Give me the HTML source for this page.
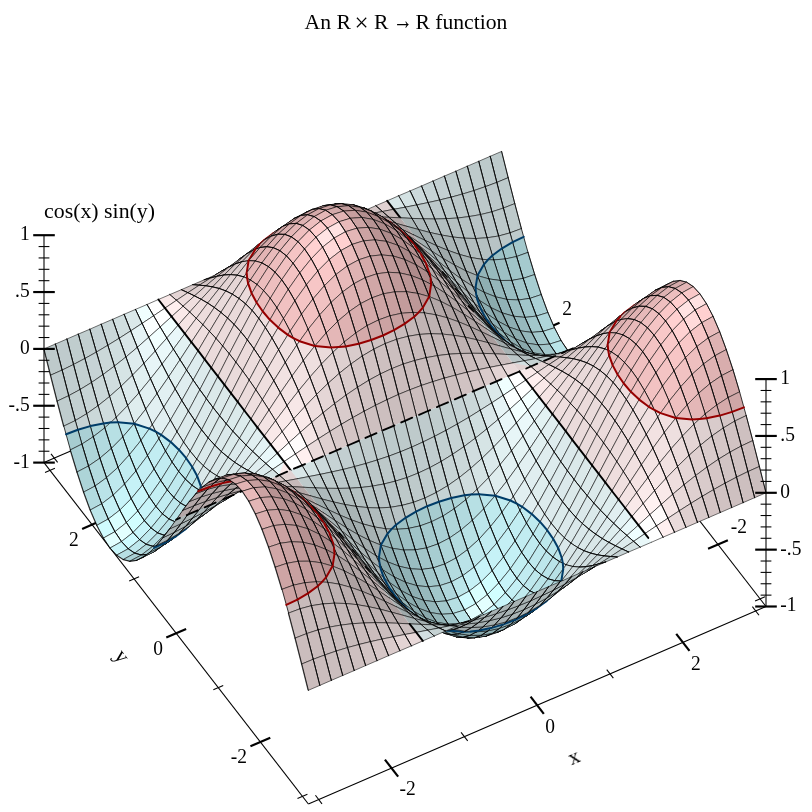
<!DOCTYPE html>
<html><head><meta charset="utf-8"><title>An R × R → R function</title>
<style>html,body{margin:0;padding:0;background:#fff}body{width:812px;height:812px;position:relative;overflow:hidden;font-family:"Liberation Serif",serif}
#surf path{stroke-width:0.55}#surf path.n{stroke:none}#surf path.b{stroke-width:0.78}
svg text{font-family:"Liberation Serif",serif;font-size:21.65px;fill:#000}</style></head><body>
<svg width="812" height="812" viewBox="0 0 812 812" style="position:absolute;left:0;top:0">
<g stroke-linecap="butt" opacity="0.999"><text x="304.6" y="28.7">An R </text><text x="354.6" y="31.2" style="font-size:25px">× </text><text x="374.0" y="28.7">R </text><text transform="translate(393.2,28.5) scale(0.75,1)" style="font-size:26px">→ </text><text x="415.4" y="28.7">R function</text>
<text transform="translate(44.0,217.6) scale(1.01,1)" text-anchor="start">cos(x) sin(y)</text>
<text transform="translate(574.6,758.6) rotate(-23.35)" text-anchor="middle" dy="5">x</text>
<text transform="translate(119.0,658.5) rotate(52.24)" text-anchor="middle" dy="3">y</text>
<line x1="308.40" y1="804.00" x2="766.00" y2="606.50" stroke="#000" stroke-width="1.08"/>
<line x1="308.40" y1="804.00" x2="44.00" y2="462.60" stroke="#000" stroke-width="1.08"/>
<line x1="766.00" y1="606.50" x2="501.60" y2="265.10" stroke="#000" stroke-width="1.08"/>
<line x1="44.00" y1="462.60" x2="501.60" y2="265.10" stroke="#000" stroke-width="1.08"/>
<line x1="322.02" y1="803.82" x2="315.41" y2="795.28" stroke="#000" stroke-width="1.08"/>
<line x1="57.62" y1="462.42" x2="51.01" y2="453.88" stroke="#000" stroke-width="1.08"/>
<line x1="398.15" y1="776.65" x2="384.93" y2="759.58" stroke="#000" stroke-width="2.17"/>
<line x1="133.75" y1="435.25" x2="120.53" y2="418.18" stroke="#000" stroke-width="2.17"/>
<text transform="translate(399.5,795.4) scale(0.9,1)" text-anchor="start">-2</text>
<text transform="translate(119.1,414.7) scale(0.9,1)" text-anchor="end">-2</text>
<line x1="467.68" y1="740.95" x2="461.06" y2="732.41" stroke="#000" stroke-width="1.08"/>
<line x1="203.28" y1="399.55" x2="196.66" y2="391.01" stroke="#000" stroke-width="1.08"/>
<line x1="543.81" y1="713.79" x2="530.59" y2="696.71" stroke="#000" stroke-width="2.17"/>
<line x1="279.41" y1="372.39" x2="266.19" y2="355.31" stroke="#000" stroke-width="2.17"/>
<text transform="translate(545.2,732.5) scale(0.9,1)" text-anchor="start">0</text>
<text transform="translate(264.8,351.9) scale(0.9,1)" text-anchor="end">0</text>
<line x1="613.34" y1="678.09" x2="606.72" y2="669.55" stroke="#000" stroke-width="1.08"/>
<line x1="348.94" y1="336.69" x2="342.32" y2="328.15" stroke="#000" stroke-width="1.08"/>
<line x1="689.47" y1="650.92" x2="676.25" y2="633.85" stroke="#000" stroke-width="2.17"/>
<line x1="425.07" y1="309.52" x2="411.85" y2="292.45" stroke="#000" stroke-width="2.17"/>
<text transform="translate(690.9,669.7) scale(0.9,1)" text-anchor="start">2</text>
<text transform="translate(410.5,289.0) scale(0.9,1)" text-anchor="end">2</text>
<line x1="758.99" y1="615.22" x2="752.38" y2="606.68" stroke="#000" stroke-width="1.08"/>
<line x1="494.59" y1="273.82" x2="487.98" y2="265.28" stroke="#000" stroke-width="1.08"/>
<line x1="297.48" y1="798.45" x2="307.40" y2="794.17" stroke="#000" stroke-width="1.08"/>
<line x1="755.08" y1="600.95" x2="765.00" y2="596.67" stroke="#000" stroke-width="1.08"/>
<line x1="250.45" y1="746.25" x2="270.28" y2="737.69" stroke="#000" stroke-width="2.17"/>
<line x1="708.05" y1="548.75" x2="727.88" y2="540.19" stroke="#000" stroke-width="2.17"/>
<text transform="translate(247.1,763.3) scale(0.9,1)" text-anchor="end">-2</text>
<text transform="translate(730.7,532.5) scale(0.9,1)" text-anchor="start">-2</text>
<line x1="213.32" y1="689.78" x2="223.24" y2="685.50" stroke="#000" stroke-width="1.08"/>
<line x1="670.92" y1="492.28" x2="680.84" y2="488.00" stroke="#000" stroke-width="1.08"/>
<line x1="166.28" y1="637.58" x2="186.12" y2="629.02" stroke="#000" stroke-width="2.17"/>
<line x1="623.88" y1="440.08" x2="643.72" y2="431.52" stroke="#000" stroke-width="2.17"/>
<text transform="translate(162.9,654.6) scale(0.9,1)" text-anchor="end">0</text>
<text transform="translate(646.5,423.8) scale(0.9,1)" text-anchor="start">0</text>
<line x1="129.16" y1="581.10" x2="139.08" y2="576.82" stroke="#000" stroke-width="1.08"/>
<line x1="586.76" y1="383.60" x2="596.68" y2="379.32" stroke="#000" stroke-width="1.08"/>
<line x1="82.12" y1="528.91" x2="101.95" y2="520.35" stroke="#000" stroke-width="2.17"/>
<line x1="539.72" y1="331.41" x2="559.55" y2="322.85" stroke="#000" stroke-width="2.17"/>
<text transform="translate(78.7,545.9) scale(0.9,1)" text-anchor="end">2</text>
<text transform="translate(562.3,315.1) scale(0.9,1)" text-anchor="start">2</text>
<line x1="45.00" y1="472.43" x2="54.92" y2="468.15" stroke="#000" stroke-width="1.08"/>
<line x1="502.60" y1="274.93" x2="512.52" y2="270.65" stroke="#000" stroke-width="1.08"/></g>
<g id="surf" stroke="#000" fill="none" stroke-linecap="round">
<path d="M496.8 182.4l11.4-4.7-6.6-26.3-11.4 4.9z" fill="#bdcacb"/>
<path class=b d="M508.2 177.7l-6.6-26.3M490.2 156.3l6.6 26.1"/>
<path d="M485.3 186.7l11.5-4.3-6.6-26.1-11.5 5z" fill="#bdcacb"/>
<path class=b d="M496.8 182.4l-6.6-26.1M478.7 161.3l6.6 25.4"/>
<path d="M503.4 208.1l11.4-4.5-6.6-25.9-11.4 4.7z" fill="#bdcacb"/>
<path class=b d="M514.8 203.6l-6.6-25.9M496.8 182.4l6.6 25.7"/>
<path d="M473.9 190.6l11.4-3.9-6.6-25.4-11.4 4.9z" fill="#becacb"/>
<path class=b d="M485.3 186.7l-6.6-25.4M467.3 166.2l6.6 24.4"/>
<path d="M491.9 211.8l11.5-3.7-6.6-25.7-11.5 4.3z" fill="#bcc8ca"/>
<path class=b d="M503.4 208.1l-6.6-25.7M485.3 186.7l6.6 25.1"/>
<path d="M462.4 194.1l11.5-3.5-6.6-24.4-11.5 5z" fill="#bfcbcc"/>
<path class=b d="M473.9 190.6l-6.6-24.4M455.8 171.2l6.6 22.9"/>
<path d="M510 232.9l11.4-4.3-6.6-25-11.4 4.5z" fill="#becacb"/>
<path class=b d="M521.4 228.6l-6.6-25M503.4 208.1l6.6 24.8"/>
<path d="M480.5 214.6l11.4-2.8-6.6-25.1-11.4 3.9z" fill="#bcc8c9"/>
<path class=b d="M491.9 211.8l-6.6-25.1M473.9 190.6l6.6 24"/>
<path d="M451 197.2l11.4-3.1-6.6-22.9-11.4 4.9z" fill="#c0cdce"/>
<path class=b d="M462.4 194.1l-6.6-22.9M444.4 176.1l6.6 21.1"/>
<path d="M498.6 236l11.4-3.1-6.6-24.8-11.5 3.7z" fill="#bcc8c9"/>
<path class=b d="M510 232.9l-6.6-24.8M491.9 211.8l6.7 24.2"/>
<path d="M469.1 216.6l11.4-2-6.6-24-11.5 3.5z" fill="#bbc7c8"/>
<path class=b d="M480.5 214.6l-6.6-24M462.4 194.1l6.7 22.5"/>
<path d="M439.6 200l11.4-2.8-6.6-21.1-11.4 4.9z" fill="#c3cfd1"/>
<path class=b d="M451 197.2l-6.6-21.1M433 181l6.6 19"/>
<path class=n d="M516.6 256.5l11.4-4.1-4.3-15.6-11.1 5.3z" fill="#a3c8cc"/>
<path class=n d="M523.7 236.8l-2.3-8.2-11.4 4.3 2.6 9.2z" fill="#bfcbcc"/>
<path d="M516.6 256.5l11.4-4.1M521.4 228.6l-11.4 4.3"/>
<path class=b d="M528 252.4l-6.6-23.8M510 232.9l6.6 23.6"/>
<line x1="523.7" y1="236.8" x2="512.6" y2="242.1" stroke="#003c68" stroke-width="2.0" stroke-linecap="round"/>
<path d="M487.1 237.8l11.5-1.8-6.7-24.2-11.4 2.8z" fill="#b9c5c7"/>
<path class=b d="M498.6 236l-6.7-24.2M480.5 214.6l6.6 23.2"/>
<path d="M457.6 218l11.5-1.4-6.7-22.5-11.4 3.1z" fill="#bbc7c8"/>
<path class=b d="M469.1 216.6l-6.7-22.5M451 197.2l6.6 20.8"/>
<path d="M428.1 202.6l11.5-2.6-6.6-19-11.5 5z" fill="#c6d3d5"/>
<path class=b d="M439.6 200l-6.6-19M421.5 186l6.6 16.6"/>
<path class=n d="M505.2 259l11.4-2.5-4-14.4-10.5 6.2z" fill="#a0c5c8"/>
<path class=n d="M512.6 242.1l-2.6-9.2-11.4 3.1 3.5 12.3z" fill="#bbc7c8"/>
<path d="M505.2 259l11.4-2.5M510 232.9l-11.4 3.1"/>
<path class=b d="M516.6 256.5l-6.6-23.6M498.6 236l6.6 23"/>
<line x1="512.6" y1="242.1" x2="502.1" y2="248.3" stroke="#003c68" stroke-width="2.0" stroke-linecap="round"/>
<path d="M475.7 238.5l11.4-.7-6.6-23.2-11.4 2z" fill="#b8c3c5"/>
<path class=b d="M487.1 237.8l-6.6-23.2M469.1 216.6l6.6 21.9"/>
<path d="M446.2 218.7l11.4-.7-6.6-20.8-11.4 2.8z" fill="#bbc8c9"/>
<path class=b d="M457.6 218l-6.6-20.8M439.6 200l6.6 18.7"/>
<path d="M523.2 278.4l11.5-3.9-6.7-22.1-11.4 4.1z" fill="#a5cace"/>
<path class=b d="M534.7 274.5l-6.7-22.1M516.6 256.5l6.6 21.9"/>
<path d="M416.7 204.9l11.4-2.3-6.6-16.6-11.4 4.9z" fill="#ccd9db"/>
<path class=b d="M428.1 202.6l-6.6-16.6M410.1 190.9l6.6 14"/>
<path class=n d="M493.7 259.9l11.5-.9-3.1-10.7-9.7 7.2z" fill="#9dc1c5"/>
<path class=n d="M502.1 248.3l-3.5-12.3-11.5 1.8 5.3 17.7z" fill="#b8c3c5"/>
<path d="M493.7 259.9l11.5-.9M498.6 236l-11.5 1.8"/>
<path class=b d="M505.2 259l-6.6-23M487.1 237.8l6.6 22.1"/>
<line x1="502.1" y1="248.3" x2="492.4" y2="255.5" stroke="#003c68" stroke-width="2.0" stroke-linecap="round"/>
<path d="M464.2 238.2l11.5 .3-6.6-21.9-11.5 1.4z" fill="#b6c2c3"/>
<path class=b d="M475.7 238.5l-6.6-21.9M457.6 218l6.6 20.2"/>
<path d="M434.7 219l11.5-.3-6.6-18.7-11.5 2.6z" fill="#bcc8ca"/>
<path class=b d="M446.2 218.7l-6.6-18.7M428.1 202.6l6.6 16.4"/>
<path d="M511.8 280.4l11.4-2-6.6-21.9-11.4 2.5z" fill="#a0c4c8"/>
<path class=b d="M523.2 278.4l-6.6-21.9M505.2 259l6.6 21.4"/>
<path d="M405.2 207.2l11.5-2.3-6.6-14-11.5 4.9z" fill="#d4e2e3"/>
<path class=b d="M416.7 204.9l-6.6-14M398.6 195.8l6.6 11.4"/>
<path class=n d="M488.1 259.6l5.6 .3-1.3-4.4z" fill="#9abdc1"/>
<path class=n d="M482.3 259.4l5.8 .2 4.3-4.1-5.3-17.7-11.4 .7z" fill="#b4c0c1"/>
<path d="M482.3 259.4l11.4 .5M487.1 237.8l-11.4 .7"/>
<path class=b d="M493.7 259.9l-6.6-22.1M475.7 238.5l6.6 20.9"/>
<line x1="488.1" y1="259.6" x2="492.4" y2="255.5" stroke="#003c68" stroke-width="2.0" stroke-linecap="round"/>
<path d="M452.8 237l11.4 1.2-6.6-20.2-11.4 .7z" fill="#b4c0c1"/>
<path class=b d="M464.2 238.2l-6.6-20.2M446.2 218.7l6.6 18.3"/>
<path d="M529.8 298.4l11.5-3.8-6.6-20.1-11.5 3.9z" fill="#a7cdd1"/>
<path class=b d="M541.3 294.6l-6.6-20.1M523.2 278.4l6.6 20"/>
<path d="M423.3 218.8l11.4 .2-6.6-16.4-11.4 2.3z" fill="#becacb"/>
<path class=b d="M434.7 219l-6.6-16.4M416.7 204.9l6.6 13.9"/>
<path d="M500.3 280.5l11.5-.1-6.6-21.4-11.5 .9z" fill="#9cbfc3"/>
<path class=b d="M511.8 280.4l-6.6-21.4M493.7 259.9l6.6 20.6"/>
<path class=n d="M393.8 209.3l11.4-2.1-6.6-11.4-11.4 5z" fill="#d9e7e8"/>
<path class=n d="M393.8 209.3l0 0-6.6-8.5 0 0z" fill="#e8d9d9"/>
<path d="M393.8 209.3l11.4-2.1M398.6 195.8l-11.4 5"/>
<path class=b d="M405.2 207.2l-6.6-11.4"/>
<path d="M470.8 257.5l11.5 1.9-6.6-20.9-11.5-.3z" fill="#b1bcbd"/>
<path class=b d="M482.3 259.4l-6.6-20.9M464.2 238.2l6.6 19.3"/>
<path d="M441.4 235l11.4 2-6.6-18.3-11.5 .3z" fill="#b2bebf"/>
<path class=b d="M452.8 237l-6.6-18.3M434.7 219l6.7 16"/>
<path d="M518.4 300l11.4-1.6-6.6-20-11.4 2z" fill="#a1c5c9"/>
<path class=b d="M529.8 298.4l-6.6-20M511.8 280.4l6.6 19.6"/>
<path d="M411.9 218.4l11.4 .4-6.6-13.9-11.5 2.3z" fill="#bfcbcc"/>
<path class=b d="M423.3 218.8l-6.6-13.9M405.2 207.2l6.7 11.2"/>
<path class=n d="M488.9 278.9l11.4 1.6-6.6-20.6-5.6-.3-4.1 4.7z" fill="#98babd"/>
<path class=n d="M488.1 259.6l-5.8-.2 1.7 4.9z" fill="#b1bcbd"/>
<path d="M488.9 278.9l11.4 1.6M493.7 259.9l-11.4-.5"/>
<path class=b d="M500.3 280.5l-6.6-20.6M482.3 259.4l6.6 19.5"/>
<line x1="488.1" y1="259.6" x2="484.0" y2="264.3" stroke="#003c68" stroke-width="2.0" stroke-linecap="round"/>
<path class=n d="M382.4 211.5l11.4-2.2-6.6-8.5-11.4 4.9z" fill="#e1d2d2"/>
<path d="M382.4 211.5l11.4-2.2M387.2 200.8l-11.4 4.9"/>
<path class=b d="M375.8 205.7l6.6 5.8"/>
<path d="M459.4 254.4l11.4 3.1-6.6-19.3-11.4-1.2z" fill="#adb8ba"/>
<path class=b d="M470.8 257.5l-6.6-19.3M452.8 237l6.6 17.4"/>
<path d="M536.4 316.1l11.5-3.6-6.6-17.9-11.5 3.8z" fill="#aad0d5"/>
<path class=b d="M547.9 312.5l-6.6-17.9M529.8 298.4l6.6 17.7"/>
<path d="M429.9 232.5l11.5 2.5-6.7-16-11.4-.2z" fill="#b1bcbd"/>
<path class=b d="M441.4 235l-6.7-16M423.3 218.8l6.6 13.7"/>
<path d="M506.9 299.4l11.5 .6-6.6-19.6-11.5 .1z" fill="#9abdc1"/>
<path class=b d="M518.4 300l-6.6-19.6M500.3 280.5l6.6 18.9"/>
<path class=n d="M400.4 217.8l11.5 .6-6.7-11.2-11.4 2.1z" fill="#becacb"/>
<path class=n d="M400.4 217.8l0 0-6.6-8.5 0 0z" fill="#cbbebe"/>
<path d="M400.4 217.8l11.5 .6M405.2 207.2l-11.4 2.1"/>
<path class=b d="M411.9 218.4l-6.7-11.2"/>
<path class=n d="M477.4 275.6l11.5 3.3-4.9-14.6-6.6 11.3z" fill="#93b4b8"/>
<path class=n d="M477.4 275.6l0 0 6.6-11.3-1.7-4.9-11.5-1.9z" fill="#acb7b8"/>
<path d="M477.4 275.6l11.5 3.3M482.3 259.4l-11.5-1.9"/>
<path class=b d="M488.9 278.9l-6.6-19.5M470.8 257.5l6.6 18.1"/>
<line x1="477.5" y1="275.6" x2="484.0" y2="264.3" stroke="#003c68" stroke-width="2.0" stroke-linecap="round"/>
<line x1="393.8" y1="209.3" x2="387.2" y2="200.8" stroke="#000" stroke-width="1.9"/>
<path d="M370.9 213.7l11.5-2.2-6.6-5.8-11.5 5z" fill="#d3c5c5"/>
<path class=b d="M382.4 211.5l-6.6-5.8M364.3 210.7l6.6 3"/>
<path d="M448 250.4l11.4 4-6.6-17.4-11.4-2z" fill="#aab5b6"/>
<path class=b d="M459.4 254.4l-6.6-17.4M441.4 235l6.6 15.4"/>
<path d="M525 317.4l11.4-1.3-6.6-17.7-11.4 1.6z" fill="#a1c6ca"/>
<path class=b d="M536.4 316.1l-6.6-17.7M518.4 300l6.6 17.4"/>
<path d="M418.5 229.5l11.4 3-6.6-13.7-11.4-.4z" fill="#aeb9bb"/>
<path class=b d="M429.9 232.5l-6.6-13.7M411.9 218.4l6.6 11.1"/>
<path d="M495.5 296.8l11.4 2.6-6.6-18.9-11.4-1.6z" fill="#95b6ba"/>
<path class=b d="M506.9 299.4l-6.6-18.9M488.9 278.9l6.6 17.9"/>
<path class=n d="M389 217.3l11.4 .5-6.6-8.5-11.4 2.2z" fill="#c7baba"/>
<path d="M389 217.3l11.4 .5M393.8 209.3l-11.4 2.2"/>
<path class=b d="M382.4 211.5l6.6 5.8"/>
<path d="M466 271l11.4 4.6-6.6-18.1-11.4-3.1z" fill="#a7b2b3"/>
<path class=b d="M477.4 275.6l-6.6-18.1M459.4 254.4l6.6 16.6"/>
<path d="M359.5 216l11.4-2.3-6.6-3-11.4 4.9z" fill="#c8bbbb"/>
<path class=b d="M370.9 213.7l-6.6-3M352.9 215.6l6.6 .4"/>
<path d="M543 331.4l11.5-3.6-6.6-15.3-11.5 3.6z" fill="#afd6db"/>
<path class=b d="M554.5 327.8l-6.6-15.3M536.4 316.1l6.6 15.3"/>
<path d="M436.5 245.7l11.5 4.7-6.6-15.4-11.5-2.5z" fill="#a6b1b2"/>
<path class=b d="M448 250.4l-6.6-15.4M429.9 232.5l6.6 13.2"/>
<path d="M513.6 316.2l11.4 1.2-6.6-17.4-11.5-.6z" fill="#99bbbf"/>
<path class=b d="M525 317.4l-6.6-17.4M506.9 299.4l6.7 16.8"/>
<path class=n d="M407 226.4l11.5 3.1-6.6-11.1-11.5-.6z" fill="#abb6b7"/>
<path class=n d="M407 226.4l0 0-6.6-8.6 0 0z" fill="#b7abab"/>
<path d="M407 226.4l11.5 3.1M411.9 218.4l-11.5-.6"/>
<path class=b d="M418.5 229.5l-6.6-11.1"/>
<path d="M484.1 292.3l11.4 4.5-6.6-17.9-11.5-3.3z" fill="#8fafb3"/>
<path class=b d="M495.5 296.8l-6.6-17.9M477.4 275.6l6.7 16.7"/>
<line x1="477.5" y1="275.6" x2="477.5" y2="275.6" stroke="#003c68" stroke-width="2.0" stroke-linecap="round"/>
<line x1="400.4" y1="217.8" x2="393.8" y2="209.3" stroke="#000" stroke-width="1.9"/>
<path d="M377.5 216.9l11.5 .4-6.6-5.8-11.5 2.2z" fill="#c0b3b3"/>
<path class=b d="M389 217.3l-6.6-5.8M370.9 213.7l6.6 3.2"/>
<path d="M454.6 265.1l11.4 5.9-6.6-16.6-11.4-4z" fill="#a2adae"/>
<path class=b d="M466 271l-6.6-16.6M448 250.4l6.6 14.7"/>
<path d="M348 218.6l11.5-2.6-6.6-.4-11.5 4.9z" fill="#c0b3b3"/>
<path class=b d="M359.5 216l-6.6-.4M341.4 220.5l6.6-1.9"/>
<path d="M531.6 332.4l11.4-1-6.6-15.3-11.4 1.3z" fill="#a2c7cb"/>
<path class=b d="M543 331.4l-6.6-15.3M525 317.4l6.6 15"/>
<path d="M425.1 240.4l11.4 5.3-6.6-13.2-11.4-3z" fill="#a3adae"/>
<path class=b d="M436.5 245.7l-6.6-13.2M418.5 229.5l6.6 10.9"/>
<path d="M502.1 312.9l11.5 3.3-6.7-16.8-11.4-2.6z" fill="#91b2b6"/>
<path class=b d="M513.6 316.2l-6.7-16.8M495.5 296.8l6.6 16.1"/>
<path class=n d="M395.6 223.2l11.4 3.2-6.6-8.6-11.4-.5z" fill="#b4a8a8"/>
<path d="M395.6 223.2l11.4 3.2M400.4 217.8l-11.4-.5"/>
<path class=b d="M389 217.3l6.6 5.9"/>
<path class=n d="M475.5 287.8l8.6 4.5-6.7-16.7 0 0z" fill="#8aa9ad"/>
<path class=n d="M472.6 286.3l2.9 1.5 1.9-12.2 0 0-11.4-4.6z" fill="#a1acad"/>
<path d="M472.6 286.3l11.5 6M477.4 275.6l-11.4-4.6"/>
<path class=b d="M484.1 292.3l-6.7-16.7M466 271l6.6 15.3"/>
<line x1="475.5" y1="287.8" x2="477.5" y2="275.6" stroke="#003c68" stroke-width="2.0" stroke-linecap="round"/>
<path d="M366.1 216.7l11.4 .2-6.6-3.2-11.4 2.3z" fill="#bbaeae"/>
<path class=b d="M377.5 216.9l-6.6-3.2M359.5 216l6.6 .7"/>
<path d="M549.6 344.1l11.5-3.6-6.6-12.7-11.5 3.6z" fill="#b6dfe3"/>
<path class=b d="M561.1 340.5l-6.6-12.7M543 331.4l6.6 12.7"/>
<path d="M443.1 258.4l11.5 6.7-6.6-14.7-11.5-4.7z" fill="#9fa9aa"/>
<path class=b d="M454.6 265.1l-6.6-14.7M436.5 245.7l6.6 12.7"/>
<path d="M336.6 221.4l11.4-2.8-6.6 1.9-11.4 5z" fill="#bbafaf"/>
<path class=b d="M348 218.6l-6.6 1.9M330 225.5l6.6-4.1"/>
<path d="M520.2 330.8l11.4 1.6-6.6-15-11.4-1.2z" fill="#97b9bd"/>
<path class=b d="M531.6 332.4l-6.6-15M513.6 316.2l6.6 14.6"/>
<path class=n d="M413.6 234.9l11.5 5.5-6.6-10.9-11.5-3.1z" fill="#9faaab"/>
<path class=n d="M413.6 234.9l0 0-6.6-8.5 0 0z" fill="#ab9f9f"/>
<path d="M413.6 234.9l11.5 5.5M418.5 229.5l-11.5-3.1"/>
<path class=b d="M425.1 240.4l-6.6-10.9"/>
<path d="M490.7 307.5l11.4 5.4-6.6-16.1-11.4-4.5z" fill="#8babae"/>
<path class=b d="M502.1 312.9l-6.6-16.1M484.1 292.3l6.6 15.2"/>
<path d="M384.2 220.3l11.4 2.9-6.6-5.9-11.5-.4z" fill="#b1a5a5"/>
<path class=b d="M395.6 223.2l-6.6-5.9M377.5 216.9l6.7 3.4"/>
<path d="M461.2 278.9l11.4 7.4-6.6-15.3-11.4-5.9z" fill="#a1abac"/>
<path class=b d="M472.6 286.3l-6.6-15.3M454.6 265.1l6.6 13.8"/>
<path d="M354.7 216.9l11.4-.2-6.6-.7-11.5 2.6z" fill="#b7aaaa"/>
<path class=b d="M366.1 216.7l-6.6-.7M348 218.6l6.7-1.7"/>
<path d="M538.2 344.9l11.4-.8-6.6-12.7-11.4 1z" fill="#a3c8cc"/>
<path class=b d="M549.6 344.1l-6.6-12.7M531.6 332.4l6.6 12.5"/>
<path d="M431.7 251.1l11.4 7.3-6.6-12.7-11.4-5.3z" fill="#a3adae"/>
<path class=b d="M443.1 258.4l-6.6-12.7M425.1 240.4l6.6 10.7"/>
<path d="M325.2 224.5l11.4-3.1-6.6 4.1-11.4 4.9z" fill="#b8acac"/>
<path class=b d="M336.6 221.4l-6.6 4.1M318.6 230.4l6.6-5.9"/>
<path d="M508.7 326.9l11.5 3.9-6.6-14.6-11.5-3.3z" fill="#8eaeb2"/>
<path class=b d="M520.2 330.8l-6.6-14.6M502.1 312.9l6.6 14"/>
<path class=n d="M402.2 229.4l11.4 5.5-6.6-8.5-11.4-3.2z" fill="#aca0a0"/>
<path d="M402.2 229.4l11.4 5.5M407 226.4l-11.4-3.2"/>
<path class=b d="M395.6 223.2l6.6 6.2"/>
<path class=n d="M479.2 300.3l11.5 7.2-6.6-15.2-8.6-4.5 .5 5.6z" fill="#8aa9ac"/>
<path class=n d="M475.5 287.8l-2.9-1.5 3.4 7.1z" fill="#a1abac"/>
<path d="M479.2 300.3l11.5 7.2M484.1 292.3l-11.5-6"/>
<path class=b d="M490.7 307.5l-6.6-15.2M472.6 286.3l6.6 14"/>
<line x1="475.5" y1="287.8" x2="476.0" y2="293.4" stroke="#003c68" stroke-width="2.0" stroke-linecap="round"/>
<path d="M372.7 217.8l11.5 2.5-6.7-3.4-11.4-.2z" fill="#afa3a3"/>
<path class=b d="M384.2 220.3l-6.7-3.4M366.1 216.7l6.6 1.1"/>
<path d="M556.3 354l11.4-3.5-6.6-10-11.5 3.6z" fill="#bae4e8"/>
<path class=b d="M567.7 350.5l-6.6-10M549.6 344.1l6.7 9.9"/>
<path d="M449.7 270.5l11.5 8.4-6.6-13.8-11.5-6.7z" fill="#a5afb1"/>
<path class=b d="M461.2 278.9l-6.6-13.8M443.1 258.4l6.6 12.1"/>
<path d="M343.2 217.7l11.5-.8-6.7 1.7-11.4 2.8z" fill="#b4a8a8"/>
<path class=b d="M354.7 216.9l-6.7 1.7M336.6 221.4l6.6-3.7"/>
<path d="M526.8 343.1l11.4 1.8-6.6-12.5-11.4-1.6z" fill="#95b7bb"/>
<path class=b d="M538.2 344.9l-6.6-12.5M520.2 330.8l6.6 12.3"/>
<path class=n d="M420.3 243.5l11.4 7.6-6.6-10.7-11.5-5.5z" fill="#a5b0b1"/>
<path class=n d="M420.3 243.5l0 0-6.7-8.6 0 0z" fill="#b1a5a5"/>
<path d="M420.3 243.5l11.4 7.6M425.1 240.4l-11.5-5.5"/>
<path class=b d="M431.7 251.1l-6.6-10.7"/>
<path d="M313.7 228l11.5-3.5-6.6 5.9-11.5 4.9z" fill="#b6aaaa"/>
<path class=b d="M325.2 224.5l-6.6 5.9M307.1 235.3l6.6-7.3"/>
<path d="M497.3 320.8l11.4 6.1-6.6-14-11.4-5.4z" fill="#88a7aa"/>
<path class=b d="M508.7 326.9l-6.6-14M490.7 307.5l6.6 13.3"/>
<path d="M390.8 224.1l11.4 5.3-6.6-6.2-11.4-2.9z" fill="#ada2a2"/>
<path class=b d="M402.2 229.4l-6.6-6.2M384.2 220.3l6.6 3.8"/>
<path class=n d="M477 298.6l2.2 1.7-3.2-6.9z" fill="#8eaeb1"/>
<path class=n d="M467.8 291.7l9.2 6.9-1-5.2-3.4-7.1-11.4-7.4z" fill="#a6b0b1"/>
<path d="M467.8 291.7l11.4 8.6M472.6 286.3l-11.4-7.4"/>
<path class=b d="M479.2 300.3l-6.6-14M461.2 278.9l6.6 12.8"/>
<line x1="477.0" y1="298.6" x2="476.0" y2="293.4" stroke="#003c68" stroke-width="2.0" stroke-linecap="round"/>
<path d="M361.3 215.8l11.4 2-6.6-1.1-11.4 .2z" fill="#aea2a2"/>
<path class=b d="M372.7 217.8l-6.6-1.1M354.7 216.9l6.6-1.1"/>
<path d="M544.8 354.8l11.5-.8-6.7-9.9-11.4 .8z" fill="#a3c7cb"/>
<path class=b d="M556.3 354l-6.7-9.9M538.2 344.9l6.6 9.9"/>
<path d="M438.3 261.4l11.4 9.1-6.6-12.1-11.4-7.3z" fill="#a8b3b4"/>
<path class=b d="M449.7 270.5l-6.6-12.1M431.7 251.1l6.6 10.3"/>
<path d="M331.8 219l11.4-1.3-6.6 3.7-11.4 3.1z" fill="#b3a7a7"/>
<path class=b d="M343.2 217.7l-6.6 3.7M325.2 224.5l6.6-5.5"/>
<path d="M515.3 338.8l11.5 4.3-6.6-12.3-11.5-3.9z" fill="#8babae"/>
<path class=b d="M526.8 343.1l-6.6-12.3M508.7 326.9l6.6 11.9"/>
<path class=n d="M408.8 235.8l11.5 7.7-6.7-8.6-11.4-5.5z" fill="#b3a7a7"/>
<path d="M408.8 235.8l11.5 7.7M413.6 234.9l-11.4-5.5"/>
<path class=b d="M402.2 229.4l6.6 6.4"/>
<path d="M302.3 231.9l11.4-3.9-6.6 7.3-11.4 5z" fill="#b5a9a9"/>
<path class=b d="M313.7 228l-6.6 7.3M295.7 240.3l6.6-8.4"/>
<path d="M485.8 312.9l11.5 7.9-6.6-13.3-11.5-7.2z" fill="#8dadb1"/>
<path class=b d="M497.3 320.8l-6.6-13.3M479.2 300.3l6.6 12.6"/>
<path d="M379.3 219.4l11.5 4.7-6.6-3.8-11.5-2.5z" fill="#aea2a2"/>
<path class=b d="M390.8 224.1l-6.6-3.8M372.7 217.8l6.6 1.6"/>
<path d="M562.9 361.1l11.4-3.5-6.6-7.1-11.4 3.5z" fill="#b4dce1"/>
<path class=b d="M574.3 357.6l-6.6-7.1M556.3 354l6.6 7.1"/>
<path d="M456.4 282l11.4 9.7-6.6-12.8-11.5-8.4z" fill="#a9b4b5"/>
<path class=b d="M467.8 291.7l-6.6-12.8M449.7 270.5l6.7 11.5"/>
<path d="M349.8 214.6l11.5 1.2-6.6 1.1-11.5 .8z" fill="#aea2a2"/>
<path class=b d="M361.3 215.8l-6.6 1.1M343.2 217.7l6.6-3.1"/>
<path d="M533.4 352.9l11.4 1.9-6.6-9.9-11.4-1.8z" fill="#93b4b7"/>
<path class=b d="M544.8 354.8l-6.6-9.9M526.8 343.1l6.6 9.8"/>
<path class=n d="M426.9 252l11.4 9.4-6.6-10.3-11.4-7.6z" fill="#aab5b6"/>
<path class=n d="M426.9 252l0 0-6.6-8.5 0 0z" fill="#b6aaaa"/>
<path d="M426.9 252l11.4 9.4M431.7 251.1l-11.4-7.6"/>
<path class=b d="M438.3 261.4l-6.6-10.3"/>
<path d="M320.3 221.1l11.5-2.1-6.6 5.5-11.5 3.5z" fill="#b2a7a7"/>
<path class=b d="M331.8 219l-6.6 5.5M313.7 228l6.6-6.9"/>
<path d="M503.9 332.3l11.4 6.5-6.6-11.9-11.4-6.1z" fill="#8babae"/>
<path class=b d="M515.3 338.8l-6.6-11.9M497.3 320.8l6.6 11.5"/>
<path d="M397.4 228.5l11.4 7.3-6.6-6.4-11.4-5.3z" fill="#b4a8a8"/>
<path class=b d="M408.8 235.8l-6.6-6.4M390.8 224.1l6.6 4.4"/>
<path d="M290.8 236.2l11.5-4.3-6.6 8.4-11.5 4.9z" fill="#b4a8a8"/>
<path class=b d="M302.3 231.9l-6.6 8.4M284.2 245.2l6.6-9"/>
<path class=n d="M480.5 308.4l5.3 4.5-6.6-12.6-2.2-1.7z" fill="#91b2b5"/>
<path class=n d="M474.4 303.3l6.1 5.1-3.5-9.8-9.2-6.9z" fill="#a9b4b5"/>
<path d="M474.4 303.3l11.4 9.6M479.2 300.3l-11.4-8.6"/>
<path class=b d="M485.8 312.9l-6.6-12.6M467.8 291.7l6.6 11.6"/>
<line x1="480.5" y1="308.4" x2="477.0" y2="298.6" stroke="#003c68" stroke-width="2.0" stroke-linecap="round"/>
<path d="M367.9 215.4l11.4 4-6.6-1.6-11.4-2z" fill="#ada2a2"/>
<path class=b d="M379.3 219.4l-6.6-1.6M361.3 215.8l6.6-.4"/>
<path d="M551.4 362l11.5-.9-6.6-7.1-11.5 .8z" fill="#9fc3c7"/>
<path class=b d="M562.9 361.1l-6.6-7.1M544.8 354.8l6.6 7.2"/>
<path d="M444.9 271.4l11.5 10.6-6.7-11.5-11.4-9.1z" fill="#acb7b8"/>
<path class=b d="M456.4 282l-6.7-11.5M438.3 261.4l6.6 10"/>
<path d="M338.4 214.2l11.4 .4-6.6 3.1-11.4 1.3z" fill="#aea3a3"/>
<path class=b d="M349.8 214.6l-6.6 3.1M331.8 219l6.6-4.8"/>
<path d="M521.9 348.5l11.5 4.4-6.6-9.8-11.5-4.3z" fill="#89a8ab"/>
<path class=b d="M533.4 352.9l-6.6-9.8M515.3 338.8l6.6 9.7"/>
<path class=n d="M415.4 242.5l11.5 9.5-6.6-8.5-11.5-7.7z" fill="#b8acac"/>
<path d="M415.4 242.5l11.5 9.5M420.3 243.5l-11.5-7.7"/>
<path class=b d="M408.8 235.8l6.6 6.7"/>
<path d="M308.9 223.9l11.4-2.8-6.6 6.9-11.4 3.9z" fill="#b3a7a7"/>
<path class=b d="M320.3 221.1l-6.6 6.9M302.3 231.9l6.6-8"/>
<path d="M492.4 323.8l11.5 8.5-6.6-11.5-11.5-7.9z" fill="#90b0b4"/>
<path class=b d="M503.9 332.3l-6.6-11.5M485.8 312.9l6.6 10.9"/>
<path d="M385.9 221.8l11.5 6.7-6.6-4.4-11.5-4.7z" fill="#b4a8a8"/>
<path class=b d="M397.4 228.5l-6.6-4.4M379.3 219.4l6.6 2.4"/>
<path d="M279.4 240.9l11.4-4.7-6.6 9-11.4 5z" fill="#b4a8a8"/>
<path class=b d="M290.8 236.2l-6.6 9M272.8 250.2l6.6-9.3"/>
<path d="M569.5 365.6l11.4-3.6-6.6-4.4-11.4 3.5z" fill="#a9cfd3"/>
<path class=b d="M580.9 362l-6.6-4.4M562.9 361.1l6.6 4.5"/>
<path d="M463 292.6l11.4 10.7-6.6-11.6-11.4-9.7z" fill="#acb7b8"/>
<path class=b d="M474.4 303.3l-6.6-11.6M456.4 282l6.6 10.6"/>
<path d="M356.4 212.3l11.5 3.1-6.6 .4-11.5-1.2z" fill="#aca0a0"/>
<path class=b d="M367.9 215.4l-6.6 .4M349.8 214.6l6.6-2.3"/>
<path d="M540 360.2l11.4 1.8-6.6-7.2-11.4-1.9z" fill="#90b1b4"/>
<path class=b d="M551.4 362l-6.6-7.2M533.4 352.9l6.6 7.3"/>
<path class=n d="M433.5 260.5l11.4 10.9-6.6-10-11.4-9.4z" fill="#adb9ba"/>
<path class=n d="M433.5 260.5l0 0-6.6-8.5 0 0z" fill="#baadad"/>
<path d="M433.5 260.5l11.4 10.9M438.3 261.4l-11.4-9.4"/>
<path class=b d="M444.9 271.4l-6.6-10"/>
<path d="M327 214.9l11.4-.7-6.6 4.8-11.5 2.1z" fill="#afa4a4"/>
<path class=b d="M338.4 214.2l-6.6 4.8M320.3 221.1l6.7-6.2"/>
<path d="M510.5 341.8l11.4 6.7-6.6-9.7-11.4-6.5z" fill="#8eaeb1"/>
<path class=b d="M521.9 348.5l-6.6-9.7M503.9 332.3l6.6 9.5"/>
<path d="M404 233.4l11.4 9.1-6.6-6.7-11.4-7.3z" fill="#b8acac"/>
<path class=b d="M415.4 242.5l-6.6-6.7M397.4 228.5l6.6 4.9"/>
<path d="M297.5 227.6l11.4-3.7-6.6 8-11.5 4.3z" fill="#b3a7a7"/>
<path class=b d="M308.9 223.9l-6.6 8M290.8 236.2l6.7-8.6"/>
<path class=n d="M485.5 317.7l6.9 6.1-6.6-10.9-5.3-4.5z" fill="#93b4b8"/>
<path class=n d="M481 313.8l4.5 3.9-5-9.3-6.1-5.1z" fill="#acb7b8"/>
<path d="M481 313.8l11.4 10M485.8 312.9l-11.4-9.6"/>
<path class=b d="M492.4 323.8l-6.6-10.9M474.4 303.3l6.6 10.5"/>
<line x1="485.5" y1="317.7" x2="480.5" y2="308.4" stroke="#003c68" stroke-width="2.0" stroke-linecap="round"/>
<path d="M374.5 215.9l11.4 5.9-6.6-2.4-11.4-4z" fill="#b3a7a7"/>
<path class=b d="M385.9 221.8l-6.6-2.4M367.9 215.4l6.6 .5"/>
<path d="M268 246.1l11.4-5.2-6.6 9.3-11.4 4.9z" fill="#b5a9a9"/>
<path class=b d="M279.4 240.9l-6.6 9.3M261.4 255.1l6.6-9"/>
<path d="M558 366.5l11.5-.9-6.6-4.5-11.5 .9z" fill="#9abcc0"/>
<path class=b d="M569.5 365.6l-6.6-4.5M551.4 362l6.6 4.5"/>
<path d="M451.5 281l11.5 11.6-6.6-10.6-11.5-10.6z" fill="#aeb9bb"/>
<path class=b d="M463 292.6l-6.6-10.6M444.9 271.4l6.6 9.6"/>
<path d="M345 210.5l11.4 1.8-6.6 2.3-11.4-.4z" fill="#aa9f9f"/>
<path class=b d="M356.4 212.3l-6.6 2.3M338.4 214.2l6.6-3.7"/>
<path d="M528.6 355.9l11.4 4.3-6.6-7.3-11.5-4.4z" fill="#89a8ac"/>
<path class=b d="M540 360.2l-6.6-7.3M521.9 348.5l6.7 7.4"/>
<path class=n d="M422 249.6l11.5 10.9-6.6-8.5-11.5-9.5z" fill="#bbaeae"/>
<path d="M422 249.6l11.5 10.9M426.9 252l-11.5-9.5"/>
<path class=b d="M415.4 242.5l6.6 7.1"/>
<path d="M315.5 216.8l11.5-1.9-6.7 6.2-11.4 2.8z" fill="#b1a5a5"/>
<path class=b d="M327 214.9l-6.7 6.2M308.9 223.9l6.6-7.1"/>
<path d="M499.1 333.2l11.4 8.6-6.6-9.5-11.5-8.5z" fill="#92b3b6"/>
<path class=b d="M510.5 341.8l-6.6-9.5M492.4 323.8l6.7 9.4"/>
<path d="M392.5 225l11.5 8.4-6.6-4.9-11.5-6.7z" fill="#b8acac"/>
<path class=b d="M404 233.4l-6.6-4.9M385.9 221.8l6.6 3.2"/>
<path d="M286 232.1l11.5-4.5-6.7 8.6-11.4 4.7z" fill="#b4a8a8"/>
<path class=b d="M297.5 227.6l-6.7 8.6M279.4 240.9l6.6-8.8"/>
<path d="M576.1 367.4l11.4-3.7-6.6-1.7-11.4 3.6z" fill="#a0c4c8"/>
<path class=b d="M587.5 363.7l-6.6-1.7M569.5 365.6l6.6 1.8"/>
<path d="M469.6 302.4l11.4 11.4-6.6-10.5-11.4-10.7z" fill="#aeb9bb"/>
<path class=b d="M481 313.8l-6.6-10.5M463 292.6l6.6 9.8"/>
<path class=n d="M363 211.3l11.5 4.6-6.6-.5-11.5-3.1 6.6-1z" fill="#b0a5a5"/>
<path class=n d="M363 211.3l0 0 0 0z" fill="#b08d8d"/>
<path d="M363 211.3l11.5 4.6M367.9 215.4l-11.5-3.1"/>
<path class=b d="M374.5 215.9l-6.6-.5M356.4 212.3l6.6-1"/>
<line x1="363.1" y1="211.3" x2="363.0" y2="211.3" stroke="#960000" stroke-width="2.0" stroke-linecap="round"/>
<path d="M256.5 251.6l11.5-5.5-6.6 9-11.5 4.9z" fill="#b6aaaa"/>
<path class=b d="M268 246.1l-6.6 9M249.9 260l6.6-8.4"/>
<path d="M546.6 365l11.4 1.5-6.6-4.5-11.4-1.8z" fill="#8eaeb1"/>
<path class=b d="M558 366.5l-6.6-4.5M540 360.2l6.6 4.8"/>
<path class=n d="M440.1 269.1l11.4 11.9-6.6-9.6-11.4-10.9z" fill="#b0bbbc"/>
<path class=n d="M440.1 269.1l0 0-6.6-8.6 0 0z" fill="#bcb0b0"/>
<path d="M440.1 269.1l11.4 11.9M444.9 271.4l-11.4-10.9"/>
<path class=b d="M451.5 281l-6.6-9.6"/>
<path class=n d="M339.2 210.2l5.8 .3-6.6 3.7-11.4 .7 5.2-4z" fill="#aca1a1"/>
<path class=n d="M333.6 209.9l5.6 .3-7 .7z" fill="#ac8a8a"/>
<path d="M333.6 209.9l11.4 .6M338.4 214.2l-11.4 .7"/>
<path class=b d="M345 210.5l-6.6 3.7M327 214.9l6.6-5"/>
<line x1="339.2" y1="210.2" x2="332.2" y2="210.9" stroke="#960000" stroke-width="2.0" stroke-linecap="round"/>
<path d="M517.1 349.4l11.5 6.5-6.7-7.4-11.4-6.7z" fill="#8fb0b3"/>
<path class=b d="M528.6 355.9l-6.7-7.4M510.5 341.8l6.6 7.6"/>
<path d="M410.6 239.1l11.4 10.5-6.6-7.1-11.4-9.1z" fill="#bbafaf"/>
<path class=b d="M422 249.6l-6.6-7.1M404 233.4l6.6 5.7"/>
<path d="M304.1 219.8l11.4-3-6.6 7.1-11.4 3.7z" fill="#b3a7a7"/>
<path class=b d="M315.5 216.8l-6.6 7.1M297.5 227.6l6.6-7.8"/>
<path class=n d="M491.6 326.5l7.5 6.7-6.7-9.4-6.9-6.1z" fill="#95b6ba"/>
<path class=n d="M487.6 322.9l4 3.6-6.1-8.8-4.5-3.9z" fill="#adb9ba"/>
<path d="M487.6 322.9l11.5 10.3M492.4 323.8l-11.4-10"/>
<path class=b d="M499.1 333.2l-6.7-9.4M481 313.8l6.6 9.1"/>
<line x1="491.6" y1="326.5" x2="485.5" y2="317.7" stroke="#003c68" stroke-width="2.0" stroke-linecap="round"/>
<path d="M381.1 217.7l11.4 7.3-6.6-3.2-11.4-5.9z" fill="#b6aaaa"/>
<path class=b d="M392.5 225l-6.6-3.2M374.5 215.9l6.6 1.8"/>
<path d="M274.6 237.5l11.4-5.4-6.6 8.8-11.4 5.2z" fill="#b6aaaa"/>
<path class=b d="M286 232.1l-6.6 8.8M268 246.1l6.6-8.6"/>
<path d="M564.6 368.6l11.5-1.2-6.6-1.8-11.5 .9z" fill="#95b7bb"/>
<path class=b d="M576.1 367.4l-6.6-1.8M558 366.5l6.6 2.1"/>
<path d="M458.1 290.2l11.5 12.2-6.6-9.8-11.5-11.6z" fill="#b0bbbc"/>
<path class=b d="M469.6 302.4l-6.6-9.8M451.5 281l6.6 9.2"/>
<path class=n d="M363 211.3l-6.6 1-11.4-1.8 1.7-.6z" fill="#aea2a2"/>
<path class=n d="M351.6 208l11.4 3.3 0 0-16.3-1.4z" fill="#ae8b8b"/>
<path d="M351.6 208l11.4 3.3M356.4 212.3l-11.4-1.8"/>
<path class=b d="M363 211.3l-6.6 1M345 210.5l6.6-2.5"/>
<line x1="363.0" y1="211.3" x2="346.7" y2="209.9" stroke="#960000" stroke-width="2.0" stroke-linecap="round"/>
<path d="M245.1 257.6l11.4-6-6.6 8.4-11.4 5z" fill="#b8abab"/>
<path class=b d="M256.5 251.6l-6.6 8.4M238.5 265l6.6-7.4"/>
<path d="M535.2 361.1l11.4 3.9-6.6-4.8-11.4-4.3z" fill="#8baaad"/>
<path class=b d="M546.6 365l-6.6-4.8M528.6 355.9l6.6 5.2"/>
<path class=n d="M428.6 257.1l11.5 12-6.6-8.6-11.5-10.9z" fill="#bdb0b0"/>
<path d="M428.6 257.1l11.5 12M433.5 260.5l-11.5-10.9"/>
<path class=b d="M422 249.6l6.6 7.5"/>
<path class=n d="M332.2 210.9l-5.2 4-11.5 1.9 3.6-3.2z" fill="#afa4a4"/>
<path class=n d="M322.1 210.9l11.5-1-1.4 1-13.1 2.7z" fill="#af8c8c"/>
<path d="M322.1 210.9l11.5-1M327 214.9l-11.5 1.9"/>
<path class=b d="M333.6 209.9l-6.6 5M315.5 216.8l6.6-5.9"/>
<line x1="332.2" y1="210.9" x2="319.1" y2="213.6" stroke="#960000" stroke-width="2.0" stroke-linecap="round"/>
<path d="M505.7 340.9l11.4 8.5-6.6-7.6-11.4-8.6z" fill="#93b4b8"/>
<path class=b d="M517.1 349.4l-6.6-7.6M499.1 333.2l6.6 7.7"/>
<path d="M399.2 229.3l11.4 9.8-6.6-5.7-11.5-8.4z" fill="#bbaeae"/>
<path class=b d="M410.6 239.1l-6.6-5.7M392.5 225l6.7 4.3"/>
<path d="M292.6 224.1l11.5-4.3-6.6 7.8-11.5 4.5z" fill="#b5a9a9"/>
<path class=b d="M304.1 219.8l-6.6 7.8M286 232.1l6.6-8"/>
<path d="M582.7 366.7l11.4-3.8-6.6 .8-11.4 3.7z" fill="#9abcc0"/>
<path class=b d="M594.1 362.9l-6.6 .8M576.1 367.4l6.6-.7"/>
<path d="M476.2 311.4l11.4 11.5-6.6-9.1-11.4-11.4z" fill="#b0bbbc"/>
<path class=b d="M487.6 322.9l-6.6-9.1M469.6 302.4l6.6 9"/>
<path class=n d="M378.2 216.1l2.9 1.6-6.6-1.8-11.5-4.6z" fill="#b4a8a8"/>
<path class=n d="M369.7 211.6l8.5 4.5-15.2-4.8 0 0z" fill="#b49090"/>
<path d="M369.7 211.6l11.4 6.1M374.5 215.9l-11.5-4.6"/>
<path class=b d="M381.1 217.7l-6.6-1.8M363 211.3l6.7 .3"/>
<line x1="378.2" y1="216.1" x2="363.1" y2="211.3" stroke="#960000" stroke-width="2.0" stroke-linecap="round"/>
<path d="M263.1 243.7l11.5-6.2-6.6 8.6-11.5 5.5z" fill="#b8acac"/>
<path class=b d="M274.6 237.5l-6.6 8.6M256.5 251.6l6.6-7.9"/>
<path d="M553.2 367.4l11.4 1.2-6.6-2.1-11.4-1.5z" fill="#8cacaf"/>
<path class=b d="M564.6 368.6l-6.6-2.1M546.6 365l6.6 2.4"/>
<path class=n d="M446.7 277.6l11.4 12.6-6.6-9.2-11.4-11.9z" fill="#b1bcbe"/>
<path class=n d="M446.7 277.6l0 0-6.6-8.5 0 0z" fill="#beb1b1"/>
<path d="M446.7 277.6l11.4 12.6M451.5 281l-11.4-11.9"/>
<path class=b d="M458.1 290.2l-6.6-9.2"/>
<path class=n d="M346.7 209.9l-1.7 .6-5.8-.3z" fill="#aa9f9f"/>
<path class=n d="M340.2 206.4l11.4 1.6-4.9 1.9-7.5 .3-5.6-.3z" fill="#aa8888"/>
<path d="M340.2 206.4l11.4 1.6M345 210.5l-11.4-.6"/>
<path class=b d="M351.6 208l-6.6 2.5M333.6 209.9l6.6-3.5"/>
<line x1="346.7" y1="209.9" x2="339.2" y2="210.2" stroke="#960000" stroke-width="2.0" stroke-linecap="round"/>
<path d="M233.7 264l11.4-6.4-6.6 7.4-11.5 4.9z" fill="#baaeae"/>
<path class=b d="M245.1 257.6l-6.6 7.4M227 269.9l6.7-5.9"/>
<path d="M523.7 355l11.5 6.1-6.6-5.2-11.5-6.5z" fill="#90b0b4"/>
<path class=b d="M535.2 361.1l-6.6-5.2M517.1 349.4l6.6 5.6"/>
<path d="M417.2 245.5l11.4 11.6-6.6-7.5-11.4-10.5z" fill="#bdb0b0"/>
<path class=b d="M428.6 257.1l-6.6-7.5M410.6 239.1l6.6 6.4"/>
<path class=n d="M319.1 213.6l-3.6 3.2-11.4 3 2.6-2.5z" fill="#b2a7a7"/>
<path class=n d="M310.7 213.3l11.4-2.4-3 2.7-12.4 3.7z" fill="#b28f8f"/>
<path d="M310.7 213.3l11.4-2.4M315.5 216.8l-11.4 3"/>
<path class=b d="M322.1 210.9l-6.6 5.9M304.1 219.8l6.6-6.5"/>
<line x1="319.1" y1="213.6" x2="306.7" y2="217.3" stroke="#960000" stroke-width="2.0" stroke-linecap="round"/>
<path class=n d="M498.7 334.8l7 6.1-6.6-7.7-7.5-6.7z" fill="#96b7bb"/>
<path class=n d="M494.2 330.8l4.5 4-7.1-8.3-4-3.6z" fill="#aebabb"/>
<path d="M494.2 330.8l11.5 10.1M499.1 333.2l-11.5-10.3"/>
<path class=b d="M505.7 340.9l-6.6-7.7M487.6 322.9l6.6 7.9"/>
<line x1="498.7" y1="334.8" x2="491.6" y2="326.5" stroke="#003c68" stroke-width="2.0" stroke-linecap="round"/>
<path class=n d="M390 222.4l9.2 6.9-6.7-4.3-11.4-7.3 3.4 1.5z" fill="#b9adad"/>
<path class=n d="M387.7 220.7l2.3 1.7-5.5-3.2z" fill="#b99494"/>
<path d="M387.7 220.7l11.5 8.6M392.5 225l-11.4-7.3"/>
<path class=b d="M399.2 229.3l-6.7-4.3M381.1 217.7l6.6 3"/>
<line x1="390.0" y1="222.4" x2="384.5" y2="219.2" stroke="#960000" stroke-width="2.0" stroke-linecap="round"/>
<path d="M281.2 229.7l11.4-5.6-6.6 8-11.4 5.4z" fill="#b8abab"/>
<path class=b d="M292.6 224.1l-6.6 8M274.6 237.5l6.6-7.8"/>
<path d="M571.3 368.2l11.4-1.5-6.6 .7-11.5 1.2z" fill="#92b3b7"/>
<path class=b d="M582.7 366.7l-6.6 .7M564.6 368.6l6.7-.4"/>
<path d="M464.7 299l11.5 12.4-6.6-9-11.5-12.2z" fill="#b1bcbe"/>
<path class=b d="M476.2 311.4l-6.6-9M458.1 290.2l6.6 8.8"/>
<path d="M358.2 207.2l11.5 4.4-6.7-.3-11.4-3.3z" fill="#b08d8d"/>
<path class=b d="M369.7 211.6l-6.7-.3M351.6 208l6.6-.8"/>
<path d="M251.7 250.7l11.4-7-6.6 7.9-11.4 6z" fill="#bbaeae"/>
<path class=b d="M263.1 243.7l-6.6 7.9M245.1 257.6l6.6-6.9"/>
<path d="M541.8 364.1l11.4 3.3-6.6-2.4-11.4-3.9z" fill="#8baaae"/>
<path class=b d="M553.2 367.4l-6.6-2.4M535.2 361.1l6.6 3"/>
<path class=n d="M435.2 265l11.5 12.6-6.6-8.5-11.5-12z" fill="#beb1b1"/>
<path d="M435.2 265l11.5 12.6M440.1 269.1l-11.5-12"/>
<path class=b d="M428.6 257.1l6.6 7.9"/>
<path d="M328.7 206.5l11.5-.1-6.6 3.5-11.5 1z" fill="#ae8b8b"/>
<path class=b d="M340.2 206.4l-6.6 3.5M322.1 210.9l6.6-4.4"/>
<path d="M222.2 270.8l11.5-6.8-6.7 5.9-11.4 4.9z" fill="#beb1b1"/>
<path class=b d="M233.7 264l-6.7 5.9M215.6 274.8l6.6-4"/>
<path d="M512.3 347l11.4 8-6.6-5.6-11.4-8.5z" fill="#93b5b8"/>
<path class=b d="M523.7 355l-6.6-5.6M505.7 340.9l6.6 6.1"/>
<path d="M405.8 234.8l11.4 10.7-6.6-6.4-11.4-9.8z" fill="#bcb0b0"/>
<path class=b d="M417.2 245.5l-6.6-6.4M399.2 229.3l6.6 5.5"/>
<path class=n d="M306.7 217.3l-2.6 2.5-11.5 4.3 2.3-2.3z" fill="#b6aaaa"/>
<path class=n d="M299.2 217.5l11.5-4.2-4 4-11.8 4.5z" fill="#b69292"/>
<path d="M299.2 217.5l11.5-4.2M304.1 219.8l-11.5 4.3"/>
<path class=b d="M310.7 213.3l-6.6 6.5M292.6 224.1l6.6-6.6"/>
<line x1="306.7" y1="217.3" x2="294.9" y2="221.8" stroke="#960000" stroke-width="2.0" stroke-linecap="round"/>
<path d="M589.3 363.8l11.5-4-6.7 3.1-11.4 3.8z" fill="#96b8bb"/>
<path class=b d="M600.8 359.8l-6.7 3.1M582.7 366.7l6.6-2.9"/>
<path d="M482.8 319.5l11.4 11.3-6.6-7.9-11.4-11.5z" fill="#b0bcbd"/>
<path class=b d="M494.2 330.8l-6.6-7.9M476.2 311.4l6.6 8.1"/>
<path class=n d="M384.5 219.2l-3.4-1.5-2.9-1.6z" fill="#b6aaaa"/>
<path class=n d="M376.3 213.6l11.4 7.1-3.2-1.5-6.3-3.1-8.5-4.5z" fill="#b69292"/>
<path d="M376.3 213.6l11.4 7.1M381.1 217.7l-11.4-6.1"/>
<path class=b d="M387.7 220.7l-6.6-3M369.7 211.6l6.6 2"/>
<line x1="384.5" y1="219.2" x2="378.2" y2="216.1" stroke="#960000" stroke-width="2.0" stroke-linecap="round"/>
<path d="M269.7 236.5l11.5-6.8-6.6 7.8-11.5 6.2z" fill="#bbaeae"/>
<path class=b d="M281.2 229.7l-6.6 7.8M263.1 243.7l6.6-7.2"/>
<path d="M559.8 367.7l11.5 .5-6.7 .4-11.4-1.2z" fill="#8babae"/>
<path class=b d="M571.3 368.2l-6.7 .4M553.2 367.4l6.6 .3"/>
<path class=n d="M453.3 286.1l11.4 12.9-6.6-8.8-11.4-12.6z" fill="#b2bdbe"/>
<path class=n d="M453.3 286.1l0 0-6.6-8.5 0 0z" fill="#beb2b2"/>
<path d="M453.3 286.1l11.4 12.9M458.1 290.2l-11.4-12.6"/>
<path class=b d="M464.7 299l-6.6-8.8"/>
<path d="M346.8 204.6l11.4 2.6-6.6 .8-11.4-1.6z" fill="#ac8989"/>
<path class=b d="M358.2 207.2l-6.6 .8M340.2 206.4l6.6-1.8"/>
<path d="M240.3 258.5l11.4-7.8-6.6 6.9-11.4 6.4z" fill="#bfb2b2"/>
<path class=b d="M251.7 250.7l-6.6 6.9M233.7 264l6.6-5.5"/>
<path d="M530.3 358.7l11.5 5.4-6.6-3-11.5-6.1z" fill="#90b0b4"/>
<path class=b d="M541.8 364.1l-6.6-3M523.7 355l6.6 3.7"/>
<line x1="446.7" y1="277.6" x2="442.3" y2="271.9" stroke="#000" stroke-width="1.9"/>
<path d="M423.8 252.8l11.4 12.2-6.6-7.9-11.4-11.6z" fill="#beb1b1"/>
<path class=b d="M435.2 265l-6.6-7.9M417.2 245.5l6.6 7.3"/>
<path d="M317.3 208.5l11.4-2-6.6 4.4-11.4 2.4z" fill="#b38f8f"/>
<path class=b d="M328.7 206.5l-6.6 4.4M310.7 213.3l6.6-4.8"/>
<path d="M210.8 277.9l11.4-7.1-6.6 4-11.4 5z" fill="#c3b6b6"/>
<path class=b d="M222.2 270.8l-6.6 4M204.2 279.8l6.6-1.9"/>
<path class=n d="M507 342.6l5.3 4.4-6.6-6.1-7-6.1z" fill="#96b8bb"/>
<path class=n d="M500.8 337.5l6.2 5.1-8.3-7.8-4.5-4z" fill="#afbabb"/>
<path d="M500.8 337.5l11.5 9.5M505.7 340.9l-11.5-10.1"/>
<path class=b d="M512.3 347l-6.6-6.1M494.2 330.8l6.6 6.7"/>
<line x1="507.0" y1="342.6" x2="498.7" y2="334.8" stroke="#003c68" stroke-width="2.0" stroke-linecap="round"/>
<path class=n d="M399.6 229.7l6.2 5.1-6.6-5.5-9.2-6.9z" fill="#bbaeae"/>
<path class=n d="M394.3 225.2l5.3 4.5-9.6-7.3-2.3-1.7z" fill="#bb9595"/>
<path d="M394.3 225.2l11.5 9.6M399.2 229.3l-11.5-8.6"/>
<path class=b d="M405.8 234.8l-6.6-5.5M387.7 220.7l6.6 4.5"/>
<line x1="399.6" y1="229.7" x2="390.0" y2="222.4" stroke="#960000" stroke-width="2.0" stroke-linecap="round"/>
<path class=n d="M294.9 221.8l-2.3 2.3-11.4 5.6 2.6-2.5z" fill="#baaeae"/>
<path class=n d="M287.8 223.2l11.4-5.7-4.3 4.3-11.1 5.4z" fill="#ba9595"/>
<path d="M287.8 223.2l11.4-5.7M292.6 224.1l-11.4 5.6"/>
<path class=b d="M299.2 217.5l-6.6 6.6M281.2 229.7l6.6-6.5"/>
<line x1="294.9" y1="221.8" x2="283.8" y2="227.2" stroke="#960000" stroke-width="2.0" stroke-linecap="round"/>
<path d="M577.9 365.8l11.4-2-6.6 2.9-11.4 1.5z" fill="#90b1b4"/>
<path class=b d="M589.3 363.8l-6.6 2.9M571.3 368.2l6.6-2.4"/>
<path d="M471.4 307.3l11.4 12.2-6.6-8.1-11.5-12.4z" fill="#b1bdbe"/>
<path class=b d="M482.8 319.5l-6.6-8.1M464.7 299l6.7 8.3"/>
<path d="M364.8 208.2l11.5 5.4-6.6-2-11.5-4.4z" fill="#b38f8f"/>
<path class=b d="M376.3 213.6l-6.6-2M358.2 207.2l6.6 1"/>
<path d="M258.3 244.6l11.4-8.1-6.6 7.2-11.4 7z" fill="#bfb2b2"/>
<path class=b d="M269.7 236.5l-6.6 7.2M251.7 250.7l6.6-6.1"/>
<path d="M548.4 365.1l11.4 2.6-6.6-.3-11.4-3.3z" fill="#8baaad"/>
<path class=b d="M559.8 367.7l-6.6-.3M541.8 364.1l6.6 1"/>
<path class=n d="M441.9 273.3l11.4 12.8-6.6-8.5-11.5-12.6z" fill="#beb2b2"/>
<path d="M441.9 273.3l11.4 12.8M446.7 277.6l-11.5-12.6"/>
<path class=b d="M435.2 265l6.7 8.3"/>
<path d="M335.3 204l11.5 .6-6.6 1.8-11.5 .1z" fill="#ae8b8b"/>
<path class=b d="M346.8 204.6l-6.6 1.8M328.7 206.5l6.6-2.5"/>
<path d="M228.8 267.1l11.5-8.6-6.6 5.5-11.5 6.8z" fill="#c3b6b6"/>
<path class=b d="M240.3 258.5l-6.6 5.5M222.2 270.8l6.6-3.7"/>
<path d="M518.9 351.5l11.4 7.2-6.6-3.7-11.4-8z" fill="#93b4b8"/>
<path class=b d="M530.3 358.7l-6.6-3.7M512.3 347l6.6 4.5"/>
<path d="M412.4 241.4l11.4 11.4-6.6-7.3-11.4-10.7z" fill="#bdb0b0"/>
<path class=b d="M423.8 252.8l-6.6-7.3M405.8 234.8l6.6 6.6"/>
<path d="M305.9 212.4l11.4-3.9-6.6 4.8-11.5 4.2z" fill="#b89393"/>
<path class=b d="M317.3 208.5l-6.6 4.8M299.2 217.5l6.7-5.1"/>
<path d="M595.9 358.9l11.5-4.1-6.6 5-11.5 4z" fill="#93b4b8"/>
<path class=b d="M607.4 354.8l-6.6 5M589.3 363.8l6.6-4.9"/>
<path d="M199.3 285.2l11.5-7.3-6.6 1.9-11.5 4.9z" fill="#cabcbc"/>
<path class=b d="M210.8 277.9l-6.6 1.9M192.7 284.7l6.6 .5"/>
<path d="M489.4 326.7l11.4 10.8-6.6-6.7-11.4-11.3z" fill="#b0bcbd"/>
<path class=b d="M500.8 337.5l-6.6-6.7M482.8 319.5l6.6 7.2"/>
<path d="M382.9 217.3l11.4 7.9-6.6-4.5-11.4-7.1z" fill="#b89393"/>
<path class=b d="M394.3 225.2l-6.6-4.5M376.3 213.6l6.6 3.7"/>
<path class=n d="M283.8 227.2l-2.6 2.5-11.5 6.8 3.6-3.1z" fill="#bfb2b2"/>
<path class=n d="M276.4 230.6l11.4-7.4-4 4-10.5 6.2z" fill="#bf9898"/>
<path d="M276.4 230.6l11.4-7.4M281.2 229.7l-11.5 6.8"/>
<path class=b d="M287.8 223.2l-6.6 6.5M269.7 236.5l6.7-5.9"/>
<line x1="283.8" y1="227.2" x2="273.3" y2="233.4" stroke="#960000" stroke-width="2.0" stroke-linecap="round"/>
<path d="M566.4 365.9l11.5-.1-6.6 2.4-11.5-.5z" fill="#8baaae"/>
<path class=b d="M577.9 365.8l-6.6 2.4M559.8 367.7l6.6-1.8"/>
<path class=n d="M459.9 294.7l11.5 12.6-6.7-8.3-11.4-12.9z" fill="#b2bdbe"/>
<path class=n d="M459.9 294.7l0 0-6.6-8.6 0 0z" fill="#beb2b2"/>
<path d="M459.9 294.7l11.5 12.6M464.7 299l-11.4-12.9"/>
<path class=b d="M471.4 307.3l-6.7-8.3"/>
<path d="M353.4 204.8l11.4 3.4-6.6-1-11.4-2.6z" fill="#ad8b8b"/>
<path class=b d="M364.8 208.2l-6.6-1M346.8 204.6l6.6 .2"/>
<path d="M246.9 253.7l11.4-9.1-6.6 6.1-11.4 7.8z" fill="#c4b7b7"/>
<path class=b d="M258.3 244.6l-6.6 6.1M240.3 258.5l6.6-4.8"/>
<path d="M536.9 360.6l11.5 4.5-6.6-1-11.5-5.4z" fill="#8fafb3"/>
<path class=b d="M548.4 365.1l-6.6-1M530.3 358.7l6.6 1.9"/>
<path d="M430.4 260.9l11.5 12.4-6.7-8.3-11.4-12.2z" fill="#beb1b1"/>
<path class=b d="M441.9 273.3l-6.7-8.3M423.8 252.8l6.6 8.1"/>
<path d="M323.9 205.6l11.4-1.6-6.6 2.5-11.4 2z" fill="#b49090"/>
<path class=b d="M335.3 204l-6.6 2.5M317.3 208.5l6.6-2.9"/>
<path d="M217.4 276.2l11.4-9.1-6.6 3.7-11.4 7.1z" fill="#cabcbc"/>
<path class=b d="M228.8 267.1l-6.6 3.7M210.8 277.9l6.6-1.7"/>
<path class=n d="M516.6 349.8l2.3 1.7-6.6-4.5-5.3-4.4z" fill="#95b7bb"/>
<path class=n d="M507.4 342.9l9.2 6.9-9.6-7.2-6.2-5.1z" fill="#aeb9bb"/>
<path d="M507.4 342.9l11.5 8.6M512.3 347l-11.5-9.5"/>
<path class=b d="M518.9 351.5l-6.6-4.5M500.8 337.5l6.6 5.4"/>
<line x1="516.6" y1="349.8" x2="507.0" y2="342.6" stroke="#003c68" stroke-width="2.0" stroke-linecap="round"/>
<path class=n d="M407.9 237.5l4.5 3.9-6.6-6.6-6.2-5.1z" fill="#bbafaf"/>
<path class=n d="M400.9 231.3l7 6.2-8.3-7.8-5.3-4.5z" fill="#bb9696"/>
<path d="M400.9 231.3l11.5 10.1M405.8 234.8l-11.5-9.6"/>
<path class=b d="M412.4 241.4l-6.6-6.6M394.3 225.2l6.6 6.1"/>
<line x1="407.9" y1="237.5" x2="399.6" y2="229.7" stroke="#960000" stroke-width="2.0" stroke-linecap="round"/>
<path d="M294.4 218.4l11.5-6-6.7 5.1-11.4 5.7z" fill="#be9898"/>
<path class=b d="M305.9 212.4l-6.7 5.1M287.8 223.2l6.6-4.8"/>
<path d="M584.5 361.4l11.4-2.5-6.6 4.9-11.4 2z" fill="#8fafb3"/>
<path class=b d="M595.9 358.9l-6.6 4.9M577.9 365.8l6.6-4.4"/>
<path d="M187.9 292.7l11.4-7.5-6.6-.5-11.4 5z" fill="#d5c7c7"/>
<path class=b d="M199.3 285.2l-6.6-.5M181.3 289.7l6.6 3"/>
<path d="M478 315.2l11.4 11.5-6.6-7.2-11.4-12.2z" fill="#b1bdbe"/>
<path class=b d="M489.4 326.7l-6.6-7.2M471.4 307.3l6.6 7.9"/>
<path d="M371.4 211.2l11.5 6.1-6.6-3.7-11.5-5.4z" fill="#b49090"/>
<path class=b d="M382.9 217.3l-6.6-3.7M364.8 208.2l6.6 3"/>
<path class=n d="M273.3 233.4l-3.6 3.1-11.4 8.1 5.3-4z" fill="#c4b7b7"/>
<path class=n d="M264.9 239.6l11.5-9-3.1 2.8-9.7 7.2z" fill="#c49c9c"/>
<path d="M264.9 239.6l11.5-9M269.7 236.5l-11.4 8.1"/>
<path class=b d="M276.4 230.6l-6.7 5.9M258.3 244.6l6.6-5"/>
<line x1="273.3" y1="233.4" x2="263.6" y2="240.6" stroke="#960000" stroke-width="2.0" stroke-linecap="round"/>
<path d="M555 364.2l11.4 1.7-6.6 1.8-11.4-2.6z" fill="#89a8ac"/>
<path class=b d="M566.4 365.9l-6.6 1.8M548.4 365.1l6.6-.9"/>
<path class=n d="M448.5 282l11.4 12.7-6.6-8.6-11.4-12.8z" fill="#beb2b2"/>
<path d="M448.5 282l11.4 12.7M453.3 286.1l-11.4-12.8"/>
<path class=b d="M441.9 273.3l6.6 8.7"/>
<path d="M342 203.7l11.4 1.1-6.6-.2-11.5-.6z" fill="#ae8b8b"/>
<path class=b d="M353.4 204.8l-6.6-.2M335.3 204l6.7-.3"/>
<path d="M235.4 263.9l11.5-10.2-6.6 4.8-11.5 8.6z" fill="#c9bcbc"/>
<path class=b d="M246.9 253.7l-6.6 4.8M228.8 267.1l6.6-3.2"/>
<path class=n d="M528.4 356.1l8.5 4.5-6.6-1.9-11.4-7.2 3.2 1.5z" fill="#92b3b6"/>
<path class=n d="M525.5 354.6l2.9 1.5-6.3-3.1z" fill="#aab5b6"/>
<path d="M525.5 354.6l11.4 6M530.3 358.7l-11.4-7.2"/>
<path class=b d="M536.9 360.6l-6.6-1.9M518.9 351.5l6.6 3.1"/>
<line x1="528.4" y1="356.1" x2="522.1" y2="353.0" stroke="#003c68" stroke-width="2.0" stroke-linecap="round"/>
<path d="M419 249.3l11.4 11.6-6.6-8.1-11.4-11.4z" fill="#bdb0b0"/>
<path class=b d="M430.4 260.9l-6.6-8.1M412.4 241.4l6.6 7.9"/>
<path d="M312.5 209.4l11.4-3.8-6.6 2.9-11.4 3.9z" fill="#bb9696"/>
<path class=b d="M323.9 205.6l-6.6 2.9M305.9 212.4l6.6-3"/>
<path class=n d="M611.7 350.4l-4.3 4.4-11.5 4.1 4-4z" fill="#92b2b6"/>
<path class=n d="M602.5 352.4l11.5-4.3-2.3 2.3-11.8 4.5z" fill="#aab5b6"/>
<path d="M602.5 352.4l11.5-4.3M607.4 354.8l-11.5 4.1"/>
<path class=b d="M614 348.1l-6.6 6.7M595.9 358.9l6.6-6.5"/>
<line x1="611.7" y1="350.4" x2="599.9" y2="354.9" stroke="#003c68" stroke-width="2.0" stroke-linecap="round"/>
<path d="M205.9 285.8l11.5-9.6-6.6 1.7-11.5 7.3z" fill="#d3c5c5"/>
<path class=b d="M217.4 276.2l-6.6 1.7M199.3 285.2l6.6 .6"/>
<path d="M496 333.2l11.4 9.7-6.6-5.4-11.4-10.8z" fill="#b0bbbc"/>
<path class=b d="M507.4 342.9l-6.6-5.4M489.4 326.7l6.6 6.5"/>
<path d="M389.5 222.9l11.4 8.4-6.6-6.1-11.4-7.9z" fill="#b89393"/>
<path class=b d="M400.9 231.3l-6.6-6.1M382.9 217.3l6.6 5.6"/>
<path d="M283 226.2l11.4-7.8-6.6 4.8-11.4 7.4z" fill="#c39c9c"/>
<path class=b d="M294.4 218.4l-6.6 4.8M276.4 230.6l6.6-4.4"/>
<path d="M573 362.3l11.5-.9-6.6 4.4-11.5 .1z" fill="#8babae"/>
<path class=b d="M584.5 361.4l-6.6 4.4M566.4 365.9l6.6-3.6"/>
<path d="M176.5 300.3l11.4-7.6-6.6-3-11.5 4.9z" fill="#e4d5d5"/>
<path class=b d="M187.9 292.7l-6.6-3M169.8 294.6l6.7 5.7"/>
<path class=n d="M466.5 303.2l11.5 12-6.6-7.9-11.5-12.6z" fill="#b1bdbe"/>
<path class=n d="M466.5 303.2l0 0-6.6-8.5 0 0z" fill="#beb1b1"/>
<path d="M466.5 303.2l11.5 12M471.4 307.3l-11.5-12.6"/>
<path class=b d="M478 315.2l-6.6-7.9"/>
<path d="M360 207.3l11.4 3.9-6.6-3-11.4-3.4z" fill="#ae8b8b"/>
<path class=b d="M371.4 211.2l-6.6-3M353.4 204.8l6.6 2.5"/>
<path class=n d="M253.5 250l5.8-5.3 4.3-4.1-5.3 4-11.4 9.1z" fill="#c9bcbc"/>
<path class=n d="M259.3 244.7l5.6-5.1-1.3 1z" fill="#c9a1a1"/>
<path d="M253.5 250l11.4-10.4M258.3 244.6l-11.4 9.1"/>
<path class=b d="M264.9 239.6l-6.6 5M246.9 253.7l6.6-3.7"/>
<line x1="259.3" y1="244.7" x2="263.6" y2="240.6" stroke="#960000" stroke-width="2.0" stroke-linecap="round"/>
<path class=n d="M543.6 361l11.4 3.2-6.6 .9-11.5-4.5 6.7 .4z" fill="#8dadb0"/>
<path class=n d="M543.6 361l0 0 0 0z" fill="#a5afb0"/>
<path d="M543.6 361l11.4 3.2M548.4 365.1l-11.5-4.5"/>
<path class=b d="M555 364.2l-6.6 .9M536.9 360.6l6.7 .4"/>
<line x1="543.6" y1="361.0" x2="543.5" y2="361.0" stroke="#003c68" stroke-width="2.0" stroke-linecap="round"/>
<line x1="459.9" y1="294.7" x2="455.5" y2="289.0" stroke="#000" stroke-width="1.9"/>
<path d="M437 269.8l11.5 12.2-6.6-8.7-11.5-12.4z" fill="#beb1b1"/>
<path class=b d="M448.5 282l-6.6-8.7M430.4 260.9l6.6 8.9"/>
<path d="M330.5 204.9l11.5-1.2-6.7 .3-11.4 1.6z" fill="#b79292"/>
<path class=b d="M342 203.7l-6.7 .3M323.9 205.6l6.6-.7"/>
<path d="M224 275l11.4-11.1-6.6 3.2-11.4 9.1z" fill="#d1c3c3"/>
<path class=b d="M235.4 263.9l-6.6 3.2M217.4 276.2l6.6-1.2"/>
<path class=n d="M522.1 353l-3.2-1.5-2.3-1.7z" fill="#94b5b9"/>
<path class=n d="M514.1 347.2l11.4 7.4-3.4-1.6-5.5-3.2-9.2-6.9z" fill="#adb8b9"/>
<path d="M514.1 347.2l11.4 7.4M518.9 351.5l-11.5-8.6"/>
<path class=b d="M525.5 354.6l-6.6-3.1M507.4 342.9l6.7 4.3"/>
<line x1="522.1" y1="353.0" x2="516.6" y2="349.8" stroke="#003c68" stroke-width="2.0" stroke-linecap="round"/>
<path class=n d="M415 245.8l4 3.5-6.6-7.9-4.5-3.9z" fill="#bbaeae"/>
<path class=n d="M407.5 239l7.5 6.8-7.1-8.3-7-6.2z" fill="#bb9696"/>
<path d="M407.5 239l11.5 10.3M412.4 241.4l-11.5-10.1"/>
<path class=b d="M419 249.3l-6.6-7.9M400.9 231.3l6.6 7.7"/>
<line x1="415.0" y1="245.8" x2="407.9" y2="237.5" stroke="#960000" stroke-width="2.0" stroke-linecap="round"/>
<path d="M301 215.4l11.5-6-6.6 3-11.5 6z" fill="#c39c9c"/>
<path class=b d="M312.5 209.4l-6.6 3M294.4 218.4l6.6-3"/>
<path class=n d="M599.9 354.9l-4 4-11.4 2.5 3-2.8z" fill="#8fafb2"/>
<path class=n d="M591.1 355.5l11.4-3.1-2.6 2.5-12.4 3.7z" fill="#a7b1b2"/>
<path d="M591.1 355.5l11.4-3.1M595.9 358.9l-11.4 2.5"/>
<path class=b d="M602.5 352.4l-6.6 6.5M584.5 361.4l6.6-5.9"/>
<line x1="599.9" y1="354.9" x2="587.5" y2="358.6" stroke="#003c68" stroke-width="2.0" stroke-linecap="round"/>
<path d="M194.5 295.9l11.4-10.1-6.6-.6-11.4 7.5z" fill="#decfcf"/>
<path class=b d="M205.9 285.8l-6.6-.6M187.9 292.7l6.6 3.2"/>
<path d="M484.6 322.6l11.4 10.6-6.6-6.5-11.4-11.5z" fill="#b0bcbd"/>
<path class=b d="M496 333.2l-6.6-6.5M478 315.2l6.6 7.4"/>
<path d="M378.1 216.4l11.4 6.5-6.6-5.6-11.5-6.1z" fill="#b49090"/>
<path class=b d="M389.5 222.9l-6.6-5.6M371.4 211.2l6.7 5.2"/>
<path d="M271.5 236l11.5-9.8-6.6 4.4-11.5 9z" fill="#c9a1a1"/>
<path class=b d="M283 226.2l-6.6 4.4M264.9 239.6l6.6-3.6"/>
<path class=n d="M567.4 362.1l5.6 .2-6.6 3.6-11.4-1.7 4.9-1.8z" fill="#88a7aa"/>
<path class=n d="M561.6 361.8l5.8 .3-7.5 .3z" fill="#9fa9aa"/>
<path d="M561.6 361.8l11.4 .5M566.4 365.9l-11.4-1.7"/>
<path class=b d="M573 362.3l-6.6 3.6M555 364.2l6.6-2.4"/>
<line x1="567.4" y1="362.1" x2="559.9" y2="362.4" stroke="#003c68" stroke-width="2.0" stroke-linecap="round"/>
<path class=n d="M165 308.1l11.5-7.8-6.7-5.7-11.4 4.9z" fill="#f9e9e9"/>
<path d="M165 308.1l11.5-7.8M169.8 294.6l-11.4 4.9"/>
<path class=b d="M176.5 300.3l-6.7-5.7"/>
<path class=n d="M455.1 291.2l11.4 12-6.6-8.5-11.4-12.7z" fill="#beb1b1"/>
<path d="M455.1 291.2l11.4 12M459.9 294.7l-11.4-12.7"/>
<path class=b d="M448.5 282l6.6 9.2"/>
<path d="M348.6 205.7l11.4 1.6-6.6-2.5-11.4-1.1z" fill="#af8c8c"/>
<path class=b d="M360 207.3l-6.6-2.5M342 203.7l6.6 2"/>
<path d="M242 261.7l11.5-11.7-6.6 3.7-11.5 10.2z" fill="#d0c2c2"/>
<path class=b d="M253.5 250l-6.6 3.7M235.4 263.9l6.6-2.2"/>
<path class=n d="M543.6 361l-6.7-.4-8.5-4.5z" fill="#90b0b4"/>
<path class=n d="M532.1 356.3l11.5 4.7 0 0-15.2-4.9-2.9-1.5z" fill="#a8b3b4"/>
<path d="M532.1 356.3l11.5 4.7M536.9 360.6l-11.4-6"/>
<path class=b d="M543.6 361l-6.7-.4M525.5 354.6l6.6 1.7"/>
<line x1="543.5" y1="361.0" x2="528.4" y2="356.1" stroke="#003c68" stroke-width="2.0" stroke-linecap="round"/>
<path d="M425.6 258.5l11.4 11.3-6.6-8.9-11.4-11.6z" fill="#bcb0b0"/>
<path class=b d="M437 269.8l-6.6-8.9M419 249.3l6.6 9.2"/>
<path d="M319.1 208.6l11.4-3.7-6.6 .7-11.4 3.8z" fill="#c09a9a"/>
<path class=b d="M330.5 204.9l-6.6 .7M312.5 209.4l6.6-.8"/>
<path d="M609.1 344.7l11.5-4.5-6.6 7.9-11.5 4.3z" fill="#a9b4b5"/>
<path class=b d="M620.6 340.2l-6.6 7.9M602.5 352.4l6.6-7.7"/>
<path d="M212.6 286.9l11.4-11.9-6.6 1.2-11.5 9.6z" fill="#dacbcb"/>
<path class=b d="M224 275l-6.6 1.2M205.9 285.8l6.7 1.1"/>
<path d="M502.6 338.8l11.5 8.4-6.7-4.3-11.4-9.7z" fill="#aeb9bb"/>
<path class=b d="M514.1 347.2l-6.7-4.3M496 333.2l6.6 5.6"/>
<path d="M396.1 230.4l11.4 8.6-6.6-7.7-11.4-8.4z" fill="#b89393"/>
<path class=b d="M407.5 239l-6.6-7.7M389.5 222.9l6.6 7.5"/>
<path d="M289.6 223.8l11.4-8.4-6.6 3-11.4 7.8z" fill="#caa1a1"/>
<path class=b d="M301 215.4l-6.6 3M283 226.2l6.6-2.4"/>
<path class=n d="M587.5 358.6l-3 2.8-11.5 .9 1.4-1z" fill="#8cacaf"/>
<path class=n d="M579.7 357.3l11.4-1.8-3.6 3.1-13.1 2.7z" fill="#a4aeaf"/>
<path d="M579.7 357.3l11.4-1.8M584.5 361.4l-11.5 .9"/>
<path class=b d="M591.1 355.5l-6.6 5.9M573 362.3l6.7-5"/>
<line x1="587.5" y1="358.6" x2="574.4" y2="361.3" stroke="#003c68" stroke-width="2.0" stroke-linecap="round"/>
<path d="M183.1 306.2l11.4-10.3-6.6-3.2-11.4 7.6z" fill="#eddddd"/>
<path class=b d="M194.5 295.9l-6.6-3.2M176.5 300.3l6.6 5.9"/>
<path class=n d="M473.1 311.7l11.5 10.9-6.6-7.4-11.5-12z" fill="#b0bcbd"/>
<path class=n d="M473.1 311.7l0 0-6.6-8.5 0 0z" fill="#bdb0b0"/>
<path d="M473.1 311.7l11.5 10.9M478 315.2l-11.5-12"/>
<path class=b d="M484.6 322.6l-6.6-7.4"/>
<path d="M366.6 212.1l11.5 4.3-6.7-5.2-11.4-3.9z" fill="#ad8b8b"/>
<path class=b d="M378.1 216.4l-6.7-5.2M360 207.3l6.6 4.8"/>
<path class=n d="M259.3 244.7l-5.8 5.3 1.7-.6z" fill="#d0c2c2"/>
<path class=n d="M260.1 247.5l11.4-11.5-6.6 3.6-5.6 5.1-4.1 4.7z" fill="#d0a6a6"/>
<path d="M260.1 247.5l11.4-11.5M264.9 239.6l-11.4 10.4"/>
<path class=b d="M271.5 236l-6.6 3.6M253.5 250l6.6-2.5"/>
<line x1="259.3" y1="244.7" x2="255.2" y2="249.4" stroke="#960000" stroke-width="2.0" stroke-linecap="round"/>
<path class=n d="M559.9 362.4l-4.9 1.8-11.4-3.2z" fill="#8baaae"/>
<path class=n d="M550.2 359.9l11.4 1.9-1.7 .6-16.3-1.4 0 0z" fill="#a2acae"/>
<path d="M550.2 359.9l11.4 1.9M555 364.2l-11.4-3.2"/>
<path class=b d="M561.6 361.8l-6.6 2.4M543.6 361l6.6-1.1"/>
<line x1="559.9" y1="362.4" x2="543.6" y2="361.0" stroke="#003c68" stroke-width="2.0" stroke-linecap="round"/>
<path class=n d="M153.6 315.8l11.4-7.7-6.6-8.6-11.4 5z" fill="#ffffff"/>
<path class=n d="M165 308.1l0 0-6.6-8.6 0 0z" fill="#ffffff"/>
<path d="M153.6 315.8l11.4-7.7M158.4 299.5l-11.4 5"/>
<path class=b d="M147 304.5l6.6 11.3"/>
<path d="M443.6 279.7l11.5 11.5-6.6-9.2-11.5-12.2z" fill="#bcb0b0"/>
<path class=b d="M455.1 291.2l-6.6-9.2M437 269.8l6.6 9.9"/>
<path d="M337.1 206.7l11.5-1-6.6-2-11.5 1.2z" fill="#bb9595"/>
<path class=b d="M348.6 205.7l-6.6-2M330.5 204.9l6.6 1.8"/>
<path d="M230.6 274.6l11.4-12.9-6.6 2.2-11.4 11.1z" fill="#d7c9c9"/>
<path class=b d="M242 261.7l-6.6 2.2M224 275l6.6-.4"/>
<path d="M520.7 350.5l11.4 5.8-6.6-1.7-11.4-7.4z" fill="#aab5b6"/>
<path class=b d="M532.1 356.3l-6.6-1.7M514.1 347.2l6.6 3.3"/>
<path class=n d="M421.1 254.6l4.5 3.9-6.6-9.2-4-3.5z" fill="#baadad"/>
<path class=n d="M414.2 248.4l6.9 6.2-6.1-8.8-7.5-6.8z" fill="#ba9595"/>
<path d="M414.2 248.4l11.4 10.1M419 249.3l-11.5-10.3"/>
<path class=b d="M425.6 258.5l-6.6-9.2M407.5 239l6.7 9.4"/>
<line x1="421.1" y1="254.6" x2="415.0" y2="245.8" stroke="#960000" stroke-width="2.0" stroke-linecap="round"/>
<path d="M307.6 214.8l11.5-6.2-6.6 .8-11.5 6z" fill="#caa2a2"/>
<path class=b d="M319.1 208.6l-6.6 .8M301 215.4l6.6-.6"/>
<path d="M597.7 348.3l11.4-3.6-6.6 7.7-11.4 3.1z" fill="#a7b1b3"/>
<path class=b d="M609.1 344.7l-6.6 7.7M591.1 355.5l6.6-7.2"/>
<path d="M201.1 299.3l11.5-12.4-6.7-1.1-11.4 10.1z" fill="#e4d5d5"/>
<path class=b d="M212.6 286.9l-6.7-1.1M194.5 295.9l6.6 3.4"/>
<path d="M491.2 329.7l11.4 9.1-6.6-5.6-11.4-10.6z" fill="#afbabb"/>
<path class=b d="M502.6 338.8l-6.6-5.6M484.6 322.6l6.6 7.1"/>
<path d="M384.7 223.8l11.4 6.6-6.6-7.5-11.4-6.5z" fill="#b38f8f"/>
<path class=b d="M396.1 230.4l-6.6-7.5M378.1 216.4l6.6 7.4"/>
<path d="M278.1 234.2l11.5-10.4-6.6 2.4-11.5 9.8z" fill="#d1a7a7"/>
<path class=b d="M289.6 223.8l-6.6 2.4M271.5 236l6.6-1.8"/>
<path class=n d="M574.4 361.3l-1.4 1-5.6-.2z" fill="#8aa9ac"/>
<path class=n d="M568.2 358l11.5-.7-5.3 4-7 .8-5.8-.3z" fill="#a1abac"/>
<path d="M568.2 358l11.5-.7M573 362.3l-11.4-.5"/>
<path class=b d="M579.7 357.3l-6.7 5M561.6 361.8l6.6-3.8"/>
<line x1="574.4" y1="361.3" x2="567.4" y2="362.1" stroke="#003c68" stroke-width="2.0" stroke-linecap="round"/>
<path class=n d="M171.6 316.6l11.5-10.4-6.6-5.9-11.5 7.8z" fill="#ffefef"/>
<path d="M171.6 316.6l11.5-10.4M176.5 300.3l-11.5 7.8"/>
<path class=b d="M183.1 306.2l-6.6-5.9"/>
<path class=n d="M461.7 300.8l11.4 10.9-6.6-8.5-11.4-12z" fill="#bcb0b0"/>
<path d="M461.7 300.8l11.4 10.9M466.5 303.2l-11.4-12"/>
<path class=b d="M455.1 291.2l6.6 9.6"/>
<path d="M355.2 210.3l11.4 1.8-6.6-4.8-11.4-1.6z" fill="#b18e8e"/>
<path class=b d="M366.6 212.1l-6.6-4.8M348.6 205.7l6.6 4.6"/>
<path class=n d="M255.2 249.4l-1.7 .6-11.5 11.7 6.7-1z" fill="#d6c8c8"/>
<path class=n d="M248.7 260.7l11.4-13.2-4.9 1.9-6.5 11.3z" fill="#d6abab"/>
<path d="M248.7 260.7l11.4-13.2M253.5 250l-11.5 11.7"/>
<path class=b d="M260.1 247.5l-6.6 2.5M242 261.7l6.7-1"/>
<line x1="255.2" y1="249.4" x2="248.6" y2="260.7" stroke="#960000" stroke-width="2.0" stroke-linecap="round"/>
<line x1="165.0" y1="308.1" x2="158.4" y2="299.5" stroke="#000" stroke-width="1.9"/>
<path d="M538.7 356.9l11.5 3-6.6 1.1-11.5-4.7z" fill="#a5afb0"/>
<path class=b d="M550.2 359.9l-6.6 1.1M532.1 356.3l6.6 .6"/>
<path d="M142.1 323.4l11.5-7.6-6.6-11.3-11.5 4.9z" fill="#f0ffff"/>
<path class=b d="M153.6 315.8l-6.6-11.3M135.5 309.4l6.6 14"/>
<path d="M432.2 268.9l11.4 10.8-6.6-9.9-11.4-11.3z" fill="#bbaeae"/>
<path class=b d="M443.6 279.7l-6.6-9.9M425.6 258.5l6.6 10.4"/>
<path d="M325.7 210.3l11.4-3.6-6.6-1.8-11.4 3.7z" fill="#c8a0a0"/>
<path class=b d="M337.1 206.7l-6.6-1.8M319.1 208.6l6.6 1.7"/>
<path d="M615.8 336.1l11.4-4.7-6.6 8.8-11.5 4.5z" fill="#a8b3b4"/>
<path class=b d="M627.2 331.4l-6.6 8.8M609.1 344.7l6.7-8.6"/>
<path d="M219.2 288.5l11.4-13.9-6.6 .4-11.4 11.9z" fill="#dfd0d0"/>
<path class=b d="M230.6 274.6l-6.6 .4M212.6 286.9l6.6 1.6"/>
<path d="M509.2 343.8l11.5 6.7-6.6-3.3-11.5-8.4z" fill="#acb7b8"/>
<path class=b d="M520.7 350.5l-6.6-3.3M502.6 338.8l6.6 5"/>
<path d="M402.7 239.9l11.5 8.5-6.7-9.4-11.4-8.6z" fill="#b69292"/>
<path class=b d="M414.2 248.4l-6.7-9.4M396.1 230.4l6.6 9.5"/>
<path d="M296.2 223.4l11.4-8.6-6.6 .6-11.4 8.4z" fill="#d3a8a8"/>
<path class=b d="M307.6 214.8l-6.6 .6M289.6 223.8l6.6-.4"/>
<path d="M586.3 351.1l11.4-2.8-6.6 7.2-11.4 1.8z" fill="#a5b0b1"/>
<path class=b d="M597.7 348.3l-6.6 7.2M579.7 357.3l6.6-6.2"/>
<path d="M189.7 312.1l11.4-12.8-6.6-3.4-11.4 10.3z" fill="#efdfdf"/>
<path class=b d="M201.1 299.3l-6.6-3.4M183.1 306.2l6.6 5.9"/>
<path class=n d="M479.7 320.3l11.5 9.4-6.6-7.1-11.5-10.9z" fill="#aebabb"/>
<path class=n d="M479.7 320.3l0 0-6.6-8.6 0 0z" fill="#bbaeae"/>
<path d="M479.7 320.3l11.5 9.4M484.6 322.6l-11.5-10.9"/>
<path class=b d="M491.2 329.7l-6.6-7.1"/>
<path d="M373.2 219.4l11.5 4.4-6.6-7.4-11.5-4.3z" fill="#ac8989"/>
<path class=b d="M384.7 223.8l-6.6-7.4M366.6 212.1l6.6 7.3"/>
<path d="M266.7 246.7l11.4-12.5-6.6 1.8-11.4 11.5z" fill="#d7acac"/>
<path class=b d="M278.1 234.2l-6.6 1.8M260.1 247.5l6.6-.8"/>
<path d="M556.8 357.7l11.4 .3-6.6 3.8-11.4-1.9z" fill="#9fa9aa"/>
<path class=b d="M568.2 358l-6.6 3.8M550.2 359.9l6.6-2.2"/>
<path class=n d="M160.2 327l11.4-10.4-6.6-8.5-11.4 7.7z" fill="#ffffff"/>
<path class=n d="M171.6 316.6l0 0-6.6-8.5 0 0z" fill="#ffffff"/>
<path d="M160.2 327l11.4-10.4M165 308.1l-11.4 7.7"/>
<path class=b d="M153.6 315.8l6.6 11.2"/>
<line x1="473.1" y1="311.7" x2="468.7" y2="306.0" stroke="#000" stroke-width="1.9"/>
<path d="M450.2 290.3l11.5 10.5-6.6-9.6-11.5-11.5z" fill="#bbaeae"/>
<path class=b d="M461.7 300.8l-6.6-9.6M443.6 279.7l6.6 10.6"/>
<path d="M343.7 211.1l11.5-.8-6.6-4.6-11.5 1z" fill="#c09a9a"/>
<path class=b d="M355.2 210.3l-6.6-4.6M337.1 206.7l6.6 4.4"/>
<path class=n d="M237.2 275.2l11.5-14.5 0 0-6.7 1-11.4 12.9z" fill="#ddcece"/>
<path class=n d="M248.7 260.7l0 0 0 0z" fill="#ddb1b1"/>
<path d="M237.2 275.2l11.5-14.5M242 261.7l-11.4 12.9"/>
<path class=b d="M248.7 260.7l-6.7 1M230.6 274.6l6.6 .6"/>
<line x1="248.6" y1="260.7" x2="248.6" y2="260.7" stroke="#960000" stroke-width="2.0" stroke-linecap="round"/>
<path d="M527.3 352.9l11.4 4-6.6-.6-11.4-5.8z" fill="#a7b1b3"/>
<path class=b d="M538.7 356.9l-6.6-.6M520.7 350.5l6.6 2.4"/>
<path d="M130.7 330.9l11.4-7.5-6.6-14-11.4 4.9z" fill="#dbe9ea"/>
<path class=b d="M142.1 323.4l-6.6-14M124.1 314.3l6.6 16.6"/>
<path class=n d="M426.1 263.8l6.1 5.1-6.6-10.4-4.5-3.9z" fill="#b8acac"/>
<path class=n d="M420.8 259.4l5.3 4.4-5-9.2-6.9-6.2z" fill="#b89393"/>
<path d="M420.8 259.4l11.4 9.5M425.6 258.5l-11.4-10.1"/>
<path class=b d="M432.2 268.9l-6.6-10.4M414.2 248.4l6.6 11"/>
<line x1="426.1" y1="263.8" x2="421.1" y2="254.6" stroke="#960000" stroke-width="2.0" stroke-linecap="round"/>
<path d="M314.2 216.6l11.5-6.3-6.6-1.7-11.5 6.2z" fill="#d5aaaa"/>
<path class=b d="M325.7 210.3l-6.6-1.7M307.6 214.8l6.6 1.8"/>
<path d="M604.3 340.4l11.5-4.3-6.7 8.6-11.4 3.6z" fill="#a7b2b3"/>
<path class=b d="M615.8 336.1l-6.7 8.6M597.7 348.3l6.6-7.9"/>
<path d="M207.7 303.1l11.5-14.6-6.6-1.6-11.5 12.4z" fill="#e7d7d7"/>
<path class=b d="M219.2 288.5l-6.6-1.6M201.1 299.3l6.6 3.8"/>
<path d="M497.8 336.4l11.4 7.4-6.6-5-11.4-9.1z" fill="#acb7b8"/>
<path class=b d="M509.2 343.8l-6.6-5M491.2 329.7l6.6 6.7"/>
<path d="M391.3 233.4l11.4 6.5-6.6-9.5-11.4-6.6z" fill="#b18e8e"/>
<path class=b d="M402.7 239.9l-6.6-9.5M384.7 223.8l6.6 9.6"/>
<path d="M284.8 234.4l11.4-11-6.6 .4-11.5 10.4z" fill="#daaeae"/>
<path class=b d="M296.2 223.4l-6.6 .4M278.1 234.2l6.7 .2"/>
<path d="M574.8 353.2l11.5-2.1-6.6 6.2-11.5 .7z" fill="#a4aeaf"/>
<path class=b d="M586.3 351.1l-6.6 6.2M568.2 358l6.6-4.8"/>
<path class=n d="M178.2 325.1l11.5-13-6.6-5.9-11.5 10.4z" fill="#fae9e9"/>
<path d="M178.2 325.1l11.5-13M183.1 306.2l-11.5 10.4"/>
<path class=b d="M189.7 312.1l-6.6-5.9"/>
<path class=n d="M468.3 310.8l11.4 9.5-6.6-8.6-11.4-10.9z" fill="#baadad"/>
<path d="M468.3 310.8l11.4 9.5M473.1 311.7l-11.4-10.9"/>
<path class=b d="M461.7 300.8l6.6 10"/>
<path d="M361.8 217.5l11.4 1.9-6.6-7.3-11.4-1.8z" fill="#b49090"/>
<path class=b d="M373.2 219.4l-6.6-7.3M355.2 210.3l6.6 7.2"/>
<path d="M255.3 261l11.4-14.3-6.6 .8-11.4 13.2z" fill="#ddb1b1"/>
<path class=b d="M266.7 246.7l-6.6 .8M248.7 260.7l6.6 .3"/>
<line x1="171.6" y1="316.6" x2="165.0" y2="308.1" stroke="#000" stroke-width="1.9"/>
<path d="M545.3 356.5l11.5 1.2-6.6 2.2-11.5-3z" fill="#a0abac"/>
<path class=b d="M556.8 357.7l-6.6 2.2M538.7 356.9l6.6-.4"/>
<path d="M148.7 337.3l11.5-10.3-6.6-11.2-11.5 7.6z" fill="#fbffff"/>
<path class=b d="M160.2 327l-6.6-11.2M142.1 323.4l6.6 13.9"/>
<path d="M438.8 280.5l11.4 9.8-6.6-10.6-11.4-10.8z" fill="#b8acac"/>
<path class=b d="M450.2 290.3l-6.6-10.6M432.2 268.9l6.6 11.6"/>
<path d="M332.3 214.7l11.4-3.6-6.6-4.4-11.4 3.6z" fill="#d3a9a9"/>
<path class=b d="M343.7 211.1l-6.6-4.4M325.7 210.3l6.6 4.4"/>
<path class=n d="M622.4 327l11.4-4.9-6.6 9.3-11.4 4.7z" fill="#a8b3b4"/>
<path d="M627.2 331.4l-11.4 4.7"/>
<path class=b d="M633.8 322.1l-6.6 9.3M615.8 336.1l6.6-9.1"/>
<path d="M225.8 290.9l11.4-15.7-6.6-.6-11.4 13.9z" fill="#e3d4d4"/>
<path class=b d="M237.2 275.2l-6.6-.6M219.2 288.5l6.6 2.4"/>
<path d="M515.8 348.1l11.5 4.8-6.6-2.4-11.5-6.7z" fill="#a8b3b4"/>
<path class=b d="M527.3 352.9l-6.6-2.4M509.2 343.8l6.6 4.3"/>
<path d="M119.2 338.3l11.5-7.4-6.6-16.6-11.5 5z" fill="#d0dedf"/>
<path class=b d="M130.7 330.9l-6.6-16.6M112.6 319.3l6.6 19"/>
<path d="M409.3 251.4l11.5 8-6.6-11-11.5-8.5z" fill="#b49090"/>
<path class=b d="M420.8 259.4l-6.6-11M402.7 239.9l6.6 11.5"/>
<path d="M302.8 225.5l11.4-8.9-6.6-1.8-11.4 8.6z" fill="#deb2b2"/>
<path class=b d="M314.2 216.6l-6.6-1.8M296.2 223.4l6.6 2.1"/>
<path d="M592.9 344.2l11.4-3.8-6.6 7.9-11.4 2.8z" fill="#a7b1b3"/>
<path class=b d="M604.3 340.4l-6.6 7.9M586.3 351.1l6.6-6.9"/>
<path d="M196.3 318.3l11.4-15.2-6.6-3.8-11.4 12.8z" fill="#eedede"/>
<path class=b d="M207.7 303.1l-6.6-3.8M189.7 312.1l6.6 6.2"/>
<path class=n d="M486.4 328.8l11.4 7.6-6.6-6.7-11.5-9.4z" fill="#acb7b8"/>
<path class=n d="M486.4 328.8l0 0-6.7-8.5 0 0z" fill="#b8acac"/>
<path d="M486.4 328.8l11.4 7.6M491.2 329.7l-11.5-9.4"/>
<path class=b d="M497.8 336.4l-6.6-6.7"/>
<path d="M379.8 229.2l11.5 4.2-6.6-9.6-11.5-4.4z" fill="#ab8989"/>
<path class=b d="M391.3 233.4l-6.6-9.6M373.2 219.4l6.6 9.8"/>
<path d="M273.3 247.7l11.5-13.3-6.7-.2-11.4 12.5z" fill="#dfb2b2"/>
<path class=b d="M284.8 234.4l-6.7-.2M266.7 246.7l6.6 1"/>
<path d="M563.4 354.6l11.4-1.4-6.6 4.8-11.4-.3z" fill="#a3adae"/>
<path class=b d="M574.8 353.2l-6.6 4.8M556.8 357.7l6.6-3.1"/>
<path class=n d="M166.8 338.1l11.4-13-6.6-8.5-11.4 10.4z" fill="#f3ffff"/>
<path class=n d="M178.2 325.1l0 0-6.6-8.5 0 0z" fill="#fff3f3"/>
<path d="M166.8 338.1l11.4-13M171.6 316.6l-11.4 10.4"/>
<path class=b d="M160.2 327l6.6 11.1"/>
<path d="M456.9 301.7l11.4 9.1-6.6-10-11.5-10.5z" fill="#b8acac"/>
<path class=b d="M468.3 310.8l-6.6-10M450.2 290.3l6.7 11.4"/>
<path d="M350.3 218.3l11.5-.8-6.6-7.2-11.5 .8z" fill="#c79f9f"/>
<path class=b d="M361.8 217.5l-6.6-7.2M343.7 211.1l6.6 7.2"/>
<path class=n d="M243.8 276.9l2.9-4 2-12.2-11.5 14.5z" fill="#e2d2d2"/>
<path class=n d="M246.7 272.9l8.6-11.9-6.6-.3 0 0z" fill="#e2b4b4"/>
<path d="M243.8 276.9l11.5-15.9M248.7 260.7l-11.5 14.5"/>
<path class=b d="M255.3 261l-6.6-.3M237.2 275.2l6.6 1.7"/>
<line x1="246.7" y1="272.9" x2="248.6" y2="260.7" stroke="#960000" stroke-width="2.0" stroke-linecap="round"/>
<path d="M533.9 354.5l11.4 2-6.6 .4-11.4-4z" fill="#a2acad"/>
<path class=b d="M545.3 356.5l-6.6 .4M527.3 352.9l6.6 1.6"/>
<path d="M137.3 347.4l11.4-10.1-6.6-13.9-11.4 7.5z" fill="#e6f4f6"/>
<path class=b d="M148.7 337.3l-6.6-13.9M130.7 330.9l6.6 16.5"/>
<path class=n d="M429.6 273.6l9.2 6.9-6.6-11.6-6.1-5.1z" fill="#b5a9a9"/>
<path class=n d="M427.4 271.9l2.2 1.7-3.5-9.8-5.3-4.4z" fill="#b59191"/>
<path d="M427.4 271.9l11.4 8.6M432.2 268.9l-11.4-9.5"/>
<path class=b d="M438.8 280.5l-6.6-11.6M420.8 259.4l6.6 12.5"/>
<line x1="429.6" y1="273.6" x2="426.1" y2="263.8" stroke="#960000" stroke-width="2.0" stroke-linecap="round"/>
<path d="M320.8 221l11.5-6.3-6.6-4.4-11.5 6.3z" fill="#e4b7b7"/>
<path class=b d="M332.3 214.7l-6.6-4.4M314.2 216.6l6.6 4.4"/>
<path class=n d="M610.9 332l11.5-5-6.6 9.1-11.5 4.3z" fill="#a8b3b4"/>
<path d="M615.8 336.1l-11.5 4.3"/>
<path class=b d="M622.4 327l-6.6 9.1M604.3 340.4l6.6-8.4"/>
<path d="M214.3 307.5l11.5-16.6-6.6-2.4-11.5 14.6z" fill="#e8d9d9"/>
<path class=b d="M225.8 290.9l-6.6-2.4M207.7 303.1l6.6 4.4"/>
<path d="M504.4 342.9l11.4 5.2-6.6-4.3-11.4-7.4z" fill="#a8b3b4"/>
<path class=b d="M515.8 348.1l-6.6-4.3M497.8 336.4l6.6 6.5"/>
<path d="M107.8 345.3l11.4-7-6.6-19-11.4 4.9z" fill="#cad7d8"/>
<path class=b d="M119.2 338.3l-6.6-19M101.2 324.2l6.6 21.1"/>
<path d="M397.9 245.3l11.4 6.1-6.6-11.5-11.4-6.5z" fill="#ae8b8b"/>
<path class=b d="M409.3 251.4l-6.6-11.5M391.3 233.4l6.6 11.9"/>
<path d="M291.4 236.9l11.4-11.4-6.6-2.1-11.4 11z" fill="#e4b6b6"/>
<path class=b d="M302.8 225.5l-6.6-2.1M284.8 234.4l6.6 2.5"/>
<path d="M581.4 347.7l11.5-3.5-6.6 6.9-11.5 2.1z" fill="#a7b1b2"/>
<path class=b d="M592.9 344.2l-6.6 6.9M574.8 353.2l6.6-5.5"/>
<path class=n d="M184.8 333.7l11.5-15.4-6.6-6.2-11.5 13z" fill="#f5e4e4"/>
<path d="M184.8 333.7l11.5-15.4M189.7 312.1l-11.5 13"/>
<path class=b d="M196.3 318.3l-6.6-6.2"/>
<path class=n d="M474.9 321.2l11.5 7.6-6.7-8.5-11.4-9.5z" fill="#b6aaaa"/>
<path d="M474.9 321.2l11.5 7.6M479.7 320.3l-11.4-9.5"/>
<path class=b d="M468.3 310.8l6.6 10.4"/>
<path d="M368.4 227.4l11.4 1.8-6.6-9.8-11.4-1.9z" fill="#b79393"/>
<path class=b d="M379.8 229.2l-6.6-9.8M361.8 217.5l6.6 9.9"/>
<path d="M261.9 262.9l11.4-15.2-6.6-1-11.4 14.3z" fill="#e3b5b5"/>
<path class=b d="M273.3 247.7l-6.6-1M255.3 261l6.6 1.9"/>
<line x1="178.2" y1="325.1" x2="171.6" y2="316.6" stroke="#000" stroke-width="1.9"/>
<path d="M551.9 355.3l11.5-.7-6.6 3.1-11.5-1.2z" fill="#a2adae"/>
<path class=b d="M563.4 354.6l-6.6 3.1M545.3 356.5l6.6-1.2"/>
<path d="M155.3 351l11.5-12.9-6.6-11.1-11.5 10.3z" fill="#f2ffff"/>
<path class=b d="M166.8 338.1l-6.6-11.1M148.7 337.3l6.6 13.7"/>
<path d="M445.4 293.3l11.5 8.4-6.7-11.4-11.4-9.8z" fill="#b5a9a9"/>
<path class=b d="M456.9 301.7l-6.7-11.4M438.8 280.5l6.6 12.8"/>
<path d="M338.9 221.8l11.4-3.5-6.6-7.2-11.4 3.6z" fill="#e1b4b4"/>
<path class=b d="M350.3 218.3l-6.6-7.2M332.3 214.7l6.6 7.1"/>
<path class=n d="M629 318l11.4-5.2-6.6 9.3-11.4 4.9z" fill="#b5a9a9"/>
<path d="M629 318l11.4-5.2"/>
<path class=b d="M640.4 312.8l-6.6 9.3M622.4 327l6.6-9"/>
<path d="M232.4 294.2l11.4-17.3-6.6-1.7-11.4 15.7z" fill="#e6d6d6"/>
<path class=b d="M243.8 276.9l-6.6-1.7M225.8 290.9l6.6 3.3"/>
<path d="M522.4 351.9l11.5 2.6-6.6-1.6-11.5-4.8z" fill="#a2adae"/>
<path class=b d="M533.9 354.5l-6.6-1.6M515.8 348.1l6.6 3.8"/>
<path d="M125.9 357l11.4-9.6-6.6-16.5-11.5 7.4z" fill="#d9e6e8"/>
<path class=b d="M137.3 347.4l-6.6-16.5M119.2 338.3l6.7 18.7"/>
<path d="M415.9 264.8l11.5 7.1-6.6-12.5-11.5-8z" fill="#b18d8d"/>
<path class=b d="M427.4 271.9l-6.6-12.5M409.3 251.4l6.6 13.4"/>
<path d="M309.4 230l11.4-9-6.6-4.4-11.4 8.9z" fill="#edbebe"/>
<path class=b d="M320.8 221l-6.6-4.4M302.8 225.5l6.6 4.5"/>
<path class=n d="M599.5 336.9l11.4-4.9-6.6 8.4-11.4 3.8z" fill="#a9b4b5"/>
<path d="M604.3 340.4l-11.4 3.8"/>
<path class=b d="M610.9 332l-6.6 8.4M592.9 344.2l6.6-7.3"/>
<path d="M202.9 324.7l11.4-17.2-6.6-4.4-11.4 15.2z" fill="#eddddd"/>
<path class=b d="M214.3 307.5l-6.6-4.4M196.3 318.3l6.6 6.4"/>
<path class=n d="M493 337.3l11.4 5.6-6.6-6.5-11.4-7.6z" fill="#a7b2b3"/>
<path class=n d="M493 337.3l0 0-6.6-8.5 0 0z" fill="#b3a7a7"/>
<path d="M493 337.3l11.4 5.6M497.8 336.4l-11.4-7.6"/>
<path class=b d="M504.4 342.9l-6.6-6.5"/>
<path d="M96.4 352.1l11.4-6.8-6.6-21.1-11.4 5z" fill="#c5d2d4"/>
<path class=b d="M107.8 345.3l-6.6-21.1M89.8 329.2l6.6 22.9"/>
<path d="M386.4 241.4l11.5 3.9-6.6-11.9-11.5-4.2z" fill="#ae8b8b"/>
<path class=b d="M397.9 245.3l-6.6-11.9M379.8 229.2l6.6 12.2"/>
<path d="M279.9 250.7l11.5-13.8-6.6-2.5-11.5 13.3z" fill="#e7b9b9"/>
<path class=b d="M291.4 236.9l-6.6-2.5M273.3 247.7l6.6 3"/>
<path d="M570 350.8l11.4-3.1-6.6 5.5-11.4 1.4z" fill="#a7b2b3"/>
<path class=b d="M581.4 347.7l-6.6 5.5M563.4 354.6l6.6-3.8"/>
<path class=n d="M173.4 349.1l11.4-15.4-6.6-8.6-11.4 13z" fill="#e9f7f9"/>
<path class=n d="M184.8 333.7l0 0-6.6-8.6 0 0z" fill="#f9e9e9"/>
<path d="M173.4 349.1l11.4-15.4M178.2 325.1l-11.4 13"/>
<path class=b d="M166.8 338.1l6.6 11"/>
<path d="M463.5 313.8l11.4 7.4-6.6-10.4-11.4-9.1z" fill="#b4a8a8"/>
<path class=b d="M474.9 321.2l-6.6-10.4M456.9 301.7l6.6 12.1"/>
<path d="M357 228.2l11.4-.8-6.6-9.9-11.5 .8z" fill="#cba3a3"/>
<path class=b d="M368.4 227.4l-6.6-9.9M350.3 218.3l6.7 9.9"/>
<path class=n d="M246.7 272.9l-2.9 4 3.4 1.6z" fill="#e6d6d6"/>
<path class=n d="M250.4 280l11.5-17.1-6.6-1.9-8.6 11.9 .5 5.6z" fill="#e6b8b8"/>
<path d="M250.4 280l11.5-17.1M255.3 261l-11.5 15.9"/>
<path class=b d="M261.9 262.9l-6.6-1.9M243.8 276.9l6.6 3.1"/>
<line x1="246.7" y1="272.9" x2="247.2" y2="278.5" stroke="#960000" stroke-width="2.0" stroke-linecap="round"/>
<path d="M540.5 355.5l11.4-.2-6.6 1.2-11.4-2z" fill="#a2adae"/>
<path class=b d="M551.9 355.3l-6.6 1.2M533.9 354.5l6.6 1"/>
<path d="M143.9 363.4l11.4-12.4-6.6-13.7-11.4 10.1z" fill="#e9f7f9"/>
<path class=b d="M155.3 351l-6.6-13.7M137.3 347.4l6.6 16"/>
<path class=n d="M434 285.9l11.4 7.4-6.6-12.8-9.2-6.9 1 5.2z" fill="#b1a6a6"/>
<path class=n d="M429.6 273.6l-2.2-1.7 3.2 6.9z" fill="#b18e8e"/>
<path d="M434 285.9l11.4 7.4M438.8 280.5l-11.4-8.6"/>
<path class=b d="M445.4 293.3l-6.6-12.8M427.4 271.9l6.6 14"/>
<line x1="429.6" y1="273.6" x2="430.6" y2="278.8" stroke="#960000" stroke-width="2.0" stroke-linecap="round"/>
<path d="M327.5 228.1l11.4-6.3-6.6-7.1-11.5 6.3z" fill="#f9c8c8"/>
<path class=b d="M338.9 221.8l-6.6-7.1M320.8 221l6.7 7.1"/>
<line x1="622.4" y1="327.0" x2="633.8" y2="322.1" stroke="#000" stroke-width="1.9" stroke-dasharray="12.0 7.46" stroke-dashoffset="7.36"/>
<path class=n d="M617.5 323.6l11.5-5.6-6.6 9-11.5 5z" fill="#b6aaaa"/>
<path d="M617.5 323.6l11.5-5.6"/>
<path class=b d="M629 318l-6.6 9M610.9 332l6.6-8.4"/>
<path d="M220.9 312.4l11.5-18.2-6.6-3.3-11.5 16.6z" fill="#e9dada"/>
<path class=b d="M232.4 294.2l-6.6-3.3M214.3 307.5l6.6 4.9"/>
<path d="M511 349l11.4 2.9-6.6-3.8-11.4-5.2z" fill="#a2acad"/>
<path class=b d="M522.4 351.9l-6.6-3.8M504.4 342.9l6.6 6.1"/>
<path d="M114.4 366.1l11.5-9.1-6.7-18.7-11.4 7z" fill="#d0dedf"/>
<path class=b d="M125.9 357l-6.7-18.7M107.8 345.3l6.6 20.8"/>
<path d="M404.5 259.4l11.4 5.4-6.6-13.4-11.4-6.1z" fill="#aa8888"/>
<path class=b d="M415.9 264.8l-6.6-13.4M397.9 245.3l6.6 14.1"/>
<path d="M298 241.7l11.4-11.7-6.6-4.5-11.4 11.4z" fill="#efbfbf"/>
<path class=b d="M309.4 230l-6.6-4.5M291.4 236.9l6.6 4.8"/>
<path class=n d="M588 341.8l11.5-4.9-6.6 7.3-11.5 3.5z" fill="#aab5b6"/>
<path d="M592.9 344.2l-11.5 3.5"/>
<path class=b d="M599.5 336.9l-6.6 7.3M581.4 347.7l6.6-5.9"/>
<path class=n d="M191.4 342.2l11.5-17.5-6.6-6.4-11.5 15.4z" fill="#f1e1e1"/>
<path d="M191.4 342.2l11.5-17.5M196.3 318.3l-11.5 15.4"/>
<path class=b d="M202.9 324.7l-6.6-6.4"/>
<path class=n d="M481.5 331.8l11.5 5.5-6.6-8.5-11.5-7.6z" fill="#b1a5a5"/>
<path d="M481.5 331.8l11.5 5.5M486.4 328.8l-11.5-7.6"/>
<path class=b d="M474.9 321.2l6.6 10.6"/>
<path d="M84.9 358.5l11.5-6.4-6.6-22.9-11.5 4.9z" fill="#c2cfd0"/>
<path class=b d="M96.4 352.1l-6.6-22.9M78.3 334.1l6.6 24.4"/>
<path d="M375 239.9l11.4 1.5-6.6-12.2-11.4-1.8z" fill="#bb9595"/>
<path class=b d="M386.4 241.4l-6.6-12.2M368.4 227.4l6.6 12.5"/>
<path d="M268.5 266.7l11.4-16-6.6-3-11.4 15.2z" fill="#e8baba"/>
<path class=b d="M279.9 250.7l-6.6-3M261.9 262.9l6.6 3.8"/>
<line x1="184.8" y1="333.7" x2="178.2" y2="325.1" stroke="#000" stroke-width="1.9"/>
<path d="M558.6 353.6l11.4-2.8-6.6 3.8-11.5 .7z" fill="#a8b3b4"/>
<path class=b d="M570 350.8l-6.6 3.8M551.9 355.3l6.7-1.7"/>
<path d="M162 364.2l11.4-15.1-6.6-11-11.5 12.9z" fill="#eaf8fa"/>
<path class=b d="M173.4 349.1l-6.6-11M155.3 351l6.7 13.2"/>
<path d="M452 307.1l11.5 6.7-6.6-12.1-11.5-8.4z" fill="#b1a5a5"/>
<path class=b d="M463.5 313.8l-6.6-12.1M445.4 293.3l6.6 13.8"/>
<path d="M345.5 231.7l11.5-3.5-6.7-9.9-11.4 3.5z" fill="#e8baba"/>
<path class=b d="M357 228.2l-6.7-9.9M338.9 221.8l6.6 9.9"/>
<path d="M635.6 309.4l11.4-5.4-6.6 8.8-11.4 5.2z" fill="#b6aaaa"/>
<path class=b d="M647 304l-6.6 8.8M629 318l6.6-8.6"/>
<path class=n d="M239 298.5l9.2-14.8-1-5.2-3.4-1.6-11.4 17.3z" fill="#e8d8d8"/>
<path class=n d="M248.2 283.7l2.2-3.7-3.2-1.5z" fill="#e8b9b9"/>
<path d="M239 298.5l11.4-18.5M243.8 276.9l-11.4 17.3"/>
<path class=b d="M250.4 280l-6.6-3.1M232.4 294.2l6.6 4.3"/>
<line x1="248.2" y1="283.7" x2="247.2" y2="278.5" stroke="#960000" stroke-width="2.0" stroke-linecap="round"/>
<path d="M529.1 355.4l11.4 .1-6.6-1-11.5-2.6z" fill="#a3aeaf"/>
<path class=b d="M540.5 355.5l-6.6-1M522.4 351.9l6.7 3.5"/>
<path d="M132.5 375.2l11.4-11.8-6.6-16-11.4 9.6z" fill="#deecee"/>
<path class=b d="M143.9 363.4l-6.6-16M125.9 357l6.6 18.2"/>
<path class=n d="M431.1 284.4l2.9 1.5-3.4-7.1z" fill="#aca1a1"/>
<path class=n d="M422.5 279.9l8.6 4.5-.5-5.6-3.2-6.9-11.5-7.1z" fill="#ac8a8a"/>
<path d="M422.5 279.9l11.5 6M427.4 271.9l-11.5-7.1"/>
<path class=b d="M434 285.9l-6.6-14M415.9 264.8l6.6 15.1"/>
<line x1="431.1" y1="284.4" x2="430.6" y2="278.8" stroke="#960000" stroke-width="2.0" stroke-linecap="round"/>
<path d="M316 237.2l11.5-9.1-6.7-7.1-11.4 9z" fill="#ffcece"/>
<path class=b d="M327.5 228.1l-6.7-7.1M309.4 230l6.6 7.2"/>
<line x1="610.9" y1="332.0" x2="622.4" y2="327.0" stroke="#000" stroke-width="1.9" stroke-dasharray="12.0 7.46" stroke-dashoffset="14.36"/>
<path class=n d="M606.1 329.6l11.4-6-6.6 8.4-11.4 4.9z" fill="#b8abab"/>
<path d="M606.1 329.6l11.4-6"/>
<path class=b d="M617.5 323.6l-6.6 8.4M599.5 336.9l6.6-7.3"/>
<path d="M209.5 331.4l11.4-19-6.6-4.9-11.4 17.2z" fill="#ecdcdc"/>
<path class=b d="M220.9 312.4l-6.6-4.9M202.9 324.7l6.6 6.7"/>
<path class=n d="M499.6 345.9l11.4 3.1-6.6-6.1-11.4-5.6z" fill="#a0abac"/>
<path class=n d="M499.6 345.9l0 0-6.6-8.6 0 0z" fill="#aca0a0"/>
<path d="M499.6 345.9l11.4 3.1M504.4 342.9l-11.4-5.6"/>
<path class=b d="M511 349l-6.6-6.1"/>
<path d="M103 374.6l11.4-8.5-6.6-20.8-11.4 6.8z" fill="#cbd8d9"/>
<path class=b d="M114.4 366.1l-6.6-20.8M96.4 352.1l6.6 22.5"/>
<path d="M393 256l11.5 3.4-6.6-14.1-11.5-3.9z" fill="#b28e8e"/>
<path class=b d="M404.5 259.4l-6.6-14.1M386.4 241.4l6.6 14.6"/>
<path d="M286.5 255.9l11.5-14.2-6.6-4.8-11.5 13.8z" fill="#eebfbf"/>
<path class=b d="M298 241.7l-6.6-4.8M279.9 250.7l6.6 5.2"/>
<path class=n d="M576.6 346.8l11.4-5-6.6 5.9-11.4 3.1z" fill="#acb7b8"/>
<path d="M581.4 347.7l-11.4 3.1"/>
<path class=b d="M588 341.8l-6.6 5.9M570 350.8l6.6-4"/>
<path class=n d="M180 359.7l11.4-17.5-6.6-8.5-11.4 15.4z" fill="#e3f2f3"/>
<path class=n d="M191.4 342.2l0 0-6.6-8.5 0 0z" fill="#f3e3e3"/>
<path d="M180 359.7l11.4-17.5M184.8 333.7l-11.4 15.4"/>
<path class=b d="M173.4 349.1l6.6 10.6"/>
<path d="M470.1 326.6l11.4 5.2-6.6-10.6-11.4-7.4z" fill="#aea3a3"/>
<path class=b d="M481.5 331.8l-6.6-10.6M463.5 313.8l6.6 12.8"/>
<path d="M73.5 364.5l11.4-6-6.6-24.4-11.4 4.9z" fill="#c0cdce"/>
<path class=b d="M84.9 358.5l-6.6-24.4M66.9 339l6.6 25.5"/>
<path d="M363.6 240.8l11.4-.9-6.6-12.5-11.4 .8z" fill="#cca3a3"/>
<path class=b d="M375 239.9l-6.6-12.5M357 228.2l6.6 12.6"/>
<path d="M257 284.5l11.5-17.8-6.6-3.8-11.5 17.1z" fill="#e9baba"/>
<path class=b d="M268.5 266.7l-6.6-3.8M250.4 280l6.6 4.5"/>
<path d="M547.1 356.2l11.5-2.6-6.7 1.7-11.4 .2z" fill="#aab5b7"/>
<path class=b d="M558.6 353.6l-6.7 1.7M540.5 355.5l6.6 .7"/>
<path d="M150.5 378.8l11.5-14.6-6.7-13.2-11.4 12.4z" fill="#e7f5f7"/>
<path class=b d="M162 364.2l-6.7-13.2M143.9 363.4l6.6 15.4"/>
<path d="M440.6 301.3l11.4 5.8-6.6-13.8-11.4-7.4z" fill="#aca1a1"/>
<path class=b d="M452 307.1l-6.6-13.8M434 285.9l6.6 15.4"/>
<path d="M334.1 238.1l11.4-6.4-6.6-9.9-11.4 6.3z" fill="#ffe2e2"/>
<path class=b d="M345.5 231.7l-6.6-9.9M327.5 228.1l6.6 10"/>
<path d="M624.1 315.6l11.5-6.2-6.6 8.6-11.5 5.6z" fill="#b8acac"/>
<path class=b d="M635.6 309.4l-6.6 8.6M617.5 323.6l6.6-8"/>
<path d="M227.6 318.1l11.4-19.6-6.6-4.3-11.5 18.2z" fill="#eadada"/>
<path class=b d="M239 298.5l-6.6-4.3M220.9 312.4l6.7 5.7"/>
<path d="M517.6 355l11.5 .4-6.7-3.5-11.4-2.9z" fill="#a5b0b1"/>
<path class=b d="M529.1 355.4l-6.7-3.5M511 349l6.6 6"/>
<path d="M121 386.3l11.5-11.1-6.6-18.2-11.5 9.1z" fill="#d6e4e5"/>
<path class=b d="M132.5 375.2l-6.6-18.2M114.4 366.1l6.6 20.2"/>
<path d="M411.1 275.5l11.4 4.4-6.6-15.1-11.4-5.4z" fill="#ae8b8b"/>
<path class=b d="M422.5 279.9l-6.6-15.1M404.5 259.4l6.6 16.1"/>
<path d="M304.6 249l11.4-11.8-6.6-7.2-11.4 11.7z" fill="#fac8c8"/>
<path class=b d="M316 237.2l-6.6-7.2M298 241.7l6.6 7.3"/>
<line x1="599.5" y1="336.9" x2="610.9" y2="332.0" stroke="#000" stroke-width="1.9" stroke-dasharray="12.0 7.46" stroke-dashoffset="1.90"/>
<path class=n d="M594.6 336l11.5-6.4-6.6 7.3-11.5 4.9z" fill="#baaeae"/>
<path d="M594.6 336l11.5-6.4"/>
<path class=b d="M606.1 329.6l-6.6 7.3M588 341.8l6.6-5.8"/>
<path class=n d="M198.1 350.7l11.4-19.3-6.6-6.7-11.5 17.5z" fill="#eedede"/>
<path d="M198.1 350.7l11.4-19.3M202.9 324.7l-11.5 17.5"/>
<path class=b d="M209.5 331.4l-6.6-6.7"/>
<path class=n d="M488.1 342.7l11.5 3.2-6.6-8.6-11.5-5.5z" fill="#ab9f9f"/>
<path d="M488.1 342.7l11.5 3.2M493 337.3l-11.5-5.5"/>
<path class=b d="M481.5 331.8l6.6 10.9"/>
<path d="M91.5 382.5l11.5-7.9-6.6-22.5-11.5 6.4z" fill="#c6d3d5"/>
<path class=b d="M103 374.6l-6.6-22.5M84.9 358.5l6.6 24"/>
<path d="M381.6 254.9l11.4 1.1-6.6-14.6-11.4-1.5z" fill="#bd9797"/>
<path class=b d="M393 256l-6.6-14.6M375 239.9l6.6 15"/>
<path d="M275.1 272.2l11.4-16.3-6.6-5.2-11.4 16z" fill="#edbebe"/>
<path class=b d="M286.5 255.9l-6.6-5.2M268.5 266.7l6.6 5.5"/>
<line x1="191.4" y1="342.2" x2="184.8" y2="333.7" stroke="#000" stroke-width="1.9"/>
<path class=n d="M565.2 351.7l11.4-4.9-6.6 4-11.4 2.8z" fill="#afbabb"/>
<path d="M570 350.8l-11.4 2.8"/>
<path class=b d="M576.6 346.8l-6.6 4M558.6 353.6l6.6-1.9"/>
<path d="M168.6 376.9l11.4-17.2-6.6-10.6-11.4 15.1z" fill="#e4f3f5"/>
<path class=b d="M180 359.7l-6.6-10.6M162 364.2l6.6 12.7"/>
<path d="M458.6 321.8l11.5 4.8-6.6-12.8-11.5-6.7z" fill="#aa9f9f"/>
<path class=b d="M470.1 326.6l-6.6-12.8M452 307.1l6.6 14.7"/>
<path d="M62.1 370.1l11.4-5.6-6.6-25.5-11.5 5z" fill="#bfcbcd"/>
<path class=b d="M73.5 364.5l-6.6-25.5M55.4 344l6.7 26.1"/>
<path d="M352.1 244.4l11.5-3.6-6.6-12.6-11.5 3.5z" fill="#e3b6b6"/>
<path class=b d="M363.6 240.8l-6.6-12.6M345.5 231.7l6.6 12.7"/>
<path d="M642.2 301.7l11.4-5.6-6.6 7.9-11.4 5.4z" fill="#b8abab"/>
<path class=b d="M653.6 296.1l-6.6 7.9M635.6 309.4l6.6-7.7"/>
<path class=n d="M245.6 303.9l6.1-10.4-3.5-9.8-9.2 14.8z" fill="#eadada"/>
<path class=n d="M251.7 293.5l5.3-9-6.6-4.5-2.2 3.7z" fill="#eabbbb"/>
<path d="M245.6 303.9l11.4-19.4M250.4 280l-11.4 18.5"/>
<path class=b d="M257 284.5l-6.6-4.5M239 298.5l6.6 5.4"/>
<line x1="251.7" y1="293.5" x2="248.2" y2="283.7" stroke="#960000" stroke-width="2.0" stroke-linecap="round"/>
<path d="M535.7 358.6l11.4-2.4-6.6-.7-11.4-.1z" fill="#aeb9bb"/>
<path class=b d="M547.1 356.2l-6.6-.7M529.1 355.4l6.6 3.2"/>
<path d="M139.1 392.7l11.4-13.9-6.6-15.4-11.4 11.8z" fill="#e1f0f1"/>
<path class=b d="M150.5 378.8l-6.6-15.4M132.5 375.2l6.6 17.5"/>
<path class=n d="M429.2 296.6l11.4 4.7-6.6-15.4-2.9-1.5-1.9 12.2z" fill="#ada1a1"/>
<path class=n d="M429.2 296.6l0 0 1.9-12.2-8.6-4.5z" fill="#ad8a8a"/>
<path d="M429.2 296.6l11.4 4.7M434 285.9l-11.5-6"/>
<path class=b d="M440.6 301.3l-6.6-15.4M422.5 279.9l6.7 16.7"/>
<line x1="429.2" y1="296.6" x2="431.1" y2="284.4" stroke="#960000" stroke-width="2.0" stroke-linecap="round"/>
<path d="M322.6 247.1l11.5-9-6.6-10-11.5 9.1z" fill="#ffe3e3"/>
<path class=b d="M334.1 238.1l-6.6-10M316 237.2l6.6 9.9"/>
<path d="M612.7 322.7l11.4-7.1-6.6 8-11.4 6z" fill="#bbaeae"/>
<path class=b d="M624.1 315.6l-6.6 8M606.1 329.6l6.6-6.9"/>
<path d="M216.1 338.5l11.5-20.4-6.7-5.7-11.4 19z" fill="#ebdbdb"/>
<path class=b d="M227.6 318.1l-6.7-5.7M209.5 331.4l6.6 7.1"/>
<path class=n d="M506.2 354.4l11.4 .6-6.6-6-11.4-3.1z" fill="#a8b3b4"/>
<path class=n d="M506.2 354.4l0 0-6.6-8.5 0 0z" fill="#b4a8a8"/>
<path d="M506.2 354.4l11.4 .6M511 349l-11.4-3.1"/>
<path class=b d="M517.6 355l-6.6-6"/>
<path d="M109.6 396.5l11.4-10.2-6.6-20.2-11.4 8.5z" fill="#d0dddf"/>
<path class=b d="M121 386.3l-6.6-20.2M103 374.6l6.6 21.9"/>
<path d="M399.7 272.9l11.4 2.6-6.6-16.1-11.5-3.4z" fill="#b69191"/>
<path class=b d="M411.1 275.5l-6.6-16.1M393 256l6.7 16.9"/>
<path d="M293.1 263.3l11.5-14.3-6.6-7.3-11.5 14.2z" fill="#f5c4c4"/>
<path class=b d="M304.6 249l-6.6-7.3M286.5 255.9l6.6 7.4"/>
<line x1="588.0" y1="341.9" x2="599.5" y2="336.9" stroke="#000" stroke-width="1.9" stroke-dasharray="12.0 7.46" stroke-dashoffset="8.90"/>
<path class=n d="M583.2 342.7l11.4-6.7-6.6 5.8-11.4 5z" fill="#beb1b1"/>
<path d="M583.2 342.7l11.4-6.7"/>
<path class=b d="M594.6 336l-6.6 5.8M576.6 346.8l6.6-4.1"/>
<path class=n d="M186.6 370.1l11.5-19.4-6.7-8.5-11.4 17.5z" fill="#e0eef0"/>
<path class=n d="M198.1 350.7l0 0-6.7-8.5 0 0z" fill="#f0e0e0"/>
<path d="M186.6 370.1l11.5-19.4M191.4 342.2l-11.4 17.5"/>
<path class=b d="M180 359.7l6.6 10.4"/>
<path d="M476.7 339.8l11.4 2.9-6.6-10.9-11.4-5.2z" fill="#aea3a3"/>
<path class=b d="M488.1 342.7l-6.6-10.9M470.1 326.6l6.6 13.2"/>
<path d="M80.1 389.5l11.4-7-6.6-24-11.4 6z" fill="#c3d0d1"/>
<path class=b d="M91.5 382.5l-6.6-24M73.5 364.5l6.6 25"/>
<path d="M370.2 256.1l11.4-1.2-6.6-15-11.4 .9z" fill="#cba2a2"/>
<path class=b d="M381.6 254.9l-6.6-15M363.6 240.8l6.6 15.3"/>
<path d="M263.6 290.6l11.5-18.4-6.6-5.5-11.5 17.8z" fill="#ecbdbd"/>
<path class=b d="M275.1 272.2l-6.6-5.5M257 284.5l6.6 6.1"/>
<path class=n d="M553.7 356.7l11.5-5-6.6 1.9-11.5 2.6z" fill="#b3bfc0"/>
<path d="M558.6 353.6l-11.5 2.6"/>
<path class=b d="M565.2 351.7l-6.6 1.9M547.1 356.2l6.6 .5"/>
<path d="M157.1 393.5l11.5-16.6-6.6-12.7-11.5 14.6z" fill="#e4f3f4"/>
<path class=b d="M168.6 376.9l-6.6-12.7M150.5 378.8l6.6 14.7"/>
<path d="M447.2 317.8l11.4 4-6.6-14.7-11.4-5.8z" fill="#aea2a2"/>
<path class=b d="M458.6 321.8l-6.6-14.7M440.6 301.3l6.6 16.5"/>
<path d="M50.6 375.2l11.5-5.1-6.7-26.1-11.4 4.9z" fill="#becacb"/>
<path class=b d="M62.1 370.1l-6.7-26.1M44 348.9l6.6 26.3"/>
<path d="M340.7 250.7l11.4-6.3-6.6-12.7-11.4 6.4z" fill="#ffd0d0"/>
<path class=b d="M352.1 244.4l-6.6-12.7M334.1 238.1l6.6 12.6"/>
<path d="M630.8 308.5l11.4-6.8-6.6 7.7-11.5 6.2z" fill="#bbaeae"/>
<path class=b d="M642.2 301.7l-6.6 7.7M624.1 315.6l6.7-7.1"/>
<path d="M234.2 324.5l11.4-20.6-6.6-5.4-11.4 19.6z" fill="#eadada"/>
<path class=b d="M245.6 303.9l-6.6-5.4M227.6 318.1l6.6 6.4"/>
<path d="M524.2 360.8l11.5-2.2-6.6-3.2-11.5-.4z" fill="#b3bfc0"/>
<path class=b d="M535.7 358.6l-6.6-3.2M517.6 355l6.6 5.8"/>
<path d="M127.6 405.6l11.5-12.9-6.6-17.5-11.5 11.1z" fill="#dbe9eb"/>
<path class=b d="M139.1 392.7l-6.6-17.5M121 386.3l6.6 19.3"/>
<path d="M417.7 293.4l11.5 3.2-6.7-16.7-11.4-4.4z" fill="#b38f8f"/>
<path class=b d="M429.2 296.6l-6.7-16.7M411.1 275.5l6.6 17.9"/>
<path d="M311.2 258.8l11.4-11.7-6.6-9.9-11.4 11.8z" fill="#ffd1d1"/>
<path class=b d="M322.6 247.1l-6.6-9.9M304.6 249l6.6 9.8"/>
<path d="M601.3 330.5l11.4-7.8-6.6 6.9-11.5 6.4z" fill="#bfb2b2"/>
<path class=b d="M612.7 322.7l-6.6 6.9M594.6 336l6.7-5.5"/>
<path class=n d="M204.7 359.3l11.4-20.8-6.6-7.1-11.4 19.3z" fill="#ecdddd"/>
<path d="M204.7 359.3l11.4-20.8M209.5 331.4l-11.4 19.3"/>
<path class=b d="M216.1 338.5l-6.6-7.1"/>
<path class=n d="M494.7 353.8l11.5 .6-6.6-8.5-11.5-3.2z" fill="#b7abab"/>
<path d="M494.7 353.8l11.5 .6M499.6 345.9l-11.5-3.2"/>
<path class=b d="M488.1 342.7l6.6 11.1"/>
<path d="M98.1 405.7l11.5-9.2-6.6-21.9-11.5 7.9z" fill="#cbd8d9"/>
<path class=b d="M109.6 396.5l-6.6-21.9M91.5 382.5l6.6 23.2"/>
<path d="M388.2 272.3l11.5 .6-6.7-16.9-11.4-1.1z" fill="#bf9999"/>
<path class=b d="M399.7 272.9l-6.7-16.9M381.6 254.9l6.6 17.4"/>
<path d="M281.7 279.8l11.4-16.5-6.6-7.4-11.4 16.3z" fill="#f1c1c1"/>
<path class=b d="M293.1 263.3l-6.6-7.4M275.1 272.2l6.6 7.6"/>
<line x1="576.6" y1="346.8" x2="588.0" y2="341.9" stroke="#000" stroke-width="1.9" stroke-dasharray="12.0 7.46" stroke-dashoffset="15.90"/>
<line x1="198.1" y1="350.7" x2="191.4" y2="342.2" stroke="#000" stroke-width="1.9"/>
<path class=n d="M571.8 349.8l11.4-7.1-6.6 4.1-11.4 4.9z" fill="#c3b6b6"/>
<path d="M571.8 349.8l11.4-7.1"/>
<path class=b d="M583.2 342.7l-6.6 4.1M565.2 351.7l6.6-1.9"/>
<path d="M175.2 389l11.4-18.9-6.6-10.4-11.4 17.2z" fill="#e1f0f1"/>
<path class=b d="M186.6 370.1l-6.6-10.4M168.6 376.9l6.6 12.1"/>
<path d="M465.2 337.2l11.5 2.6-6.6-13.2-11.5-4.8z" fill="#b2a6a6"/>
<path class=b d="M476.7 339.8l-6.6-13.2M458.6 321.8l6.6 15.4"/>
<path d="M68.7 395.7l11.4-6.2-6.6-25-11.4 5.6z" fill="#c1cdcf"/>
<path class=b d="M80.1 389.5l-6.6-25M62.1 370.1l6.6 25.6"/>
<path d="M358.7 259.8l11.5-3.7-6.6-15.3-11.5 3.6z" fill="#dbafaf"/>
<path class=b d="M370.2 256.1l-6.6-15.3M352.1 244.4l6.6 15.4"/>
<path class=n d="M655.9 293.8l-2.3 2.3-11.4 5.6 2.6-2.6z" fill="#baaeae"/>
<path class=n d="M648.8 295.2l11.4-5.8-4.3 4.4-11.1 5.3z" fill="#ba9595"/>
<path d="M648.8 295.2l11.4-5.8M653.6 296.1l-11.4 5.6"/>
<path class=b d="M660.2 289.4l-6.6 6.7M642.2 301.7l6.6-6.5"/>
<line x1="655.9" y1="293.8" x2="644.8" y2="299.1" stroke="#960000" stroke-width="2.0" stroke-linecap="round"/>
<path class=n d="M252.2 310.5l4.5-7.8-5-9.2-6.1 10.4z" fill="#ebdbdb"/>
<path class=n d="M256.7 302.7l6.9-12.1-6.6-6.1-5.3 9z" fill="#ebbcbc"/>
<path d="M252.2 310.5l11.4-19.9M257 284.5l-11.4 19.4"/>
<path class=b d="M263.6 290.6l-6.6-6.1M245.6 303.9l6.6 6.6"/>
<line x1="256.7" y1="302.7" x2="251.7" y2="293.5" stroke="#960000" stroke-width="2.0" stroke-linecap="round"/>
<path class=n d="M542.3 361.6l11.4-4.9-6.6-.5-11.4 2.4z" fill="#bbc7c8"/>
<path d="M547.1 356.2l-11.4 2.4"/>
<path class=b d="M553.7 356.7l-6.6-.5M535.7 358.6l6.6 3"/>
<path d="M145.7 409.2l11.4-15.7-6.6-14.7-11.4 13.9z" fill="#e2f0f2"/>
<path class=b d="M157.1 393.5l-6.6-14.7M139.1 392.7l6.6 16.5"/>
<path d="M435.8 314.8l11.4 3-6.6-16.5-11.4-4.7z" fill="#b3a7a7"/>
<path class=b d="M447.2 317.8l-6.6-16.5M429.2 296.6l6.6 18.2"/>
<line x1="429.2" y1="296.6" x2="429.2" y2="296.6" stroke="#960000" stroke-width="2.0" stroke-linecap="round"/>
<path d="M329.2 259.6l11.5-8.9-6.6-12.6-11.5 9z" fill="#ffdada"/>
<path class=b d="M340.7 250.7l-6.6-12.6M322.6 247.1l6.6 12.5"/>
<path d="M619.3 316.5l11.5-8-6.7 7.1-11.4 7.1z" fill="#bfb2b2"/>
<path class=b d="M630.8 308.5l-6.7 7.1M612.7 322.7l6.6-6.2"/>
<path d="M222.7 346l11.5-21.5-6.6-6.4-11.5 20.4z" fill="#ebdbdb"/>
<path class=b d="M234.2 324.5l-6.6-6.4M216.1 338.5l6.6 7.5"/>
<path class=n d="M512.8 362.9l11.4-2.1-6.6-5.8-11.4-.6z" fill="#bac6c7"/>
<path class=n d="M512.8 362.9l0 0-6.6-8.5 0 0z" fill="#c7baba"/>
<path d="M512.8 362.9l11.4-2.1M517.6 355l-11.4-.6"/>
<path class=b d="M524.2 360.8l-6.6-5.8"/>
<path d="M116.2 417.4l11.4-11.8-6.6-19.3-11.4 10.2z" fill="#d5e3e4"/>
<path class=b d="M127.6 405.6l-6.6-19.3M109.6 396.5l6.6 20.9"/>
<path d="M406.3 291.7l11.4 1.7-6.6-17.9-11.4-2.6z" fill="#ba9595"/>
<path class=b d="M417.7 293.4l-6.6-17.9M399.7 272.9l6.6 18.8"/>
<path d="M299.8 272.9l11.4-14.1-6.6-9.8-11.5 14.3z" fill="#f9c8c8"/>
<path class=b d="M311.2 258.8l-6.6-9.8M293.1 263.3l6.7 9.6"/>
<path d="M589.8 339l11.5-8.5-6.7 5.5-11.4 6.7z" fill="#c3b6b6"/>
<path class=b d="M601.3 330.5l-6.7 5.5M583.2 342.7l6.6-3.7"/>
<path class=n d="M193.2 380.1l11.5-20.8-6.6-8.6-11.5 19.4z" fill="#deecee"/>
<path class=n d="M204.7 359.3l0 0-6.6-8.6 0 0z" fill="#eedede"/>
<path d="M193.2 380.1l11.5-20.8M198.1 350.7l-11.5 19.4"/>
<path class=b d="M186.6 370.1l6.6 10"/>
<path d="M483.3 353.4l11.4 .4-6.6-11.1-11.4-2.9z" fill="#bbaeae"/>
<path class=b d="M494.7 353.8l-6.6-11.1M476.7 339.8l6.6 13.6"/>
<path d="M86.7 413.7l11.4-8-6.6-23.2-11.4 7z" fill="#c7d4d5"/>
<path class=b d="M98.1 405.7l-6.6-23.2M80.1 389.5l6.6 24.2"/>
<path d="M376.8 273.8l11.4-1.5-6.6-17.4-11.4 1.2z" fill="#caa1a1"/>
<path class=b d="M388.2 272.3l-6.6-17.4M370.2 256.1l6.6 17.7"/>
<path d="M270.3 298.3l11.4-18.5-6.6-7.6-11.5 18.4z" fill="#eebfbf"/>
<path class=b d="M281.7 279.8l-6.6-7.6M263.6 290.6l6.7 7.7"/>
<line x1="565.2" y1="351.7" x2="576.6" y2="346.8" stroke="#000" stroke-width="1.9" stroke-dasharray="12.0 7.46" stroke-dashoffset="3.44"/>
<path class=n d="M560.3 357.1l11.5-7.3-6.6 1.9-11.5 5z" fill="#cabcbc"/>
<path d="M560.3 357.1l11.5-7.3"/>
<path class=b d="M571.8 349.8l-6.6 1.9M553.7 356.7l6.6 .4"/>
<path d="M163.7 407.3l11.5-18.3-6.6-12.1-11.5 16.6z" fill="#e2f0f2"/>
<path class=b d="M175.2 389l-6.6-12.1M157.1 393.5l6.6 13.8"/>
<path d="M453.8 335.3l11.4 1.9-6.6-15.4-11.4-4z" fill="#b6aaaa"/>
<path class=b d="M465.2 337.2l-6.6-15.4M447.2 317.8l6.6 17.5"/>
<path d="M57.2 401.1l11.5-5.4-6.6-25.6-11.5 5.1z" fill="#bfcbcd"/>
<path class=b d="M68.7 395.7l-6.6-25.6M50.6 375.2l6.6 25.9"/>
<path d="M347.3 266l11.4-6.2-6.6-15.4-11.4 6.3z" fill="#eabcbc"/>
<path class=b d="M358.7 259.8l-6.6-15.4M340.7 250.7l6.6 15.3"/>
<path class=n d="M644.8 299.1l-2.6 2.6-11.4 6.8 3.5-3.2z" fill="#bfb2b2"/>
<path class=n d="M637.4 302.6l11.4-7.4-4 3.9-10.5 6.2z" fill="#bf9898"/>
<path d="M637.4 302.6l11.4-7.4M642.2 301.7l-11.4 6.8"/>
<path class=b d="M648.8 295.2l-6.6 6.5M630.8 308.5l6.6-5.9"/>
<line x1="644.8" y1="299.1" x2="634.3" y2="305.3" stroke="#960000" stroke-width="2.0" stroke-linecap="round"/>
<path d="M240.8 331.8l11.4-21.3-6.6-6.6-11.4 20.6z" fill="#ebdbdb"/>
<path class=b d="M252.2 310.5l-6.6-6.6M234.2 324.5l6.6 7.3"/>
<path class=n d="M530.8 366.5l11.5-4.9-6.6-3-11.5 2.2z" fill="#c5d2d3"/>
<path d="M535.7 358.6l-11.5 2.2"/>
<path class=b d="M542.3 361.6l-6.6-3M524.2 360.8l6.6 5.7"/>
<path d="M134.2 423.7l11.5-14.5-6.6-16.5-11.5 12.9z" fill="#dfedee"/>
<path class=b d="M145.7 409.2l-6.6-16.5M127.6 405.6l6.6 18.1"/>
<path class=n d="M424.3 312.9l11.5 1.9-6.6-18.2 0 0-6.6 11.3z" fill="#b8acac"/>
<path class=n d="M429.2 296.6l0 0-11.5-3.2 4.9 14.5z" fill="#b89393"/>
<path d="M424.3 312.9l11.5 1.9M429.2 296.6l-11.5-3.2"/>
<path class=b d="M435.8 314.8l-6.6-18.2M417.7 293.4l6.6 19.5"/>
<line x1="429.2" y1="296.6" x2="422.6" y2="307.9" stroke="#960000" stroke-width="2.0" stroke-linecap="round"/>
<path d="M317.8 271l11.4-11.4-6.6-12.5-11.4 11.7z" fill="#ffd1d1"/>
<path class=b d="M329.2 259.6l-6.6-12.5M311.2 258.8l6.6 12.2"/>
<path d="M607.9 325.7l11.4-9.2-6.6 6.2-11.4 7.8z" fill="#c4b7b7"/>
<path class=b d="M619.3 316.5l-6.6 6.2M601.3 330.5l6.6-4.8"/>
<path class=n d="M211.3 367.8l11.4-21.8-6.6-7.5-11.4 20.8z" fill="#ebdbdb"/>
<path d="M211.3 367.8l11.4-21.8M216.1 338.5l-11.4 20.8"/>
<path class=b d="M222.7 346l-6.6-7.5"/>
<path class=n d="M501.4 365.1l11.4-2.2-6.6-8.5-11.5-.6z" fill="#cbbebe"/>
<path d="M501.4 365.1l11.4-2.2M506.2 354.4l-11.5-.6"/>
<path class=b d="M494.7 353.8l6.7 11.3"/>
<path class=n d="M104.8 427.8l5.6-5.2-7 .8z" fill="#b2dade"/>
<path class=n d="M110.4 422.6l5.8-5.2-6.6-20.9-11.5 9.2 5.3 17.7z" fill="#d0ddde"/>
<path d="M104.8 427.8l11.4-10.4M109.6 396.5l-11.5 9.2"/>
<path class=b d="M116.2 417.4l-6.6-20.9M98.1 405.7l6.7 22.1"/>
<line x1="110.4" y1="422.6" x2="103.4" y2="423.4" stroke="#003c68" stroke-width="2.0" stroke-linecap="round"/>
<path d="M394.8 291.8l11.5-.1-6.6-18.8-11.5-.6z" fill="#c19a9a"/>
<path class=b d="M406.3 291.7l-6.6-18.8M388.2 272.3l6.6 19.5"/>
<path d="M288.3 289.3l11.5-16.4-6.7-9.6-11.4 16.5z" fill="#f3c3c3"/>
<path class=b d="M299.8 272.9l-6.7-9.6M281.7 279.8l6.6 9.5"/>
<line x1="204.7" y1="359.3" x2="198.1" y2="350.7" stroke="#000" stroke-width="1.9"/>
<path d="M578.4 348.1l11.4-9.1-6.6 3.7-11.4 7.1z" fill="#cabcbc"/>
<path class=b d="M589.8 339l-6.6 3.7M571.8 349.8l6.6-1.7"/>
<path d="M181.8 400.5l11.4-20.4-6.6-10-11.4 18.9z" fill="#dfedef"/>
<path class=b d="M193.2 380.1l-6.6-10M175.2 389l6.6 11.5"/>
<path d="M471.9 353.3l11.4 .1-6.6-13.6-11.5-2.6z" fill="#bdb1b1"/>
<path class=b d="M483.3 353.4l-6.6-13.6M465.2 337.2l6.7 16.1"/>
<path d="M75.3 420.6l11.4-6.9-6.6-24.2-11.4 6.2z" fill="#c3d0d1"/>
<path class=b d="M86.7 413.7l-6.6-24.2M68.7 395.7l6.6 24.9"/>
<path d="M365.3 277.7l11.5-3.9-6.6-17.7-11.5 3.7z" fill="#d5aaaa"/>
<path class=b d="M376.8 273.8l-6.6-17.7M358.7 259.8l6.6 17.9"/>
<path d="M655.4 290.3l11.4-5.9-6.6 5-11.4 5.8z" fill="#be9898"/>
<path class=b d="M666.8 284.4l-6.6 5M648.8 295.2l6.6-4.9"/>
<path class=n d="M258.8 318.4l4-6.9-6.1-8.8-4.5 7.8z" fill="#ecdddd"/>
<path class=n d="M262.8 311.5l7.5-13.2-6.7-7.7-6.9 12.1z" fill="#ecbdbd"/>
<path d="M258.8 318.4l11.5-20.1M263.6 290.6l-11.4 19.9"/>
<path class=b d="M270.3 298.3l-6.7-7.7M252.2 310.5l6.6 7.9"/>
<line x1="262.8" y1="311.5" x2="256.7" y2="302.7" stroke="#960000" stroke-width="2.0" stroke-linecap="round"/>
<line x1="553.7" y1="356.7" x2="565.2" y2="351.7" stroke="#000" stroke-width="1.9" stroke-dasharray="12.0 7.46" stroke-dashoffset="10.44"/>
<path class=n d="M548.9 364.6l11.4-7.5-6.6-.4-11.4 4.9z" fill="#d5c7c7"/>
<path d="M548.9 364.6l11.4-7.5"/>
<path class=b d="M560.3 357.1l-6.6-.4M542.3 361.6l6.6 3"/>
<path d="M152.3 424.6l11.4-17.3-6.6-13.8-11.4 15.7z" fill="#e2f0f2"/>
<path class=b d="M163.7 407.3l-6.6-13.8M145.7 409.2l6.6 15.4"/>
<path d="M442.4 334.1l11.4 1.2-6.6-17.5-11.4-3z" fill="#baadad"/>
<path class=b d="M453.8 335.3l-6.6-17.5M435.8 314.8l6.6 19.3"/>
<path d="M335.8 274.6l11.5-8.6-6.6-15.3-11.5 8.9z" fill="#f6c6c6"/>
<path class=b d="M347.3 266l-6.6-15.3M329.2 259.6l6.6 15"/>
<path class=n d="M634.3 305.3l-3.5 3.2-11.5 8 5.3-4z" fill="#c4b7b7"/>
<path class=n d="M625.9 311.5l11.5-8.9-3.1 2.7-9.7 7.2z" fill="#c49c9c"/>
<path d="M625.9 311.5l11.5-8.9M630.8 308.5l-11.5 8"/>
<path class=b d="M637.4 302.6l-6.6 5.9M619.3 316.5l6.6-5"/>
<line x1="634.3" y1="305.3" x2="624.6" y2="312.5" stroke="#960000" stroke-width="2.0" stroke-linecap="round"/>
<path d="M229.3 353.8l11.5-22-6.6-7.3-11.5 21.5z" fill="#eadbdb"/>
<path class=b d="M240.8 331.8l-6.6-7.3M222.7 346l6.6 7.8"/>
<path class=n d="M519.4 371.5l11.4-5-6.6-5.7-11.4 2.1 6.6 8.6z" fill="#d2dfe1"/>
<path class=n d="M519.4 371.5l11.4-5 0 0-18-3.6 0 0z" fill="#e1d2d2"/>
<path d="M524.2 360.8l-11.4 2.1"/>
<path class=b d="M530.8 366.5l-6.6-5.7"/>
<path class=n d="M122.8 436.9l11.4-13.2 0 0-16.3-1.4z" fill="#bbe5ea"/>
<path class=n d="M134.2 423.7l0 0-6.6-18.1-11.4 11.8 1.7 4.9z" fill="#dae8ea"/>
<path d="M122.8 436.9l11.4-13.2M127.6 405.6l-11.4 11.8"/>
<path class=b d="M134.2 423.7l-6.6-18.1M116.2 417.4l6.6 19.5"/>
<line x1="134.2" y1="423.7" x2="117.9" y2="422.3" stroke="#003c68" stroke-width="2.0" stroke-linecap="round"/>
<path class=n d="M418.5 312.6l5.8 .3-1.7-5z" fill="#bdb1b1"/>
<path class=n d="M412.9 312.4l5.6 .2 4.1-4.7-4.9-14.5-11.4-1.7z" fill="#bd9898"/>
<path d="M412.9 312.4l11.4 .5M417.7 293.4l-11.4-1.7"/>
<path class=b d="M424.3 312.9l-6.6-19.5M406.3 291.7l6.6 20.7"/>
<line x1="418.5" y1="312.6" x2="422.6" y2="307.9" stroke="#960000" stroke-width="2.0" stroke-linecap="round"/>
<path d="M306.4 284.8l11.4-13.8-6.6-12.2-11.4 14.1z" fill="#fac9c9"/>
<path class=b d="M317.8 271l-6.6-12.2M299.8 272.9l6.6 11.9"/>
<path d="M596.4 335.9l11.5-10.2-6.6 4.8-11.5 8.5z" fill="#c9bcbc"/>
<path class=b d="M607.9 325.7l-6.6 4.8M589.8 339l6.6-3.1"/>
<path class=n d="M199.8 389.7l11.5-21.9-6.6-8.5-11.5 20.8z" fill="#dceaec"/>
<path class=n d="M211.3 367.8l0 0-6.6-8.5 0 0z" fill="#ecdcdc"/>
<path d="M199.8 389.7l11.5-21.9M204.7 359.3l-11.5 20.8"/>
<path class=b d="M193.2 380.1l6.6 9.6"/>
<path d="M489.9 367.3l11.5-2.2-6.7-11.3-11.4-.4z" fill="#ccbfbf"/>
<path class=b d="M501.4 365.1l-6.7-11.3M483.3 353.4l6.6 13.9"/>
<path class=n d="M93.3 436.7l11.5-8.9-1.4-4.4-13.1 2.7z" fill="#aed5d9"/>
<path class=n d="M103.4 423.4l-5.3-17.7-11.4 8 3.6 12.4z" fill="#cbd8d9"/>
<path d="M93.3 436.7l11.5-8.9M98.1 405.7l-11.4 8"/>
<path class=b d="M104.8 427.8l-6.7-22.1M86.7 413.7l6.6 23"/>
<line x1="103.4" y1="423.4" x2="90.3" y2="426.1" stroke="#003c68" stroke-width="2.0" stroke-linecap="round"/>
<path d="M383.4 293.8l11.4-2-6.6-19.5-11.4 1.5z" fill="#c9a1a1"/>
<path class=b d="M394.8 291.8l-6.6-19.5M376.8 273.8l6.6 20"/>
<path d="M276.9 307.7l11.4-18.4-6.6-9.5-11.4 18.5z" fill="#f0c0c0"/>
<path class=b d="M288.3 289.3l-6.6-9.5M270.3 298.3l6.6 9.4"/>
<path d="M566.9 357.8l11.5-9.7-6.6 1.7-11.5 7.3z" fill="#d3c5c5"/>
<path class=b d="M578.4 348.1l-6.6 1.7M560.3 357.1l6.6 .7"/>
<path d="M170.4 420.1l11.4-19.6-6.6-11.5-11.5 18.3z" fill="#e0eef0"/>
<path class=b d="M181.8 400.5l-6.6-11.5M163.7 407.3l6.7 12.8"/>
<path d="M460.4 353.5l11.5-.2-6.7-16.1-11.4-1.9z" fill="#bfb2b2"/>
<path class=b d="M471.9 353.3l-6.7-16.1M453.8 335.3l6.6 18.2"/>
<path d="M63.8 426.1l11.5-5.5-6.6-24.9-11.5 5.4z" fill="#c0cdce"/>
<path class=b d="M75.3 420.6l-6.6-24.9M57.2 401.1l6.6 25"/>
<path d="M353.9 283.7l11.4-6-6.6-17.9-11.4 6.2z" fill="#dfb3b3"/>
<path class=b d="M365.3 277.7l-6.6-17.9M347.3 266l6.6 17.7"/>
<path d="M644 298.2l11.4-7.9-6.6 4.9-11.4 7.4z" fill="#c39c9c"/>
<path class=b d="M655.4 290.3l-6.6 4.9M637.4 302.6l6.6-4.4"/>
<path d="M247.4 339.9l11.4-21.5-6.6-7.9-11.4 21.3z" fill="#ebdbdb"/>
<path class=b d="M258.8 318.4l-6.6-7.9M240.8 331.8l6.6 8.1"/>
<line x1="542.3" y1="361.6" x2="553.7" y2="356.7" stroke="#000" stroke-width="1.9" stroke-dasharray="12.0 7.46" stroke-dashoffset="17.44"/>
<path class=n d="M537.4 372.3l11.5-7.7-6.6-3-11.5 4.9z" fill="#e4d5d5"/>
<path d="M537.4 372.3l11.5-7.7"/>
<path class=b d="M548.9 364.6l-6.6-3M530.8 366.5l6.6 5.8"/>
<path class=n d="M140.9 440.5l8.5-11.9-15.2-4.9 0 0z" fill="#c1ecf1"/>
<path class=n d="M149.4 428.6l2.9-4-6.6-15.4-11.5 14.5 0 0z" fill="#e1eff1"/>
<path d="M140.9 440.5l11.4-15.9M145.7 409.2l-11.5 14.5"/>
<path class=b d="M152.3 424.6l-6.6-15.4M134.2 423.7l6.7 16.8"/>
<line x1="149.4" y1="428.6" x2="134.3" y2="423.7" stroke="#003c68" stroke-width="2.0" stroke-linecap="round"/>
<path d="M430.9 333.7l11.5 .4-6.6-19.3-11.5-1.9z" fill="#bdb1b1"/>
<path class=b d="M442.4 334.1l-6.6-19.3M424.3 312.9l6.6 20.8"/>
<path d="M324.4 285.7l11.4-11.1-6.6-15-11.4 11.4z" fill="#f9c8c8"/>
<path class=b d="M335.8 274.6l-6.6-15M317.8 271l6.6 14.7"/>
<path class=n d="M614.5 321.9l5.8-5.3 4.3-4.1-5.3 4-11.4 9.2z" fill="#c9bcbc"/>
<path class=n d="M620.3 316.6l5.6-5.1-1.3 1z" fill="#c9a1a1"/>
<path d="M614.5 321.9l11.4-10.4M619.3 316.5l-11.4 9.2"/>
<path class=b d="M625.9 311.5l-6.6 5M607.9 325.7l6.6-3.8"/>
<line x1="620.3" y1="316.6" x2="624.6" y2="312.5" stroke="#960000" stroke-width="2.0" stroke-linecap="round"/>
<path class=n d="M217.9 376.3l11.4-22.5-6.6-7.8-11.4 21.8z" fill="#eadbdb"/>
<path d="M217.9 376.3l11.4-22.5M222.7 346l-11.4 21.8"/>
<path class=b d="M229.3 353.8l-6.6-7.8"/>
<path class=n d="M508 376.4l11.4-4.9-6.6-8.6-11.4 2.2z" fill="#e8d9d9"/>
<path d="M512.8 362.9l-11.4 2.2"/>
<path class=b d="M501.4 365.1l6.6 11.3"/>
<path class=n d="M111.4 448.4l11.4-11.5-4.9-14.6-7.5 .3-5.6 5.2z" fill="#b7e0e4"/>
<path class=n d="M117.9 422.3l-1.7-4.9-5.8 5.2z" fill="#d5e3e4"/>
<path d="M111.4 448.4l11.4-11.5M116.2 417.4l-11.4 10.4"/>
<path class=b d="M122.8 436.9l-6.6-19.5M104.8 427.8l6.6 20.6"/>
<line x1="117.9" y1="422.3" x2="110.4" y2="422.6" stroke="#003c68" stroke-width="2.0" stroke-linecap="round"/>
<path d="M401.4 313.3l11.5-.9-6.6-20.7-11.5 .1z" fill="#c39c9c"/>
<path class=b d="M412.9 312.4l-6.6-20.7M394.8 291.8l6.6 21.5"/>
<path d="M294.9 300.8l11.5-16-6.6-11.9-11.5 16.4z" fill="#f5c4c4"/>
<path class=b d="M306.4 284.8l-6.6-11.9M288.3 289.3l6.6 11.5"/>
<line x1="211.3" y1="367.8" x2="204.7" y2="359.3" stroke="#000" stroke-width="1.9"/>
<path d="M585 347l11.4-11.1-6.6 3.1-11.4 9.1z" fill="#d1c3c3"/>
<path class=b d="M596.4 335.9l-6.6 3.1M578.4 348.1l6.6-1.1"/>
<path d="M188.4 411.1l11.4-21.4-6.6-9.6-11.4 20.4z" fill="#ddebed"/>
<path class=b d="M199.8 389.7l-6.6-9.6M181.8 400.5l6.6 10.6"/>
<path d="M478.5 369.7l11.4-2.4-6.6-13.9-11.4-.1z" fill="#cbbebe"/>
<path class=b d="M489.9 367.3l-6.6-13.9M471.9 353.3l6.6 16.4"/>
<path class=n d="M81.9 444.1l11.4-7.4-3-10.6-12.4 3.7z" fill="#aad0d5"/>
<path class=n d="M90.3 426.1l-3.6-12.4-11.4 6.9 2.6 9.2z" fill="#c6d3d5"/>
<path d="M81.9 444.1l11.4-7.4M86.7 413.7l-11.4 6.9"/>
<path class=b d="M93.3 436.7l-6.6-23M75.3 420.6l6.6 23.5"/>
<line x1="90.3" y1="426.1" x2="77.9" y2="429.8" stroke="#003c68" stroke-width="2.0" stroke-linecap="round"/>
<path d="M372 297.8l11.4-4-6.6-20-11.5 3.9z" fill="#d1a7a7"/>
<path class=b d="M383.4 293.8l-6.6-20M365.3 277.7l6.7 20.1"/>
<path d="M662 287.4l11.5-6.1-6.7 3.1-11.4 5.9z" fill="#c39c9c"/>
<path class=b d="M673.5 281.3l-6.7 3.1M655.4 290.3l6.6-2.9"/>
<path class=n d="M265.4 327.6l4.5-7.8-7.1-8.3-4 6.9z" fill="#eedede"/>
<path class=n d="M269.9 319.8l7-12.1-6.6-9.4-7.5 13.2z" fill="#eebebe"/>
<path d="M265.4 327.6l11.5-19.9M270.3 298.3l-11.5 20.1"/>
<path class=b d="M276.9 307.7l-6.6-9.4M258.8 318.4l6.6 9.2"/>
<line x1="269.9" y1="319.8" x2="262.8" y2="311.5" stroke="#960000" stroke-width="2.0" stroke-linecap="round"/>
<path d="M555.5 367.8l11.4-10-6.6-.7-11.4 7.5z" fill="#decfcf"/>
<path class=b d="M566.9 357.8l-6.6-.7M548.9 364.6l6.6 3.2"/>
<path class=n d="M158.9 438.6l2.3-3.7-5.5-3.2z" fill="#c1ecf1"/>
<path class=n d="M161.2 434.9l9.2-14.8-6.7-12.8-11.4 17.3 3.4 7.1z" fill="#e1eff1"/>
<path d="M158.9 438.6l11.5-18.5M163.7 407.3l-11.4 17.3"/>
<path class=b d="M170.4 420.1l-6.7-12.8M152.3 424.6l6.6 14"/>
<line x1="161.2" y1="434.9" x2="155.7" y2="431.7" stroke="#003c68" stroke-width="2.0" stroke-linecap="round"/>
<path d="M449 354.2l11.4-.7-6.6-18.2-11.4-1.2z" fill="#c1b4b4"/>
<path class=b d="M460.4 353.5l-6.6-18.2M442.4 334.1l6.6 20.1"/>
<path d="M342.5 292l11.4-8.3-6.6-17.7-11.5 8.6z" fill="#e8baba"/>
<path class=b d="M353.9 283.7l-6.6-17.7M335.8 274.6l6.7 17.4"/>
<path d="M632.5 308l11.5-9.8-6.6 4.4-11.5 8.9z" fill="#c9a1a1"/>
<path class=b d="M644 298.2l-6.6 4.4M625.9 311.5l6.6-3.5"/>
<path d="M235.9 362.2l11.5-22.3-6.6-8.1-11.5 22z" fill="#eadbdb"/>
<path class=b d="M247.4 339.9l-6.6-8.1M229.3 353.8l6.6 8.4"/>
<line x1="530.8" y1="366.5" x2="542.3" y2="361.6" stroke="#000" stroke-width="1.9" stroke-dasharray="12.0 7.46" stroke-dashoffset="4.98"/>
<path class=n d="M526 380l0 0 4.8-13.5 0 0-11.4 5z" fill="#e9f8f9"/>
<path class=n d="M526 380l11.4-7.7-6.6-5.8-11.4 5 0 0z" fill="#f9e9e9"/>
<path d="M526 380l11.4-7.7"/>
<path class=b d="M537.4 372.3l-6.6-5.8"/>
<path d="M129.4 454.8l11.5-14.3-6.7-16.8-11.4 13.2z" fill="#bfeaee"/>
<path class=b d="M140.9 440.5l-6.7-16.8M122.8 436.9l6.6 17.9"/>
<line x1="134.3" y1="423.7" x2="134.2" y2="423.7" stroke="#003c68" stroke-width="2.0" stroke-linecap="round"/>
<path class=n d="M419.5 334.4l11.4-.7-6.6-20.8-5.8-.3-4.3 4.1z" fill="#c1b4b4"/>
<path class=n d="M418.5 312.6l-5.6-.2 1.3 4.3z" fill="#c19a9a"/>
<path d="M419.5 334.4l11.4-.7M424.3 312.9l-11.4-.5"/>
<path class=b d="M430.9 333.7l-6.6-20.8M412.9 312.4l6.6 22"/>
<line x1="418.5" y1="312.6" x2="414.2" y2="316.7" stroke="#960000" stroke-width="2.0" stroke-linecap="round"/>
<path d="M313 298.9l11.4-13.2-6.6-14.7-11.4 13.8z" fill="#f7c6c6"/>
<path class=b d="M324.4 285.7l-6.6-14.7M306.4 284.8l6.6 14.1"/>
<path d="M603 333.7l11.5-11.8-6.6 3.8-11.5 10.2z" fill="#d0c2c2"/>
<path class=b d="M614.5 321.9l-6.6 3.8M596.4 335.9l6.6-2.2"/>
<path class=n d="M206.4 398.8l11.5-22.5-6.6-8.5-11.5 21.9z" fill="#dbe9eb"/>
<path class=n d="M217.9 376.3l0 0-6.6-8.5 0 0z" fill="#ebdbdb"/>
<path d="M206.4 398.8l11.5-22.5M211.3 367.8l-11.5 21.9"/>
<path class=b d="M199.8 389.7l6.6 9.1"/>
<path class=n d="M496.5 381.4l11.5-5-6.6-11.3-11.5 2.2z" fill="#e3d4d4"/>
<path d="M501.4 365.1l-11.5 2.2"/>
<path class=b d="M508 376.4l-6.6-11.3M489.9 367.3l6.6 14.1"/>
<path d="M99.9 458.2l11.5-9.8-6.6-20.6-11.5 8.9z" fill="#b2dadf"/>
<path class=b d="M111.4 448.4l-6.6-20.6M93.3 436.7l6.6 21.5"/>
<path d="M390 315.8l11.4-2.5-6.6-21.5-11.4 2z" fill="#c8a0a0"/>
<path class=b d="M401.4 313.3l-6.6-21.5M383.4 293.8l6.6 22"/>
<path d="M283.5 318.6l11.4-17.8-6.6-11.5-11.4 18.4z" fill="#f1c1c1"/>
<path class=b d="M294.9 300.8l-6.6-11.5M276.9 307.7l6.6 10.9"/>
<path d="M573.6 358.8l11.4-11.8-6.6 1.1-11.5 9.7z" fill="#dacbcb"/>
<path class=b d="M585 347l-6.6 1.1M566.9 357.8l6.7 1"/>
<path d="M177 431.7l11.4-20.6-6.6-10.6-11.4 19.6z" fill="#deedee"/>
<path class=b d="M188.4 411.1l-6.6-10.6M170.4 420.1l6.6 11.6"/>
<path d="M467 372.2l11.5-2.5-6.6-16.4-11.5 .2z" fill="#cabcbc"/>
<path class=b d="M478.5 369.7l-6.6-16.4M460.4 353.5l6.6 18.7"/>
<path class=n d="M70.4 449.9l11.5-5.8-4-14.3-11.8 4.5z" fill="#a7ccd0"/>
<path class=n d="M77.9 429.8l-2.6-9.2-11.5 5.5 2.3 8.2z" fill="#c2cfd0"/>
<path d="M70.4 449.9l11.5-5.8M75.3 420.6l-11.5 5.5"/>
<path class=b d="M81.9 444.1l-6.6-23.5M63.8 426.1l6.6 23.8"/>
<line x1="77.9" y1="429.8" x2="66.1" y2="434.3" stroke="#003c68" stroke-width="2.0" stroke-linecap="round"/>
<path d="M360.5 303.7l11.5-5.9-6.7-20.1-11.4 6z" fill="#d8adad"/>
<path class=b d="M372 297.8l-6.7-20.1M353.9 283.7l6.6 20"/>
<path d="M650.6 295.7l11.4-8.3-6.6 2.9-11.4 7.9z" fill="#caa1a1"/>
<path class=b d="M662 287.4l-6.6 2.9M644 298.2l6.6-2.5"/>
<path d="M254 348.8l11.4-21.2-6.6-9.2-11.4 21.5z" fill="#ecdcdc"/>
<path class=b d="M265.4 327.6l-6.6-9.2M247.4 339.9l6.6 8.9"/>
<path d="M544.1 378.1l11.4-10.3-6.6-3.2-11.5 7.7z" fill="#eddddd"/>
<path class=b d="M555.5 367.8l-6.6-3.2M537.4 372.3l6.7 5.8"/>
<path class=n d="M147.5 455.6l11.4-17-3.2-6.9-6.3-3.1-8.5 11.9z" fill="#c2edf2"/>
<path class=n d="M155.7 431.7l-3.4-7.1-2.9 4z" fill="#e2f0f2"/>
<path d="M147.5 455.6l11.4-17M152.3 424.6l-11.4 15.9"/>
<path class=b d="M158.9 438.6l-6.6-14M140.9 440.5l6.6 15.1"/>
<line x1="155.7" y1="431.7" x2="149.4" y2="428.6" stroke="#003c68" stroke-width="2.0" stroke-linecap="round"/>
<path d="M437.5 355.6l11.5-1.4-6.6-20.1-11.5-.4z" fill="#c3b6b6"/>
<path class=b d="M449 354.2l-6.6-20.1M430.9 333.7l6.6 21.9"/>
<path d="M331 302.5l11.5-10.5-6.7-17.4-11.4 11.1z" fill="#eebfbf"/>
<path class=b d="M342.5 292l-6.7-17.4M324.4 285.7l6.6 16.8"/>
<path class=n d="M620.3 316.6l-5.8 5.3 1.7-.6z" fill="#d0c2c2"/>
<path class=n d="M621.1 319.5l11.4-11.5-6.6 3.5-5.6 5.1-4.1 4.7z" fill="#d0a6a6"/>
<path d="M621.1 319.5l11.4-11.5M625.9 311.5l-11.4 10.4"/>
<path class=b d="M632.5 308l-6.6 3.5M614.5 321.9l6.6-2.4"/>
<line x1="620.3" y1="316.6" x2="616.2" y2="321.3" stroke="#960000" stroke-width="2.0" stroke-linecap="round"/>
<path class=n d="M224.5 384.9l11.4-22.7-6.6-8.4-11.4 22.5z" fill="#eadbdb"/>
<path d="M224.5 384.9l11.4-22.7M229.3 353.8l-11.4 22.5"/>
<path class=b d="M235.9 362.2l-6.6-8.4"/>
<line x1="519.4" y1="371.5" x2="530.8" y2="366.5" stroke="#000" stroke-width="1.9" stroke-dasharray="12.0 7.46" stroke-dashoffset="11.98"/>
<path class=n d="M514.6 387.7l11.4-7.7-6.6-8.5-11.4 4.9z" fill="#ffffff"/>
<path d="M514.6 387.7l11.4-7.7"/>
<path class=b d="M508 376.4l6.6 11.3"/>
<path d="M118 467.3l11.4-12.5-6.6-17.9-11.4 11.5z" fill="#bce6eb"/>
<path class=b d="M129.4 454.8l-6.6-17.9M111.4 448.4l6.6 18.9"/>
<path class=n d="M408.1 336.3l11.4-1.9-5.3-17.7-9.7 7.2z" fill="#c5b8b8"/>
<path class=n d="M414.2 316.7l-1.3-4.3-11.5 .9 3.1 10.6z" fill="#c59d9d"/>
<path d="M408.1 336.3l11.4-1.9M412.9 312.4l-11.5 .9"/>
<path class=b d="M419.5 334.4l-6.6-22M401.4 313.3l6.7 23"/>
<line x1="414.2" y1="316.7" x2="404.5" y2="323.9" stroke="#960000" stroke-width="2.0" stroke-linecap="round"/>
<path d="M301.5 314.2l11.5-15.3-6.6-14.1-11.5 16z" fill="#f4c4c4"/>
<path class=b d="M313 298.9l-6.6-14.1M294.9 300.8l6.6 13.4"/>
<line x1="217.9" y1="376.3" x2="211.3" y2="367.8" stroke="#000" stroke-width="1.9"/>
<path d="M591.6 346.6l11.4-12.9-6.6 2.2-11.4 11.1z" fill="#d7c9c9"/>
<path class=b d="M603 333.7l-6.6 2.2M585 347l6.6-.4"/>
<path d="M195 420.9l11.4-22.1-6.6-9.1-11.4 21.4z" fill="#dceaec"/>
<path class=b d="M206.4 398.8l-6.6-9.1M188.4 411.1l6.6 9.8"/>
<path class=n d="M485.1 386.3l11.4-4.9-6.6-14.1-11.4 2.4z" fill="#dbcccc"/>
<path d="M489.9 367.3l-11.4 2.4"/>
<path class=b d="M496.5 381.4l-6.6-14.1M478.5 369.7l6.6 16.6"/>
<path d="M88.5 466l11.4-7.8-6.6-21.5-11.4 7.4z" fill="#aed5d9"/>
<path class=b d="M99.9 458.2l-6.6-21.5M81.9 444.1l6.6 21.9"/>
<path d="M378.6 319.9l11.4-4.1-6.6-22-11.4 4z" fill="#cea5a5"/>
<path class=b d="M390 315.8l-6.6-22M372 297.8l6.6 22.1"/>
<path d="M668.6 286.7l11.5-6.2-6.6 .8-11.5 6.1z" fill="#caa2a2"/>
<path class=b d="M680.1 280.5l-6.6 .8M662 287.4l6.6-.7"/>
<path class=n d="M272 338l6.2-10.4-8.3-7.8-4.5 7.8z" fill="#efdfdf"/>
<path class=n d="M278.2 327.6l5.3-9-6.6-10.9-7 12.1z" fill="#efbfbf"/>
<path d="M272 338l11.5-19.4M276.9 307.7l-11.5 19.9"/>
<path class=b d="M283.5 318.6l-6.6-10.9M265.4 327.6l6.6 10.4"/>
<line x1="278.2" y1="327.6" x2="269.9" y2="319.8" stroke="#960000" stroke-width="2.0" stroke-linecap="round"/>
<path d="M562.1 371.3l11.5-12.5-6.7-1-11.4 10z" fill="#e4d5d5"/>
<path class=b d="M573.6 358.8l-6.7-1M555.5 367.8l6.6 3.5"/>
<path class=n d="M165.5 451.1l5.3-9-9.6-7.2-2.3 3.7z" fill="#c0ebf0"/>
<path class=n d="M170.8 442.1l6.2-10.4-6.6-11.6-9.2 14.8z" fill="#e0eef0"/>
<path d="M165.5 451.1l11.5-19.4M170.4 420.1l-11.5 18.5"/>
<path class=b d="M177 431.7l-6.6-11.6M158.9 438.6l6.6 12.5"/>
<line x1="170.8" y1="442.1" x2="161.2" y2="434.9" stroke="#003c68" stroke-width="2.0" stroke-linecap="round"/>
<path d="M455.6 375.1l11.4-2.9-6.6-18.7-11.4 .7z" fill="#c9bbbb"/>
<path class=b d="M467 372.2l-6.6-18.7M449 354.2l6.6 20.9"/>
<path d="M349.1 311.6l11.4-7.9-6.6-20-11.4 8.3z" fill="#dfb3b3"/>
<path class=b d="M360.5 303.7l-6.6-20M342.5 292l6.6 19.6"/>
<path d="M639.1 306.2l11.5-10.5-6.6 2.5-11.5 9.8z" fill="#d1a7a7"/>
<path class=b d="M650.6 295.7l-6.6 2.5M632.5 308l6.6-1.8"/>
<path d="M242.6 370.9l11.4-22.1-6.6-8.9-11.5 22.3z" fill="#ebdbdb"/>
<path class=b d="M254 348.8l-6.6-8.9M235.9 362.2l6.7 8.7"/>
<path class=n d="M532.6 388.5l0 0-6.6-8.5 0 0z" fill="#effeff"/>
<path class=n d="M532.6 388.5l11.5-10.4-6.7-5.8-11.4 7.7z" fill="#ffefef"/>
<path d="M532.6 388.5l11.5-10.4M537.4 372.3l-11.4 7.7"/>
<path class=b d="M544.1 378.1l-6.7-5.8"/>
<path d="M136 470.9l11.5-15.3-6.6-15.1-11.5 14.3z" fill="#c2edf2"/>
<path class=b d="M147.5 455.6l-6.6-15.1M129.4 454.8l6.6 16.1"/>
<path d="M426.1 357.7l11.4-2.1-6.6-21.9-11.4 .7z" fill="#c5b8b8"/>
<path class=b d="M437.5 355.6l-6.6-21.9M419.5 334.4l6.6 23.3"/>
<path d="M319.6 315l11.4-12.5-6.6-16.8-11.4 13.2z" fill="#f1c2c2"/>
<path class=b d="M331 302.5l-6.6-16.8M313 298.9l6.6 16.1"/>
<path class=n d="M609.6 332.6l.1 0 6.5-11.3-1.7 .6-11.5 11.8z" fill="#d6c8c8"/>
<path class=n d="M609.7 332.6l11.4-13.1-4.9 1.8z" fill="#d6abab"/>
<path d="M609.6 332.6l11.5-13.1M614.5 321.9l-11.5 11.8"/>
<path class=b d="M621.1 319.5l-6.6 2.4M603 333.7l6.6-1.1"/>
<line x1="616.2" y1="321.3" x2="609.6" y2="332.6" stroke="#960000" stroke-width="2.0" stroke-linecap="round"/>
<path class=n d="M213.1 407.6l11.4-22.7-6.6-8.6-11.5 22.5z" fill="#dbe9ea"/>
<path class=n d="M224.5 384.9l0 0-6.6-8.6 0 0z" fill="#eadbdb"/>
<path d="M213.1 407.6l11.4-22.7M217.9 376.3l-11.5 22.5"/>
<path class=b d="M206.4 398.8l6.7 8.8"/>
<line x1="508.0" y1="376.4" x2="519.4" y2="371.5" stroke="#000" stroke-width="1.9" stroke-dasharray="12.0 7.46" stroke-dashoffset="18.98"/>
<line x1="526.0" y1="380.0" x2="519.4" y2="371.5" stroke="#000" stroke-width="1.9"/>
<path class=n d="M503.1 395.4l11.5-7.7-6.6-11.3-11.5 5z" fill="#f0ffff"/>
<path d="M503.1 395.4l11.5-7.7"/>
<path class=b d="M514.6 387.7l-6.6-11.3M496.5 381.4l6.6 14"/>
<path d="M106.5 477.7l11.5-10.4-6.6-18.9-11.5 9.8z" fill="#b8e1e5"/>
<path class=b d="M118 467.3l-6.6-18.9M99.9 458.2l6.6 19.5"/>
<path class=n d="M396.6 339.3l11.5-3-3.6-12.4-10.5 6.2z" fill="#c8bbbb"/>
<path class=n d="M404.5 323.9l-3.1-10.6-11.4 2.5 4 14.3z" fill="#c8a0a0"/>
<path d="M396.6 339.3l11.5-3M401.4 313.3l-11.4 2.5"/>
<path class=b d="M408.1 336.3l-6.7-23M390 315.8l6.6 23.5"/>
<line x1="404.5" y1="323.9" x2="394.0" y2="330.1" stroke="#960000" stroke-width="2.0" stroke-linecap="round"/>
<path d="M290.1 331.2l11.4-17-6.6-13.4-11.4 17.8z" fill="#f2c2c2"/>
<path class=b d="M301.5 314.2l-6.6-13.4M283.5 318.6l6.6 12.6"/>
<path d="M580.2 360.5l11.4-13.9-6.6 .4-11.4 11.8z" fill="#dfd0d0"/>
<path class=b d="M591.6 346.6l-6.6 .4M573.6 358.8l6.6 1.7"/>
<path d="M183.6 442.1l11.4-21.2-6.6-9.8-11.4 20.6z" fill="#ddebed"/>
<path class=b d="M195 420.9l-6.6-9.8M177 431.7l6.6 10.4"/>
<path class=n d="M473.6 391.2l11.5-4.9-6.6-16.6-11.5 2.5z" fill="#d5c6c6"/>
<path d="M478.5 369.7l-11.5 2.5"/>
<path class=b d="M485.1 386.3l-6.6-16.6M467 372.2l6.6 19"/>
<path d="M77.1 472l11.4-6-6.6-21.9-11.5 5.8z" fill="#a9cfd4"/>
<path class=b d="M88.5 466l-6.6-21.9M70.4 449.9l6.7 22.1"/>
<path d="M367.1 325.6l11.5-5.7-6.6-22.1-11.5 5.9z" fill="#d4a9a9"/>
<path class=b d="M378.6 319.9l-6.6-22.1M360.5 303.7l6.6 21.9"/>
<path d="M657.2 295.4l11.4-8.7-6.6 .7-11.4 8.3z" fill="#d3a8a8"/>
<path class=b d="M668.6 286.7l-6.6 .7M650.6 295.7l6.6-.3"/>
<path d="M260.6 358.7l11.4-20.7-6.6-10.4-11.4 21.2z" fill="#eddddd"/>
<path class=b d="M272 338l-6.6-10.4M254 348.8l6.6 9.9"/>
<path d="M550.7 384.1l11.4-12.8-6.6-3.5-11.4 10.3z" fill="#efdfdf"/>
<path class=b d="M562.1 371.3l-6.6-3.5M544.1 378.1l6.6 6"/>
<path d="M154.1 469l11.4-17.9-6.6-12.5-11.4 17z" fill="#c2edf2"/>
<path class=b d="M165.5 451.1l-6.6-12.5M147.5 455.6l6.6 13.4"/>
<path d="M444.2 378.2l11.4-3.1-6.6-20.9-11.5 1.4z" fill="#c8bbbb"/>
<path class=b d="M455.6 375.1l-6.6-20.9M437.5 355.6l6.7 22.6"/>
<path d="M337.6 321.4l11.5-9.8-6.6-19.6-11.5 10.5z" fill="#e5b8b8"/>
<path class=b d="M349.1 311.6l-6.6-19.6M331 302.5l6.6 18.9"/>
<path d="M627.7 318.6l11.4-12.4-6.6 1.8-11.4 11.5z" fill="#d7acac"/>
<path class=b d="M639.1 306.2l-6.6 1.8M621.1 319.5l6.6-.9"/>
<path class=n d="M231.1 393.4l11.5-22.5-6.7-8.7-11.4 22.7z" fill="#eadbdb"/>
<path d="M231.1 393.4l11.5-22.5M235.9 362.2l-11.4 22.7"/>
<path class=b d="M242.6 370.9l-6.7-8.7"/>
<path class=n d="M521.2 399l11.4-10.5-6.6-8.5-11.4 7.7z" fill="#ffffff"/>
<path d="M521.2 399l11.4-10.5M526 380l-11.4 7.7"/>
<path class=b d="M514.6 387.7l6.6 11.3"/>
<path d="M124.6 484.1l11.4-13.2-6.6-16.1-11.4 12.5z" fill="#c2ecf1"/>
<path class=b d="M136 470.9l-6.6-16.1M118 467.3l6.6 16.8"/>
<path d="M414.7 360.5l11.4-2.8-6.6-23.3-11.4 1.9z" fill="#c7b9b9"/>
<path class=b d="M426.1 357.7l-6.6-23.3M408.1 336.3l6.6 24.2"/>
<path d="M308.1 329.3l11.5-14.3-6.6-16.1-11.5 15.3z" fill="#f2c2c2"/>
<path class=b d="M319.6 315l-6.6-16.1M301.5 314.2l6.6 15.1"/>
<line x1="224.5" y1="384.9" x2="217.9" y2="376.3" stroke="#000" stroke-width="1.9"/>
<path d="M598.2 347.1l11.4-14.5-6.6 1.1-11.4 12.9z" fill="#ddcece"/>
<path class=b d="M609.6 332.6l-6.6 1.1M591.6 346.6l6.6 .5"/>
<line x1="609.6" y1="332.6" x2="609.6" y2="332.6" stroke="#960000" stroke-width="2.0" stroke-linecap="round"/>
<path d="M201.6 429.9l11.5-22.3-6.7-8.8-11.4 22.1z" fill="#dbe9eb"/>
<path class=b d="M213.1 407.6l-6.7-8.8M195 420.9l6.6 9"/>
<line x1="496.5" y1="381.4" x2="508.0" y2="376.4" stroke="#000" stroke-width="1.9" stroke-dasharray="12.0 7.46" stroke-dashoffset="6.52"/>
<path class=n d="M491.7 402.9l11.4-7.5-6.6-14-11.4 4.9z" fill="#dbe9ea"/>
<path d="M491.7 402.9l11.4-7.5"/>
<path class=b d="M503.1 395.4l-6.6-14M485.1 386.3l6.6 16.6"/>
<path d="M95.1 486l11.4-8.3-6.6-19.5-11.4 7.8z" fill="#b3dbdf"/>
<path class=b d="M106.5 477.7l-6.6-19.5M88.5 466l6.6 20"/>
<path class=n d="M385.2 343.6l11.4-4.3-2.6-9.2-11.1 5.4z" fill="#ccbfbf"/>
<path class=n d="M394 330.1l-4-14.3-11.4 4.1 4.3 15.6z" fill="#cca3a3"/>
<path d="M385.2 343.6l11.4-4.3M390 315.8l-11.4 4.1"/>
<path class=b d="M396.6 339.3l-6.6-23.5M378.6 319.9l6.6 23.7"/>
<line x1="394.0" y1="330.1" x2="382.9" y2="335.5" stroke="#960000" stroke-width="2.0" stroke-linecap="round"/>
<path d="M675.2 288.5l11.5-6.3-6.6-1.7-11.5 6.2z" fill="#d5aaaa"/>
<path class=b d="M686.7 282.2l-6.6-1.7M668.6 286.7l6.6 1.8"/>
<path class=n d="M278.6 349.7l9.2-14.8-9.6-7.3-6.2 10.4z" fill="#f0e0e0"/>
<path class=n d="M287.8 334.9l2.3-3.7-6.6-12.6-5.3 9z" fill="#f0c0c0"/>
<path d="M278.6 349.7l11.5-18.5M283.5 318.6l-11.5 19.4"/>
<path class=b d="M290.1 331.2l-6.6-12.6M272 338l6.6 11.7"/>
<line x1="287.8" y1="334.9" x2="278.2" y2="327.6" stroke="#960000" stroke-width="2.0" stroke-linecap="round"/>
<path d="M568.7 375.1l11.5-14.6-6.6-1.7-11.5 12.5z" fill="#e7d7d7"/>
<path class=b d="M580.2 360.5l-6.6-1.7M562.1 371.3l6.6 3.8"/>
<path class=n d="M172.1 462.1l7-12.2-8.3-7.8-5.3 9z" fill="#bfeaef"/>
<path class=n d="M179.1 449.9l4.5-7.8-6.6-10.4-6.2 10.4z" fill="#dfedef"/>
<path d="M172.1 462.1l11.5-20M177 431.7l-11.5 19.4"/>
<path class=b d="M183.6 442.1l-6.6-10.4M165.5 451.1l6.6 11"/>
<line x1="179.1" y1="449.9" x2="170.8" y2="442.1" stroke="#003c68" stroke-width="2.0" stroke-linecap="round"/>
<path class=n d="M462.2 396.2l11.4-5-6.6-19-11.4 2.9z" fill="#d1c3c3"/>
<path d="M467 372.2l-11.4 2.9"/>
<path class=b d="M473.6 391.2l-6.6-19M455.6 375.1l6.6 21.1"/>
<path d="M355.7 333l11.4-7.4-6.6-21.9-11.4 7.9z" fill="#d9aeae"/>
<path class=b d="M367.1 325.6l-6.6-21.9M349.1 311.6l6.6 21.4"/>
<path d="M645.8 306.4l11.4-11-6.6 .3-11.5 10.5z" fill="#daaeae"/>
<path class=b d="M657.2 295.4l-6.6 .3M639.1 306.2l6.7 .2"/>
<path d="M249.2 380.1l11.4-21.4-6.6-9.9-11.4 22.1z" fill="#ecdcdc"/>
<path class=b d="M260.6 358.7l-6.6-9.9M242.6 370.9l6.6 9.2"/>
<path class=n d="M539.2 397.1l0 0-6.6-8.6 0 0z" fill="#e9f8fa"/>
<path class=n d="M539.2 397.1l11.5-13-6.6-6-11.5 10.4z" fill="#fae9e9"/>
<path d="M539.2 397.1l11.5-13M544.1 378.1l-11.5 10.4"/>
<path class=b d="M550.7 384.1l-6.6-6"/>
<path d="M142.6 484.9l11.5-15.9-6.6-13.4-11.5 15.3z" fill="#c4eff4"/>
<path class=b d="M154.1 469l-6.6-13.4M136 470.9l6.6 14"/>
<path d="M432.7 381.7l11.5-3.5-6.7-22.6-11.4 2.1z" fill="#c8bbbb"/>
<path class=b d="M444.2 378.2l-6.7-22.6M426.1 357.7l6.6 24"/>
<path d="M326.2 332.9l11.4-11.5-6.6-18.9-11.4 12.5z" fill="#ebbcbc"/>
<path class=b d="M337.6 321.4l-6.6-18.9M319.6 315l6.6 17.9"/>
<path class=n d="M609.7 332.6l-.1 0 0 0z" fill="#ddcece"/>
<path class=n d="M616.3 333l11.4-14.4-6.6 .9-11.4 13.1-.1 0z" fill="#ddb1b1"/>
<path d="M616.3 333l11.4-14.4M621.1 319.5l-11.5 13.1"/>
<path class=b d="M627.7 318.6l-6.6 .9M609.6 332.6l6.7 .4"/>
<path class=n d="M219.7 415.9l11.4-22.5-6.6-8.5-11.4 22.7z" fill="#dbe9ea"/>
<path class=n d="M231.1 393.4l0 0-6.6-8.5 0 0z" fill="#eadbdb"/>
<path d="M219.7 415.9l11.4-22.5M224.5 384.9l-11.4 22.7"/>
<path class=b d="M213.1 407.6l6.6 8.3"/>
<line x1="532.6" y1="388.5" x2="526.0" y2="380.0" stroke="#000" stroke-width="1.9"/>
<path d="M509.7 409.3l11.5-10.3-6.6-11.3-11.5 7.7z" fill="#fbffff"/>
<path class=b d="M521.2 399l-6.6-11.3M503.1 395.4l6.6 13.9"/>
<path d="M113.2 495.1l11.4-11-6.6-16.8-11.5 10.4z" fill="#bfe9ee"/>
<path class=b d="M124.6 484.1l-6.6-16.8M106.5 477.7l6.7 17.4"/>
<path d="M403.2 364.1l11.5-3.6-6.6-24.2-11.5 3z" fill="#c9bcbc"/>
<path class=b d="M414.7 360.5l-6.6-24.2M396.6 339.3l6.6 24.8"/>
<path class=n d="M296.7 345.2l2.9-4-6.3-3.1z" fill="#f2e2e2"/>
<path class=n d="M299.6 341.2l8.5-11.9-6.6-15.1-11.4 17 3.2 6.9z" fill="#f2c2c2"/>
<path d="M296.7 345.2l11.4-15.9M301.5 314.2l-11.4 17"/>
<path class=b d="M308.1 329.3l-6.6-15.1M290.1 331.2l6.6 14"/>
<line x1="299.6" y1="341.2" x2="293.3" y2="338.1" stroke="#960000" stroke-width="2.0" stroke-linecap="round"/>
<path d="M586.8 362.8l11.4-15.7-6.6-.5-11.4 13.9z" fill="#e3d4d4"/>
<path class=b d="M598.2 347.1l-6.6-.5M580.2 360.5l6.6 2.3"/>
<path d="M190.2 451.3l11.4-21.4-6.6-9-11.4 21.2z" fill="#dceaec"/>
<path class=b d="M201.6 429.9l-6.6-9M183.6 442.1l6.6 9.2"/>
<line x1="485.1" y1="386.3" x2="496.5" y2="381.4" stroke="#000" stroke-width="1.9" stroke-dasharray="12.0 7.46" stroke-dashoffset="13.52"/>
<path class=n d="M480.2 410.2l11.5-7.3-6.6-16.6-11.5 4.9z" fill="#d0dedf"/>
<path d="M480.2 410.2l11.5-7.3"/>
<path class=b d="M491.7 402.9l-6.6-16.6M473.6 391.2l6.6 19"/>
<path d="M83.7 492.1l11.4-6.1-6.6-20-11.4 6z" fill="#add4d8"/>
<path class=b d="M95.1 486l-6.6-20M77.1 472l6.6 20.1"/>
<path class=n d="M373.7 349.2l11.5-5.6-2.3-8.1-11.8 4.5z" fill="#d0c2c2"/>
<path class=n d="M382.9 335.5l-4.3-15.6-11.5 5.7 4 14.4z" fill="#d0a7a7"/>
<path d="M373.7 349.2l11.5-5.6M378.6 319.9l-11.5 5.7"/>
<path class=b d="M385.2 343.6l-6.6-23.7M367.1 325.6l6.6 23.6"/>
<line x1="382.9" y1="335.5" x2="371.1" y2="340.0" stroke="#960000" stroke-width="2.0" stroke-linecap="round"/>
<path d="M663.8 297.4l11.4-8.9-6.6-1.8-11.4 8.7z" fill="#deb2b2"/>
<path class=b d="M675.2 288.5l-6.6-1.8M657.2 295.4l6.6 2"/>
<path d="M267.2 369.3l11.4-19.6-6.6-11.7-11.4 20.7z" fill="#eedede"/>
<path class=b d="M278.6 349.7l-6.6-11.7M260.6 358.7l6.6 10.6"/>
<path d="M557.3 390.2l11.4-15.1-6.6-3.8-11.4 12.8z" fill="#eedede"/>
<path class=b d="M568.7 375.1l-6.6-3.8M550.7 384.1l6.6 6.1"/>
<path d="M160.7 480.4l11.4-18.3-6.6-11-11.4 17.9z" fill="#c1ecf1"/>
<path class=b d="M172.1 462.1l-6.6-11M154.1 469l6.6 11.4"/>
<path class=n d="M450.8 401.1l11.4-4.9-6.6-21.1-11.4 3.1z" fill="#cec0c0"/>
<path d="M455.6 375.1l-11.4 3.1"/>
<path class=b d="M462.2 396.2l-6.6-21.1M444.2 378.2l6.6 22.9"/>
<path d="M344.2 342l11.5-9-6.6-21.4-11.5 9.8z" fill="#dfb2b2"/>
<path class=b d="M355.7 333l-6.6-21.4M337.6 321.4l6.6 20.6"/>
<path d="M634.3 319.6l11.5-13.2-6.7-.2-11.4 12.4z" fill="#dfb2b2"/>
<path class=b d="M645.8 306.4l-6.7-.2M627.7 318.6l6.6 1"/>
<path class=n d="M237.7 401.9l11.5-21.8-6.6-9.2-11.5 22.5z" fill="#ebdbdb"/>
<path d="M237.7 401.9l11.5-21.8M242.6 370.9l-11.5 22.5"/>
<path class=b d="M249.2 380.1l-6.6-9.2"/>
<path class=n d="M527.8 410.1l11.4-13-6.6-8.6-11.4 10.5z" fill="#f3ffff"/>
<path d="M527.8 410.1l11.4-13M532.6 388.5l-11.4 10.5"/>
<path class=b d="M521.2 399l6.6 11.1"/>
<path d="M131.2 498.7l11.4-13.8-6.6-14-11.4 13.2z" fill="#c6f2f7"/>
<path class=b d="M142.6 484.9l-6.6-14M124.6 484.1l6.6 14.6"/>
<path d="M421.3 385.5l11.4-3.8-6.6-24-11.4 2.8z" fill="#c9bcbc"/>
<path class=b d="M432.7 381.7l-6.6-24M414.7 360.5l6.6 25"/>
<path d="M314.8 346l11.4-13.1-6.6-17.9-11.5 14.3z" fill="#eebfbf"/>
<path class=b d="M326.2 332.9l-6.6-17.9M308.1 329.3l6.7 16.7"/>
<line x1="231.1" y1="393.4" x2="224.5" y2="384.9" stroke="#000" stroke-width="1.9"/>
<path class=n d="M604.8 348.9l2.9-4.1 1.9-12.2 0 0-11.4 14.5z" fill="#e2d2d2"/>
<path class=n d="M607.7 344.8l8.6-11.8-6.7-.4z" fill="#e2b4b4"/>
<path d="M604.8 348.9l11.5-15.9M609.6 332.6l-11.4 14.5"/>
<path class=b d="M616.3 333l-6.7-.4M598.2 347.1l6.6 1.8"/>
<line x1="607.7" y1="344.8" x2="609.6" y2="332.6" stroke="#960000" stroke-width="2.0" stroke-linecap="round"/>
<path d="M208.2 438l11.5-22.1-6.6-8.3-11.5 22.3z" fill="#dbe9ea"/>
<path class=b d="M219.7 415.9l-6.6-8.3M201.6 429.9l6.6 8.1"/>
<path d="M498.3 419.3l11.4-10-6.6-13.9-11.4 7.5z" fill="#e6f4f6"/>
<path class=b d="M509.7 409.3l-6.6-13.9M491.7 402.9l6.6 16.4"/>
<path d="M101.7 503.8l11.5-8.7-6.7-17.4-11.4 8.3z" fill="#bae3e8"/>
<path class=b d="M113.2 495.1l-6.7-17.4M95.1 486l6.6 17.8"/>
<path d="M391.8 368.6l11.4-4.5-6.6-24.8-11.4 4.3z" fill="#cbbebe"/>
<path class=b d="M403.2 364.1l-6.6-24.8M385.2 343.6l6.6 25"/>
<path d="M681.8 292.9l11.5-6.3-6.6-4.4-11.5 6.3z" fill="#e4b7b7"/>
<path class=b d="M693.3 286.6l-6.6-4.4M675.2 288.5l6.6 4.4"/>
<path class=n d="M285.3 362.4l11.4-17.2-3.4-7.1-5.5-3.2-9.2 14.8z" fill="#f1e1e1"/>
<path class=n d="M293.3 338.1l-3.2-6.9-2.3 3.7z" fill="#f1c1c1"/>
<path d="M285.3 362.4l11.4-17.2M290.1 331.2l-11.5 18.5"/>
<path class=b d="M296.7 345.2l-6.6-14M278.6 349.7l6.7 12.7"/>
<line x1="293.3" y1="338.1" x2="287.8" y2="334.9" stroke="#960000" stroke-width="2.0" stroke-linecap="round"/>
<path d="M575.3 379.4l11.5-16.6-6.6-2.3-11.5 14.6z" fill="#e8d9d9"/>
<path class=b d="M586.8 362.8l-6.6-2.3M568.7 375.1l6.6 4.3"/>
<path class=n d="M178.7 471.5l7.5-13.3-7.1-8.3-7 12.2z" fill="#bee9ee"/>
<path class=n d="M186.2 458.2l4-6.9-6.6-9.2-4.5 7.8z" fill="#deecee"/>
<path d="M178.7 471.5l11.5-20.2M183.6 442.1l-11.5 20"/>
<path class=b d="M190.2 451.3l-6.6-9.2M172.1 462.1l6.6 9.4"/>
<line x1="186.2" y1="458.2" x2="179.1" y2="449.9" stroke="#003c68" stroke-width="2.0" stroke-linecap="round"/>
<line x1="473.6" y1="391.2" x2="485.1" y2="386.3" stroke="#000" stroke-width="1.9" stroke-dasharray="12.0 7.46" stroke-dashoffset="1.06"/>
<path class=n d="M468.8 417.3l11.4-7.1-6.6-19-11.4 5z" fill="#cad7d8"/>
<path d="M468.8 417.3l11.4-7.1"/>
<path class=b d="M480.2 410.2l-6.6-19M462.2 396.2l6.6 21.1"/>
<path class=n d="M362.3 356l11.4-6.8-2.6-9.2-12.4 3.7z" fill="#d5c6c6"/>
<path class=n d="M371.1 340l-4-14.4-11.4 7.4 3 10.7z" fill="#d5aaaa"/>
<path d="M362.3 356l11.4-6.8M367.1 325.6l-11.4 7.4"/>
<path class=b d="M373.7 349.2l-6.6-23.6M355.7 333l6.6 23"/>
<line x1="371.1" y1="340.0" x2="358.7" y2="343.7" stroke="#960000" stroke-width="2.0" stroke-linecap="round"/>
<path d="M652.4 308.8l11.4-11.4-6.6-2-11.4 11z" fill="#e4b6b6"/>
<path class=b d="M663.8 297.4l-6.6-2M645.8 306.4l6.6 2.4"/>
<path d="M255.8 389.7l11.4-20.4-6.6-10.6-11.4 21.4z" fill="#eddddd"/>
<path class=b d="M267.2 369.3l-6.6-10.6M249.2 380.1l6.6 9.6"/>
<path class=n d="M545.8 405.6l0 0-6.6-8.5 0 0z" fill="#e4f3f5"/>
<path class=n d="M545.8 405.6l11.5-15.4-6.6-6.1-11.5 13z" fill="#f5e4e4"/>
<path d="M545.8 405.6l11.5-15.4M550.7 384.1l-11.5 13"/>
<path class=b d="M557.3 390.2l-6.6-6.1"/>
<path d="M149.2 496.8l11.5-16.4-6.6-11.4-11.5 15.9z" fill="#c4f0f5"/>
<path class=b d="M160.7 480.4l-6.6-11.4M142.6 484.9l6.6 11.9"/>
<path class=n d="M439.3 406l11.5-4.9-6.6-22.9-11.5 3.5z" fill="#ccbfbf"/>
<path d="M444.2 378.2l-11.5 3.5"/>
<path class=b d="M450.8 401.1l-6.6-22.9M432.7 381.7l6.6 24.3"/>
<path class=n d="M332.8 352.4l5.8-5.3-7.5 .3z" fill="#e4d5d5"/>
<path class=n d="M338.6 347.1l5.6-5.1-6.6-20.6-11.4 11.5 4.9 14.5z" fill="#e4b7b7"/>
<path d="M332.8 352.4l11.4-10.4M337.6 321.4l-11.4 11.5"/>
<path class=b d="M344.2 342l-6.6-20.6M326.2 332.9l6.6 19.5"/>
<line x1="338.6" y1="347.1" x2="331.1" y2="347.4" stroke="#960000" stroke-width="2.0" stroke-linecap="round"/>
<path d="M622.9 334.9l11.4-15.3-6.6-1-11.4 14.4z" fill="#e3b5b5"/>
<path class=b d="M634.3 319.6l-6.6-1M616.3 333l6.6 1.9"/>
<path class=n d="M226.3 423.8l11.4-21.9-6.6-8.5-11.4 22.5z" fill="#dbe9ea"/>
<path class=n d="M237.7 401.9l0 0-6.6-8.5 0 0z" fill="#eadbdb"/>
<path d="M226.3 423.8l11.4-21.9M231.1 393.4l-11.4 22.5"/>
<path class=b d="M219.7 415.9l6.6 7.9"/>
<line x1="539.2" y1="397.1" x2="532.6" y2="388.5" stroke="#000" stroke-width="1.9"/>
<path d="M516.4 422.9l11.4-12.8-6.6-11.1-11.5 10.3z" fill="#f2ffff"/>
<path class=b d="M527.8 410.1l-6.6-11.1M509.7 409.3l6.7 13.6"/>
<path d="M119.8 510.1l11.4-11.4-6.6-14.6-11.4 11z" fill="#c8f4f9"/>
<path class=b d="M131.2 498.7l-6.6-14.6M113.2 495.1l6.6 15"/>
<path d="M409.8 389.8l11.5-4.3-6.6-25-11.5 3.6z" fill="#cabcbc"/>
<path class=b d="M421.3 385.5l-6.6-25M403.2 364.1l6.6 25.7"/>
<path class=n d="M303.3 360.5l11.5-14.5 0 0-15.2-4.8-2.9 4z" fill="#f1e1e1"/>
<path class=n d="M314.8 346l0 0-6.7-16.7-8.5 11.9z" fill="#f1c1c1"/>
<path d="M303.3 360.5l11.5-14.5M308.1 329.3l-11.4 15.9"/>
<path class=b d="M314.8 346l-6.7-16.7M296.7 345.2l6.6 15.3"/>
<line x1="314.7" y1="346.0" x2="299.6" y2="341.2" stroke="#960000" stroke-width="2.0" stroke-linecap="round"/>
<path d="M593.4 366.1l11.4-17.2-6.6-1.8-11.4 15.7z" fill="#e6d6d6"/>
<path class=b d="M604.8 348.9l-6.6-1.8M586.8 362.8l6.6 3.3"/>
<path d="M196.8 459.2l11.4-21.2-6.6-8.1-11.4 21.4z" fill="#dbeaeb"/>
<path class=b d="M208.2 438l-6.6-8.1M190.2 451.3l6.6 7.9"/>
<path d="M486.9 428.9l11.4-9.6-6.6-16.4-11.5 7.3z" fill="#d9e6e8"/>
<path class=b d="M498.3 419.3l-6.6-16.4M480.2 410.2l6.7 18.7"/>
<path d="M90.3 510l11.4-6.2-6.6-17.8-11.4 6.1z" fill="#b3dbdf"/>
<path class=b d="M101.7 503.8l-6.6-17.8M83.7 492.1l6.6 17.9"/>
<path d="M380.3 374l11.5-5.4-6.6-25-11.5 5.6z" fill="#cec0c0"/>
<path class=b d="M391.8 368.6l-6.6-25M373.7 349.2l6.6 24.8"/>
<path d="M670.4 302l11.4-9.1-6.6-4.4-11.4 8.9z" fill="#edbebe"/>
<path class=b d="M681.8 292.9l-6.6-4.4M663.8 297.4l6.6 4.6"/>
<path d="M273.8 380.7l11.5-18.3-6.7-12.7-11.4 19.6z" fill="#f0e0e0"/>
<path class=b d="M285.3 362.4l-6.7-12.7M267.2 369.3l6.6 11.4"/>
<path d="M563.9 396.6l11.4-17.2-6.6-4.3-11.4 15.1z" fill="#eddddd"/>
<path class=b d="M575.3 379.4l-6.6-4.3M557.3 390.2l6.6 6.4"/>
<path d="M167.3 490l11.4-18.5-6.6-9.4-11.4 18.3z" fill="#c0ebf0"/>
<path class=b d="M178.7 471.5l-6.6-9.4M160.7 480.4l6.6 9.6"/>
<line x1="462.2" y1="396.2" x2="473.6" y2="391.2" stroke="#000" stroke-width="1.9" stroke-dasharray="12.0 7.46" stroke-dashoffset="8.06"/>
<path class=n d="M457.4 424l11.4-6.7-6.6-21.1-11.4 4.9z" fill="#c5d2d4"/>
<path d="M457.4 424l11.4-6.7"/>
<path class=b d="M468.8 417.3l-6.6-21.1M450.8 401.1l6.6 22.9"/>
<path class=n d="M350.8 364.1l11.5-8.1-3.6-12.3-13.1 2.7z" fill="#d9cbcb"/>
<path class=n d="M358.7 343.7l-3-10.7-11.5 9 1.4 4.4z" fill="#d9aeae"/>
<path d="M350.8 364.1l11.5-8.1M355.7 333l-11.5 9"/>
<path class=b d="M362.3 356l-6.6-23M344.2 342l6.6 22.1"/>
<line x1="358.7" y1="343.7" x2="345.6" y2="346.4" stroke="#960000" stroke-width="2.0" stroke-linecap="round"/>
<path d="M640.9 322.6l11.5-13.8-6.6-2.4-11.5 13.2z" fill="#e7b9b9"/>
<path class=b d="M652.4 308.8l-6.6-2.4M634.3 319.6l6.6 3"/>
<path class=n d="M244.3 410.5l11.5-20.8-6.6-9.6-11.5 21.8z" fill="#ecdcdc"/>
<path d="M244.3 410.5l11.5-20.8M249.2 380.1l-11.5 21.8"/>
<path class=b d="M255.8 389.7l-6.6-9.6"/>
<path class=n d="M534.4 421l11.4-15.4-6.6-8.5-11.4 13z" fill="#e9f7f9"/>
<path d="M534.4 421l11.4-15.4M539.2 397.1l-11.4 13"/>
<path class=b d="M527.8 410.1l6.6 10.9"/>
<path d="M137.8 511l11.4-14.2-6.6-11.9-11.4 13.8z" fill="#c9f5fa"/>
<path class=b d="M149.2 496.8l-6.6-11.9M131.2 498.7l6.6 12.3"/>
<path class=n d="M427.9 411l11.4-5-6.6-24.3-11.4 3.8z" fill="#cbbebe"/>
<path d="M432.7 381.7l-11.4 3.8"/>
<path class=b d="M439.3 406l-6.6-24.3M421.3 385.5l6.6 25.5"/>
<path class=n d="M321.4 364.1l11.4-11.7-1.7-5-16.3-1.4 0 0z" fill="#eadada"/>
<path class=n d="M331.1 347.4l-4.9-14.5-11.4 13.1 0 0z" fill="#eabbbb"/>
<path d="M321.4 364.1l11.4-11.7M326.2 332.9l-11.4 13.1"/>
<path class=b d="M332.8 352.4l-6.6-19.5M314.8 346l6.6 18.1"/>
<line x1="331.1" y1="347.4" x2="314.8" y2="346.0" stroke="#960000" stroke-width="2.0" stroke-linecap="round"/>
<line x1="237.7" y1="401.9" x2="231.1" y2="393.4" stroke="#000" stroke-width="1.9"/>
<path class=n d="M607.7 344.8l-2.9 4.1 3.4 1.5z" fill="#e6d6d6"/>
<path class=n d="M611.4 351.9l11.5-17-6.6-1.9-8.6 11.8 .5 5.6z" fill="#e6b8b8"/>
<path d="M611.4 351.9l11.5-17M616.3 333l-11.5 15.9"/>
<path class=b d="M622.9 334.9l-6.6-1.9M604.8 348.9l6.6 3"/>
<line x1="607.7" y1="344.8" x2="608.2" y2="350.4" stroke="#960000" stroke-width="2.0" stroke-linecap="round"/>
<path d="M214.8 445.2l11.5-21.4-6.6-7.9-11.5 22.1z" fill="#dbe9ea"/>
<path class=b d="M226.3 423.8l-6.6-7.9M208.2 438l6.6 7.2"/>
<path d="M504.9 435.3l11.5-12.4-6.7-13.6-11.4 10z" fill="#e9f7f9"/>
<path class=b d="M516.4 422.9l-6.7-13.6M498.3 419.3l6.6 16"/>
<path d="M108.3 519l11.5-8.9-6.6-15-11.5 8.7z" fill="#c6f1f6"/>
<path class=b d="M119.8 510.1l-6.6-15M101.7 503.8l6.6 15.2"/>
<path d="M398.4 394.5l11.4-4.7-6.6-25.7-11.4 4.5z" fill="#cbbdbd"/>
<path class=b d="M409.8 389.8l-6.6-25.7M391.8 368.6l6.6 25.9"/>
<path d="M688.5 300.1l11.4-6.3-6.6-7.2-11.5 6.3z" fill="#f9c8c8"/>
<path class=b d="M699.9 293.8l-6.6-7.2M681.8 292.9l6.7 7.2"/>
<path d="M291.9 376.2l11.4-15.7-6.6-15.3-11.4 17.2z" fill="#f2e2e2"/>
<path class=b d="M303.3 360.5l-6.6-15.3M285.3 362.4l6.6 13.8"/>
<path d="M581.9 384.4l11.5-18.3-6.6-3.3-11.5 16.6z" fill="#e9dada"/>
<path class=b d="M593.4 366.1l-6.6-3.3M575.3 379.4l6.6 5"/>
<path class=n d="M185.4 479.2l6.9-12.2-6.1-8.8-7.5 13.3z" fill="#bde8ec"/>
<path class=n d="M192.3 467l4.5-7.8-6.6-7.9-4 6.9z" fill="#ddebec"/>
<path d="M185.4 479.2l11.4-20M190.2 451.3l-11.5 20.2"/>
<path class=b d="M196.8 459.2l-6.6-7.9M178.7 471.5l6.7 7.7"/>
<line x1="192.3" y1="467.0" x2="186.2" y2="458.2" stroke="#003c68" stroke-width="2.0" stroke-linecap="round"/>
<path d="M475.4 438.1l11.5-9.2-6.7-18.7-11.4 7.1z" fill="#d0dedf"/>
<path class=b d="M486.9 428.9l-6.7-18.7M468.8 417.3l6.6 20.8"/>
<path d="M368.9 380.2l11.4-6.2-6.6-24.8-11.4 6.8z" fill="#d1c3c3"/>
<path class=b d="M380.3 374l-6.6-24.8M362.3 356l6.6 24.2"/>
<path d="M659 313.7l11.4-11.7-6.6-4.6-11.4 11.4z" fill="#efbfbf"/>
<path class=b d="M670.4 302l-6.6-4.6M652.4 308.8l6.6 4.9"/>
<path d="M262.4 399.7l11.4-19-6.6-11.4-11.4 20.4z" fill="#efdfdf"/>
<path class=b d="M273.8 380.7l-6.6-11.4M255.8 389.7l6.6 10"/>
<path class=n d="M552.4 414.2l0 0-6.6-8.6 0 0z" fill="#e1eff1"/>
<path class=n d="M552.4 414.2l11.5-17.6-6.6-6.4-11.5 15.4z" fill="#f1e1e1"/>
<path d="M552.4 414.2l11.5-17.6M557.3 390.2l-11.5 15.4"/>
<path class=b d="M563.9 396.6l-6.6-6.4"/>
<path d="M155.9 506.5l11.4-16.5-6.6-9.6-11.5 16.4z" fill="#c3eff3"/>
<path class=b d="M167.3 490l-6.6-9.6M149.2 496.8l6.7 9.7"/>
<line x1="450.8" y1="401.1" x2="462.2" y2="396.2" stroke="#000" stroke-width="1.9" stroke-dasharray="12.0 7.46" stroke-dashoffset="15.06"/>
<path class=n d="M445.9 430.4l11.5-6.4-6.6-22.9-11.5 4.9z" fill="#c2cfd0"/>
<path d="M445.9 430.4l11.5-6.4"/>
<path class=b d="M457.4 424l-6.6-22.9M439.3 406l6.6 24.4"/>
<path class=n d="M339.4 373.2l11.4-9.1-5.2-17.7-7 .7-5.8 5.3z" fill="#ded0d0"/>
<path class=n d="M345.6 346.4l-1.4-4.4-5.6 5.1z" fill="#deb2b2"/>
<path d="M339.4 373.2l11.4-9.1M344.2 342l-11.4 10.4"/>
<path class=b d="M350.8 364.1l-6.6-22.1M332.8 352.4l6.6 20.8"/>
<line x1="345.6" y1="346.4" x2="338.6" y2="347.1" stroke="#960000" stroke-width="2.0" stroke-linecap="round"/>
<path d="M629.5 338.6l11.4-16-6.6-3-11.4 15.3z" fill="#e8baba"/>
<path class=b d="M640.9 322.6l-6.6-3M622.9 334.9l6.6 3.7"/>
<path class=n d="M232.9 431.3l11.4-20.8-6.6-8.6-11.4 21.9z" fill="#dbeaeb"/>
<path class=n d="M244.3 410.5l0 0-6.6-8.6 0 0z" fill="#ebdbdb"/>
<path d="M232.9 431.3l11.4-20.8M237.7 401.9l-11.4 21.9"/>
<path class=b d="M226.3 423.8l6.6 7.5"/>
<line x1="545.8" y1="405.6" x2="539.2" y2="397.1" stroke="#000" stroke-width="1.9"/>
<path d="M523 436.1l11.4-15.1-6.6-10.9-11.4 12.8z" fill="#eaf8fa"/>
<path class=b d="M534.4 421l-6.6-10.9M516.4 422.9l6.6 13.2"/>
<path d="M126.4 522.6l11.4-11.6-6.6-12.3-11.4 11.4z" fill="#d1feff"/>
<path class=b d="M137.8 511l-6.6-12.3M119.8 510.1l6.6 12.5"/>
<path class=n d="M416.4 415.9l11.5-4.9-6.6-25.5-11.5 4.3z" fill="#cbbdbd"/>
<path d="M421.3 385.5l-11.5 4.3"/>
<path class=b d="M427.9 411l-6.6-25.5M409.8 389.8l6.6 26.1"/>
<path d="M309.9 377.1l11.5-13-6.6-18.1-11.5 14.5z" fill="#eedfdf"/>
<path class=b d="M321.4 364.1l-6.6-18.1M303.3 360.5l6.6 16.6"/>
<line x1="314.8" y1="346.0" x2="314.7" y2="346.0" stroke="#960000" stroke-width="2.0" stroke-linecap="round"/>
<path class=n d="M600 370.4l9.2-14.8-1-5.2-3.4-1.5-11.4 17.2z" fill="#e8d8d8"/>
<path class=n d="M609.2 355.6l2.2-3.7-3.2-1.5z" fill="#e8b9b9"/>
<path d="M600 370.4l11.4-18.5M604.8 348.9l-11.4 17.2"/>
<path class=b d="M611.4 351.9l-6.6-3M593.4 366.1l6.6 4.3"/>
<line x1="609.2" y1="355.6" x2="608.2" y2="350.4" stroke="#960000" stroke-width="2.0" stroke-linecap="round"/>
<path d="M203.4 465.8l11.4-20.6-6.6-7.2-11.4 21.2z" fill="#dbe9eb"/>
<path class=b d="M214.8 445.2l-6.6-7.2M196.8 459.2l6.6 6.6"/>
<path d="M493.5 447.2l11.4-11.9-6.6-16-11.4 9.6z" fill="#deecee"/>
<path class=b d="M504.9 435.3l-6.6-16M486.9 428.9l6.6 18.3"/>
<path d="M96.9 525.3l11.4-6.3-6.6-15.2-11.4 6.2z" fill="#bce6ea"/>
<path class=b d="M108.3 519l-6.6-15.2M90.3 510l6.6 15.3"/>
<path d="M387 399.7l11.4-5.2-6.6-25.9-11.5 5.4z" fill="#cdbfbf"/>
<path class=b d="M398.4 394.5l-6.6-25.9M380.3 374l6.7 25.7"/>
<path d="M677 309.2l11.5-9.1-6.7-7.2-11.4 9.1z" fill="#ffcece"/>
<path class=b d="M688.5 300.1l-6.7-7.2M670.4 302l6.6 7.2"/>
<path d="M280.4 392.8l11.5-16.6-6.6-13.8-11.5 18.3z" fill="#f2e2e2"/>
<path class=b d="M291.9 376.2l-6.6-13.8M273.8 380.7l6.6 12.1"/>
<path d="M570.5 403.4l11.4-19-6.6-5-11.4 17.2z" fill="#ecdcdc"/>
<path class=b d="M581.9 384.4l-6.6-5M563.9 396.6l6.6 6.8"/>
<path d="M173.9 497.5l11.5-18.3-6.7-7.7-11.4 18.5z" fill="#bfe9ee"/>
<path class=b d="M185.4 479.2l-6.7-7.7M167.3 490l6.6 7.5"/>
<path d="M464 446.6l11.4-8.5-6.6-20.8-11.4 6.7z" fill="#cbd8d9"/>
<path class=b d="M475.4 438.1l-6.6-20.8M457.4 424l6.6 22.6"/>
<path d="M357.5 387.3l11.4-7.1-6.6-24.2-11.5 8.1z" fill="#d5c7c7"/>
<path class=b d="M368.9 380.2l-6.6-24.2M350.8 364.1l6.7 23.2"/>
<path d="M647.5 327.8l11.5-14.1-6.6-4.9-11.5 13.8z" fill="#eebfbf"/>
<path class=b d="M659 313.7l-6.6-4.9M640.9 322.6l6.6 5.2"/>
<path class=n d="M250.9 419l11.5-19.3-6.6-10-11.5 20.8z" fill="#eedede"/>
<path d="M250.9 419l11.5-19.3M255.8 389.7l-11.5 20.8"/>
<path class=b d="M262.4 399.7l-6.6-10"/>
<path class=n d="M541 431.7l11.4-17.5-6.6-8.6-11.4 15.4z" fill="#e3f2f3"/>
<path d="M541 431.7l11.4-17.5M545.8 405.6l-11.4 15.4"/>
<path class=b d="M534.4 421l6.6 10.7"/>
<path d="M144.4 520.7l11.5-14.2-6.7-9.7-11.4 14.2z" fill="#c8f4f9"/>
<path class=b d="M155.9 506.5l-6.7-9.7M137.8 511l6.6 9.7"/>
<line x1="439.3" y1="406.0" x2="450.8" y2="401.1" stroke="#000" stroke-width="1.9" stroke-dasharray="12.0 7.46" stroke-dashoffset="2.60"/>
<path class=n d="M434.5 436.4l11.4-6-6.6-24.4-11.4 5z" fill="#c0cdce"/>
<path d="M434.5 436.4l11.4-6"/>
<path class=b d="M445.9 430.4l-6.6-24.4M427.9 411l6.6 25.4"/>
<path d="M328 383.4l11.4-10.2-6.6-20.8-11.4 11.7z" fill="#e4d5d5"/>
<path class=b d="M339.4 373.2l-6.6-20.8M321.4 364.1l6.6 19.3"/>
<line x1="244.3" y1="410.5" x2="237.7" y2="401.9" stroke="#000" stroke-width="1.9"/>
<path d="M618 356.4l11.5-17.8-6.6-3.7-11.5 17z" fill="#e9baba"/>
<path class=b d="M629.5 338.6l-6.6-3.7M611.4 351.9l6.6 4.5"/>
<path d="M221.4 451.7l11.5-20.4-6.6-7.5-11.5 21.4z" fill="#dbe9eb"/>
<path class=b d="M232.9 431.3l-6.6-7.5M214.8 445.2l6.6 6.5"/>
<path d="M511.5 450.8l11.5-14.7-6.6-13.2-11.5 12.4z" fill="#e7f5f7"/>
<path class=b d="M523 436.1l-6.6-13.2M504.9 435.3l6.6 15.5"/>
<path d="M114.9 531.7l11.5-9.1-6.6-12.5-11.5 8.9z" fill="#daffff"/>
<path class=b d="M126.4 522.6l-6.6-12.5M108.3 519l6.6 12.7"/>
<path class=n d="M405 420.8l11.4-4.9-6.6-26.1-11.4 4.7z" fill="#cbbdbd"/>
<path d="M409.8 389.8l-11.4 4.7"/>
<path class=b d="M416.4 415.9l-6.6-26.1M398.4 394.5l6.6 26.3"/>
<path d="M695.1 310l11.4-6.3-6.6-9.9-11.4 6.3z" fill="#ffe2e2"/>
<path class=b d="M706.5 303.7l-6.6-9.9M688.5 300.1l6.6 9.9"/>
<path d="M298.5 390.9l11.4-13.8-6.6-16.6-11.4 15.7z" fill="#f2e2e2"/>
<path class=b d="M309.9 377.1l-6.6-16.6M291.9 376.2l6.6 14.7"/>
<path d="M588.6 390l11.4-19.6-6.6-4.3-11.5 18.3z" fill="#eadada"/>
<path class=b d="M600 370.4l-6.6-4.3M581.9 384.4l6.7 5.6"/>
<path class=n d="M192 485.3l5.3-9-5-9.3-6.9 12.2z" fill="#bce6eb"/>
<path class=n d="M197.3 476.3l6.1-10.5-6.6-6.6-4.5 7.8z" fill="#dbeaeb"/>
<path d="M192 485.3l11.4-19.5M196.8 459.2l-11.4 20"/>
<path class=b d="M203.4 465.8l-6.6-6.6M185.4 479.2l6.6 6.1"/>
<line x1="197.3" y1="476.3" x2="192.3" y2="467.0" stroke="#003c68" stroke-width="2.0" stroke-linecap="round"/>
<path d="M482 458.3l11.5-11.1-6.6-18.3-11.5 9.2z" fill="#d6e4e5"/>
<path class=b d="M493.5 447.2l-6.6-18.3M475.4 438.1l6.6 20.2"/>
<path d="M375.5 405.3l11.5-5.6-6.7-25.7-11.4 6.2z" fill="#cfc1c1"/>
<path class=b d="M387 399.7l-6.7-25.7M368.9 380.2l6.6 25.1"/>
<path d="M665.6 321l11.4-11.8-6.6-7.2-11.4 11.7z" fill="#fac8c8"/>
<path class=b d="M677 309.2l-6.6-7.2M659 313.7l6.6 7.3"/>
<path d="M269 410l11.4-17.2-6.6-12.1-11.4 19z" fill="#f1e1e1"/>
<path class=b d="M280.4 392.8l-6.6-12.1M262.4 399.7l6.6 10.3"/>
<path class=n d="M559.1 422.7l0 0-6.7-8.5 0 0z" fill="#deedee"/>
<path class=n d="M559.1 422.7l11.4-19.3-6.6-6.8-11.5 17.6z" fill="#eedede"/>
<path d="M559.1 422.7l11.4-19.3M563.9 396.6l-11.5 17.6"/>
<path class=b d="M570.5 403.4l-6.6-6.8"/>
<path d="M162.5 513.9l11.4-16.4-6.6-7.5-11.4 16.5z" fill="#c1ecf1"/>
<path class=b d="M173.9 497.5l-6.6-7.5M155.9 506.5l6.6 7.4"/>
<path d="M452.5 454.4l11.5-7.8-6.6-22.6-11.5 6.4z" fill="#c6d3d5"/>
<path class=b d="M464 446.6l-6.6-22.6M445.9 430.4l6.6 24"/>
<path d="M346 395.1l11.5-7.8-6.7-23.2-11.4 9.1z" fill="#d9cbcb"/>
<path class=b d="M357.5 387.3l-6.7-23.2M339.4 373.2l6.6 21.9"/>
<path d="M636.1 344.2l11.4-16.4-6.6-5.2-11.4 16z" fill="#edbebe"/>
<path class=b d="M647.5 327.8l-6.6-5.2M629.5 338.6l6.6 5.6"/>
<path class=n d="M239.5 438.3l11.4-19.3-6.6-8.5-11.4 20.8z" fill="#ddebec"/>
<path class=n d="M250.9 419l0 0-6.6-8.5 0 0z" fill="#ecdddd"/>
<path d="M239.5 438.3l11.4-19.3M244.3 410.5l-11.4 20.8"/>
<path class=b d="M232.9 431.3l6.6 7"/>
<line x1="552.5" y1="414.2" x2="545.8" y2="405.6" stroke="#000" stroke-width="1.9"/>
<path d="M529.6 448.9l11.4-17.2-6.6-10.7-11.4 15.1z" fill="#e4f3f5"/>
<path class=b d="M541 431.7l-6.6-10.7M523 436.1l6.6 12.8"/>
<path d="M133 532.5l11.4-11.8-6.6-9.7-11.4 11.6z" fill="#d1feff"/>
<path class=b d="M144.4 520.7l-6.6-9.7M126.4 522.6l6.6 9.9"/>
<line x1="427.9" y1="411.0" x2="439.3" y2="406.0" stroke="#000" stroke-width="1.9" stroke-dasharray="12.0 7.46" stroke-dashoffset="9.60"/>
<path class=n d="M423 442l11.5-5.6-6.6-25.4-11.5 4.9z" fill="#bfcbcd"/>
<path d="M423 442l11.5-5.6"/>
<path class=b d="M434.5 436.4l-6.6-25.4M416.4 415.9l6.6 26.1"/>
<path d="M316.5 394.5l11.5-11.1-6.6-19.3-11.5 13z" fill="#ebdbdb"/>
<path class=b d="M328 383.4l-6.6-19.3M309.9 377.1l6.6 17.4"/>
<path class=n d="M606.6 375.9l6.1-10.5-3.5-9.8-9.2 14.8z" fill="#eadada"/>
<path class=n d="M612.7 365.4l5.3-9-6.6-4.5-2.2 3.7z" fill="#eabbbb"/>
<path d="M606.6 375.9l11.4-19.5M611.4 351.9l-11.4 18.5"/>
<path class=b d="M618 356.4l-6.6-4.5M600 370.4l6.6 5.5"/>
<line x1="612.7" y1="365.4" x2="609.2" y2="355.6" stroke="#960000" stroke-width="2.0" stroke-linecap="round"/>
<path d="M210 471.3l11.4-19.6-6.6-6.5-11.4 20.6z" fill="#dae8ea"/>
<path class=b d="M221.4 451.7l-6.6-6.5M203.4 465.8l6.6 5.5"/>
<path d="M500.1 464.6l11.4-13.8-6.6-15.5-11.4 11.9z" fill="#e1f0f1"/>
<path class=b d="M511.5 450.8l-6.6-15.5M493.5 447.2l6.6 17.4"/>
<path d="M103.5 538l11.4-6.3-6.6-12.7-11.4 6.3z" fill="#d0fcff"/>
<path class=b d="M114.9 531.7l-6.6-12.7M96.9 525.3l6.6 12.7"/>
<path class=n d="M393.6 425.8l11.4-5-6.6-26.3-11.4 5.2z" fill="#cbbebe"/>
<path d="M398.4 394.5l-11.4 5.2"/>
<path class=b d="M405 420.8l-6.6-26.3M387 399.7l6.6 26.1"/>
<path d="M683.6 319.1l11.5-9.1-6.6-9.9-11.5 9.1z" fill="#ffe3e3"/>
<path class=b d="M695.1 310l-6.6-9.9M677 309.2l6.6 9.9"/>
<path d="M287 405.6l11.5-14.7-6.6-14.7-11.5 16.6z" fill="#f4e4e4"/>
<path class=b d="M298.5 390.9l-6.6-14.7M280.4 392.8l6.6 12.8"/>
<path d="M577.1 410.4l11.5-20.4-6.7-5.6-11.4 19z" fill="#ebdbdb"/>
<path class=b d="M588.6 390l-6.7-5.6M570.5 403.4l6.6 7"/>
<path d="M180.5 503.1l11.5-17.8-6.6-6.1-11.5 18.3z" fill="#bde7ec"/>
<path class=b d="M192 485.3l-6.6-6.1M173.9 497.5l6.6 5.6"/>
<path d="M470.6 468.5l11.4-10.2-6.6-20.2-11.4 8.5z" fill="#d0dddf"/>
<path class=b d="M482 458.3l-6.6-20.2M464 446.6l6.6 21.9"/>
<path d="M364.1 411.3l11.4-6-6.6-25.1-11.4 7.1z" fill="#d1c3c3"/>
<path class=b d="M375.5 405.3l-6.6-25.1M357.5 387.3l6.6 24"/>
<path d="M654.1 335.2l11.5-14.2-6.6-7.3-11.5 14.1z" fill="#f5c4c4"/>
<path class=b d="M665.6 321l-6.6-7.3M647.5 327.8l6.6 7.4"/>
<path class=n d="M257.5 427.6l11.5-17.6-6.6-10.3-11.5 19.3z" fill="#f0e0e0"/>
<path d="M257.5 427.6l11.5-17.6M262.4 399.7l-11.5 19.3"/>
<path class=b d="M269 410l-6.6-10.3"/>
<path class=n d="M547.6 442l11.5-19.3-6.7-8.5-11.4 17.5z" fill="#e0eef0"/>
<path d="M547.6 442l11.5-19.3M552.4 414.2l-11.4 17.5"/>
<path class=b d="M541 431.7l6.6 10.3"/>
<path d="M151 528l11.5-14.1-6.6-7.4-11.5 14.2z" fill="#c4f0f5"/>
<path class=b d="M162.5 513.9l-6.6-7.4M144.4 520.7l6.6 7.3"/>
<path d="M441.1 461.5l11.4-7.1-6.6-24-11.4 6z" fill="#c3d0d1"/>
<path class=b d="M452.5 454.4l-6.6-24M434.5 436.4l6.6 25.1"/>
<path d="M334.6 403.6l11.4-8.5-6.6-21.9-11.4 10.2z" fill="#dfd0d0"/>
<path class=b d="M346 395.1l-6.6-21.9M328 383.4l6.6 20.2"/>
<line x1="250.9" y1="419.0" x2="244.3" y2="410.5" stroke="#000" stroke-width="1.9"/>
<path d="M624.6 362.5l11.5-18.3-6.6-5.6-11.5 17.8z" fill="#ecbdbd"/>
<path class=b d="M636.1 344.2l-6.6-5.6M618 356.4l6.6 6.1"/>
<path d="M228.1 457.3l11.4-19-6.6-7-11.5 20.4z" fill="#dbeaeb"/>
<path class=b d="M239.5 438.3l-6.6-7M221.4 451.7l6.7 5.6"/>
<path d="M518.1 465.5l11.5-16.6-6.6-12.8-11.5 14.7z" fill="#e4f3f4"/>
<path class=b d="M529.6 448.9l-6.6-12.8M511.5 450.8l6.6 14.7"/>
<path d="M121.5 541.6l11.5-9.1-6.6-9.9-11.5 9.1z" fill="#e3ffff"/>
<path class=b d="M133 532.5l-6.6-9.9M114.9 531.7l6.6 9.9"/>
<line x1="416.4" y1="415.9" x2="427.9" y2="411.0" stroke="#000" stroke-width="1.9" stroke-dasharray="12.0 7.46" stroke-dashoffset="16.60"/>
<path class=n d="M411.6 447.2l11.4-5.2-6.6-26.1-11.4 4.9z" fill="#becacb"/>
<path d="M411.6 447.2l11.4-5.2"/>
<path class=b d="M423 442l-6.6-26.1M405 420.8l6.6 26.4"/>
<path d="M701.7 322.7l11.4-6.3-6.6-12.7-11.4 6.3z" fill="#ffd0d0"/>
<path class=b d="M713.1 316.4l-6.6-12.7M695.1 310l6.6 12.7"/>
<path d="M305.1 406.4l11.4-11.9-6.6-17.4-11.4 13.8z" fill="#f1e1e1"/>
<path class=b d="M316.5 394.5l-6.6-17.4M298.5 390.9l6.6 15.5"/>
<path d="M595.2 396.5l11.4-20.6-6.6-5.5-11.4 19.6z" fill="#eadada"/>
<path class=b d="M606.6 375.9l-6.6-5.5M588.6 390l6.6 6.5"/>
<path class=n d="M198.6 489.8l2.2-3.7-3.5-9.8-5.3 9z" fill="#bbe5ea"/>
<path class=n d="M200.8 486.1l9.2-14.8-6.6-5.5-6.1 10.5z" fill="#dae8ea"/>
<path d="M198.6 489.8l11.4-18.5M203.4 465.8l-11.4 19.5"/>
<path class=b d="M210 471.3l-6.6-5.5M192 485.3l6.6 4.5"/>
<line x1="200.8" y1="486.1" x2="197.3" y2="476.3" stroke="#003c68" stroke-width="2.0" stroke-linecap="round"/>
<path d="M488.6 477.6l11.5-13-6.6-17.4-11.5 11.1z" fill="#dbe9eb"/>
<path class=b d="M500.1 464.6l-6.6-17.4M482 458.3l6.6 19.3"/>
<path class=n d="M382.1 430.7l11.5-4.9-6.6-26.1-11.5 5.6z" fill="#cdbfbf"/>
<path d="M387 399.7l-11.5 5.6"/>
<path class=b d="M393.6 425.8l-6.6-26.1M375.5 405.3l6.6 25.4"/>
<path d="M672.2 330.7l11.4-11.6-6.6-9.9-11.4 11.8z" fill="#ffd1d1"/>
<path class=b d="M683.6 319.1l-6.6-9.9M665.6 321l6.6 9.7"/>
<path d="M275.6 420.7l11.4-15.1-6.6-12.8-11.4 17.2z" fill="#f5e4e4"/>
<path class=b d="M287 405.6l-6.6-12.8M269 410l6.6 10.7"/>
<path class=n d="M565.7 431.2l0 0-6.6-8.5 0 0z" fill="#ddebec"/>
<path class=n d="M565.7 431.2l11.4-20.8-6.6-7-11.4 19.3z" fill="#ecdddd"/>
<path d="M565.7 431.2l11.4-20.8M570.5 403.4l-11.4 19.3"/>
<path class=b d="M577.1 410.4l-6.6-7"/>
<path d="M169.1 519.1l11.4-16-6.6-5.6-11.4 16.4z" fill="#bee8ed"/>
<path class=b d="M180.5 503.1l-6.6-5.6M162.5 513.9l6.6 5.2"/>
<path d="M459.2 477.6l11.4-9.1-6.6-21.9-11.5 7.8z" fill="#cbd8d9"/>
<path class=b d="M470.6 468.5l-6.6-21.9M452.5 454.4l6.7 23.2"/>
<path d="M352.6 417.7l11.5-6.4-6.6-24-11.5 7.8z" fill="#d5c6c6"/>
<path class=b d="M364.1 411.3l-6.6-24M346 395.1l6.6 22.6"/>
<path d="M642.7 351.7l11.4-16.5-6.6-7.4-11.4 16.4z" fill="#f1c1c1"/>
<path class=b d="M654.1 335.2l-6.6-7.4M636.1 344.2l6.6 7.5"/>
<path class=n d="M246.1 445.1l11.4-17.5-6.6-8.6-11.4 19.3z" fill="#deedee"/>
<path class=n d="M257.5 427.6l0 0-6.6-8.6 0 0z" fill="#eedede"/>
<path d="M246.1 445.1l11.4-17.5M250.9 419l-11.4 19.3"/>
<path class=b d="M239.5 438.3l6.6 6.8"/>
<line x1="559.1" y1="422.7" x2="552.5" y2="414.2" stroke="#000" stroke-width="1.9"/>
<path d="M536.2 461l11.4-19-6.6-10.3-11.4 17.2z" fill="#e1f0f1"/>
<path class=b d="M547.6 442l-6.6-10.3M529.6 448.9l6.6 12.1"/>
<path d="M139.6 539.7l11.4-11.7-6.6-7.3-11.4 11.8z" fill="#c8f5fa"/>
<path class=b d="M151 528l-6.6-7.3M133 532.5l6.6 7.2"/>
<path d="M429.7 467.7l11.4-6.2-6.6-25.1-11.5 5.6z" fill="#c1cdcf"/>
<path class=b d="M441.1 461.5l-6.6-25.1M423 442l6.7 25.7"/>
<path d="M323.1 412.8l11.5-9.2-6.6-20.2-11.5 11.1z" fill="#e5d6d6"/>
<path class=b d="M334.6 403.6l-6.6-20.2M316.5 394.5l6.6 18.3"/>
<path class=n d="M613.2 382.5l4.5-7.8-5-9.3-6.1 10.5z" fill="#ebdbdb"/>
<path class=n d="M617.7 374.7l6.9-12.2-6.6-6.1-5.3 9z" fill="#ebbcbc"/>
<path d="M613.2 382.5l11.4-20M618 356.4l-11.4 19.5"/>
<path class=b d="M624.6 362.5l-6.6-6.1M606.6 375.9l6.6 6.6"/>
<line x1="617.7" y1="374.7" x2="612.7" y2="365.4" stroke="#960000" stroke-width="2.0" stroke-linecap="round"/>
<path d="M216.6 475.6l11.5-18.3-6.7-5.6-11.4 19.6z" fill="#dae8ea"/>
<path class=b d="M228.1 457.3l-6.7-5.6M210 471.3l6.6 4.3"/>
<path d="M506.7 481.2l11.4-15.7-6.6-14.7-11.4 13.8z" fill="#e2f0f2"/>
<path class=b d="M518.1 465.5l-6.6-14.7M500.1 464.6l6.6 16.6"/>
<path d="M110.1 548l11.4-6.4-6.6-9.9-11.4 6.3z" fill="#e2ffff"/>
<path class=b d="M121.5 541.6l-6.6-9.9M103.5 538l6.6 10"/>
<line x1="405.0" y1="420.8" x2="416.4" y2="415.9" stroke="#000" stroke-width="1.9" stroke-dasharray="12.0 7.46" stroke-dashoffset="4.14"/>
<path class=n d="M400.2 451.9l11.4-4.7-6.6-26.4-11.4 5z" fill="#bdcacb"/>
<path d="M400.2 451.9l11.4-4.7"/>
<path class=b d="M411.6 447.2l-6.6-26.4M393.6 425.8l6.6 26.1"/>
<path d="M690.2 331.6l11.5-8.9-6.6-12.7-11.5 9.1z" fill="#ffdada"/>
<path class=b d="M701.7 322.7l-6.6-12.7M683.6 319.1l6.6 12.5"/>
<path d="M293.6 418.8l11.5-12.4-6.6-15.5-11.5 14.7z" fill="#f7e7e7"/>
<path class=b d="M305.1 406.4l-6.6-15.5M287 405.6l6.6 13.2"/>
<path d="M583.7 417.9l11.5-21.4-6.6-6.5-11.5 20.4z" fill="#ebdbdb"/>
<path class=b d="M595.2 396.5l-6.6-6.5M577.1 410.4l6.6 7.5"/>
<path d="M187.1 506.8l11.5-17-6.6-4.5-11.5 17.8z" fill="#bae4e9"/>
<path class=b d="M198.6 489.8l-6.6-4.5M180.5 503.1l6.6 3.7"/>
<path d="M477.2 489.3l11.4-11.7-6.6-19.3-11.4 10.2z" fill="#d5e3e4"/>
<path class=b d="M488.6 477.6l-6.6-19.3M470.6 468.5l6.6 20.8"/>
<path class=n d="M370.7 435.7l11.4-5-6.6-25.4-11.4 6z" fill="#cec0c0"/>
<path d="M375.5 405.3l-11.4 6"/>
<path class=b d="M382.1 430.7l-6.6-25.4M364.1 411.3l6.6 24.4"/>
<path d="M660.8 344.9l11.4-14.2-6.6-9.7-11.5 14.2z" fill="#f9c8c8"/>
<path class=b d="M672.2 330.7l-6.6-9.7M654.1 335.2l6.7 9.7"/>
<path class=n d="M264.2 436.1l11.4-15.4-6.6-10.7-11.5 17.6z" fill="#f3e3e3"/>
<path d="M264.2 436.1l11.4-15.4M269 410l-11.5 17.6"/>
<path class=b d="M275.6 420.7l-6.6-10.7"/>
<path class=n d="M554.2 452l11.5-20.8-6.6-8.5-11.5 19.3z" fill="#deecee"/>
<path d="M554.2 452l11.5-20.8M559.1 422.7l-11.5 19.3"/>
<path class=b d="M547.6 442l6.6 10"/>
<path d="M157.6 532.9l11.5-13.8-6.6-5.2-11.5 14.1z" fill="#bfeaee"/>
<path class=b d="M169.1 519.1l-6.6-5.2M151 528l6.6 4.9"/>
<path d="M447.7 485.7l11.5-8.1-6.7-23.2-11.4 7.1z" fill="#c7d4d5"/>
<path class=b d="M459.2 477.6l-6.7-23.2M441.1 461.5l6.6 24.2"/>
<path d="M341.2 424.4l11.4-6.7-6.6-22.6-11.4 8.5z" fill="#d9cbcb"/>
<path class=b d="M352.6 417.7l-6.6-22.6M334.6 403.6l6.6 20.8"/>
<line x1="257.5" y1="427.6" x2="250.9" y2="419.0" stroke="#000" stroke-width="1.9"/>
<path d="M631.3 370.2l11.4-18.5-6.6-7.5-11.5 18.3z" fill="#eebfbf"/>
<path class=b d="M642.7 351.7l-6.6-7.5M624.6 362.5l6.7 7.7"/>
<path d="M234.7 462.3l11.4-17.2-6.6-6.8-11.4 19z" fill="#dceaec"/>
<path class=b d="M246.1 445.1l-6.6-6.8M228.1 457.3l6.6 5"/>
<path d="M524.7 479.3l11.5-18.3-6.6-12.1-11.5 16.6z" fill="#e2f0f2"/>
<path class=b d="M536.2 461l-6.6-12.1M518.1 465.5l6.6 13.8"/>
<path d="M128.2 548.8l11.4-9.1-6.6-7.2-11.5 9.1z" fill="#cefbff"/>
<path class=b d="M139.6 539.7l-6.6-7.2M121.5 541.6l6.7 7.2"/>
<path d="M418.2 473.1l11.5-5.4-6.7-25.7-11.4 5.2z" fill="#bfcbcd"/>
<path class=b d="M429.7 467.7l-6.7-25.7M411.6 447.2l6.6 25.9"/>
<path d="M708.3 337.9l11.4-6.2-6.6-15.3-11.4 6.3z" fill="#eabcbc"/>
<path class=b d="M719.7 331.7l-6.6-15.3M701.7 322.7l6.6 15.2"/>
<path d="M311.7 422.4l11.4-9.6-6.6-18.3-11.4 11.9z" fill="#eedede"/>
<path class=b d="M323.1 412.8l-6.6-18.3M305.1 406.4l6.6 16"/>
<path d="M601.8 403.7l11.4-21.2-6.6-6.6-11.4 20.6z" fill="#ebdbdb"/>
<path class=b d="M613.2 382.5l-6.6-6.6M595.2 396.5l6.6 7.2"/>
<path class=n d="M200.8 486.1l-2.2 3.7 3.2 1.5z" fill="#b9e3e8"/>
<path class=n d="M205.2 492.8l11.4-17.2-6.6-4.3-9.2 14.8 1 5.2z" fill="#d8e6e8"/>
<path d="M205.2 492.8l11.4-17.2M210 471.3l-11.4 18.5"/>
<path class=b d="M216.6 475.6l-6.6-4.3M198.6 489.8l6.6 3"/>
<line x1="200.8" y1="486.1" x2="201.8" y2="491.3" stroke="#003c68" stroke-width="2.0" stroke-linecap="round"/>
<path d="M495.2 495.7l11.5-14.5-6.6-16.6-11.5 13z" fill="#dfedee"/>
<path class=b d="M506.7 481.2l-6.6-16.6M488.6 477.6l6.6 18.1"/>
<line x1="393.6" y1="425.8" x2="405.0" y2="420.8" stroke="#000" stroke-width="1.9" stroke-dasharray="12.0 7.46" stroke-dashoffset="11.14"/>
<path class=n d="M388.7 456.2l11.5-4.3-6.6-26.1-11.5 4.9z" fill="#bdcacb"/>
<path d="M388.7 456.2l11.5-4.3"/>
<path class=b d="M400.2 451.9l-6.6-26.1M382.1 430.7l6.6 25.5"/>
<path d="M678.8 343l11.4-11.4-6.6-12.5-11.4 11.6z" fill="#ffd1d1"/>
<path class=b d="M690.2 331.6l-6.6-12.5M672.2 330.7l6.6 12.3"/>
<path d="M282.2 431.6l11.4-12.8-6.6-13.2-11.4 15.1z" fill="#faeaea"/>
<path class=b d="M293.6 418.8l-6.6-13.2M275.6 420.7l6.6 10.9"/>
<path class=n d="M572.3 439.8l0 0-6.6-8.6 0 0z" fill="#dbeaeb"/>
<path class=n d="M572.3 439.8l11.4-21.9-6.6-7.5-11.4 20.8z" fill="#ebdbdb"/>
<path d="M572.3 439.8l11.4-21.9M577.1 410.4l-11.4 20.8"/>
<path class=b d="M583.7 417.9l-6.6-7.5"/>
<path d="M175.7 522.1l11.4-15.3-6.6-3.7-11.4 16z" fill="#bae4e8"/>
<path class=b d="M187.1 506.8l-6.6-3.7M169.1 519.1l6.6 3"/>
<path class=n d="M465.8 499.7l5.6-5.1-7 .7z" fill="#b2dade"/>
<path class=n d="M471.4 494.6l5.8-5.3-6.6-20.8-11.4 9.1 5.2 17.7z" fill="#d0ddde"/>
<path d="M465.8 499.7l11.4-10.4M470.6 468.5l-11.4 9.1"/>
<path class=b d="M477.2 489.3l-6.6-20.8M459.2 477.6l6.6 22.1"/>
<line x1="471.4" y1="494.6" x2="464.4" y2="495.3" stroke="#003c68" stroke-width="2.0" stroke-linecap="round"/>
<path class=n d="M359.2 440.6l11.5-4.9-6.6-24.4-11.5 6.4z" fill="#d0c2c2"/>
<path d="M364.1 411.3l-11.5 6.4"/>
<path class=b d="M370.7 435.7l-6.6-24.4M352.6 417.7l6.6 22.9"/>
<path d="M649.3 361.3l11.5-16.4-6.7-9.7-11.4 16.5z" fill="#f3c3c3"/>
<path class=b d="M660.8 344.9l-6.7-9.7M642.7 351.7l6.6 9.6"/>
<path class=n d="M252.7 451.5l11.5-15.4-6.7-8.5-11.4 17.5z" fill="#e1eff1"/>
<path class=n d="M264.2 436.1l0 0-6.7-8.5 0 0z" fill="#f1e1e1"/>
<path d="M252.7 451.5l11.5-15.4M257.5 427.6l-11.4 17.5"/>
<path class=b d="M246.1 445.1l6.6 6.4"/>
<line x1="565.7" y1="431.2" x2="559.1" y2="422.7" stroke="#000" stroke-width="1.9"/>
<path d="M542.8 472.4l11.4-20.4-6.6-10-11.4 19z" fill="#dfedef"/>
<path class=b d="M554.2 452l-6.6-10M536.2 461l6.6 11.4"/>
<path d="M146.2 544.3l11.4-11.4-6.6-4.9-11.4 11.7z" fill="#bfeaef"/>
<path class=b d="M157.6 532.9l-6.6-4.9M139.6 539.7l6.6 4.6"/>
<path d="M436.3 492.5l11.4-6.8-6.6-24.2-11.4 6.2z" fill="#c3d0d1"/>
<path class=b d="M447.7 485.7l-6.6-24.2M429.7 467.7l6.6 24.8"/>
<path d="M329.7 431.5l11.5-7.1-6.6-20.8-11.5 9.2z" fill="#dfd0d0"/>
<path class=b d="M341.2 424.4l-6.6-20.8M323.1 412.8l6.6 18.7"/>
<path class=n d="M619.8 390.4l4-6.9-6.1-8.8-4.5 7.8z" fill="#ecdddd"/>
<path class=n d="M623.8 383.5l7.5-13.3-6.7-7.7-6.9 12.2z" fill="#ecbdbd"/>
<path d="M619.8 390.4l11.5-20.2M624.6 362.5l-11.4 20"/>
<path class=b d="M631.3 370.2l-6.7-7.7M613.2 382.5l6.6 7.9"/>
<line x1="623.8" y1="383.5" x2="617.7" y2="374.7" stroke="#960000" stroke-width="2.0" stroke-linecap="round"/>
<path d="M223.2 478.9l11.5-16.6-6.6-5-11.5 18.3z" fill="#dae8e9"/>
<path class=b d="M234.7 462.3l-6.6-5M216.6 475.6l6.6 3.3"/>
<path d="M513.3 496.5l11.4-17.2-6.6-13.8-11.4 15.7z" fill="#e2f0f2"/>
<path class=b d="M524.7 479.3l-6.6-13.8M506.7 481.2l6.6 15.3"/>
<path d="M116.7 555.1l11.5-6.3-6.7-7.2-11.4 6.4z" fill="#c8f5f9"/>
<path class=b d="M128.2 548.8l-6.7-7.2M110.1 548l6.6 7.1"/>
<path d="M406.8 477.6l11.4-4.5-6.6-25.9-11.4 4.7z" fill="#bdcacb"/>
<path class=b d="M418.2 473.1l-6.6-25.9M400.2 451.9l6.6 25.7"/>
<path d="M696.8 346.6l11.5-8.7-6.6-15.2-11.5 8.9z" fill="#f6c6c6"/>
<path class=b d="M708.3 337.9l-6.6-15.2M690.2 331.6l6.6 15"/>
<path d="M300.3 432.4l11.4-10-6.6-16-11.5 12.4z" fill="#f9e9e9"/>
<path class=b d="M311.7 422.4l-6.6-16M293.6 418.8l6.7 13.6"/>
<path d="M590.3 425.8l11.5-22.1-6.6-7.2-11.5 21.4z" fill="#eadbdb"/>
<path class=b d="M601.8 403.7l-6.6-7.2M583.7 417.9l6.6 7.9"/>
<path class=n d="M193.7 508.7l8.6-11.8-.5-5.6-3.2-1.5-11.5 17z" fill="#b8e1e6"/>
<path class=n d="M202.3 496.9l2.9-4.1-3.4-1.5z" fill="#d6e4e6"/>
<path d="M193.7 508.7l11.5-15.9M198.6 489.8l-11.5 17"/>
<path class=b d="M205.2 492.8l-6.6-3M187.1 506.8l6.6 1.9"/>
<line x1="202.3" y1="496.9" x2="201.8" y2="491.3" stroke="#003c68" stroke-width="2.0" stroke-linecap="round"/>
<path class=n d="M483.8 508.8l11.4-13.1 0 0-16.3-1.4z" fill="#bbe5ea"/>
<path class=n d="M495.2 495.7l0 0-6.6-18.1-11.4 11.7 1.7 5z" fill="#dae8ea"/>
<path d="M483.8 508.8l11.4-13.1M488.6 477.6l-11.4 11.7"/>
<path class=b d="M495.2 495.7l-6.6-18.1M477.2 489.3l6.6 19.5"/>
<line x1="495.2" y1="495.7" x2="478.9" y2="494.3" stroke="#003c68" stroke-width="2.0" stroke-linecap="round"/>
<line x1="382.1" y1="430.7" x2="393.6" y2="425.8" stroke="#000" stroke-width="1.9" stroke-dasharray="12.0 7.46" stroke-dashoffset="18.14"/>
<path class=n d="M377.3 460l11.4-3.8-6.6-25.5-11.4 5z" fill="#becacb"/>
<path d="M377.3 460l11.4-3.8"/>
<path class=b d="M388.7 456.2l-6.6-25.5M370.7 435.7l6.6 24.3"/>
<path d="M667.4 356.8l11.4-13.8-6.6-12.3-11.4 14.2z" fill="#fac9c9"/>
<path class=b d="M678.8 343l-6.6-12.3M660.8 344.9l6.6 11.9"/>
<path class=n d="M270.8 444.6l11.4-13-6.6-10.9-11.4 15.4z" fill="#f9e9e9"/>
<path d="M270.8 444.6l11.4-13M275.6 420.7l-11.4 15.4"/>
<path class=b d="M282.2 431.6l-6.6-10.9"/>
<path class=n d="M560.8 461.6l11.5-21.8-6.6-8.6-11.5 20.8z" fill="#dceaec"/>
<path d="M560.8 461.6l11.5-21.8M565.7 431.2l-11.5 20.8"/>
<path class=b d="M554.2 452l6.6 9.6"/>
<path d="M164.2 535.3l11.5-13.2-6.6-3-11.5 13.8z" fill="#b9e2e7"/>
<path class=b d="M175.7 522.1l-6.6-3M157.6 532.9l6.6 2.4"/>
<path class=n d="M454.3 508.7l11.5-9-1.4-4.4-13.1 2.7z" fill="#aed5d9"/>
<path class=n d="M464.4 495.3l-5.2-17.7-11.5 8.1 3.6 12.3z" fill="#cbd8d9"/>
<path d="M454.3 508.7l11.5-9M459.2 477.6l-11.5 8.1"/>
<path class=b d="M465.8 499.7l-6.6-22.1M447.7 485.7l6.6 23"/>
<line x1="464.4" y1="495.3" x2="451.3" y2="498.0" stroke="#003c68" stroke-width="2.0" stroke-linecap="round"/>
<path class=n d="M347.8 445.5l11.4-4.9-6.6-22.9-11.4 6.7z" fill="#d4c5c5"/>
<path d="M352.6 417.7l-11.4 6.7"/>
<path class=b d="M359.2 440.6l-6.6-22.9M341.2 424.4l6.6 21.1"/>
<line x1="264.2" y1="436.1" x2="257.5" y2="427.6" stroke="#000" stroke-width="1.9"/>
<path d="M637.9 379.6l11.4-18.3-6.6-9.6-11.4 18.5z" fill="#f0c0c0"/>
<path class=b d="M649.3 361.3l-6.6-9.6M631.3 370.2l6.6 9.4"/>
<path d="M241.3 466.6l11.4-15.1-6.6-6.4-11.4 17.2z" fill="#ddebed"/>
<path class=b d="M252.7 451.5l-6.6-6.4M234.7 462.3l6.6 4.3"/>
<path d="M531.4 492l11.4-19.6-6.6-11.4-11.5 18.3z" fill="#e0eef0"/>
<path class=b d="M542.8 472.4l-6.6-11.4M524.7 479.3l6.7 12.7"/>
<path d="M134.8 553.2l11.4-8.9-6.6-4.6-11.4 9.1z" fill="#bee8ed"/>
<path class=b d="M146.2 544.3l-6.6-4.6M128.2 548.8l6.6 4.4"/>
<path d="M424.8 498.1l11.5-5.6-6.6-24.8-11.5 5.4z" fill="#c0cdce"/>
<path class=b d="M436.3 492.5l-6.6-24.8M418.2 473.1l6.6 25"/>
<path d="M714.9 355.7l11.4-6.1-6.6-17.9-11.4 6.2z" fill="#dfb3b3"/>
<path class=b d="M726.3 349.6l-6.6-17.9M708.3 337.9l6.6 17.8"/>
<path d="M318.3 438.8l11.4-7.3-6.6-18.7-11.4 9.6z" fill="#e8d9d9"/>
<path class=b d="M329.7 431.5l-6.6-18.7M311.7 422.4l6.6 16.4"/>
<path d="M608.4 411.8l11.4-21.4-6.6-7.9-11.4 21.2z" fill="#ebdbdb"/>
<path class=b d="M619.8 390.4l-6.6-7.9M601.8 403.7l6.6 8.1"/>
<path d="M211.8 494.6l11.4-15.7-6.6-3.3-11.4 17.2z" fill="#d6e4e6"/>
<path class=b d="M223.2 478.9l-6.6-3.3M205.2 492.8l6.6 1.8"/>
<path class=n d="M501.9 512.4l8.5-11.9-15.2-4.8 0 0z" fill="#c1ecf1"/>
<path class=n d="M510.4 500.5l2.9-4-6.6-15.3-11.5 14.5 0 0z" fill="#e1eff1"/>
<path d="M501.9 512.4l11.4-15.9M506.7 481.2l-11.5 14.5"/>
<path class=b d="M513.3 496.5l-6.6-15.3M495.2 495.7l6.7 16.7"/>
<line x1="510.4" y1="500.5" x2="495.3" y2="495.7" stroke="#003c68" stroke-width="2.0" stroke-linecap="round"/>
<path d="M395.3 481.2l11.5-3.6-6.6-25.7-11.5 4.3z" fill="#bcc8ca"/>
<path class=b d="M406.8 477.6l-6.6-25.7M388.7 456.2l6.6 25"/>
<path d="M685.4 357.6l11.4-11-6.6-15-11.4 11.4z" fill="#f9c8c8"/>
<path class=b d="M696.8 346.6l-6.6-15M678.8 343l6.6 14.6"/>
<path d="M288.8 442.7l11.5-10.3-6.7-13.6-11.4 12.8z" fill="#fff2f2"/>
<path class=b d="M300.3 432.4l-6.7-13.6M282.2 431.6l6.6 11.1"/>
<path class=n d="M578.9 448.3l0 0-6.6-8.5 0 0z" fill="#dbe9ea"/>
<path class=n d="M578.9 448.3l11.4-22.5-6.6-7.9-11.4 21.9z" fill="#eadbdb"/>
<path d="M578.9 448.3l11.4-22.5M583.7 417.9l-11.4 21.9"/>
<path class=b d="M590.3 425.8l-6.6-7.9"/>
<path d="M182.3 523.1l11.4-14.4-6.6-1.9-11.4 15.3z" fill="#b5dee3"/>
<path class=b d="M193.7 508.7l-6.6-1.9M175.7 522.1l6.6 1"/>
<path class=n d="M472.4 520.3l11.4-11.5-4.9-14.5-7.5 .3-5.6 5.1z" fill="#b7e0e4"/>
<path class=n d="M478.9 494.3l-1.7-5-5.8 5.3z" fill="#d5e3e4"/>
<path d="M472.4 520.3l11.4-11.5M477.2 489.3l-11.4 10.4"/>
<path class=b d="M483.8 508.8l-6.6-19.5M465.8 499.7l6.6 20.6"/>
<line x1="478.9" y1="494.3" x2="471.4" y2="494.6" stroke="#003c68" stroke-width="2.0" stroke-linecap="round"/>
<line x1="370.7" y1="435.7" x2="382.1" y2="430.7" stroke="#000" stroke-width="1.9" stroke-dasharray="12.0 7.46" stroke-dashoffset="5.68"/>
<path class=n d="M365.8 463.5l11.5-3.5-6.6-24.3-11.5 4.9z" fill="#bfcbcc"/>
<path d="M365.8 463.5l11.5-3.5"/>
<path class=b d="M377.3 460l-6.6-24.3M359.2 440.6l6.6 22.9"/>
<path d="M655.9 372.7l11.5-15.9-6.6-11.9-11.5 16.4z" fill="#f5c4c4"/>
<path class=b d="M667.4 356.8l-6.6-11.9M649.3 361.3l6.6 11.4"/>
<path class=n d="M259.3 457.6l11.5-13-6.6-8.5-11.5 15.4z" fill="#e4f3f5"/>
<path class=n d="M270.8 444.6l0 0-6.6-8.5 0 0z" fill="#f5e4e4"/>
<path d="M259.3 457.6l11.5-13M264.2 436.1l-11.5 15.4"/>
<path class=b d="M252.7 451.5l6.6 6.1"/>
<line x1="572.3" y1="439.8" x2="565.7" y2="431.2" stroke="#000" stroke-width="1.9"/>
<path d="M549.4 483l11.4-21.4-6.6-9.6-11.4 20.4z" fill="#ddebed"/>
<path class=b d="M560.8 461.6l-6.6-9.6M542.8 472.4l6.6 10.6"/>
<path d="M152.8 546.3l11.4-11-6.6-2.4-11.4 11.4z" fill="#b6dfe4"/>
<path class=b d="M164.2 535.3l-6.6-2.4M146.2 544.3l6.6 2"/>
<path class=n d="M442.9 516.1l11.4-7.4-3-10.7-12.4 3.7z" fill="#aad0d5"/>
<path class=n d="M451.3 498l-3.6-12.3-11.4 6.8 2.6 9.2z" fill="#c6d3d5"/>
<path d="M442.9 516.1l11.4-7.4M447.7 485.7l-11.4 6.8"/>
<path class=b d="M454.3 508.7l-6.6-23M436.3 492.5l6.6 23.6"/>
<line x1="451.3" y1="498.0" x2="438.9" y2="501.7" stroke="#003c68" stroke-width="2.0" stroke-linecap="round"/>
<path class=n d="M336.4 450.5l11.4-5-6.6-21.1-11.5 7.1z" fill="#d8caca"/>
<path d="M341.2 424.4l-11.5 7.1"/>
<path class=b d="M347.8 445.5l-6.6-21.1M329.7 431.5l6.7 19"/>
<path class=n d="M626.4 399.6l4.5-7.8-7.1-8.3-4 6.9z" fill="#eedede"/>
<path class=n d="M630.9 391.8l7-12.2-6.6-9.4-7.5 13.3z" fill="#eebebe"/>
<path d="M626.4 399.6l11.5-20M631.3 370.2l-11.5 20.2"/>
<path class=b d="M637.9 379.6l-6.6-9.4M619.8 390.4l6.6 9.2"/>
<line x1="630.9" y1="391.8" x2="623.8" y2="383.5" stroke="#960000" stroke-width="2.0" stroke-linecap="round"/>
<path d="M229.8 481.2l11.5-14.6-6.6-4.3-11.5 16.6z" fill="#d9e7e8"/>
<path class=b d="M241.3 466.6l-6.6-4.3M223.2 478.9l6.6 2.3"/>
<path class=n d="M519.9 510.5l2.3-3.7-5.5-3.2z" fill="#c1ecf1"/>
<path class=n d="M522.2 506.8l9.2-14.8-6.7-12.7-11.4 17.2 3.4 7.1z" fill="#e1eff1"/>
<path d="M519.9 510.5l11.5-18.5M524.7 479.3l-11.4 17.2"/>
<path class=b d="M531.4 492l-6.7-12.7M513.3 496.5l6.6 14"/>
<line x1="522.2" y1="506.8" x2="516.7" y2="503.6" stroke="#003c68" stroke-width="2.0" stroke-linecap="round"/>
<path d="M123.3 559.5l11.5-6.3-6.6-4.4-11.5 6.3z" fill="#b7e0e4"/>
<path class=b d="M134.8 553.2l-6.6-4.4M116.7 555.1l6.6 4.4"/>
<path d="M413.4 502.4l11.4-4.3-6.6-25-11.4 4.5z" fill="#becacb"/>
<path class=b d="M424.8 498.1l-6.6-25M406.8 477.6l6.6 24.8"/>
<path d="M703.5 364l11.4-8.3-6.6-17.8-11.5 8.7z" fill="#e8baba"/>
<path class=b d="M714.9 355.7l-6.6-17.8M696.8 346.6l6.7 17.4"/>
<path d="M306.9 446.3l11.4-7.5-6.6-16.4-11.4 10z" fill="#f6e6e6"/>
<path class=b d="M318.3 438.8l-6.6-16.4M300.3 432.4l6.6 13.9"/>
<path d="M596.9 434.1l11.5-22.3-6.6-8.1-11.5 22.1z" fill="#eadbdb"/>
<path class=b d="M608.4 411.8l-6.6-8.1M590.3 425.8l6.6 8.3"/>
<path class=n d="M202.3 496.9l-8.6 11.8 6.6 .4z" fill="#b4dde2"/>
<path class=n d="M200.3 509.1l11.5-14.5-6.6-1.8-2.9 4.1-2 12.2z" fill="#d2e0e2"/>
<path d="M200.3 509.1l11.5-14.5M205.2 492.8l-11.5 15.9"/>
<path class=b d="M211.8 494.6l-6.6-1.8M193.7 508.7l6.6 .4"/>
<line x1="202.3" y1="496.9" x2="200.3" y2="509.1" stroke="#003c68" stroke-width="2.0" stroke-linecap="round"/>
<path d="M490.4 526.7l11.5-14.3-6.7-16.7-11.4 13.1z" fill="#bfeaee"/>
<path class=b d="M501.9 512.4l-6.7-16.7M483.8 508.8l6.6 17.9"/>
<line x1="495.3" y1="495.7" x2="495.2" y2="495.7" stroke="#003c68" stroke-width="2.0" stroke-linecap="round"/>
<path d="M383.9 484l11.4-2.8-6.6-25-11.4 3.8z" fill="#bcc8c9"/>
<path class=b d="M395.3 481.2l-6.6-25M377.3 460l6.6 24"/>
<path d="M674 370.8l11.4-13.2-6.6-14.6-11.4 13.8z" fill="#f7c6c6"/>
<path class=b d="M685.4 357.6l-6.6-14.6M667.4 356.8l6.6 14"/>
<path class=n d="M277.4 453.2l11.4-10.5-6.6-11.1-11.4 13z" fill="#fff3f3"/>
<path d="M277.4 453.2l11.4-10.5M282.2 431.6l-11.4 13"/>
<path class=b d="M288.8 442.7l-6.6-11.1"/>
<path class=n d="M567.4 470.8l11.5-22.5-6.6-8.5-11.5 21.8z" fill="#dbe9eb"/>
<path d="M567.4 470.8l11.5-22.5M572.3 439.8l-11.5 21.8"/>
<path class=b d="M560.8 461.6l6.6 9.2"/>
<path d="M170.9 535.5l11.4-12.4-6.6-1-11.5 13.2z" fill="#b2dadf"/>
<path class=b d="M182.3 523.1l-6.6-1M164.2 535.3l6.7 .2"/>
<path d="M460.9 530.1l11.5-9.8-6.6-20.6-11.5 9z" fill="#b2dadf"/>
<path class=b d="M472.4 520.3l-6.6-20.6M454.3 508.7l6.6 21.4"/>
<line x1="359.2" y1="440.6" x2="370.7" y2="435.7" stroke="#000" stroke-width="1.9" stroke-dasharray="12.0 7.46" stroke-dashoffset="12.68"/>
<path class=n d="M354.4 466.6l11.4-3.1-6.6-22.9-11.4 4.9z" fill="#c0cdce"/>
<path d="M354.4 466.6l11.4-3.1"/>
<path class=b d="M365.8 463.5l-6.6-22.9M347.8 445.5l6.6 21.1"/>
<line x1="270.8" y1="444.6" x2="264.2" y2="436.1" stroke="#000" stroke-width="1.9"/>
<path d="M644.5 390.6l11.4-17.9-6.6-11.4-11.4 18.3z" fill="#f1c1c1"/>
<path class=b d="M655.9 372.7l-6.6-11.4M637.9 379.6l6.6 11"/>
<path d="M247.9 470.4l11.4-12.8-6.6-6.1-11.4 15.1z" fill="#deedee"/>
<path class=b d="M259.3 457.6l-6.6-6.1M241.3 466.6l6.6 3.8"/>
<path d="M538 503.7l11.4-20.7-6.6-10.6-11.4 19.6z" fill="#deedee"/>
<path class=b d="M549.4 483l-6.6-10.6M531.4 492l6.6 11.7"/>
<path d="M141.4 555l11.4-8.7-6.6-2-11.4 8.9z" fill="#b2dade"/>
<path class=b d="M152.8 546.3l-6.6-2M134.8 553.2l6.6 1.8"/>
<path class=n d="M431.4 521.8l11.5-5.7-4-14.4-11.8 4.5z" fill="#a7ccd0"/>
<path class=n d="M438.9 501.7l-2.6-9.2-11.5 5.6 2.3 8.1z" fill="#c2cfd0"/>
<path d="M431.4 521.8l11.5-5.7M436.3 492.5l-11.5 5.6"/>
<path class=b d="M442.9 516.1l-6.6-23.6M424.8 498.1l6.6 23.7"/>
<line x1="438.9" y1="501.7" x2="427.1" y2="506.2" stroke="#003c68" stroke-width="2.0" stroke-linecap="round"/>
<path d="M721.5 375.7l11.5-6-6.7-20.1-11.4 6.1z" fill="#d8adad"/>
<path class=b d="M733 369.7l-6.7-20.1M714.9 355.7l6.6 20"/>
<path class=n d="M324.9 455.4l11.5-4.9-6.7-19-11.4 7.3z" fill="#dfd0d0"/>
<path d="M329.7 431.5l-11.4 7.3"/>
<path class=b d="M336.4 450.5l-6.7-19M318.3 438.8l6.6 16.6"/>
<path d="M615 420.8l11.4-21.2-6.6-9.2-11.4 21.4z" fill="#ecdcdc"/>
<path class=b d="M626.4 399.6l-6.6-9.2M608.4 411.8l6.6 9"/>
<path d="M218.4 495.1l11.4-13.9-6.6-2.3-11.4 15.7z" fill="#d4e1e3"/>
<path class=b d="M229.8 481.2l-6.6-2.3M211.8 494.6l6.6 .5"/>
<path class=n d="M508.5 527.5l11.4-17-3.2-6.9-6.3-3.1-8.5 11.9z" fill="#c2edf2"/>
<path class=n d="M516.7 503.6l-3.4-7.1-2.9 4z" fill="#e2f0f2"/>
<path d="M508.5 527.5l11.4-17M513.3 496.5l-11.4 15.9"/>
<path class=b d="M519.9 510.5l-6.6-14M501.9 512.4l6.6 15.1"/>
<line x1="516.7" y1="503.6" x2="510.4" y2="500.5" stroke="#003c68" stroke-width="2.0" stroke-linecap="round"/>
<path d="M401.9 505.4l11.5-3-6.6-24.8-11.5 3.6z" fill="#bcc8c9"/>
<path class=b d="M413.4 502.4l-6.6-24.8M395.3 481.2l6.6 24.2"/>
<path d="M692 374.4l11.5-10.4-6.7-17.4-11.4 11z" fill="#eebfbf"/>
<path class=b d="M703.5 364l-6.7-17.4M685.4 357.6l6.6 16.8"/>
<path d="M295.4 454l11.5-7.7-6.6-13.9-11.5 10.3z" fill="#fffbfb"/>
<path class=b d="M306.9 446.3l-6.6-13.9M288.8 442.7l6.6 11.3"/>
<path class=n d="M585.5 456.8l0 0-6.6-8.5 0 0z" fill="#dbe9ea"/>
<path class=n d="M585.5 456.8l11.4-22.7-6.6-8.3-11.4 22.5z" fill="#eadbdb"/>
<path d="M585.5 456.8l11.4-22.7M590.3 425.8l-11.4 22.5"/>
<path class=b d="M596.9 434.1l-6.6-8.3"/>
<path class=n d="M188.9 522.2l11.4-13.1 0 0-6.6-.4-11.4 14.4z" fill="#b1d8dd"/>
<path class=n d="M200.3 509.1l0 0 0 0z" fill="#cedbdd"/>
<path d="M188.9 522.2l11.4-13.1M193.7 508.7l-11.4 14.4"/>
<path class=b d="M200.3 509.1l-6.6-.4M182.3 523.1l6.6-.9"/>
<line x1="200.3" y1="509.1" x2="200.3" y2="509.1" stroke="#003c68" stroke-width="2.0" stroke-linecap="round"/>
<path d="M479 539.2l11.4-12.5-6.6-17.9-11.4 11.5z" fill="#bce6eb"/>
<path class=b d="M490.4 526.7l-6.6-17.9M472.4 520.3l6.6 18.9"/>
<path d="M372.5 486.1l11.4-2.1-6.6-24-11.5 3.5z" fill="#bbc7c8"/>
<path class=b d="M383.9 484l-6.6-24M365.8 463.5l6.7 22.6"/>
<path d="M662.5 386.1l11.5-15.3-6.6-14-11.5 15.9z" fill="#f4c4c4"/>
<path class=b d="M674 370.8l-6.6-14M655.9 372.7l6.6 13.4"/>
<path class=n d="M265.9 463.6l11.5-10.4-6.6-8.6-11.5 13z" fill="#e9f8fa"/>
<path class=n d="M277.4 453.2l0 0-6.6-8.6 0 0z" fill="#fae9e9"/>
<path d="M265.9 463.6l11.5-10.4M270.8 444.6l-11.5 13"/>
<path class=b d="M259.3 457.6l6.6 6"/>
<line x1="578.9" y1="448.3" x2="572.3" y2="439.8" stroke="#000" stroke-width="1.9"/>
<path d="M556 492.9l11.4-22.1-6.6-9.2-11.4 21.4z" fill="#dceaec"/>
<path class=b d="M567.4 470.8l-6.6-9.2M549.4 483l6.6 9.9"/>
<path d="M159.4 546l11.5-10.5-6.7-.2-11.4 11z" fill="#aed5da"/>
<path class=b d="M170.9 535.5l-6.7-.2M152.8 546.3l6.6-.3"/>
<path d="M449.5 538l11.4-7.9-6.6-21.4-11.4 7.4z" fill="#aed5d9"/>
<path class=b d="M460.9 530.1l-6.6-21.4M442.9 516.1l6.6 21.9"/>
<line x1="347.8" y1="445.5" x2="359.2" y2="440.6" stroke="#000" stroke-width="1.9" stroke-dasharray="12.0 7.46" stroke-dashoffset="0.22"/>
<path class=n d="M343 469.5l11.4-2.9-6.6-21.1-11.4 5z" fill="#c3cfd1"/>
<path d="M343 469.5l11.4-2.9"/>
<path class=b d="M354.4 466.6l-6.6-21.1M336.4 450.5l6.6 19"/>
<path class=n d="M633 410l6.2-10.4-8.3-7.8-4.5 7.8z" fill="#efdfdf"/>
<path class=n d="M639.2 399.6l5.3-9-6.6-11-7 12.2z" fill="#efbfbf"/>
<path d="M633 410l11.5-19.4M637.9 379.6l-11.5 20"/>
<path class=b d="M644.5 390.6l-6.6-11M626.4 399.6l6.6 10.4"/>
<line x1="639.2" y1="399.6" x2="630.9" y2="391.8" stroke="#960000" stroke-width="2.0" stroke-linecap="round"/>
<path d="M236.4 482.9l11.5-12.5-6.6-3.8-11.5 14.6z" fill="#d7e5e7"/>
<path class=b d="M247.9 470.4l-6.6-3.8M229.8 481.2l6.6 1.7"/>
<path class=n d="M526.5 523.1l5.3-9-9.6-7.3-2.3 3.7z" fill="#c0ebf0"/>
<path class=n d="M531.8 514.1l6.2-10.4-6.6-11.7-9.2 14.8z" fill="#e0eef0"/>
<path d="M526.5 523.1l11.5-19.4M531.4 492l-11.5 18.5"/>
<path class=b d="M538 503.7l-6.6-11.7M519.9 510.5l6.6 12.6"/>
<line x1="531.8" y1="514.1" x2="522.2" y2="506.8" stroke="#003c68" stroke-width="2.0" stroke-linecap="round"/>
<path d="M129.9 561.2l11.5-6.2-6.6-1.8-11.5 6.3z" fill="#aad1d5"/>
<path class=b d="M141.4 555l-6.6-1.8M123.3 559.5l6.6 1.7"/>
<path class=n d="M420 525.9l11.4-4.1-4.3-15.6-11.1 5.4z" fill="#a3c8cc"/>
<path class=n d="M427.1 506.2l-2.3-8.1-11.4 4.3 2.6 9.2z" fill="#bfcbcc"/>
<path d="M420 525.9l11.4-4.1M424.8 498.1l-11.4 4.3"/>
<path class=b d="M431.4 521.8l-6.6-23.7M413.4 502.4l6.6 23.5"/>
<line x1="427.1" y1="506.2" x2="416.0" y2="511.6" stroke="#003c68" stroke-width="2.0" stroke-linecap="round"/>
<path d="M710.1 383.5l11.4-7.8-6.6-20-11.4 8.3z" fill="#dfb3b3"/>
<path class=b d="M721.5 375.7l-6.6-20M703.5 364l6.6 19.5"/>
<path class=n d="M313.5 460.4l11.4-5-6.6-16.6-11.4 7.5z" fill="#eadbdb"/>
<path d="M318.3 438.8l-11.4 7.5"/>
<path class=b d="M324.9 455.4l-6.6-16.6M306.9 446.3l6.6 14.1"/>
<path d="M603.6 442.9l11.4-22.1-6.6-9-11.5 22.3z" fill="#ebdbdb"/>
<path class=b d="M615 420.8l-6.6-9M596.9 434.1l6.7 8.8"/>
<path d="M207 508l11.4-12.9-6.6-.5-11.5 14.5z" fill="#cedbdd"/>
<path class=b d="M218.4 495.1l-6.6-.5M200.3 509.1l6.7-1.1"/>
<path d="M497 542.8l11.5-15.3-6.6-15.1-11.5 14.3z" fill="#c2edf2"/>
<path class=b d="M508.5 527.5l-6.6-15.1M490.4 526.7l6.6 16.1"/>
<path d="M390.5 507.3l11.4-1.9-6.6-24.2-11.4 2.8z" fill="#b9c5c7"/>
<path class=b d="M401.9 505.4l-6.6-24.2M383.9 484l6.6 23.3"/>
<path d="M680.6 386.9l11.4-12.5-6.6-16.8-11.4 13.2z" fill="#f1c2c2"/>
<path class=b d="M692 374.4l-6.6-16.8M674 370.8l6.6 16.1"/>
<path class=n d="M284 461.7l11.4-7.7-6.6-11.3-11.4 10.5z" fill="#ffffff"/>
<path d="M284 461.7l11.4-7.7M288.8 442.7l-11.4 10.5"/>
<path class=b d="M295.4 454l-6.6-11.3"/>
<path class=n d="M574.1 479.5l11.4-22.7-6.6-8.5-11.5 22.5z" fill="#dbe9ea"/>
<path d="M574.1 479.5l11.4-22.7M578.9 448.3l-11.5 22.5"/>
<path class=b d="M567.4 470.8l6.7 8.7"/>
<path d="M177.5 533.7l11.4-11.5-6.6 .9-11.4 12.4z" fill="#acd3d7"/>
<path class=b d="M188.9 522.2l-6.6 .9M170.9 535.5l6.6-1.8"/>
<path d="M467.5 549.7l11.5-10.5-6.6-18.9-11.5 9.8z" fill="#b8e1e5"/>
<path class=b d="M479 539.2l-6.6-18.9M460.9 530.1l6.6 19.6"/>
<path d="M361 487.5l11.5-1.4-6.7-22.6-11.4 3.1z" fill="#bbc7c8"/>
<path class=b d="M372.5 486.1l-6.7-22.6M354.4 466.6l6.6 20.9"/>
<line x1="277.4" y1="453.2" x2="270.8" y2="444.6" stroke="#000" stroke-width="1.9"/>
<path d="M651.1 403.1l11.4-17-6.6-13.4-11.4 17.9z" fill="#f2c2c2"/>
<path class=b d="M662.5 386.1l-6.6-13.4M644.5 390.6l6.6 12.5"/>
<path d="M254.5 473.9l11.4-10.3-6.6-6-11.4 12.8z" fill="#dfedef"/>
<path class=b d="M265.9 463.6l-6.6-6M247.9 470.4l6.6 3.5"/>
<path d="M544.6 514.1l11.4-21.2-6.6-9.9-11.4 20.7z" fill="#ddebed"/>
<path class=b d="M556 492.9l-6.6-9.9M538 503.7l6.6 10.4"/>
<path d="M148 554.3l11.4-8.3-6.6 .3-11.4 8.7z" fill="#a8ced3"/>
<path class=b d="M159.4 546l-6.6 .3M141.4 555l6.6-.7"/>
<path d="M438.1 543.9l11.4-5.9-6.6-21.9-11.5 5.7z" fill="#a9cfd4"/>
<path class=b d="M449.5 538l-6.6-21.9M431.4 521.8l6.7 22.1"/>
<line x1="336.4" y1="450.5" x2="347.8" y2="445.5" stroke="#000" stroke-width="1.9" stroke-dasharray="12.0 7.46" stroke-dashoffset="7.22"/>
<path d="M728.1 397.6l11.5-5.8-6.6-22.1-11.5 6z" fill="#d4a9a9"/>
<path class=b d="M739.6 391.8l-6.6-22.1M721.5 375.7l6.6 21.9"/>
<path class=n d="M331.5 472l11.5-2.5-6.6-19-11.5 4.9z" fill="#c6d3d5"/>
<path d="M331.5 472l11.5-2.5"/>
<path class=b d="M343 469.5l-6.6-19M324.9 455.4l6.6 16.6"/>
<path d="M621.6 430.6l11.4-20.6-6.6-10.4-11.4 21.2z" fill="#eddddd"/>
<path class=b d="M633 410l-6.6-10.4M615 420.8l6.6 9.8"/>
<path d="M225 494.7l11.4-11.8-6.6-1.7-11.4 13.9z" fill="#d0dddf"/>
<path class=b d="M236.4 482.9l-6.6-1.7M218.4 495.1l6.6-.4"/>
<path d="M515.1 540.9l11.4-17.8-6.6-12.6-11.4 17z" fill="#c2edf2"/>
<path class=b d="M526.5 523.1l-6.6-12.6M508.5 527.5l6.6 13.4"/>
<path class=n d="M408.6 528.4l11.4-2.5-4-14.3-10.5 6.2z" fill="#a0c5c8"/>
<path class=n d="M416 511.6l-2.6-9.2-11.5 3 3.6 12.4z" fill="#bbc7c8"/>
<path d="M408.6 528.4l11.4-2.5M413.4 502.4l-11.5 3"/>
<path class=b d="M420 525.9l-6.6-23.5M401.9 505.4l6.7 23"/>
<line x1="416.0" y1="511.6" x2="405.5" y2="517.8" stroke="#003c68" stroke-width="2.0" stroke-linecap="round"/>
<path d="M698.6 393.3l11.5-9.8-6.6-19.5-11.5 10.4z" fill="#e5b8b8"/>
<path class=b d="M710.1 383.5l-6.6-19.5M692 374.4l6.6 18.9"/>
<path class=n d="M302 465.3l11.5-4.9-6.6-14.1-11.5 7.7z" fill="#fff0f0"/>
<path d="M306.9 446.3l-11.5 7.7"/>
<path class=b d="M313.5 460.4l-6.6-14.1M295.4 454l6.6 11.3"/>
<path class=n d="M592.1 465.4l0 0-6.6-8.6 0 0z" fill="#dbe9ea"/>
<path class=n d="M592.1 465.4l11.5-22.5-6.7-8.8-11.4 22.7z" fill="#eadbdb"/>
<path d="M592.1 465.4l11.5-22.5M596.9 434.1l-11.4 22.7"/>
<path class=b d="M603.6 442.9l-6.7-8.8"/>
<path class=n d="M200.3 509.1l-11.4 13.1 4.9-1.8z" fill="#abd2d6"/>
<path class=n d="M195.5 519.8l11.5-11.8-6.7 1.1 0 0-6.5 11.3z" fill="#c8d5d6"/>
<path d="M195.5 519.8l11.5-11.8M200.3 509.1l-11.4 13.1"/>
<path class=b d="M207 508l-6.7 1.1M188.9 522.2l6.6-2.4"/>
<line x1="200.3" y1="509.1" x2="193.8" y2="520.4" stroke="#003c68" stroke-width="2.0" stroke-linecap="round"/>
<path d="M485.6 556l11.4-13.2-6.6-16.1-11.4 12.5z" fill="#c2ecf1"/>
<path class=b d="M497 542.8l-6.6-16.1M479 539.2l6.6 16.8"/>
<path d="M379.1 508l11.4-.7-6.6-23.3-11.4 2.1z" fill="#b8c3c5"/>
<path class=b d="M390.5 507.3l-6.6-23.3M372.5 486.1l6.6 21.9"/>
<path d="M669.1 401.2l11.5-14.3-6.6-16.1-11.5 15.3z" fill="#f2c2c2"/>
<path class=b d="M680.6 386.9l-6.6-16.1M662.5 386.1l6.6 15.1"/>
<path class=n d="M272.6 469.4l11.4-7.7-6.6-8.5-11.5 10.4z" fill="#effeff"/>
<path class=n d="M284 461.7l0 0-6.6-8.5 0 0z" fill="#ffefef"/>
<path d="M272.6 469.4l11.4-7.7M277.4 453.2l-11.5 10.4"/>
<path class=b d="M265.9 463.6l6.7 5.8"/>
<line x1="585.5" y1="456.8" x2="578.9" y2="448.3" stroke="#000" stroke-width="1.9"/>
<path d="M562.6 501.8l11.5-22.3-6.7-8.7-11.4 22.1z" fill="#dbe9eb"/>
<path class=b d="M574.1 479.5l-6.7-8.7M556 492.9l6.6 8.9"/>
<path d="M166 543.5l11.5-9.8-6.6 1.8-11.5 10.5z" fill="#a7cdd1"/>
<path class=b d="M177.5 533.7l-6.6 1.8M159.4 546l6.6-2.5"/>
<path d="M456.1 558l11.4-8.3-6.6-19.6-11.4 7.9z" fill="#b3dbdf"/>
<path class=b d="M467.5 549.7l-6.6-19.6M449.5 538l6.6 20"/>
<path d="M349.6 488.2l11.4-.7-6.6-20.9-11.4 2.9z" fill="#bbc8c9"/>
<path class=b d="M361 487.5l-6.6-20.9M343 469.5l6.6 18.7"/>
<path class=n d="M639.6 421.6l9.2-14.8-9.6-7.2-6.2 10.4z" fill="#f0e0e0"/>
<path class=n d="M648.8 406.8l2.3-3.7-6.6-12.5-5.3 9z" fill="#f0c0c0"/>
<path d="M639.6 421.6l11.5-18.5M644.5 390.6l-11.5 19.4"/>
<path class=b d="M651.1 403.1l-6.6-12.5M633 410l6.6 11.6"/>
<line x1="648.8" y1="406.8" x2="639.2" y2="399.6" stroke="#960000" stroke-width="2.0" stroke-linecap="round"/>
<path d="M243.1 483.9l11.4-10-6.6-3.5-11.5 12.5z" fill="#d5e2e4"/>
<path class=b d="M254.5 473.9l-6.6-3.5M236.4 482.9l6.7 1"/>
<path class=n d="M533.1 534l7-12.1-8.3-7.8-5.3 9z" fill="#bfeaef"/>
<path class=n d="M540.1 521.9l4.5-7.8-6.6-10.4-6.2 10.4z" fill="#dfedef"/>
<path d="M533.1 534l11.5-19.9M538 503.7l-11.5 19.4"/>
<path class=b d="M544.6 514.1l-6.6-10.4M526.5 523.1l6.6 10.9"/>
<line x1="540.1" y1="521.9" x2="531.8" y2="514.1" stroke="#003c68" stroke-width="2.0" stroke-linecap="round"/>
<path d="M136.5 560.4l11.5-6.1-6.6 .7-11.5 6.2z" fill="#a2c6ca"/>
<path class=b d="M148 554.3l-6.6 .7M129.9 561.2l6.6-.8"/>
<path d="M426.6 547.9l11.5-4-6.7-22.1-11.4 4.1z" fill="#a5cace"/>
<path class=b d="M438.1 543.9l-6.7-22.1M420 525.9l6.6 22"/>
<line x1="324.9" y1="455.4" x2="336.4" y2="450.5" stroke="#000" stroke-width="1.9" stroke-dasharray="12.0 7.46" stroke-dashoffset="14.22"/>
<path d="M716.7 405l11.4-7.4-6.6-21.9-11.4 7.8z" fill="#d9aeae"/>
<path class=b d="M728.1 397.6l-6.6-21.9M710.1 383.5l6.6 21.5"/>
<path class=n d="M320.1 474.4l11.4-2.4-6.6-16.6-11.4 5z" fill="#ccd9db"/>
<path d="M320.1 474.4l11.4-2.4"/>
<path class=b d="M331.5 472l-6.6-16.6M313.5 460.4l6.6 14"/>
<path d="M610.2 452l11.4-21.4-6.6-9.8-11.4 22.1z" fill="#ecdcdc"/>
<path class=b d="M621.6 430.6l-6.6-9.8M603.6 442.9l6.6 9.1"/>
<path d="M213.6 505.8l11.4-11.1-6.6 .4-11.4 12.9z" fill="#c9d6d7"/>
<path class=b d="M225 494.7l-6.6 .4M207 508l6.6-2.2"/>
<path d="M503.6 556.9l11.5-16-6.6-13.4-11.5 15.3z" fill="#c4eff4"/>
<path class=b d="M515.1 540.9l-6.6-13.4M497 542.8l6.6 14.1"/>
<path class=n d="M397.1 529.3l11.5-.9-3.1-10.6-9.7 7.2z" fill="#9dc1c5"/>
<path class=n d="M405.5 517.8l-3.6-12.4-11.4 1.9 5.3 17.7z" fill="#b8c3c5"/>
<path d="M397.1 529.3l11.5-.9M401.9 505.4l-11.4 1.9"/>
<path class=b d="M408.6 528.4l-6.7-23M390.5 507.3l6.6 22"/>
<line x1="405.5" y1="517.8" x2="395.8" y2="525.0" stroke="#003c68" stroke-width="2.0" stroke-linecap="round"/>
<path d="M687.2 404.8l11.4-11.5-6.6-18.9-11.4 12.5z" fill="#ebbcbc"/>
<path class=b d="M698.6 393.3l-6.6-18.9M680.6 386.9l6.6 17.9"/>
<path class=n d="M290.6 470.2l11.4-4.9-6.6-11.3-11.4 7.7z" fill="#ffffff"/>
<path d="M295.4 454l-11.4 7.7"/>
<path class=b d="M302 465.3l-6.6-11.3"/>
<path class=n d="M580.7 487.9l11.4-22.5-6.6-8.6-11.4 22.7z" fill="#dbe9ea"/>
<path d="M580.7 487.9l11.4-22.5M585.5 456.8l-11.4 22.7"/>
<path class=b d="M574.1 479.5l6.6 8.4"/>
<path class=n d="M184.1 530.2l5.6-5.1 4.1-4.7-4.9 1.8-11.4 11.5z" fill="#a6ccd0"/>
<path class=n d="M189.7 525.1l5.8-5.3-1.7 .6z" fill="#c2ced0"/>
<path d="M184.1 530.2l11.4-10.4M188.9 522.2l-11.4 11.5"/>
<path class=b d="M195.5 519.8l-6.6 2.4M177.5 533.7l6.6-3.5"/>
<line x1="189.7" y1="525.1" x2="193.8" y2="520.4" stroke="#003c68" stroke-width="2.0" stroke-linecap="round"/>
<path d="M474.2 567.1l11.4-11.1-6.6-16.8-11.5 10.5z" fill="#bfe9ee"/>
<path class=b d="M485.6 556l-6.6-16.8M467.5 549.7l6.7 17.4"/>
<path d="M367.6 507.6l11.5 .4-6.6-21.9-11.5 1.4z" fill="#b6c2c3"/>
<path class=b d="M379.1 508l-6.6-21.9M361 487.5l6.6 20.1"/>
<line x1="284.0" y1="461.7" x2="277.4" y2="453.2" stroke="#000" stroke-width="1.9"/>
<path class=n d="M657.7 417.1l2.9-4-6.3-3.1z" fill="#f2e2e2"/>
<path class=n d="M660.6 413.1l8.5-11.9-6.6-15.1-11.4 17 3.2 6.9z" fill="#f2c2c2"/>
<path d="M657.7 417.1l11.4-15.9M662.5 386.1l-11.4 17"/>
<path class=b d="M669.1 401.2l-6.6-15.1M651.1 403.1l6.6 14"/>
<line x1="660.6" y1="413.1" x2="654.3" y2="410.0" stroke="#960000" stroke-width="2.0" stroke-linecap="round"/>
<path d="M261.1 477.1l11.5-7.7-6.7-5.8-11.4 10.3z" fill="#ddebed"/>
<path class=b d="M272.6 469.4l-6.7-5.8M254.5 473.9l6.6 3.2"/>
<path d="M551.2 523.3l11.4-21.5-6.6-8.9-11.4 21.2z" fill="#dceaec"/>
<path class=b d="M562.6 501.8l-6.6-8.9M544.6 514.1l6.6 9.2"/>
<path d="M154.6 551.4l11.4-7.9-6.6 2.5-11.4 8.3z" fill="#a1c6ca"/>
<path class=b d="M166 543.5l-6.6 2.5M148 554.3l6.6-2.9"/>
<path d="M444.7 564l11.4-6-6.6-20-11.4 5.9z" fill="#add4d8"/>
<path class=b d="M456.1 558l-6.6-20M438.1 543.9l6.6 20.1"/>
<path class=n d="M734.7 421.1l11.5-5.5-2.3-8.2-11.8 4.5z" fill="#d0c2c2"/>
<path class=n d="M743.9 407.4l-4.3-15.6-11.5 5.8 4 14.3z" fill="#d0a7a7"/>
<path d="M734.7 421.1l11.5-5.5M739.6 391.8l-11.5 5.8"/>
<path class=b d="M746.2 415.6l-6.6-23.8M728.1 397.6l6.6 23.5"/>
<line x1="743.9" y1="407.4" x2="732.1" y2="411.9" stroke="#960000" stroke-width="2.0" stroke-linecap="round"/>
<path d="M338.1 488.4l11.5-.2-6.6-18.7-11.5 2.5z" fill="#bcc8ca"/>
<path class=b d="M349.6 488.2l-6.6-18.7M331.5 472l6.6 16.4"/>
<path d="M628.2 441.2l11.4-19.6-6.6-11.6-11.4 20.6z" fill="#eedede"/>
<path class=b d="M639.6 421.6l-6.6-11.6M621.6 430.6l6.6 10.6"/>
<path d="M231.6 493.6l11.5-9.7-6.7-1-11.4 11.8z" fill="#cbd8da"/>
<path class=b d="M243.1 483.9l-6.7-1M225 494.7l6.6-1.1"/>
<path d="M521.7 552.4l11.4-18.4-6.6-10.9-11.4 17.8z" fill="#c1ecf1"/>
<path class=b d="M533.1 534l-6.6-10.9M515.1 540.9l6.6 11.5"/>
<path d="M415.2 549.9l11.4-2-6.6-22-11.4 2.5z" fill="#a0c4c8"/>
<path class=b d="M426.6 547.9l-6.6-22M408.6 528.4l6.6 21.5"/>
<line x1="313.5" y1="460.3" x2="324.9" y2="455.4" stroke="#000" stroke-width="1.9" stroke-dasharray="12.0 7.46" stroke-dashoffset="1.76"/>
<path d="M705.2 413.9l11.5-8.9-6.6-21.5-11.5 9.8z" fill="#dfb2b2"/>
<path class=b d="M716.7 405l-6.6-21.5M698.6 393.3l6.6 20.6"/>
<path class=n d="M308.7 476.6l11.4-2.2-6.6-14-11.5 4.9z" fill="#d4e2e3"/>
<path d="M308.7 476.6l11.4-2.2"/>
<path class=b d="M320.1 474.4l-6.6-14M302 465.3l6.7 11.3"/>
<path class=n d="M598.7 473.9l0 0-6.6-8.5 0 0z" fill="#dbe9eb"/>
<path class=n d="M598.7 473.9l11.5-21.9-6.6-9.1-11.5 22.5z" fill="#ebdbdb"/>
<path d="M598.7 473.9l11.5-21.9M603.6 442.9l-11.5 22.5"/>
<path class=b d="M610.2 452l-6.6-9.1"/>
<path d="M202.1 516l11.5-10.2-6.6 2.2-11.5 11.8z" fill="#c2ced0"/>
<path class=b d="M213.6 505.8l-6.6 2.2M195.5 519.8l6.6-3.8"/>
<path d="M492.2 570.7l11.4-13.8-6.6-14.1-11.4 13.2z" fill="#c6f2f7"/>
<path class=b d="M503.6 556.9l-6.6-14.1M485.6 556l6.6 14.7"/>
<path class=n d="M391.5 529.1l5.6 .2-1.3-4.3z" fill="#9abdc1"/>
<path class=n d="M385.7 528.8l5.8 .3 4.3-4.1-5.3-17.7-11.4 .7z" fill="#b4c0c1"/>
<path d="M385.7 528.8l11.4 .5M390.5 507.3l-11.4 .7"/>
<path class=b d="M397.1 529.3l-6.6-22M379.1 508l6.6 20.8"/>
<line x1="391.5" y1="529.1" x2="395.8" y2="525.0" stroke="#003c68" stroke-width="2.0" stroke-linecap="round"/>
<path d="M675.8 418l11.4-13.2-6.6-17.9-11.5 14.3z" fill="#eebfbf"/>
<path class=b d="M687.2 404.8l-6.6-17.9M669.1 401.2l6.7 16.8"/>
<path class=n d="M279.2 475.2l11.4-5 0 0-6.6-8.5-11.4 7.7z" fill="#e9f8f9"/>
<path class=n d="M279.2 475.2l11.4-5-6.6-8.5 0 0-4.8 13.5z" fill="#f9e9e9"/>
<path d="M284 461.7l-11.4 7.7"/>
<path class=b d="M272.6 469.4l6.6 5.8"/>
<line x1="592.1" y1="465.4" x2="585.5" y2="456.8" stroke="#000" stroke-width="1.9"/>
<path d="M569.2 509.9l11.5-22-6.6-8.4-11.5 22.3z" fill="#dbe9ea"/>
<path class=b d="M580.7 487.9l-6.6-8.4M562.6 501.8l6.6 8.1"/>
<path d="M172.6 539.1l11.5-8.9-6.6 3.5-11.5 9.8z" fill="#a1c6c9"/>
<path class=b d="M184.1 530.2l-6.6 3.5M166 543.5l6.6-4.4"/>
<path d="M462.7 575.7l11.5-8.6-6.7-17.4-11.4 8.3z" fill="#bae3e8"/>
<path class=b d="M474.2 567.1l-6.7-17.4M456.1 558l6.6 17.7"/>
<path d="M356.2 506.4l11.4 1.2-6.6-20.1-11.4 .7z" fill="#b4c0c1"/>
<path class=b d="M367.6 507.6l-6.6-20.1M349.6 488.2l6.6 18.2"/>
<path class=n d="M646.3 434.4l11.4-17.3-3.4-7.1-5.5-3.2-9.2 14.8z" fill="#f1e1e1"/>
<path class=n d="M654.3 410l-3.2-6.9-2.3 3.7z" fill="#f1c1c1"/>
<path d="M646.3 434.4l11.4-17.3M651.1 403.1l-11.5 18.5"/>
<path class=b d="M657.7 417.1l-6.6-14M639.6 421.6l6.7 12.8"/>
<line x1="654.3" y1="410.0" x2="648.8" y2="406.8" stroke="#960000" stroke-width="2.0" stroke-linecap="round"/>
<path d="M249.7 484.6l11.4-7.5-6.6-3.2-11.4 10z" fill="#cfddde"/>
<path class=b d="M261.1 477.1l-6.6-3.2M243.1 483.9l6.6 .7"/>
<path class=n d="M539.7 543.4l7.5-13.2-7.1-8.3-7 12.1z" fill="#bee9ee"/>
<path class=n d="M547.2 530.2l4-6.9-6.6-9.2-4.5 7.8z" fill="#deecee"/>
<path d="M539.7 543.4l11.5-20.1M544.6 514.1l-11.5 19.9"/>
<path class=b d="M551.2 523.3l-6.6-9.2M533.1 534l6.6 9.4"/>
<line x1="547.2" y1="530.2" x2="540.1" y2="521.9" stroke="#003c68" stroke-width="2.0" stroke-linecap="round"/>
<path d="M143.1 557.3l11.5-5.9-6.6 2.9-11.5 6.1z" fill="#9cbfc3"/>
<path class=b d="M154.6 551.4l-6.6 2.9M136.5 560.4l6.6-3.1"/>
<path d="M433.2 567.9l11.5-3.9-6.6-20.1-11.5 4z" fill="#a7cdd1"/>
<path class=b d="M444.7 564l-6.6-20.1M426.6 547.9l6.6 20"/>
<path class=n d="M723.3 428l11.4-6.9-2.6-9.2-12.4 3.7z" fill="#d5c6c6"/>
<path class=n d="M732.1 411.9l-4-14.3-11.4 7.4 3 10.6z" fill="#d5aaaa"/>
<path d="M723.3 428l11.4-6.9M728.1 397.6l-11.4 7.4"/>
<path class=b d="M734.7 421.1l-6.6-23.5M716.7 405l6.6 23"/>
<line x1="732.1" y1="411.9" x2="719.7" y2="415.6" stroke="#960000" stroke-width="2.0" stroke-linecap="round"/>
<path d="M326.7 488.3l11.4 .1-6.6-16.4-11.4 2.4z" fill="#becacb"/>
<path class=b d="M338.1 488.4l-6.6-16.4M320.1 474.4l6.6 13.9"/>
<path d="M616.8 461.6l11.4-20.4-6.6-10.6-11.4 21.4z" fill="#eddddd"/>
<path class=b d="M628.2 441.2l-6.6-10.6M610.2 452l6.6 9.6"/>
<path d="M220.2 502.7l11.4-9.1-6.6 1.1-11.4 11.1z" fill="#c3cfd1"/>
<path class=b d="M231.6 493.6l-6.6 1.1M213.6 505.8l6.6-3.1"/>
<path d="M510.3 568.8l11.4-16.4-6.6-11.5-11.5 16z" fill="#c4f0f5"/>
<path class=b d="M521.7 552.4l-6.6-11.5M503.6 556.9l6.7 11.9"/>
<path d="M403.7 550l11.5-.1-6.6-21.5-11.5 .9z" fill="#9cbfc3"/>
<path class=b d="M415.2 549.9l-6.6-21.5M397.1 529.3l6.6 20.7"/>
<line x1="302.0" y1="465.3" x2="313.5" y2="460.3" stroke="#000" stroke-width="1.9" stroke-dasharray="12.0 7.46" stroke-dashoffset="8.76"/>
<path class=n d="M693.8 424.3l5.8-5.2-7.5 .3z" fill="#e4d5d5"/>
<path class=n d="M699.6 419.1l5.6-5.2-6.6-20.6-11.4 11.5 4.9 14.6z" fill="#e4b7b7"/>
<path d="M693.8 424.3l11.4-10.4M698.6 393.3l-11.4 11.5"/>
<path class=b d="M705.2 413.9l-6.6-20.6M687.2 404.8l6.6 19.5"/>
<line x1="699.6" y1="419.1" x2="692.1" y2="419.4" stroke="#960000" stroke-width="2.0" stroke-linecap="round"/>
<path class=n d="M297.2 478.8l11.5-2.2-6.7-11.3-11.4 4.9z" fill="#d9e7e8"/>
<path d="M297.2 478.8l11.5-2.2"/>
<path class=b d="M308.7 476.6l-6.7-11.3"/>
<path class=n d="M587.3 495.7l11.4-21.8-6.6-8.5-11.4 22.5z" fill="#dbe9ea"/>
<path d="M587.3 495.7l11.4-21.8M592.1 465.4l-11.4 22.5"/>
<path class=b d="M580.7 487.9l6.6 7.8"/>
<path class=n d="M189.7 525.1l-5.6 5.1 1.3-1z" fill="#a1c5c9"/>
<path class=n d="M190.7 525.2l11.4-9.2-6.6 3.8-5.8 5.3-4.3 4.1z" fill="#bcc8c9"/>
<path d="M190.7 525.2l11.4-9.2M195.5 519.8l-11.4 10.4"/>
<path class=b d="M202.1 516l-6.6 3.8M184.1 530.2l6.6-5"/>
<line x1="189.7" y1="525.1" x2="185.4" y2="529.2" stroke="#003c68" stroke-width="2.0" stroke-linecap="round"/>
<path d="M480.8 582.1l11.4-11.4-6.6-14.7-11.4 11.1z" fill="#c8f4f9"/>
<path class=b d="M492.2 570.7l-6.6-14.7M474.2 567.1l6.6 15"/>
<path d="M374.2 526.9l11.5 1.9-6.6-20.8-11.5-.4z" fill="#b1bcbd"/>
<path class=b d="M385.7 528.8l-6.6-20.8M367.6 507.6l6.6 19.3"/>
<line x1="290.6" y1="470.2" x2="284.0" y2="461.7" stroke="#000" stroke-width="1.9"/>
<path class=n d="M664.3 432.5l11.5-14.5 0 0-15.2-4.9-2.9 4z" fill="#f1e1e1"/>
<path class=n d="M675.8 418l0 0-6.7-16.8-8.5 11.9z" fill="#f1c1c1"/>
<path d="M664.3 432.5l11.5-14.5M669.1 401.2l-11.4 15.9"/>
<path class=b d="M675.8 418l-6.7-16.8M657.7 417.1l6.6 15.4"/>
<line x1="675.7" y1="418.0" x2="660.6" y2="413.1" stroke="#960000" stroke-width="2.0" stroke-linecap="round"/>
<path class=n d="M267.7 480.1l11.5-4.9-6.6-5.8-11.5 7.7z" fill="#d5e3e4"/>
<path d="M272.6 469.4l-11.5 7.7"/>
<path class=b d="M279.2 475.2l-6.6-5.8M261.1 477.1l6.6 3"/>
<path d="M557.8 531.2l11.4-21.3-6.6-8.1-11.4 21.5z" fill="#dbeaeb"/>
<path class=b d="M569.2 509.9l-6.6-8.1M551.2 523.3l6.6 7.9"/>
<path d="M161.2 546.5l11.4-7.4-6.6 4.4-11.4 7.9z" fill="#9cc0c3"/>
<path class=b d="M172.6 539.1l-6.6 4.4M154.6 551.4l6.6-4.9"/>
<path d="M451.3 581.9l11.4-6.2-6.6-17.7-11.4 6z" fill="#b3dbdf"/>
<path class=b d="M462.7 575.7l-6.6-17.7M444.7 564l6.6 17.9"/>
<path d="M741.3 446l11.5-5.4-6.6-25-11.5 5.5z" fill="#cec0c0"/>
<path class=b d="M752.8 440.6l-6.6-25M734.7 421.1l6.6 24.9"/>
<path d="M344.8 504.5l11.4 1.9-6.6-18.2-11.5 .2z" fill="#b2bebf"/>
<path class=b d="M356.2 506.4l-6.6-18.2M338.1 488.4l6.7 16.1"/>
<path d="M634.8 452.7l11.5-18.3-6.7-12.8-11.4 19.6z" fill="#f0e0e0"/>
<path class=b d="M646.3 434.4l-6.7-12.8M628.2 441.2l6.6 11.5"/>
<path d="M238.2 491.9l11.5-7.3-6.6-.7-11.5 9.7z" fill="#c5d1d3"/>
<path class=b d="M249.7 484.6l-6.6-.7M231.6 493.6l6.6-1.7"/>
<path d="M528.3 561.9l11.4-18.5-6.6-9.4-11.4 18.4z" fill="#c0ebf0"/>
<path class=b d="M539.7 543.4l-6.6-9.4M521.7 552.4l6.6 9.5"/>
<path d="M421.8 569.4l11.4-1.5-6.6-20-11.4 2z" fill="#a1c5c9"/>
<path class=b d="M433.2 567.9l-6.6-20M415.2 549.9l6.6 19.5"/>
<path class=n d="M711.8 436l11.5-8-3.6-12.4-13.1 2.7z" fill="#d9cbcb"/>
<path class=n d="M719.7 415.6l-3-10.6-11.5 8.9 1.4 4.4z" fill="#d9aeae"/>
<path d="M711.8 436l11.5-8M716.7 405l-11.5 8.9"/>
<path class=b d="M723.3 428l-6.6-23M705.2 413.9l6.6 22.1"/>
<line x1="719.7" y1="415.6" x2="706.6" y2="418.3" stroke="#960000" stroke-width="2.0" stroke-linecap="round"/>
<path d="M315.3 487.9l11.4 .4-6.6-13.9-11.4 2.2z" fill="#bfcbcc"/>
<path class=b d="M326.7 488.3l-6.6-13.9M308.7 476.6l6.6 11.3"/>
<path class=n d="M605.3 482.4l0 0-6.6-8.5 0 0z" fill="#dceaec"/>
<path class=n d="M605.3 482.4l11.5-20.8-6.6-9.6-11.5 21.9z" fill="#ecdcdc"/>
<path d="M605.3 482.4l11.5-20.8M610.2 452l-11.5 21.9"/>
<path class=b d="M616.8 461.6l-6.6-9.6"/>
<path d="M208.7 511.2l11.5-8.5-6.6 3.1-11.5 10.2z" fill="#bcc8c9"/>
<path class=b d="M220.2 502.7l-6.6 3.1M202.1 516l6.6-4.8"/>
<path d="M498.8 582.9l11.5-14.1-6.7-11.9-11.4 13.8z" fill="#c9f5fa"/>
<path class=b d="M510.3 568.8l-6.7-11.9M492.2 570.7l6.6 12.2"/>
<path class=n d="M392.3 548.3l11.4 1.7-6.6-20.7-5.6-.2-4.1 4.7z" fill="#98babd"/>
<path class=n d="M391.5 529.1l-5.8-.3 1.7 5z" fill="#b1bcbd"/>
<path d="M392.3 548.3l11.4 1.7M397.1 529.3l-11.4-.5"/>
<path class=b d="M403.7 550l-6.6-20.7M385.7 528.8l6.6 19.5"/>
<line x1="391.5" y1="529.1" x2="387.4" y2="533.8" stroke="#003c68" stroke-width="2.0" stroke-linecap="round"/>
<line x1="290.6" y1="470.2" x2="302.0" y2="465.3" stroke="#000" stroke-width="1.9" stroke-dasharray="12.0 7.46" stroke-dashoffset="15.76"/>
<path class=n d="M682.4 436.1l11.4-11.8-1.7-4.9-16.3-1.4 0 0z" fill="#eadada"/>
<path class=n d="M692.1 419.4l-4.9-14.6-11.4 13.2 0 0z" fill="#eabbbb"/>
<path d="M682.4 436.1l11.4-11.8M687.2 404.8l-11.4 13.2"/>
<path class=b d="M693.8 424.3l-6.6-19.5M675.8 418l6.6 18.1"/>
<line x1="692.1" y1="419.4" x2="675.8" y2="418.0" stroke="#960000" stroke-width="2.0" stroke-linecap="round"/>
<path class=n d="M297.2 478.8l0 0-6.6-8.6-11.4 5 0 0z" fill="#d2dfe1"/>
<path class=n d="M285.8 480.9l11.4-2.1-6.6-8.6 0 0-11.4 5z" fill="#e1d2d2"/>
<path d="M285.8 480.9l11.4-2.1"/>
<path class=b d="M279.2 475.2l6.6 5.7"/>
<line x1="598.7" y1="473.9" x2="592.1" y2="465.4" stroke="#000" stroke-width="1.9"/>
<path d="M575.8 517.2l11.5-21.5-6.6-7.8-11.5 22z" fill="#dbe9ea"/>
<path class=b d="M587.3 495.7l-6.6-7.8M569.2 509.9l6.6 7.3"/>
<path class=n d="M185.4 529.2l-1.3 1-11.5 8.9 3.1-2.7z" fill="#9cc0c4"/>
<path class=n d="M179.2 533.2l11.5-8-5.3 4-9.7 7.2z" fill="#b7c2c4"/>
<path d="M179.2 533.2l11.5-8M184.1 530.2l-11.5 8.9"/>
<path class=b d="M190.7 525.2l-6.6 5M172.6 539.1l6.6-5.9"/>
<line x1="185.4" y1="529.2" x2="175.7" y2="536.4" stroke="#003c68" stroke-width="2.0" stroke-linecap="round"/>
<path d="M469.3 591l11.5-8.9-6.6-15-11.5 8.6z" fill="#c6f1f6"/>
<path class=b d="M480.8 582.1l-6.6-15M462.7 575.7l6.6 15.3"/>
<path d="M362.8 523.9l11.4 3-6.6-19.3-11.4-1.2z" fill="#adb8ba"/>
<path class=b d="M374.2 526.9l-6.6-19.3M356.2 506.4l6.6 17.5"/>
<path d="M652.9 448.2l11.4-15.7-6.6-15.4-11.4 17.3z" fill="#f2e2e2"/>
<path class=b d="M664.3 432.5l-6.6-15.4M646.3 434.4l6.6 13.8"/>
<path class=n d="M256.3 485l11.4-4.9-6.6-3-11.4 7.5z" fill="#c7d3d5"/>
<path d="M261.1 477.1l-11.4 7.5"/>
<path class=b d="M267.7 480.1l-6.6-3M249.7 484.6l6.6 .4"/>
<path class=n d="M546.3 551.1l7-12.1-6.1-8.8-7.5 13.2z" fill="#bde8ec"/>
<path class=n d="M553.3 539l4.5-7.8-6.6-7.9-4 6.9z" fill="#ddebec"/>
<path d="M546.3 551.1l11.5-19.9M551.2 523.3l-11.5 20.1"/>
<path class=b d="M557.8 531.2l-6.6-7.9M539.7 543.4l6.6 7.7"/>
<line x1="553.3" y1="539.0" x2="547.2" y2="530.2" stroke="#003c68" stroke-width="2.0" stroke-linecap="round"/>
<path d="M149.8 552.3l11.4-5.8-6.6 4.9-11.5 5.9z" fill="#98babe"/>
<path class=b d="M161.2 546.5l-6.6 4.9M143.1 557.3l6.7-5"/>
<path d="M439.8 585.6l11.5-3.7-6.6-17.9-11.5 3.9z" fill="#aad0d5"/>
<path class=b d="M451.3 581.9l-6.6-17.9M433.2 567.9l6.6 17.7"/>
<path d="M729.9 452.2l11.4-6.2-6.6-24.9-11.4 6.9z" fill="#d1c3c3"/>
<path class=b d="M741.3 446l-6.6-24.9M723.3 428l6.6 24.2"/>
<path d="M333.3 501.9l11.5 2.6-6.7-16.1-11.4-.1z" fill="#b1bcbd"/>
<path class=b d="M344.8 504.5l-6.7-16.1M326.7 488.3l6.6 13.6"/>
<path d="M623.4 471.6l11.4-18.9-6.6-11.5-11.4 20.4z" fill="#efdfdf"/>
<path class=b d="M634.8 452.7l-6.6-11.5M616.8 461.6l6.6 10"/>
<path d="M226.8 499l11.4-7.1-6.6 1.7-11.4 9.1z" fill="#bcc9ca"/>
<path class=b d="M238.2 491.9l-6.6 1.7M220.2 502.7l6.6-3.7"/>
<path d="M516.9 578.4l11.4-16.5-6.6-9.5-11.4 16.4z" fill="#c3eff3"/>
<path class=b d="M528.3 561.9l-6.6-9.5M510.3 568.8l6.6 9.6"/>
<path d="M410.3 568.8l11.5 .6-6.6-19.5-11.5 .1z" fill="#9abdc1"/>
<path class=b d="M421.8 569.4l-6.6-19.5M403.7 550l6.6 18.8"/>
<path class=n d="M700.4 445.2l11.4-9.2-5.2-17.7-7 .8-5.8 5.2z" fill="#ded0d0"/>
<path class=n d="M706.6 418.3l-1.4-4.4-5.6 5.2z" fill="#deb2b2"/>
<path d="M700.4 445.2l11.4-9.2M705.2 413.9l-11.4 10.4"/>
<path class=b d="M711.8 436l-6.6-22.1M693.8 424.3l6.6 20.9"/>
<line x1="706.6" y1="418.3" x2="699.6" y2="419.1" stroke="#960000" stroke-width="2.0" stroke-linecap="round"/>
<path class=n d="M303.8 487.3l11.5 .6-6.6-11.3-11.5 2.2z" fill="#becacb"/>
<path d="M303.8 487.3l11.5 .6M308.7 476.6l-11.5 2.2"/>
<path class=b d="M315.3 487.9l-6.6-11.3"/>
<path class=n d="M593.9 503.2l11.4-20.8-6.6-8.5-11.4 21.8z" fill="#dbeaeb"/>
<path d="M593.9 503.2l11.4-20.8M598.7 473.9l-11.4 21.8"/>
<path class=b d="M587.3 495.7l6.6 7.5"/>
<path d="M197.3 519l11.4-7.8-6.6 4.8-11.4 9.2z" fill="#b7c2c4"/>
<path class=b d="M208.7 511.2l-6.6 4.8M190.7 525.2l6.6-6.2"/>
<path d="M487.4 594.6l11.4-11.7-6.6-12.2-11.4 11.4z" fill="#d1feff"/>
<path class=b d="M498.8 582.9l-6.6-12.2M480.8 582.1l6.6 12.5"/>
<path class=n d="M380.8 545.1l11.5 3.2-4.9-14.5-6.6 11.3z" fill="#93b4b8"/>
<path class=n d="M380.8 545.1l0 0 6.6-11.3-1.7-5-11.5-1.9z" fill="#acb7b8"/>
<path d="M380.8 545.1l11.5 3.2M385.7 528.8l-11.5-1.9"/>
<path class=b d="M392.3 548.3l-6.6-19.5M374.2 526.9l6.6 18.2"/>
<line x1="380.9" y1="545.1" x2="387.4" y2="533.8" stroke="#003c68" stroke-width="2.0" stroke-linecap="round"/>
<line x1="279.2" y1="475.2" x2="290.6" y2="470.2" stroke="#000" stroke-width="1.9" stroke-dasharray="12.0 7.46" stroke-dashoffset="3.30"/>
<path d="M670.9 449l11.5-12.9-6.6-18.1-11.5 14.5z" fill="#eedfdf"/>
<path class=b d="M682.4 436.1l-6.6-18.1M664.3 432.5l6.6 16.5"/>
<line x1="675.8" y1="418.0" x2="675.7" y2="418.0" stroke="#960000" stroke-width="2.0" stroke-linecap="round"/>
<path class=n d="M274.3 483.1l11.5-2.2-6.6-5.7-11.5 4.9z" fill="#d3c5c5"/>
<path d="M274.3 483.1l11.5-2.2"/>
<path class=b d="M285.8 480.9l-6.6-5.7M267.7 480.1l6.6 3"/>
<path d="M564.4 537.8l11.4-20.6-6.6-7.3-11.4 21.3z" fill="#dbe9eb"/>
<path class=b d="M575.8 517.2l-6.6-7.3M557.8 531.2l6.6 6.6"/>
<path class=n d="M175.7 536.4l-3.1 2.7-11.4 7.4 4-3.9z" fill="#98bbbf"/>
<path class=n d="M167.8 540l11.4-6.8-3.5 3.2-10.5 6.2z" fill="#b2bdbf"/>
<path d="M167.8 540l11.4-6.8M172.6 539.1l-11.4 7.4"/>
<path class=b d="M179.2 533.2l-6.6 5.9M161.2 546.5l6.6-6.5"/>
<line x1="175.7" y1="536.4" x2="165.2" y2="542.6" stroke="#003c68" stroke-width="2.0" stroke-linecap="round"/>
<path d="M457.9 597.3l11.4-6.3-6.6-15.3-11.4 6.2z" fill="#bce6ea"/>
<path class=b d="M469.3 591l-6.6-15.3M451.3 581.9l6.6 15.4"/>
<path d="M747.9 471.6l11.5-5.1-6.6-25.9-11.5 5.4z" fill="#cdbfbf"/>
<path class=b d="M759.4 466.5l-6.6-25.9M741.3 446l6.6 25.6"/>
<path d="M351.4 519.9l11.4 4-6.6-17.5-11.4-1.9z" fill="#aab5b6"/>
<path class=b d="M362.8 523.9l-6.6-17.5M344.8 504.5l6.6 15.4"/>
<path d="M641.4 464.8l11.5-16.6-6.6-13.8-11.5 18.3z" fill="#f2e2e2"/>
<path class=b d="M652.9 448.2l-6.6-13.8M634.8 452.7l6.6 12.1"/>
<path class=n d="M244.8 490l11.5-5-6.6-.4-11.5 7.3z" fill="#bcc9ca"/>
<path d="M249.7 484.6l-11.5 7.3"/>
<path class=b d="M256.3 485l-6.6-.4M238.2 491.9l6.6-1.9"/>
<path d="M534.9 569.5l11.4-18.4-6.6-7.7-11.4 18.5z" fill="#bfe9ee"/>
<path class=b d="M546.3 551.1l-6.6-7.7M528.3 561.9l6.6 7.6"/>
<path d="M428.4 586.8l11.4-1.2-6.6-17.7-11.4 1.5z" fill="#a1c6ca"/>
<path class=b d="M439.8 585.6l-6.6-17.7M421.8 569.4l6.6 17.4"/>
<path d="M718.5 459.2l11.4-7-6.6-24.2-11.5 8z" fill="#d5c7c7"/>
<path class=b d="M729.9 452.2l-6.6-24.2M711.8 436l6.7 23.2"/>
<path d="M321.9 499l11.4 2.9-6.6-13.6-11.4-.4z" fill="#aeb9bb"/>
<path class=b d="M333.3 501.9l-6.6-13.6M315.3 487.9l6.6 11.1"/>
<path class=n d="M611.9 491l0 0-6.6-8.6 0 0z" fill="#deecee"/>
<path class=n d="M611.9 491l11.5-19.4-6.6-10-11.5 20.8z" fill="#eedede"/>
<path d="M611.9 491l11.5-19.4M616.8 461.6l-11.5 20.8"/>
<path class=b d="M623.4 471.6l-6.6-10"/>
<path d="M215.3 505.7l11.5-6.7-6.6 3.7-11.5 8.5z" fill="#b6c2c3"/>
<path class=b d="M226.8 499l-6.6 3.7M208.7 511.2l6.6-5.5"/>
<path d="M505.4 592.7l11.5-14.3-6.6-9.6-11.5 14.1z" fill="#c8f4f9"/>
<path class=b d="M516.9 578.4l-6.6-9.6M498.8 582.9l6.6 9.8"/>
<path d="M398.9 566.2l11.4 2.6-6.6-18.8-11.4-1.7z" fill="#95b6ba"/>
<path class=b d="M410.3 568.8l-6.6-18.8M392.3 548.3l6.6 17.9"/>
<path d="M689 455.4l11.4-10.2-6.6-20.9-11.4 11.8z" fill="#e4d5d5"/>
<path class=b d="M700.4 445.2l-6.6-20.9M682.4 436.1l6.6 19.3"/>
<path class=n d="M303.8 487.3l0 0-6.6-8.5 0 0z" fill="#bac6c7"/>
<path class=n d="M292.4 486.7l11.4 .6-6.6-8.5-11.4 2.1z" fill="#c7baba"/>
<path d="M292.4 486.7l11.4 .6M297.2 478.8l-11.4 2.1"/>
<path class=b d="M285.8 480.9l6.6 5.8"/>
<line x1="605.3" y1="482.4" x2="598.7" y2="473.9" stroke="#000" stroke-width="1.9"/>
<path d="M582.4 523.6l11.5-20.4-6.6-7.5-11.5 21.5z" fill="#dbe9eb"/>
<path class=b d="M593.9 503.2l-6.6-7.5M575.8 517.2l6.6 6.4"/>
<path d="M185.9 526.1l11.4-7.1-6.6 6.2-11.5 8z" fill="#b2bebf"/>
<path class=b d="M197.3 519l-6.6 6.2M179.2 533.2l6.7-7.1"/>
<path d="M475.9 603.6l11.5-9-6.6-12.5-11.5 8.9z" fill="#daffff"/>
<path class=b d="M487.4 594.6l-6.6-12.5M469.3 591l6.6 12.6"/>
<path d="M369.4 540.4l11.4 4.7-6.6-18.2-11.4-3z" fill="#a7b2b3"/>
<path class=b d="M380.8 545.1l-6.6-18.2M362.8 523.9l6.6 16.5"/>
<line x1="267.7" y1="480.1" x2="279.2" y2="475.2" stroke="#000" stroke-width="1.9" stroke-dasharray="12.0 7.46" stroke-dashoffset="10.30"/>
<path d="M659.5 462.9l11.4-13.9-6.6-16.5-11.4 15.7z" fill="#f2e2e2"/>
<path class=b d="M670.9 449l-6.6-16.5M652.9 448.2l6.6 14.7"/>
<path class=n d="M262.9 485.5l11.4-2.4-6.6-3-11.4 4.9z" fill="#c8bbbb"/>
<path d="M262.9 485.5l11.4-2.4"/>
<path class=b d="M274.3 483.1l-6.6-3M256.3 485l6.6 .5"/>
<path class=n d="M553 557.2l5.3-9-5-9.2-7 12.1z" fill="#bce6eb"/>
<path class=n d="M558.3 548.2l6.1-10.4-6.6-6.6-4.5 7.8z" fill="#dbeaeb"/>
<path d="M553 557.2l11.4-19.4M557.8 531.2l-11.5 19.9"/>
<path class=b d="M564.4 537.8l-6.6-6.6M546.3 551.1l6.7 6.1"/>
<line x1="558.3" y1="548.2" x2="553.3" y2="539.0" stroke="#003c68" stroke-width="2.0" stroke-linecap="round"/>
<path class=n d="M165.2 542.6l-4 3.9-11.4 5.8 4.3-4.4z" fill="#95b6ba"/>
<path class=n d="M156.4 545.6l11.4-5.6-2.6 2.6-11.1 5.3z" fill="#aeb9ba"/>
<path d="M156.4 545.6l11.4-5.6M161.2 546.5l-11.4 5.8"/>
<path class=b d="M167.8 540l-6.6 6.5M149.8 552.3l6.6-6.7"/>
<line x1="165.2" y1="542.6" x2="154.1" y2="547.9" stroke="#003c68" stroke-width="2.0" stroke-linecap="round"/>
<path d="M446.4 600.9l11.5-3.6-6.6-15.4-11.5 3.7z" fill="#afd6db"/>
<path class=b d="M457.9 597.3l-6.6-15.4M439.8 585.6l6.6 15.3"/>
<path d="M736.5 477.2l11.4-5.6-6.6-25.6-11.4 6.2z" fill="#cfc1c1"/>
<path class=b d="M747.9 471.6l-6.6-25.6M729.9 452.2l6.6 25"/>
<path d="M339.9 515.1l11.5 4.8-6.6-15.4-11.5-2.6z" fill="#a6b1b2"/>
<path class=b d="M351.4 519.9l-6.6-15.4M333.3 501.9l6.6 13.2"/>
<path d="M630 482l11.4-17.2-6.6-12.1-11.4 18.9z" fill="#f1e1e1"/>
<path class=b d="M641.4 464.8l-6.6-12.1M623.4 471.6l6.6 10.4"/>
<path class=n d="M233.4 494.9l11.4-4.9-6.6 1.9-11.4 7.1z" fill="#b6c1c3"/>
<path d="M238.2 491.9l-11.4 7.1"/>
<path class=b d="M244.8 490l-6.6 1.9M226.8 499l6.6-4.1"/>
<path d="M523.5 585.8l11.4-16.3-6.6-7.6-11.4 16.5z" fill="#c1ecf1"/>
<path class=b d="M534.9 569.5l-6.6-7.6M516.9 578.4l6.6 7.4"/>
<path d="M417 585.7l11.4 1.1-6.6-17.4-11.5-.6z" fill="#99bbbf"/>
<path class=b d="M428.4 586.8l-6.6-17.4M410.3 568.8l6.7 16.9"/>
<path d="M707 467.1l11.5-7.9-6.7-23.2-11.4 9.2z" fill="#d9cbcb"/>
<path class=b d="M718.5 459.2l-6.7-23.2M700.4 445.2l6.6 21.9"/>
<path class=n d="M310.4 495.8l11.5 3.2-6.6-11.1-11.5-.6z" fill="#abb6b7"/>
<path d="M310.4 495.8l11.5 3.2M315.3 487.9l-11.5-.6"/>
<path class=b d="M321.9 499l-6.6-11.1"/>
<path class=n d="M600.5 510.3l11.4-19.3-6.6-8.6-11.4 20.8z" fill="#ddebec"/>
<path d="M600.5 510.3l11.4-19.3M605.3 482.4l-11.4 20.8"/>
<path class=b d="M593.9 503.2l6.6 7.1"/>
<path d="M203.9 512.1l11.4-6.4-6.6 5.5-11.4 7.8z" fill="#b2bdbf"/>
<path class=b d="M215.3 505.7l-6.6 5.5M197.3 519l6.6-6.9"/>
<path d="M494 604.5l11.4-11.8-6.6-9.8-11.4 11.7z" fill="#d1feff"/>
<path class=b d="M505.4 592.7l-6.6-9.8M487.4 594.6l6.6 9.9"/>
<path d="M387.5 561.8l11.4 4.4-6.6-17.9-11.5-3.2z" fill="#8fafb3"/>
<path class=b d="M398.9 566.2l-6.6-17.9M380.8 545.1l6.7 16.7"/>
<line x1="380.9" y1="545.1" x2="380.9" y2="545.1" stroke="#003c68" stroke-width="2.0" stroke-linecap="round"/>
<path d="M677.5 466.5l11.5-11.1-6.6-19.3-11.5 12.9z" fill="#ebdbdb"/>
<path class=b d="M689 455.4l-6.6-19.3M670.9 449l6.6 17.5"/>
<path d="M280.9 486.3l11.5 .4-6.6-5.8-11.5 2.2z" fill="#c0b3b3"/>
<path class=b d="M292.4 486.7l-6.6-5.8M274.3 483.1l6.6 3.2"/>
<path d="M571 543.2l11.4-19.6-6.6-6.4-11.4 20.6z" fill="#dae8ea"/>
<path class=b d="M582.4 523.6l-6.6-6.4M564.4 537.8l6.6 5.4"/>
<path d="M174.4 532.3l11.5-6.2-6.7 7.1-11.4 6.8z" fill="#aebabb"/>
<path class=b d="M185.9 526.1l-6.7 7.1M167.8 540l6.6-7.7"/>
<path d="M464.5 610l11.4-6.4-6.6-12.6-11.4 6.3z" fill="#d0fcff"/>
<path class=b d="M475.9 603.6l-6.6-12.6M457.9 597.3l6.6 12.7"/>
<path d="M754.6 497.7l11.4-4.9-6.6-26.3-11.5 5.1z" fill="#cbbebe"/>
<path class=b d="M766 492.8l-6.6-26.3M747.9 471.6l6.7 26.1"/>
<path d="M358 534.6l11.4 5.8-6.6-16.5-11.4-4z" fill="#a2adae"/>
<path class=b d="M369.4 540.4l-6.6-16.5M351.4 519.9l6.6 14.7"/>
<line x1="256.3" y1="485.0" x2="267.7" y2="480.1" stroke="#000" stroke-width="1.9" stroke-dasharray="12.0 7.46" stroke-dashoffset="17.30"/>
<path d="M648 477.5l11.5-14.6-6.6-14.7-11.5 16.6z" fill="#f4e4e4"/>
<path class=b d="M659.5 462.9l-6.6-14.7M641.4 464.8l6.6 12.7"/>
<path class=n d="M251.4 488.1l11.5-2.6-6.6-.5-11.5 5z" fill="#c0b3b3"/>
<path d="M251.4 488.1l11.5-2.6"/>
<path class=b d="M262.9 485.5l-6.6-.5M244.8 490l6.6-1.9"/>
<path d="M541.5 575l11.5-17.8-6.7-6.1-11.4 18.4z" fill="#bde7ec"/>
<path class=b d="M553 557.2l-6.7-6.1M534.9 569.5l6.6 5.5"/>
<path d="M435 601.8l11.4-.9-6.6-15.3-11.4 1.2z" fill="#a2c7cb"/>
<path class=b d="M446.4 600.9l-6.6-15.3M428.4 586.8l6.6 15"/>
<path d="M725.1 483.2l11.4-6-6.6-25-11.4 7z" fill="#d1c3c3"/>
<path class=b d="M736.5 477.2l-6.6-25M718.5 459.2l6.6 24"/>
<path d="M328.5 509.9l11.4 5.2-6.6-13.2-11.4-2.9z" fill="#a3adae"/>
<path class=b d="M339.9 515.1l-6.6-13.2M321.9 499l6.6 10.9"/>
<path class=n d="M618.6 499.5l0 0-6.7-8.5 0 0z" fill="#e0eef0"/>
<path class=n d="M618.6 499.5l11.4-17.5-6.6-10.4-11.5 19.4z" fill="#f0e0e0"/>
<path d="M618.6 499.5l11.4-17.5M623.4 471.6l-11.5 19.4"/>
<path class=b d="M630 482l-6.6-10.4"/>
<path class=n d="M222 499.8l11.4-4.9-6.6 4.1-11.5 6.7z" fill="#b1bcbe"/>
<path d="M226.8 499l-11.5 6.7"/>
<path class=b d="M233.4 494.9l-6.6 4.1M215.3 505.7l6.7-5.9"/>
<path d="M512 600l11.5-14.2-6.6-7.4-11.5 14.3z" fill="#c4f0f5"/>
<path class=b d="M523.5 585.8l-6.6-7.4M505.4 592.7l6.6 7.3"/>
<path d="M405.5 582.3l11.5 3.4-6.7-16.9-11.4-2.6z" fill="#91b2b6"/>
<path class=b d="M417 585.7l-6.7-16.9M398.9 566.2l6.6 16.1"/>
<path d="M695.6 475.6l11.4-8.5-6.6-21.9-11.4 10.2z" fill="#dfd0d0"/>
<path class=b d="M707 467.1l-6.6-21.9M689 455.4l6.6 20.2"/>
<path class=n d="M310.4 495.8l0 0-6.6-8.5 0 0z" fill="#a8b3b4"/>
<path class=n d="M299 492.7l11.4 3.1-6.6-8.5-11.4-.6z" fill="#b4a8a8"/>
<path d="M299 492.7l11.4 3.1M303.8 487.3l-11.4-.6"/>
<path class=b d="M292.4 486.7l6.6 6"/>
<line x1="611.9" y1="491.0" x2="605.3" y2="482.4" stroke="#000" stroke-width="1.9"/>
<path d="M589.1 529.3l11.4-19-6.6-7.1-11.5 20.4z" fill="#dbeaeb"/>
<path class=b d="M600.5 510.3l-6.6-7.1M582.4 523.6l6.7 5.7"/>
<path d="M192.5 518.1l11.4-6-6.6 6.9-11.4 7.1z" fill="#aebabb"/>
<path class=b d="M203.9 512.1l-6.6 6.9M185.9 526.1l6.6-8"/>
<path d="M482.5 613.6l11.5-9.1-6.6-9.9-11.5 9z" fill="#e3ffff"/>
<path class=b d="M494 604.5l-6.6-9.9M475.9 603.6l6.6 10"/>
<path class=n d="M378.9 557.3l8.6 4.5-6.7-16.7 0 0z" fill="#8aa9ad"/>
<path class=n d="M376 555.8l2.9 1.5 1.9-12.2 0 0-11.4-4.7z" fill="#a1acad"/>
<path d="M376 555.8l11.5 6M380.8 545.1l-11.4-4.7"/>
<path class=b d="M387.5 561.8l-6.7-16.7M369.4 540.4l6.6 15.4"/>
<line x1="378.9" y1="557.3" x2="380.9" y2="545.1" stroke="#003c68" stroke-width="2.0" stroke-linecap="round"/>
<path d="M666.1 478.3l11.4-11.8-6.6-17.5-11.4 13.9z" fill="#f1e1e1"/>
<path class=b d="M677.5 466.5l-6.6-17.5M659.5 462.9l6.6 15.4"/>
<path d="M269.5 486.2l11.4 .1-6.6-3.2-11.4 2.4z" fill="#bbaeae"/>
<path class=b d="M280.9 486.3l-6.6-3.2M262.9 485.5l6.6 .7"/>
<path class=n d="M559.6 561.7l2.2-3.7-3.5-9.8-5.3 9z" fill="#bbe5ea"/>
<path class=n d="M561.8 558l9.2-14.8-6.6-5.4-6.1 10.4z" fill="#dae8ea"/>
<path d="M559.6 561.7l11.4-18.5M564.4 537.8l-11.4 19.4"/>
<path class=b d="M571 543.2l-6.6-5.4M553 557.2l6.6 4.5"/>
<line x1="561.8" y1="558.0" x2="558.3" y2="548.2" stroke="#003c68" stroke-width="2.0" stroke-linecap="round"/>
<path d="M163 537.7l11.4-5.4-6.6 7.7-11.4 5.6z" fill="#abb6b8"/>
<path class=b d="M174.4 532.3l-6.6 7.7M156.4 545.6l6.6-7.9"/>
<path d="M453 613.5l11.5-3.5-6.6-12.7-11.5 3.6z" fill="#b6dfe3"/>
<path class=b d="M464.5 610l-6.6-12.7M446.4 600.9l6.6 12.6"/>
<path d="M743.1 502.7l11.5-5-6.7-26.1-11.4 5.6z" fill="#cdbfbf"/>
<path class=b d="M754.6 497.7l-6.7-26.1M736.5 477.2l6.6 25.5"/>
<path d="M346.5 527.9l11.5 6.7-6.6-14.7-11.5-4.8z" fill="#9fa9aa"/>
<path class=b d="M358 534.6l-6.6-14.7M339.9 515.1l6.6 12.8"/>
<line x1="244.8" y1="490.0" x2="256.3" y2="485.0" stroke="#000" stroke-width="1.9" stroke-dasharray="12.0 7.46" stroke-dashoffset="4.84"/>
<path d="M636.6 492.6l11.4-15.1-6.6-12.7-11.4 17.2z" fill="#f5e4e4"/>
<path class=b d="M648 477.5l-6.6-12.7M630 482l6.6 10.6"/>
<path class=n d="M240 490.9l11.4-2.8-6.6 1.9-11.4 4.9z" fill="#bbafaf"/>
<path d="M240 490.9l11.4-2.8"/>
<path class=b d="M251.4 488.1l-6.6 1.9M233.4 494.9l6.6-4"/>
<path d="M530.1 591l11.4-16-6.6-5.5-11.4 16.3z" fill="#bee8ed"/>
<path class=b d="M541.5 575l-6.6-5.5M523.5 585.8l6.6 5.2"/>
<path d="M423.6 600.3l11.4 1.5-6.6-15-11.4-1.1z" fill="#97b9bd"/>
<path class=b d="M435 601.8l-6.6-15M417 585.7l6.6 14.6"/>
<path d="M713.6 489.6l11.5-6.4-6.6-24-11.5 7.9z" fill="#d5c6c6"/>
<path class=b d="M725.1 483.2l-6.6-24M707 467.1l6.6 22.5"/>
<path class=n d="M317 504.4l11.5 5.5-6.6-10.9-11.5-3.2z" fill="#9faaab"/>
<path d="M317 504.4l11.5 5.5M321.9 499l-11.5-3.2"/>
<path class=b d="M328.5 509.9l-6.6-10.9"/>
<path class=n d="M607.1 517l11.5-17.5-6.7-8.5-11.4 19.3z" fill="#deedee"/>
<path d="M607.1 517l11.5-17.5M611.9 491l-11.4 19.3"/>
<path class=b d="M600.5 510.3l6.6 6.7"/>
<path class=n d="M210.5 504.8l11.5-5-6.7 5.9-11.4 6.4z" fill="#aeb9ba"/>
<path d="M215.3 505.7l-11.4 6.4"/>
<path class=b d="M222 499.8l-6.7 5.9M203.9 512.1l6.6-7.3"/>
<path d="M500.6 611.7l11.4-11.7-6.6-7.3-11.4 11.8z" fill="#c8f5fa"/>
<path class=b d="M512 600l-6.6-7.3M494 604.5l6.6 7.2"/>
<path d="M394.1 576.9l11.4 5.4-6.6-16.1-11.4-4.4z" fill="#8babae"/>
<path class=b d="M405.5 582.3l-6.6-16.1M387.5 561.8l6.6 15.1"/>
<path d="M684.1 484.7l11.5-9.1-6.6-20.2-11.5 11.1z" fill="#e5d6d6"/>
<path class=b d="M695.6 475.6l-6.6-20.2M677.5 466.5l6.6 18.2"/>
<path d="M287.5 489.8l11.5 2.9-6.6-6-11.5-.4z" fill="#b1a5a5"/>
<path class=b d="M299 492.7l-6.6-6M280.9 486.3l6.6 3.5"/>
<path d="M577.6 547.5l11.5-18.2-6.7-5.7-11.4 19.6z" fill="#dae8ea"/>
<path class=b d="M589.1 529.3l-6.7-5.7M571 543.2l6.6 4.3"/>
<path d="M181 523.7l11.5-5.6-6.6 8-11.5 6.2z" fill="#acb7b8"/>
<path class=b d="M192.5 518.1l-6.6 8M174.4 532.3l6.6-8.6"/>
<path d="M471.1 619.9l11.4-6.3-6.6-10-11.4 6.4z" fill="#e2ffff"/>
<path class=b d="M482.5 613.6l-6.6-10M464.5 610l6.6 9.9"/>
<path d="M364.6 548.4l11.4 7.4-6.6-15.4-11.4-5.8z" fill="#a1abac"/>
<path class=b d="M376 555.8l-6.6-15.4M358 534.6l6.6 13.8"/>
<path d="M654.6 490.7l11.5-12.4-6.6-15.4-11.5 14.6z" fill="#f7e7e7"/>
<path class=b d="M666.1 478.3l-6.6-15.4M648 477.5l6.6 13.2"/>
<path d="M258.1 486.4l11.4-.2-6.6-.7-11.5 2.6z" fill="#b7aaaa"/>
<path class=b d="M269.5 486.2l-6.6-.7M251.4 488.1l6.7-1.7"/>
<path d="M548.1 578.8l11.5-17.1-6.6-4.5-11.5 17.8z" fill="#bae4e9"/>
<path class=b d="M559.6 561.7l-6.6-4.5M541.5 575l6.6 3.8"/>
<path d="M441.6 614.3l11.4-.8-6.6-12.6-11.4 .9z" fill="#a3c8cc"/>
<path class=b d="M453 613.5l-6.6-12.6M435 601.8l6.6 12.5"/>
<path d="M731.7 507.6l11.4-4.9-6.6-25.5-11.4 6z" fill="#cec0c0"/>
<path class=b d="M743.1 502.7l-6.6-25.5M725.1 483.2l6.6 24.4"/>
<path d="M335.1 520.5l11.4 7.4-6.6-12.8-11.4-5.2z" fill="#a3adae"/>
<path class=b d="M346.5 527.9l-6.6-12.8M328.5 509.9l6.6 10.6"/>
<line x1="233.4" y1="494.9" x2="244.8" y2="490.0" stroke="#000" stroke-width="1.9" stroke-dasharray="12.0 7.46" stroke-dashoffset="11.84"/>
<path class=n d="M625.2 508l0 0-6.6-8.5 0 0z" fill="#e3f2f3"/>
<path class=n d="M625.2 508l11.4-15.4-6.6-10.6-11.4 17.5z" fill="#f3e3e3"/>
<path d="M625.2 508l11.4-15.4M630 482l-11.4 17.5"/>
<path class=b d="M636.6 492.6l-6.6-10.6"/>
<path class=n d="M228.6 494l11.4-3.1-6.6 4-11.4 4.9z" fill="#b8acac"/>
<path d="M228.6 494l11.4-3.1"/>
<path class=b d="M240 490.9l-6.6 4M222 499.8l6.6-5.8"/>
<path d="M518.6 604.8l11.5-13.8-6.6-5.2-11.5 14.2z" fill="#bfeaee"/>
<path class=b d="M530.1 591l-6.6-5.2M512 600l6.6 4.8"/>
<path d="M412.1 596.4l11.5 3.9-6.6-14.6-11.5-3.4z" fill="#8eaeb2"/>
<path class=b d="M423.6 600.3l-6.6-14.6M405.5 582.3l6.6 14.1"/>
<path d="M702.2 496.4l11.4-6.8-6.6-22.5-11.4 8.5z" fill="#d9cbcb"/>
<path class=b d="M713.6 489.6l-6.6-22.5M695.6 475.6l6.6 20.8"/>
<path class=n d="M317 504.4l0 0-6.6-8.6 0 0z" fill="#a0abac"/>
<path class=n d="M305.6 498.8l11.4 5.6-6.6-8.6-11.4-3.1z" fill="#aca0a0"/>
<path d="M305.6 498.8l11.4 5.6M310.4 495.8l-11.4-3.1"/>
<path class=b d="M299 492.7l6.6 6.1"/>
<line x1="618.6" y1="499.5" x2="611.9" y2="491.0" stroke="#000" stroke-width="1.9"/>
<path d="M595.7 534.2l11.4-17.2-6.6-6.7-11.4 19z" fill="#dceaec"/>
<path class=b d="M607.1 517l-6.6-6.7M589.1 529.3l6.6 4.9"/>
<path class=n d="M199.1 509.7l11.4-4.9-6.6 7.3-11.4 6z" fill="#abb6b8"/>
<path d="M203.9 512.1l-11.4 6"/>
<path class=b d="M210.5 504.8l-6.6 7.3M192.5 518.1l6.6-8.4"/>
<path d="M489.2 620.7l11.4-9-6.6-7.2-11.5 9.1z" fill="#cefbff"/>
<path class=b d="M500.6 611.7l-6.6-7.2M482.5 613.6l6.7 7.1"/>
<path class=n d="M382.6 569.8l11.5 7.1-6.6-15.1-8.6-4.5 .5 5.6z" fill="#8aa9ac"/>
<path class=n d="M378.9 557.3l-2.9-1.5 3.4 7.1z" fill="#a1abac"/>
<path d="M382.6 569.8l11.5 7.1M387.5 561.8l-11.5-6"/>
<path class=b d="M394.1 576.9l-6.6-15.1M376 555.8l6.6 14"/>
<line x1="378.9" y1="557.3" x2="379.4" y2="562.9" stroke="#003c68" stroke-width="2.0" stroke-linecap="round"/>
<path d="M672.7 494.3l11.4-9.6-6.6-18.2-11.4 11.8z" fill="#eedede"/>
<path class=b d="M684.1 484.7l-6.6-18.2M666.1 478.3l6.6 16"/>
<path d="M276.1 487.2l11.4 2.6-6.6-3.5-11.4-.1z" fill="#afa3a3"/>
<path class=b d="M287.5 489.8l-6.6-3.5M269.5 486.2l6.6 1"/>
<path class=n d="M561.8 558l-2.2 3.7 3.2 1.5z" fill="#b9e3e8"/>
<path class=n d="M566.2 564.8l11.4-17.3-6.6-4.3-9.2 14.8 1 5.2z" fill="#d8e6e8"/>
<path d="M566.2 564.8l11.4-17.3M571 543.2l-11.4 18.5"/>
<path class=b d="M577.6 547.5l-6.6-4.3M559.6 561.7l6.6 3.1"/>
<line x1="561.8" y1="558.0" x2="562.8" y2="563.2" stroke="#003c68" stroke-width="2.0" stroke-linecap="round"/>
<path d="M169.6 528.9l11.4-5.2-6.6 8.6-11.4 5.4z" fill="#aab5b6"/>
<path class=b d="M181 523.7l-6.6 8.6M163 537.7l6.6-8.8"/>
<path d="M459.7 623.4l11.4-3.5-6.6-9.9-11.5 3.5z" fill="#bae4e8"/>
<path class=b d="M471.1 619.9l-6.6-9.9M453 613.5l6.7 9.9"/>
<path d="M353.1 540l11.5 8.4-6.6-13.8-11.5-6.7z" fill="#a5afb1"/>
<path class=b d="M364.6 548.4l-6.6-13.8M346.5 527.9l6.6 12.1"/>
<path d="M643.2 503.6l11.4-12.9-6.6-13.2-11.4 15.1z" fill="#faeaea"/>
<path class=b d="M654.6 490.7l-6.6-13.2M636.6 492.6l6.6 11"/>
<path d="M246.6 487.1l11.5-.7-6.7 1.7-11.4 2.8z" fill="#b4a8a8"/>
<path class=b d="M258.1 486.4l-6.7 1.7M240 490.9l6.6-3.8"/>
<path d="M536.7 594l11.4-15.2-6.6-3.8-11.4 16z" fill="#bae4e8"/>
<path class=b d="M548.1 578.8l-6.6-3.8M530.1 591l6.6 3"/>
<path d="M430.2 612.5l11.4 1.8-6.6-12.5-11.4-1.5z" fill="#95b7bb"/>
<path class=b d="M441.6 614.3l-6.6-12.5M423.6 600.3l6.6 12.2"/>
<path d="M720.2 512.6l11.5-5-6.6-24.4-11.5 6.4z" fill="#d0c2c2"/>
<path class=b d="M731.7 507.6l-6.6-24.4M713.6 489.6l6.6 23"/>
<path class=n d="M323.6 512.9l11.5 7.6-6.6-10.6-11.5-5.5z" fill="#a5b0b1"/>
<path d="M323.6 512.9l11.5 7.6M328.5 509.9l-11.5-5.5"/>
<path class=b d="M335.1 520.5l-6.6-10.6"/>
<line x1="222.0" y1="499.8" x2="233.4" y2="494.9" stroke="#000" stroke-width="1.9" stroke-dasharray="12.0 7.46" stroke-dashoffset="18.84"/>
<path class=n d="M613.7 523.4l11.5-15.4-6.6-8.5-11.5 17.5z" fill="#e1eff1"/>
<path d="M613.7 523.4l11.5-15.4M618.6 499.5l-11.5 17.5"/>
<path class=b d="M607.1 517l6.6 6.4"/>
<path class=n d="M217.1 497.5l11.5-3.5-6.6 5.8-11.5 5z" fill="#b6aaaa"/>
<path d="M217.1 497.5l11.5-3.5"/>
<path class=b d="M228.6 494l-6.6 5.8M210.5 504.8l6.6-7.3"/>
<path d="M507.2 616.2l11.4-11.4-6.6-4.8-11.4 11.7z" fill="#bfeaef"/>
<path class=b d="M518.6 604.8l-6.6-4.8M500.6 611.7l6.6 4.5"/>
<path d="M400.7 590.3l11.4 6.1-6.6-14.1-11.4-5.4z" fill="#88a7aa"/>
<path class=b d="M412.1 596.4l-6.6-14.1M394.1 576.9l6.6 13.4"/>
<path d="M690.8 503.4l11.4-7-6.6-20.8-11.5 9.1z" fill="#dfd0d0"/>
<path class=b d="M702.2 496.4l-6.6-20.8M684.1 484.7l6.7 18.7"/>
<path d="M294.2 493.6l11.4 5.2-6.6-6.1-11.5-2.9z" fill="#ada2a2"/>
<path class=b d="M305.6 498.8l-6.6-6.1M287.5 489.8l6.7 3.8"/>
<path d="M584.2 550.8l11.5-16.6-6.6-4.9-11.5 18.2z" fill="#dae8e9"/>
<path class=b d="M595.7 534.2l-6.6-4.9M577.6 547.5l6.6 3.3"/>
<path class=n d="M187.6 514.7l11.5-5-6.6 8.4-11.5 5.6z" fill="#aab5b6"/>
<path d="M192.5 518.1l-11.5 5.6"/>
<path class=b d="M199.1 509.7l-6.6 8.4M181 523.7l6.6-9"/>
<path d="M477.7 627l11.5-6.3-6.7-7.1-11.4 6.3z" fill="#c8f5f9"/>
<path class=b d="M489.2 620.7l-6.7-7.1M471.1 619.9l6.6 7.1"/>
<path class=n d="M380.4 568.1l2.2 1.7-3.2-6.9z" fill="#8eaeb1"/>
<path class=n d="M371.2 561.2l9.2 6.9-1-5.2-3.4-7.1-11.4-7.4z" fill="#a6b0b1"/>
<path d="M371.2 561.2l11.4 8.6M376 555.8l-11.4-7.4"/>
<path class=b d="M382.6 569.8l-6.6-14M364.6 548.4l6.6 12.8"/>
<line x1="380.4" y1="568.1" x2="379.4" y2="562.9" stroke="#003c68" stroke-width="2.0" stroke-linecap="round"/>
<path d="M661.3 504.4l11.4-10.1-6.6-16-11.5 12.4z" fill="#f9e9e9"/>
<path class=b d="M672.7 494.3l-6.6-16M654.6 490.7l6.7 13.7"/>
<path d="M264.7 485.2l11.4 2-6.6-1-11.4 .2z" fill="#aea2a2"/>
<path class=b d="M276.1 487.2l-6.6-1M258.1 486.4l6.6-1.2"/>
<path class=n d="M554.7 580.7l8.6-11.9-.5-5.6-3.2-1.5-11.5 17.1z" fill="#b8e1e6"/>
<path class=n d="M563.3 568.8l2.9-4-3.4-1.6z" fill="#d6e4e6"/>
<path d="M554.7 580.7l11.5-15.9M559.6 561.7l-11.5 17.1"/>
<path class=b d="M566.2 564.8l-6.6-3.1M548.1 578.8l6.6 1.9"/>
<line x1="563.3" y1="568.8" x2="562.8" y2="563.2" stroke="#003c68" stroke-width="2.0" stroke-linecap="round"/>
<path d="M448.2 624.2l11.5-.8-6.7-9.9-11.4 .8z" fill="#a3c7cb"/>
<path class=b d="M459.7 623.4l-6.7-9.9M441.6 614.3l6.6 9.9"/>
<path d="M341.7 530.9l11.4 9.1-6.6-12.1-11.4-7.4z" fill="#a8b3b4"/>
<path class=b d="M353.1 540l-6.6-12.1M335.1 520.5l6.6 10.4"/>
<path class=n d="M631.8 516.6l0 0-6.6-8.6 0 0z" fill="#e9f7f9"/>
<path class=n d="M631.8 516.6l11.4-13-6.6-11-11.4 15.4z" fill="#f9e9e9"/>
<path d="M631.8 516.6l11.4-13M636.6 492.6l-11.4 15.4"/>
<path class=b d="M643.2 503.6l-6.6-11"/>
<path d="M235.2 488.5l11.4-1.4-6.6 3.8-11.4 3.1z" fill="#b3a7a7"/>
<path class=b d="M246.6 487.1l-6.6 3.8M228.6 494l6.6-5.5"/>
<path d="M525.2 607.3l11.5-13.3-6.6-3-11.5 13.8z" fill="#b9e2e7"/>
<path class=b d="M536.7 594l-6.6-3M518.6 604.8l6.6 2.5"/>
<path d="M418.7 608.3l11.5 4.2-6.6-12.2-11.5-3.9z" fill="#8babae"/>
<path class=b d="M430.2 612.5l-6.6-12.2M412.1 596.4l6.6 11.9"/>
<path d="M708.8 517.5l11.4-4.9-6.6-23-11.4 6.8z" fill="#d4c5c5"/>
<path class=b d="M720.2 512.6l-6.6-23M702.2 496.4l6.6 21.1"/>
<path class=n d="M323.6 512.9l0 0-6.6-8.5 0 0z" fill="#a7b2b3"/>
<path class=n d="M312.2 505.3l11.4 7.6-6.6-8.5-11.4-5.6z" fill="#b3a7a7"/>
<path d="M312.2 505.3l11.4 7.6M317 504.4l-11.4-5.6"/>
<path class=b d="M305.6 498.8l6.6 6.5"/>
<line x1="625.2" y1="508.0" x2="618.6" y2="499.5" stroke="#000" stroke-width="1.9"/>
<line x1="210.5" y1="504.8" x2="222.0" y2="499.8" stroke="#000" stroke-width="1.9" stroke-dasharray="12.0 7.46" stroke-dashoffset="6.38"/>
<path d="M602.3 538.6l11.4-15.2-6.6-6.4-11.4 17.2z" fill="#ddebed"/>
<path class=b d="M613.7 523.4l-6.6-6.4M595.7 534.2l6.6 4.4"/>
<path class=n d="M205.7 501.3l11.4-3.8-6.6 7.3-11.4 4.9z" fill="#b5a9a9"/>
<path d="M205.7 501.3l11.4-3.8"/>
<path class=b d="M217.1 497.5l-6.6 7.3M199.1 509.7l6.6-8.4"/>
<path d="M495.8 625.1l11.4-8.9-6.6-4.5-11.4 9z" fill="#bee8ed"/>
<path class=b d="M507.2 616.2l-6.6-4.5M489.2 620.7l6.6 4.4"/>
<path d="M389.2 582.3l11.5 8-6.6-13.4-11.5-7.1z" fill="#8dadb1"/>
<path class=b d="M400.7 590.3l-6.6-13.4M382.6 569.8l6.6 12.5"/>
<path d="M679.3 510.8l11.5-7.4-6.7-18.7-11.4 9.6z" fill="#e8d9d9"/>
<path class=b d="M690.8 503.4l-6.7-18.7M672.7 494.3l6.6 16.5"/>
<path d="M282.7 488.8l11.5 4.8-6.7-3.8-11.4-2.6z" fill="#aea2a2"/>
<path class=b d="M294.2 493.6l-6.7-3.8M276.1 487.2l6.6 1.6"/>
<path d="M572.8 566.5l11.4-15.7-6.6-3.3-11.4 17.3z" fill="#d6e4e6"/>
<path class=b d="M584.2 550.8l-6.6-3.3M566.2 564.8l6.6 1.7"/>
<path class=n d="M176.2 519.6l11.4-4.9-6.6 9-11.4 5.2z" fill="#a9b4b5"/>
<path d="M181 523.7l-11.4 5.2"/>
<path class=b d="M187.6 514.7l-6.6 9M169.6 528.9l6.6-9.3"/>
<path d="M466.3 630.6l11.4-3.6-6.6-7.1-11.4 3.5z" fill="#b4dce1"/>
<path class=b d="M477.7 627l-6.6-7.1M459.7 623.4l6.6 7.2"/>
<path d="M359.7 551.4l11.5 9.8-6.6-12.8-11.5-8.4z" fill="#a9b4b5"/>
<path class=b d="M371.2 561.2l-6.6-12.8M353.1 540l6.6 11.4"/>
<path d="M649.8 514.7l11.5-10.3-6.7-13.7-11.4 12.9z" fill="#fff2f2"/>
<path class=b d="M661.3 504.4l-6.7-13.7M643.2 503.6l6.6 11.1"/>
<path d="M253.2 484l11.5 1.2-6.6 1.2-11.5 .7z" fill="#aea2a2"/>
<path class=b d="M264.7 485.2l-6.6 1.2M246.6 487.1l6.6-3.1"/>
<path d="M543.3 595l11.4-14.3-6.6-1.9-11.4 15.2z" fill="#b5dee3"/>
<path class=b d="M554.7 580.7l-6.6-1.9M536.7 594l6.6 1"/>
<path d="M436.8 622.3l11.4 1.9-6.6-9.9-11.4-1.8z" fill="#93b4b7"/>
<path class=b d="M448.2 624.2l-6.6-9.9M430.2 612.5l6.6 9.8"/>
<path class=n d="M330.3 521.4l11.4 9.5-6.6-10.4-11.5-7.6z" fill="#aab5b6"/>
<path d="M330.3 521.4l11.4 9.5M335.1 520.5l-11.5-7.6"/>
<path class=b d="M341.7 530.9l-6.6-10.4"/>
<path class=n d="M620.3 529.6l11.5-13-6.6-8.6-11.5 15.4z" fill="#e4f3f5"/>
<path d="M620.3 529.6l11.5-13M625.2 508l-11.5 15.4"/>
<path class=b d="M613.7 523.4l6.6 6.2"/>
<path d="M223.7 490.6l11.5-2.1-6.6 5.5-11.5 3.5z" fill="#b2a7a7"/>
<path class=b d="M235.2 488.5l-6.6 5.5M217.1 497.5l6.6-6.9"/>
<path d="M513.8 618.3l11.4-11-6.6-2.5-11.4 11.4z" fill="#b6dfe4"/>
<path class=b d="M525.2 607.3l-6.6-2.5M507.2 616.2l6.6 2.1"/>
<path d="M407.3 601.8l11.4 6.5-6.6-11.9-11.4-6.1z" fill="#8babae"/>
<path class=b d="M418.7 608.3l-6.6-11.9M400.7 590.3l6.6 11.5"/>
<path d="M697.4 522.4l11.4-4.9-6.6-21.1-11.4 7z" fill="#d8caca"/>
<path class=b d="M708.8 517.5l-6.6-21.1M690.8 503.4l6.6 19"/>
<path d="M300.8 497.9l11.4 7.4-6.6-6.5-11.4-5.2z" fill="#b4a8a8"/>
<path class=b d="M312.2 505.3l-6.6-6.5M294.2 493.6l6.6 4.3"/>
<line x1="199.1" y1="509.7" x2="210.5" y2="504.8" stroke="#000" stroke-width="1.9" stroke-dasharray="12.0 7.46" stroke-dashoffset="13.38"/>
<path d="M590.8 553.2l11.5-14.6-6.6-4.4-11.5 16.6z" fill="#d9e7e8"/>
<path class=b d="M602.3 538.6l-6.6-4.4M584.2 550.8l6.6 2.4"/>
<path class=n d="M194.2 505.6l11.5-4.3-6.6 8.4-11.5 5z" fill="#b4a8a8"/>
<path d="M194.2 505.6l11.5-4.3"/>
<path class=b d="M205.7 501.3l-6.6 8.4M187.6 514.7l6.6-9.1"/>
<path d="M484.3 631.4l11.5-6.3-6.6-4.4-11.5 6.3z" fill="#b7e0e4"/>
<path class=b d="M495.8 625.1l-6.6-4.4M477.7 627l6.6 4.4"/>
<path class=n d="M383.9 577.9l5.3 4.4-6.6-12.5-2.2-1.7z" fill="#91b2b5"/>
<path class=n d="M377.8 572.8l6.1 5.1-3.5-9.8-9.2-6.9z" fill="#a9b4b5"/>
<path d="M377.8 572.8l11.4 9.5M382.6 569.8l-11.4-8.6"/>
<path class=b d="M389.2 582.3l-6.6-12.5M371.2 561.2l6.6 11.6"/>
<line x1="383.9" y1="577.9" x2="380.4" y2="568.1" stroke="#003c68" stroke-width="2.0" stroke-linecap="round"/>
<path d="M667.9 518.3l11.4-7.5-6.6-16.5-11.4 10.1z" fill="#f6e6e6"/>
<path class=b d="M679.3 510.8l-6.6-16.5M661.3 504.4l6.6 13.9"/>
<path d="M271.3 484.8l11.4 4-6.6-1.6-11.4-2z" fill="#ada2a2"/>
<path class=b d="M282.7 488.8l-6.6-1.6M264.7 485.2l6.6-.4"/>
<path class=n d="M561.4 581l0 0 1.9-12.2-8.6 11.9z" fill="#b4dde2"/>
<path class=n d="M561.4 581l11.4-14.5-6.6-1.7-2.9 4z" fill="#d2e0e2"/>
<path d="M561.4 581l11.4-14.5M566.2 564.8l-11.5 15.9"/>
<path class=b d="M572.8 566.5l-6.6-1.7M554.7 580.7l6.7 .3"/>
<line x1="563.3" y1="568.8" x2="561.3" y2="581.0" stroke="#003c68" stroke-width="2.0" stroke-linecap="round"/>
<path d="M454.8 631.4l11.5-.8-6.6-7.2-11.5 .8z" fill="#9fc3c7"/>
<path class=b d="M466.3 630.6l-6.6-7.2M448.2 624.2l6.6 7.2"/>
<path d="M348.3 540.9l11.4 10.5-6.6-11.4-11.4-9.1z" fill="#acb7b8"/>
<path class=b d="M359.7 551.4l-6.6-11.4M341.7 530.9l6.6 10"/>
<path class=n d="M638.4 525.1l0 0-6.6-8.5 0 0z" fill="#f3ffff"/>
<path class=n d="M638.4 525.1l11.4-10.4-6.6-11.1-11.4 13z" fill="#fff3f3"/>
<path d="M638.4 525.1l11.4-10.4M643.2 503.6l-11.4 13"/>
<path class=b d="M649.8 514.7l-6.6-11.1"/>
<path d="M241.8 483.7l11.4 .3-6.6 3.1-11.4 1.4z" fill="#aea3a3"/>
<path class=b d="M253.2 484l-6.6 3.1M235.2 488.5l6.6-4.8"/>
<path d="M531.9 607.5l11.4-12.5-6.6-1-11.5 13.3z" fill="#b2dadf"/>
<path class=b d="M543.3 595l-6.6-1M525.2 607.3l6.7 .2"/>
<path d="M425.3 617.9l11.5 4.4-6.6-9.8-11.5-4.2z" fill="#89a8ab"/>
<path class=b d="M436.8 622.3l-6.6-9.8M418.7 608.3l6.6 9.6"/>
<path class=n d="M330.3 521.4l0 0-6.7-8.5 0 0z" fill="#acb7b8"/>
<path class=n d="M318.8 512l11.5 9.4-6.7-8.5-11.4-7.6z" fill="#b8acac"/>
<path d="M318.8 512l11.5 9.4M323.6 512.9l-11.4-7.6"/>
<path class=b d="M312.2 505.3l6.6 6.7"/>
<line x1="631.8" y1="516.6" x2="625.2" y2="508.0" stroke="#000" stroke-width="1.9"/>
<path d="M608.9 542.4l11.4-12.8-6.6-6.2-11.4 15.2z" fill="#deedee"/>
<path class=b d="M620.3 529.6l-6.6-6.2M602.3 538.6l6.6 3.8"/>
<path d="M212.3 493.4l11.4-2.8-6.6 6.9-11.4 3.8z" fill="#b3a7a7"/>
<path class=b d="M223.7 490.6l-6.6 6.9M205.7 501.3l6.6-7.9"/>
<path d="M502.4 626.9l11.4-8.6-6.6-2.1-11.4 8.9z" fill="#b2dade"/>
<path class=b d="M513.8 618.3l-6.6-2.1M495.8 625.1l6.6 1.8"/>
<path d="M395.8 593.3l11.5 8.5-6.6-11.5-11.5-8z" fill="#90b0b4"/>
<path class=b d="M407.3 601.8l-6.6-11.5M389.2 582.3l6.6 11"/>
<path d="M685.9 527.4l11.5-5-6.6-19-11.5 7.4z" fill="#dfd0d0"/>
<path class=b d="M697.4 522.4l-6.6-19M679.3 510.8l6.6 16.6"/>
<path d="M289.3 491.2l11.5 6.7-6.6-4.3-11.5-4.8z" fill="#b4a8a8"/>
<path class=b d="M300.8 497.9l-6.6-4.3M282.7 488.8l6.6 2.4"/>
<line x1="187.6" y1="514.7" x2="199.1" y2="509.7" stroke="#000" stroke-width="1.9" stroke-dasharray="12.0 7.46" stroke-dashoffset="0.92"/>
<path d="M579.4 567.1l11.4-13.9-6.6-2.4-11.4 15.7z" fill="#d4e1e3"/>
<path class=b d="M590.8 553.2l-6.6-2.4M572.8 566.5l6.6 .6"/>
<path class=n d="M182.8 510.3l11.4-4.7-6.6 9.1-11.4 4.9z" fill="#b4a8a8"/>
<path d="M182.8 510.3l11.4-4.7"/>
<path class=b d="M194.2 505.6l-6.6 9.1M176.2 519.6l6.6-9.3"/>
<path d="M472.9 635l11.4-3.6-6.6-4.4-11.4 3.6z" fill="#a9cfd3"/>
<path class=b d="M484.3 631.4l-6.6-4.4M466.3 630.6l6.6 4.4"/>
<path d="M366.4 562l11.4 10.8-6.6-11.6-11.5-9.8z" fill="#acb7b8"/>
<path class=b d="M377.8 572.8l-6.6-11.6M359.7 551.4l6.7 10.6"/>
<path d="M656.4 525.9l11.5-7.6-6.6-13.9-11.5 10.3z" fill="#fffbfb"/>
<path class=b d="M667.9 518.3l-6.6-13.9M649.8 514.7l6.6 11.2"/>
<path d="M259.8 481.8l11.5 3-6.6 .4-11.5-1.2z" fill="#aca0a0"/>
<path class=b d="M271.3 484.8l-6.6 .4M253.2 484l6.6-2.2"/>
<path d="M549.9 594.2l11.5-13.2-6.7-.3-11.4 14.3z" fill="#b1d8dd"/>
<path class=b d="M561.4 581l-6.7-.3M543.3 595l6.6-.8"/>
<line x1="561.3" y1="581.0" x2="561.3" y2="581.0" stroke="#003c68" stroke-width="2.0" stroke-linecap="round"/>
<path d="M443.4 629.6l11.4 1.8-6.6-7.2-11.4-1.9z" fill="#90b1b4"/>
<path class=b d="M454.8 631.4l-6.6-7.2M436.8 622.3l6.6 7.3"/>
<path class=n d="M336.9 530l11.4 10.9-6.6-10-11.4-9.5z" fill="#adb9ba"/>
<path d="M336.9 530l11.4 10.9M341.7 530.9l-11.4-9.5"/>
<path class=b d="M348.3 540.9l-6.6-10"/>
<path class=n d="M626.9 535.5l11.5-10.4-6.6-8.5-11.5 13z" fill="#e9f8fa"/>
<path d="M626.9 535.5l11.5-10.4M631.8 516.6l-11.5 13"/>
<path class=b d="M620.3 529.6l6.6 5.9"/>
<path d="M230.3 484.4l11.5-.7-6.6 4.8-11.5 2.1z" fill="#afa4a4"/>
<path class=b d="M241.8 483.7l-6.6 4.8M223.7 490.6l6.6-6.2"/>
<path d="M520.4 617.9l11.5-10.4-6.7-.2-11.4 11z" fill="#aed5da"/>
<path class=b d="M531.9 607.5l-6.7-.2M513.8 618.3l6.6-.4"/>
<path d="M413.9 611.3l11.4 6.6-6.6-9.6-11.4-6.5z" fill="#8eaeb1"/>
<path class=b d="M425.3 617.9l-6.6-9.6M407.3 601.8l6.6 9.5"/>
<path d="M307.4 502.9l11.4 9.1-6.6-6.7-11.4-7.4z" fill="#b8acac"/>
<path class=b d="M318.8 512l-6.6-6.7M300.8 497.9l6.6 5"/>
<path d="M597.4 554.8l11.5-12.4-6.6-3.8-11.5 14.6z" fill="#d7e5e7"/>
<path class=b d="M608.9 542.4l-6.6-3.8M590.8 553.2l6.6 1.6"/>
<path d="M200.9 497l11.4-3.6-6.6 7.9-11.5 4.3z" fill="#b3a7a7"/>
<path class=b d="M212.3 493.4l-6.6 7.9M194.2 505.6l6.7-8.6"/>
<path d="M490.9 633.1l11.5-6.2-6.6-1.8-11.5 6.3z" fill="#aad1d5"/>
<path class=b d="M502.4 626.9l-6.6-1.8M484.3 631.4l6.6 1.7"/>
<path class=n d="M388.9 587.1l6.9 6.2-6.6-11-5.3-4.4z" fill="#93b4b8"/>
<path class=n d="M384.4 583.2l4.5 3.9-5-9.2-6.1-5.1z" fill="#acb7b8"/>
<path d="M384.4 583.2l11.4 10.1M389.2 582.3l-11.4-9.5"/>
<path class=b d="M395.8 593.3l-6.6-11M377.8 572.8l6.6 10.4"/>
<line x1="388.9" y1="587.1" x2="383.9" y2="577.9" stroke="#003c68" stroke-width="2.0" stroke-linecap="round"/>
<path d="M674.5 532.3l11.4-4.9-6.6-16.6-11.4 7.5z" fill="#eadbdb"/>
<path class=b d="M685.9 527.4l-6.6-16.6M667.9 518.3l6.6 14"/>
<path d="M277.9 485.4l11.4 5.8-6.6-2.4-11.4-4z" fill="#b3a7a7"/>
<path class=b d="M289.3 491.2l-6.6-2.4M271.3 484.8l6.6 .6"/>
<line x1="176.2" y1="519.6" x2="187.6" y2="514.7" stroke="#000" stroke-width="1.9" stroke-dasharray="12.0 7.46" stroke-dashoffset="7.92"/>
<path class=n d="M561.4 581l0 0 0 0z" fill="#b1d8dd"/>
<path class=n d="M568 580l11.4-12.9-6.6-.6-11.4 14.5 0 0z" fill="#cedbdd"/>
<path d="M568 580l11.4-12.9M572.8 566.5l-11.4 14.5"/>
<path class=b d="M579.4 567.1l-6.6-.6M561.4 581l6.6-1"/>
<path d="M461.4 636l11.5-1-6.6-4.4-11.5 .8z" fill="#9abcc0"/>
<path class=b d="M472.9 635l-6.6-4.4M454.8 631.4l6.6 4.6"/>
<path d="M354.9 550.5l11.5 11.5-6.7-10.6-11.4-10.5z" fill="#aeb9bb"/>
<path class=b d="M366.4 562l-6.7-10.6M348.3 540.9l6.6 9.6"/>
<path class=n d="M645 533.6l0 0-6.6-8.5 0 0z" fill="#ffffff"/>
<path class=n d="M645 533.6l11.4-7.7-6.6-11.2-11.4 10.4z" fill="#ffffff"/>
<path d="M645 533.6l11.4-7.7M649.8 514.7l-11.4 10.4"/>
<path class=b d="M656.4 525.9l-6.6-11.2"/>
<path d="M248.4 479.9l11.4 1.9-6.6 2.2-11.4-.3z" fill="#aa9f9f"/>
<path class=b d="M259.8 481.8l-6.6 2.2M241.8 483.7l6.6-3.8"/>
<path d="M538.5 605.7l11.4-11.5-6.6 .8-11.4 12.5z" fill="#acd3d7"/>
<path class=b d="M549.9 594.2l-6.6 .8M531.9 607.5l6.6-1.8"/>
<path d="M432 625.3l11.4 4.3-6.6-7.3-11.5-4.4z" fill="#89a8ac"/>
<path class=b d="M443.4 629.6l-6.6-7.3M425.3 617.9l6.7 7.4"/>
<path class=n d="M336.9 530l0 0-6.6-8.6 0 0z" fill="#aebabb"/>
<path class=n d="M325.4 519.1l11.5 10.9-6.6-8.6-11.5-9.4z" fill="#bbaeae"/>
<path d="M325.4 519.1l11.5 10.9M330.3 521.4l-11.5-9.4"/>
<path class=b d="M318.8 512l6.6 7.1"/>
<line x1="638.4" y1="525.1" x2="631.8" y2="516.6" stroke="#000" stroke-width="1.9"/>
<path d="M615.5 545.8l11.4-10.3-6.6-5.9-11.4 12.8z" fill="#dfedef"/>
<path class=b d="M626.9 535.5l-6.6-5.9M608.9 542.4l6.6 3.4"/>
<path d="M218.9 486.2l11.4-1.8-6.6 6.2-11.4 2.8z" fill="#b1a5a5"/>
<path class=b d="M230.3 484.4l-6.6 6.2M212.3 493.4l6.6-7.2"/>
<path d="M509 626.3l11.4-8.4-6.6 .4-11.4 8.6z" fill="#a8ced3"/>
<path class=b d="M520.4 617.9l-6.6 .4M502.4 626.9l6.6-.6"/>
<path d="M402.5 602.7l11.4 8.6-6.6-9.5-11.5-8.5z" fill="#92b3b6"/>
<path class=b d="M413.9 611.3l-6.6-9.5M395.8 593.3l6.7 9.4"/>
<path d="M295.9 494.5l11.5 8.4-6.6-5-11.5-6.7z" fill="#b8acac"/>
<path class=b d="M307.4 502.9l-6.6-5M289.3 491.2l6.6 3.3"/>
<path d="M586 566.7l11.4-11.9-6.6-1.6-11.4 13.9z" fill="#d0dddf"/>
<path class=b d="M597.4 554.8l-6.6-1.6M579.4 567.1l6.6-.4"/>
<path d="M189.4 501.5l11.5-4.5-6.7 8.6-11.4 4.7z" fill="#b4a8a8"/>
<path class=b d="M200.9 497l-6.7 8.6M182.8 510.3l6.6-8.8"/>
<path d="M479.5 636.8l11.4-3.7-6.6-1.7-11.4 3.6z" fill="#a0c4c8"/>
<path class=b d="M490.9 633.1l-6.6-1.7M472.9 635l6.6 1.8"/>
<path d="M373 571.9l11.4 11.3-6.6-10.4-11.4-10.8z" fill="#aeb9bb"/>
<path class=b d="M384.4 583.2l-6.6-10.4M366.4 562l6.6 9.9"/>
<path d="M663 537.2l11.5-4.9-6.6-14-11.5 7.6z" fill="#fff0f0"/>
<path class=b d="M674.5 532.3l-6.6-14M656.4 525.9l6.6 11.3"/>
<path d="M266.4 480.7l11.5 4.7-6.6-.6-11.5-3z" fill="#b0a5a5"/>
<path class=b d="M277.9 485.4l-6.6-.6M259.8 481.8l6.6-1.1"/>
<line x1="266.5" y1="480.7" x2="266.4" y2="480.7" stroke="#960000" stroke-width="2.0" stroke-linecap="round"/>
<path class=n d="M561.4 581l0 0-11.5 13.2 4.9-1.9z" fill="#abd2d6"/>
<path class=n d="M556.5 591.7l11.5-11.7-6.6 1-6.6 11.3z" fill="#c8d5d6"/>
<path d="M556.5 591.7l11.5-11.7M561.4 581l-11.5 13.2"/>
<path class=b d="M568 580l-6.6 1M549.9 594.2l6.6-2.5"/>
<line x1="561.3" y1="581.0" x2="554.8" y2="592.3" stroke="#003c68" stroke-width="2.0" stroke-linecap="round"/>
<path d="M450 634.4l11.4 1.6-6.6-4.6-11.4-1.8z" fill="#8eaeb1"/>
<path class=b d="M461.4 636l-6.6-4.6M443.4 629.6l6.6 4.8"/>
<path class=n d="M343.5 538.5l11.4 12-6.6-9.6-11.4-10.9z" fill="#b0bbbc"/>
<path d="M343.5 538.5l11.4 12M348.3 540.9l-11.4-10.9"/>
<path class=b d="M354.9 550.5l-6.6-9.6"/>
<path class=n d="M633.6 541.4l11.4-7.8-6.6-8.5-11.5 10.4z" fill="#effeff"/>
<path d="M633.6 541.4l11.4-7.8M638.4 525.1l-11.5 10.4"/>
<path class=b d="M626.9 535.5l6.7 5.9"/>
<path class=n d="M242.6 479.6l5.8 .3-6.6 3.8-11.5 .7 5.3-4z" fill="#aca1a1"/>
<path class=n d="M237 479.4l5.6 .2-7 .8z" fill="#ac8a8a"/>
<path d="M237 479.4l11.4 .5M241.8 483.7l-11.5 .7"/>
<path class=b d="M248.4 479.9l-6.6 3.8M230.3 484.4l6.7-5"/>
<line x1="242.6" y1="479.6" x2="235.6" y2="480.4" stroke="#960000" stroke-width="2.0" stroke-linecap="round"/>
<path d="M527 615.5l11.5-9.8-6.6 1.8-11.5 10.4z" fill="#a7cdd1"/>
<path class=b d="M538.5 605.7l-6.6 1.8M520.4 617.9l6.6-2.4"/>
<path d="M420.5 618.8l11.5 6.5-6.7-7.4-11.4-6.6z" fill="#8fb0b3"/>
<path class=b d="M432 625.3l-6.7-7.4M413.9 611.3l6.6 7.5"/>
<path d="M314 508.5l11.4 10.6-6.6-7.1-11.4-9.1z" fill="#bbafaf"/>
<path class=b d="M325.4 519.1l-6.6-7.1M307.4 502.9l6.6 5.6"/>
<path d="M604.1 555.9l11.4-10.1-6.6-3.4-11.5 12.4z" fill="#d5e2e4"/>
<path class=b d="M615.5 545.8l-6.6-3.4M597.4 554.8l6.7 1.1"/>
<path d="M207.5 489.3l11.4-3.1-6.6 7.2-11.4 3.6z" fill="#b3a7a7"/>
<path class=b d="M218.9 486.2l-6.6 7.2M200.9 497l6.6-7.7"/>
<path d="M497.5 632.3l11.5-6-6.6 .6-11.5 6.2z" fill="#a2c6ca"/>
<path class=b d="M509 626.3l-6.6 .6M490.9 633.1l6.6-.8"/>
<path class=n d="M395 595.9l7.5 6.8-6.7-9.4-6.9-6.2z" fill="#95b6ba"/>
<path class=n d="M391 592.4l4 3.5-6.1-8.8-4.5-3.9z" fill="#adb9ba"/>
<path d="M391 592.4l11.5 10.3M395.8 593.3l-11.4-10.1"/>
<path class=b d="M402.5 602.7l-6.7-9.4M384.4 583.2l6.6 9.2"/>
<line x1="395.0" y1="595.9" x2="388.9" y2="587.1" stroke="#003c68" stroke-width="2.0" stroke-linecap="round"/>
<path d="M284.5 487.1l11.4 7.4-6.6-3.3-11.4-5.8z" fill="#b6aaaa"/>
<path class=b d="M295.9 494.5l-6.6-3.3M277.9 485.4l6.6 1.7"/>
<path d="M574.6 577.8l11.4-11.1-6.6 .4-11.4 12.9z" fill="#c9d6d7"/>
<path class=b d="M586 566.7l-6.6 .4M568 580l6.6-2.2"/>
<path d="M468 638l11.5-1.2-6.6-1.8-11.5 1z" fill="#95b7bb"/>
<path class=b d="M479.5 636.8l-6.6-1.8M461.4 636l6.6 2"/>
<path d="M361.5 559.7l11.5 12.2-6.6-9.9-11.5-11.5z" fill="#b0bbbc"/>
<path class=b d="M373 571.9l-6.6-9.9M354.9 550.5l6.6 9.2"/>
<path class=n d="M651.6 542.2l0 0-6.6-8.6 0 0z" fill="#ffffff"/>
<path class=n d="M651.6 542.2l11.4-5-6.6-11.3-11.4 7.7z" fill="#ffffff"/>
<path d="M651.6 542.2l11.4-5M656.4 525.9l-11.4 7.7"/>
<path class=b d="M663 537.2l-6.6-11.3"/>
<path class=n d="M266.4 480.7l0 0-6.6 1.1-11.4-1.9 1.7-.6z" fill="#aea2a2"/>
<path class=n d="M255 477.5l11.4 3.2-16.3-1.4z" fill="#ae8b8b"/>
<path d="M255 477.5l11.4 3.2M259.8 481.8l-11.4-1.9"/>
<path class=b d="M266.4 480.7l-6.6 1.1M248.4 479.9l6.6-2.4"/>
<line x1="266.4" y1="480.7" x2="250.1" y2="479.3" stroke="#960000" stroke-width="2.0" stroke-linecap="round"/>
<path class=n d="M545.1 602.1l5.6-5.1 4.1-4.7-4.9 1.9-11.4 11.5z" fill="#a6ccd0"/>
<path class=n d="M550.7 597l5.8-5.3-1.7 .6z" fill="#c2ced0"/>
<path d="M545.1 602.1l11.4-10.4M549.9 594.2l-11.4 11.5"/>
<path class=b d="M556.5 591.7l-6.6 2.5M538.5 605.7l6.6-3.6"/>
<line x1="550.7" y1="597.0" x2="554.8" y2="592.3" stroke="#003c68" stroke-width="2.0" stroke-linecap="round"/>
<path d="M438.6 630.5l11.4 3.9-6.6-4.8-11.4-4.3z" fill="#8baaad"/>
<path class=b d="M450 634.4l-6.6-4.8M432 625.3l6.6 5.2"/>
<path class=n d="M343.5 538.5l0 0-6.6-8.5 0 0z" fill="#b0bcbd"/>
<path class=n d="M332 526.5l11.5 12-6.6-8.5-11.5-10.9z" fill="#bdb0b0"/>
<path d="M332 526.5l11.5 12M336.9 530l-11.5-10.9"/>
<path class=b d="M325.4 519.1l6.6 7.4"/>
<line x1="645.0" y1="533.6" x2="638.4" y2="525.1" stroke="#000" stroke-width="1.9"/>
<path d="M622.1 549l11.5-7.6-6.7-5.9-11.4 10.3z" fill="#ddebed"/>
<path class=b d="M633.6 541.4l-6.7-5.9M615.5 545.8l6.6 3.2"/>
<path class=n d="M235.6 480.4l-5.3 4-11.4 1.8 3.6-3.1z" fill="#afa4a4"/>
<path class=n d="M225.5 480.3l11.5-.9-1.4 1-13.1 2.7z" fill="#af8c8c"/>
<path d="M225.5 480.3l11.5-.9M230.3 484.4l-11.4 1.8"/>
<path class=b d="M237 479.4l-6.7 5M218.9 486.2l6.6-5.9"/>
<line x1="235.6" y1="480.4" x2="222.5" y2="483.1" stroke="#960000" stroke-width="2.0" stroke-linecap="round"/>
<path d="M515.6 623.3l11.4-7.8-6.6 2.4-11.4 8.4z" fill="#a1c6ca"/>
<path class=b d="M527 615.5l-6.6 2.4M509 626.3l6.6-3"/>
<path d="M409.1 610.4l11.4 8.4-6.6-7.5-11.4-8.6z" fill="#93b4b8"/>
<path class=b d="M420.5 618.8l-6.6-7.5M402.5 602.7l6.6 7.7"/>
<path d="M302.5 498.8l11.5 9.7-6.6-5.6-11.5-8.4z" fill="#bbaeae"/>
<path class=b d="M314 508.5l-6.6-5.6M295.9 494.5l6.6 4.3"/>
<path d="M592.6 565.5l11.5-9.6-6.7-1.1-11.4 11.9z" fill="#cbd8da"/>
<path class=b d="M604.1 555.9l-6.7-1.1M586 566.7l6.6-1.2"/>
<path d="M196 493.6l11.5-4.3-6.6 7.7-11.5 4.5z" fill="#b5a9a9"/>
<path class=b d="M207.5 489.3l-6.6 7.7M189.4 501.5l6.6-7.9"/>
<path d="M486.1 636.1l11.4-3.8-6.6 .8-11.4 3.7z" fill="#9abcc0"/>
<path class=b d="M497.5 632.3l-6.6 .8M479.5 636.8l6.6-.7"/>
<path d="M379.6 580.8l11.4 11.6-6.6-9.2-11.4-11.3z" fill="#b0bbbc"/>
<path class=b d="M391 592.4l-6.6-9.2M373 571.9l6.6 8.9"/>
<path class=n d="M281.6 485.6l2.9 1.5-6.6-1.7-11.5-4.7 0 0z" fill="#b4a8a8"/>
<path class=n d="M273.1 481.1l8.5 4.5-15.2-4.9z" fill="#b49090"/>
<path d="M273.1 481.1l11.4 6M277.9 485.4l-11.5-4.7"/>
<path class=b d="M284.5 487.1l-6.6-1.7M266.4 480.7l6.7 .4"/>
<line x1="281.6" y1="485.6" x2="266.5" y2="480.7" stroke="#960000" stroke-width="2.0" stroke-linecap="round"/>
<path d="M563.1 588l11.5-10.2-6.6 2.2-11.5 11.7z" fill="#c2ced0"/>
<path class=b d="M574.6 577.8l-6.6 2.2M556.5 591.7l6.6-3.7"/>
<path d="M456.6 636.9l11.4 1.1-6.6-2-11.4-1.6z" fill="#8cacaf"/>
<path class=b d="M468 638l-6.6-2M450 634.4l6.6 2.5"/>
<path class=n d="M350.1 547l11.4 12.7-6.6-9.2-11.4-12z" fill="#b1bcbe"/>
<path d="M350.1 547l11.4 12.7M354.9 550.5l-11.4-12"/>
<path class=b d="M361.5 559.7l-6.6-9.2"/>
<path class=n d="M640.2 547.1l11.4-4.9-6.6-8.6-11.4 7.8z" fill="#e9f8f9"/>
<path d="M640.2 547.1l11.4-4.9M645 533.6l-11.4 7.8"/>
<path class=b d="M633.6 541.4l6.6 5.7"/>
<path class=n d="M250.1 479.3l-1.7 .6-5.8-.3z" fill="#aa9f9f"/>
<path class=n d="M243.6 475.8l11.4 1.7-4.9 1.8-7.5 .3-5.6-.2z" fill="#aa8888"/>
<path d="M243.6 475.8l11.4 1.7M248.4 479.9l-11.4-.5"/>
<path class=b d="M255 477.5l-6.6 2.4M237 479.4l6.6-3.6"/>
<line x1="250.1" y1="479.3" x2="242.6" y2="479.6" stroke="#960000" stroke-width="2.0" stroke-linecap="round"/>
<path d="M533.6 611.1l11.5-9-6.6 3.6-11.5 9.8z" fill="#a1c6c9"/>
<path class=b d="M545.1 602.1l-6.6 3.6M527 615.5l6.6-4.4"/>
<path d="M427.1 624.4l11.5 6.1-6.6-5.2-11.5-6.5z" fill="#90b0b4"/>
<path class=b d="M438.6 630.5l-6.6-5.2M420.5 618.8l6.6 5.6"/>
<line x1="343.5" y1="538.5" x2="339.1" y2="532.8" stroke="#000" stroke-width="1.9"/>
<path d="M320.6 515l11.4 11.5-6.6-7.4-11.4-10.6z" fill="#bdb0b0"/>
<path class=b d="M332 526.5l-6.6-7.4M314 508.5l6.6 6.5"/>
<path d="M610.7 556.5l11.4-7.5-6.6-3.2-11.4 10.1z" fill="#cfddde"/>
<path class=b d="M622.1 549l-6.6-3.2M604.1 555.9l6.6 .6"/>
<path class=n d="M222.5 483.1l-3.6 3.1-11.4 3.1 2.6-2.5z" fill="#b2a7a7"/>
<path class=n d="M214.1 482.8l11.4-2.5-3 2.8-12.4 3.7z" fill="#b28f8f"/>
<path d="M214.1 482.8l11.4-2.5M218.9 486.2l-11.4 3.1"/>
<path class=b d="M225.5 480.3l-6.6 5.9M207.5 489.3l6.6-6.5"/>
<line x1="222.5" y1="483.1" x2="210.1" y2="486.8" stroke="#960000" stroke-width="2.0" stroke-linecap="round"/>
<path d="M504.2 629.3l11.4-6-6.6 3-11.5 6z" fill="#9cbfc3"/>
<path class=b d="M515.6 623.3l-6.6 3M497.5 632.3l6.7-3"/>
<path class=n d="M402.1 604.2l7 6.2-6.6-7.7-7.5-6.8z" fill="#96b7bb"/>
<path class=n d="M397.6 600.3l4.5 3.9-7.1-8.3-4-3.5z" fill="#aebabb"/>
<path d="M397.6 600.3l11.5 10.1M402.5 602.7l-11.5-10.3"/>
<path class=b d="M409.1 610.4l-6.6-7.7M391 592.4l6.6 7.9"/>
<line x1="402.1" y1="604.2" x2="395.0" y2="595.9" stroke="#003c68" stroke-width="2.0" stroke-linecap="round"/>
<path class=n d="M293.4 491.9l9.1 6.9-6.6-4.3-11.4-7.4 3.4 1.6z" fill="#b9adad"/>
<path class=n d="M291.1 490.2l2.3 1.7-5.5-3.2z" fill="#b99494"/>
<path d="M291.1 490.2l11.4 8.6M295.9 494.5l-11.4-7.4"/>
<path class=b d="M302.5 498.8l-6.6-4.3M284.5 487.1l6.6 3.1"/>
<line x1="293.4" y1="491.9" x2="287.9" y2="488.7" stroke="#960000" stroke-width="2.0" stroke-linecap="round"/>
<path d="M581.2 574.6l11.4-9.1-6.6 1.2-11.4 11.1z" fill="#c3cfd1"/>
<path class=b d="M592.6 565.5l-6.6 1.2M574.6 577.8l6.6-3.2"/>
<path d="M474.7 637.7l11.4-1.6-6.6 .7-11.5 1.2z" fill="#92b3b7"/>
<path class=b d="M486.1 636.1l-6.6 .7M468 638l6.7-.3"/>
<path d="M368.1 568.4l11.5 12.4-6.6-8.9-11.5-12.2z" fill="#b1bcbe"/>
<path class=b d="M379.6 580.8l-6.6-8.9M361.5 559.7l6.6 8.7"/>
<path class=n d="M266.4 480.7l0 0 0 0z" fill="#b0a5a5"/>
<path class=n d="M261.6 476.6l11.5 4.5-6.7-.4 0 0-11.4-3.2z" fill="#b08d8d"/>
<path d="M261.6 476.6l11.5 4.5M266.4 480.7l-11.4-3.2"/>
<path class=b d="M273.1 481.1l-6.7-.4M255 477.5l6.6-.9"/>
<path class=n d="M550.7 597l-5.6 5.1 1.3-1z" fill="#a1c5c9"/>
<path class=n d="M551.7 597.1l11.4-9.1-6.6 3.7-5.8 5.3-4.3 4.1z" fill="#bcc8c9"/>
<path d="M551.7 597.1l11.4-9.1M556.5 591.7l-11.4 10.4"/>
<path class=b d="M563.1 588l-6.6 3.7M545.1 602.1l6.6-5"/>
<line x1="550.7" y1="597.0" x2="546.4" y2="601.1" stroke="#003c68" stroke-width="2.0" stroke-linecap="round"/>
<path d="M445.2 633.5l11.4 3.4-6.6-2.5-11.4-3.9z" fill="#8baaae"/>
<path class=b d="M456.6 636.9l-6.6-2.5M438.6 630.5l6.6 3"/>
<path class=n d="M350.1 547l0 0-6.6-8.5 0 0z" fill="#b1bdbe"/>
<path class=n d="M338.7 534.4l11.4 12.6-6.6-8.5-11.5-12z" fill="#beb1b1"/>
<path d="M338.7 534.4l11.4 12.6M343.5 538.5l-11.5-12"/>
<path class=b d="M332 526.5l6.7 7.9"/>
<line x1="648.3" y1="537.9" x2="645.0" y2="533.6" stroke="#000" stroke-width="1.9"/>
<path d="M628.7 552l11.5-4.9-6.6-5.7-11.5 7.6z" fill="#d5e3e4"/>
<path class=b d="M640.2 547.1l-6.6-5.7M622.1 549l6.6 3"/>
<path d="M232.1 475.9l11.5-.1-6.6 3.6-11.5 .9z" fill="#ae8b8b"/>
<path class=b d="M243.6 475.8l-6.6 3.6M225.5 480.3l6.6-4.4"/>
<path d="M522.2 618.5l11.4-7.4-6.6 4.4-11.4 7.8z" fill="#9cc0c3"/>
<path class=b d="M533.6 611.1l-6.6 4.4M515.6 623.3l6.6-4.8"/>
<path d="M415.7 616.5l11.4 7.9-6.6-5.6-11.4-8.4z" fill="#93b5b8"/>
<path class=b d="M427.1 624.4l-6.6-5.6M409.1 610.4l6.6 6.1"/>
<path d="M309.2 504.2l11.4 10.8-6.6-6.5-11.5-9.7z" fill="#bcb0b0"/>
<path class=b d="M320.6 515l-6.6-6.5M302.5 498.8l6.7 5.4"/>
<path d="M599.2 563.8l11.5-7.3-6.6-.6-11.5 9.6z" fill="#c5d1d3"/>
<path class=b d="M610.7 556.5l-6.6-.6M592.6 565.5l6.6-1.7"/>
<path class=n d="M210.1 486.8l-2.6 2.5-11.5 4.3 2.3-2.3z" fill="#b6aaaa"/>
<path class=n d="M202.6 486.9l11.5-4.1-4 4-11.8 4.5z" fill="#b69292"/>
<path d="M202.6 486.9l11.5-4.1M207.5 489.3l-11.5 4.3"/>
<path class=b d="M214.1 482.8l-6.6 6.5M196 493.6l6.6-6.7"/>
<line x1="210.1" y1="486.8" x2="198.3" y2="491.3" stroke="#960000" stroke-width="2.0" stroke-linecap="round"/>
<path d="M492.7 633.2l11.5-3.9-6.7 3-11.4 3.8z" fill="#96b8bb"/>
<path class=b d="M504.2 629.3l-6.7 3M486.1 636.1l6.6-2.9"/>
<path d="M386.2 588.9l11.4 11.4-6.6-7.9-11.4-11.6z" fill="#b0bcbd"/>
<path class=b d="M397.6 600.3l-6.6-7.9M379.6 580.8l6.6 8.1"/>
<path class=n d="M287.9 488.7l-3.4-1.6-2.9-1.5z" fill="#b6aaaa"/>
<path class=n d="M279.7 483l11.4 7.2-3.2-1.5-6.3-3.1-8.5-4.5z" fill="#b69292"/>
<path d="M279.7 483l11.4 7.2M284.5 487.1l-11.4-6"/>
<path class=b d="M291.1 490.2l-6.6-3.1M273.1 481.1l6.6 1.9"/>
<line x1="287.9" y1="488.7" x2="281.6" y2="485.6" stroke="#960000" stroke-width="2.0" stroke-linecap="round"/>
<path d="M569.7 583.2l11.5-8.6-6.6 3.2-11.5 10.2z" fill="#bcc8c9"/>
<path class=b d="M581.2 574.6l-6.6 3.2M563.1 588l6.6-4.8"/>
<path d="M463.2 637.1l11.5 .6-6.7 .3-11.4-1.1z" fill="#8babae"/>
<path class=b d="M474.7 637.7l-6.7 .3M456.6 636.9l6.6 .2"/>
<path class=n d="M356.7 555.6l11.4 12.8-6.6-8.7-11.4-12.7z" fill="#b2bdbe"/>
<path d="M356.7 555.6l11.4 12.8M361.5 559.7l-11.4-12.7"/>
<path class=b d="M368.1 568.4l-6.6-8.7"/>
<path d="M250.2 474l11.4 2.6-6.6 .9-11.4-1.7z" fill="#ac8989"/>
<path class=b d="M261.6 476.6l-6.6 .9M243.6 475.8l6.6-1.8"/>
<path class=n d="M546.4 601.1l-1.3 1-11.5 9 3.1-2.8z" fill="#9cc0c4"/>
<path class=n d="M540.2 605.2l11.5-8.1-5.3 4-9.7 7.2z" fill="#b7c2c4"/>
<path d="M540.2 605.2l11.5-8.1M545.1 602.1l-11.5 9"/>
<path class=b d="M551.7 597.1l-6.6 5M533.6 611.1l6.6-5.9"/>
<line x1="546.4" y1="601.1" x2="536.7" y2="608.3" stroke="#003c68" stroke-width="2.0" stroke-linecap="round"/>
<path d="M433.7 628.1l11.5 5.4-6.6-3-11.5-6.1z" fill="#90b0b4"/>
<path class=b d="M445.2 633.5l-6.6-3M427.1 624.4l6.6 3.7"/>
<path d="M327.2 522.2l11.5 12.2-6.7-7.9-11.4-11.5z" fill="#beb1b1"/>
<path class=b d="M338.7 534.4l-6.7-7.9M320.6 515l6.6 7.2"/>
<path d="M617.3 557l11.4-5-6.6-3-11.4 7.5z" fill="#c7d3d5"/>
<path class=b d="M628.7 552l-6.6-3M610.7 556.5l6.6 .5"/>
<path d="M220.7 477.9l11.4-2-6.6 4.4-11.4 2.5z" fill="#b38f8f"/>
<path class=b d="M232.1 475.9l-6.6 4.4M214.1 482.8l6.6-4.9"/>
<path d="M510.8 624.2l11.4-5.7-6.6 4.8-11.4 6z" fill="#98babe"/>
<path class=b d="M522.2 618.5l-6.6 4.8M504.2 629.3l6.6-5.1"/>
<path class=n d="M410.4 612l5.3 4.5-6.6-6.1-7-6.2z" fill="#96b8bb"/>
<path class=n d="M404.2 606.9l6.2 5.1-8.3-7.8-4.5-3.9z" fill="#afbabb"/>
<path d="M404.2 606.9l11.5 9.6M409.1 610.4l-11.5-10.1"/>
<path class=b d="M415.7 616.5l-6.6-6.1M397.6 600.3l6.6 6.6"/>
<line x1="410.4" y1="612.0" x2="402.1" y2="604.2" stroke="#003c68" stroke-width="2.0" stroke-linecap="round"/>
<path class=n d="M303 499.1l6.2 5.1-6.7-5.4-9.1-6.9z" fill="#bbaeae"/>
<path class=n d="M297.7 494.7l5.3 4.4-9.6-7.2-2.3-1.7z" fill="#bb9595"/>
<path d="M297.7 494.7l11.5 9.5M302.5 498.8l-11.4-8.6"/>
<path class=b d="M309.2 504.2l-6.7-5.4M291.1 490.2l6.6 4.5"/>
<line x1="303.0" y1="499.1" x2="293.4" y2="491.9" stroke="#960000" stroke-width="2.0" stroke-linecap="round"/>
<path d="M587.8 570.9l11.4-7.1-6.6 1.7-11.4 9.1z" fill="#bcc9ca"/>
<path class=b d="M599.2 563.8l-6.6 1.7M581.2 574.6l6.6-3.7"/>
<path d="M481.3 635.2l11.4-2-6.6 2.9-11.4 1.6z" fill="#90b1b4"/>
<path class=b d="M492.7 633.2l-6.6 2.9M474.7 637.7l6.6-2.5"/>
<path d="M374.8 576.7l11.4 12.2-6.6-8.1-11.5-12.4z" fill="#b1bdbe"/>
<path class=b d="M386.2 588.9l-6.6-8.1M368.1 568.4l6.7 8.3"/>
<path d="M268.2 477.6l11.5 5.4-6.6-1.9-11.5-4.5z" fill="#b38f8f"/>
<path class=b d="M279.7 483l-6.6-1.9M261.6 476.6l6.6 1"/>
<path d="M558.3 591l11.4-7.8-6.6 4.8-11.4 9.1z" fill="#b7c2c4"/>
<path class=b d="M569.7 583.2l-6.6 4.8M551.7 597.1l6.6-6.1"/>
<path d="M451.8 634.5l11.4 2.6-6.6-.2-11.4-3.4z" fill="#8baaad"/>
<path class=b d="M463.2 637.1l-6.6-.2M445.2 633.5l6.6 1"/>
<path class=n d="M356.7 555.6l0 0-6.6-8.6 0 0z" fill="#b2bdbe"/>
<path class=n d="M345.3 542.7l11.4 12.9-6.6-8.6-11.4-12.6z" fill="#beb2b2"/>
<path d="M345.3 542.7l11.4 12.9M350.1 547l-11.4-12.6"/>
<path class=b d="M338.7 534.4l6.6 8.3"/>
<path d="M238.7 473.5l11.5 .5-6.6 1.8-11.5 .1z" fill="#ae8b8b"/>
<path class=b d="M250.2 474l-6.6 1.8M232.1 475.9l6.6-2.4"/>
<path class=n d="M536.7 608.3l-3.1 2.8-11.4 7.4 4-4z" fill="#98bbbf"/>
<path class=n d="M528.8 612l11.4-6.8-3.5 3.1-10.5 6.2z" fill="#b2bdbf"/>
<path d="M528.8 612l11.4-6.8M533.6 611.1l-11.4 7.4"/>
<path class=b d="M540.2 605.2l-6.6 5.9M522.2 618.5l6.6-6.5"/>
<line x1="536.7" y1="608.3" x2="526.2" y2="614.5" stroke="#003c68" stroke-width="2.0" stroke-linecap="round"/>
<path d="M422.3 621l11.4 7.1-6.6-3.7-11.4-7.9z" fill="#93b4b8"/>
<path class=b d="M433.7 628.1l-6.6-3.7M415.7 616.5l6.6 4.5"/>
<path d="M315.8 510.9l11.4 11.3-6.6-7.2-11.4-10.8z" fill="#bdb0b0"/>
<path class=b d="M327.2 522.2l-6.6-7.2M309.2 504.2l6.6 6.7"/>
<path d="M605.8 561.9l11.5-4.9-6.6-.5-11.5 7.3z" fill="#bcc9ca"/>
<path class=b d="M617.3 557l-6.6-.5M599.2 563.8l6.6-1.9"/>
<path d="M209.2 481.9l11.5-4-6.6 4.9-11.5 4.1z" fill="#b89393"/>
<path class=b d="M220.7 477.9l-6.6 4.9M202.6 486.9l6.6-5"/>
<path d="M499.3 628.4l11.5-4.2-6.6 5.1-11.5 3.9z" fill="#93b4b8"/>
<path class=b d="M510.8 624.2l-6.6 5.1M492.7 633.2l6.6-4.8"/>
<path d="M392.8 596.2l11.4 10.7-6.6-6.6-11.4-11.4z" fill="#b0bcbd"/>
<path class=b d="M404.2 606.9l-6.6-6.6M386.2 588.9l6.6 7.3"/>
<path d="M286.3 486.7l11.4 8-6.6-4.5-11.4-7.2z" fill="#b89393"/>
<path class=b d="M297.7 494.7l-6.6-4.5M279.7 483l6.6 3.7"/>
<path d="M576.4 577.7l11.4-6.8-6.6 3.7-11.5 8.6z" fill="#b6c2c3"/>
<path class=b d="M587.8 570.9l-6.6 3.7M569.7 583.2l6.7-5.5"/>
<path d="M469.8 635.3l11.5-.1-6.6 2.5-11.5-.6z" fill="#8baaae"/>
<path class=b d="M481.3 635.2l-6.6 2.5M463.2 637.1l6.6-1.8"/>
<path class=n d="M363.3 564.1l11.5 12.6-6.7-8.3-11.4-12.8z" fill="#b2bdbe"/>
<path d="M363.3 564.1l11.5 12.6M368.1 568.4l-11.4-12.8"/>
<path class=b d="M374.8 576.7l-6.7-8.3"/>
<path d="M256.8 474.3l11.4 3.3-6.6-1-11.4-2.6z" fill="#ad8b8b"/>
<path class=b d="M268.2 477.6l-6.6-1M250.2 474l6.6 .3"/>
<path d="M546.9 598l11.4-7-6.6 6.1-11.5 8.1z" fill="#b2bebf"/>
<path class=b d="M558.3 591l-6.6 6.1M540.2 605.2l6.7-7.2"/>
<path d="M440.3 630.1l11.5 4.4-6.6-1-11.5-5.4z" fill="#8fafb3"/>
<path class=b d="M451.8 634.5l-6.6-1M433.7 628.1l6.6 2"/>
<line x1="356.7" y1="555.6" x2="352.3" y2="549.9" stroke="#000" stroke-width="1.9"/>
<path d="M333.8 530.3l11.5 12.4-6.6-8.3-11.5-12.2z" fill="#beb1b1"/>
<path class=b d="M345.3 542.7l-6.6-8.3M327.2 522.2l6.6 8.1"/>
<path d="M227.3 475l11.4-1.5-6.6 2.4-11.4 2z" fill="#b49090"/>
<path class=b d="M238.7 473.5l-6.6 2.4M220.7 477.9l6.6-2.9"/>
<path class=n d="M526.2 614.5l-4 4-11.4 5.7 4.3-4.3z" fill="#95b6ba"/>
<path class=n d="M517.4 617.6l11.4-5.6-2.6 2.5-11.1 5.4z" fill="#aeb9ba"/>
<path d="M517.4 617.6l11.4-5.6M522.2 618.5l-11.4 5.7"/>
<path class=b d="M528.8 612l-6.6 6.5M510.8 624.2l6.6-6.6"/>
<line x1="526.2" y1="614.5" x2="515.1" y2="619.9" stroke="#003c68" stroke-width="2.0" stroke-linecap="round"/>
<path class=n d="M420 619.3l2.3 1.7-6.6-4.5-5.3-4.5z" fill="#95b7bb"/>
<path class=n d="M410.8 612.4l9.2 6.9-9.6-7.3-6.2-5.1z" fill="#aeb9bb"/>
<path d="M410.8 612.4l11.5 8.6M415.7 616.5l-11.5-9.6"/>
<path class=b d="M422.3 621l-6.6-4.5M404.2 606.9l6.6 5.5"/>
<line x1="420.0" y1="619.3" x2="410.4" y2="612.0" stroke="#003c68" stroke-width="2.0" stroke-linecap="round"/>
<path class=n d="M311.3 506.9l4.5 4-6.6-6.7-6.2-5.1z" fill="#bbafaf"/>
<path class=n d="M304.3 500.8l7 6.1-8.3-7.8-5.3-4.4z" fill="#bb9696"/>
<path d="M304.3 500.8l11.5 10.1M309.2 504.2l-11.5-9.5"/>
<path class=b d="M315.8 510.9l-6.6-6.7M297.7 494.7l6.6 6.1"/>
<line x1="311.3" y1="506.9" x2="303.0" y2="499.1" stroke="#960000" stroke-width="2.0" stroke-linecap="round"/>
<path d="M594.4 566.9l11.4-5-6.6 1.9-11.4 7.1z" fill="#b6c1c3"/>
<path class=b d="M605.8 561.9l-6.6 1.9M587.8 570.9l6.6-4"/>
<path d="M487.9 630.8l11.4-2.4-6.6 4.8-11.4 2z" fill="#8fafb3"/>
<path class=b d="M499.3 628.4l-6.6 4.8M481.3 635.2l6.6-4.4"/>
<path d="M381.4 584.6l11.4 11.6-6.6-7.3-11.4-12.2z" fill="#b1bdbe"/>
<path class=b d="M392.8 596.2l-6.6-7.3M374.8 576.7l6.6 7.9"/>
<path d="M274.8 480.6l11.5 6.1-6.6-3.7-11.5-5.4z" fill="#b49090"/>
<path class=b d="M286.3 486.7l-6.6-3.7M268.2 477.6l6.6 3"/>
<path d="M564.9 584.1l11.5-6.4-6.7 5.5-11.4 7.8z" fill="#b2bdbf"/>
<path class=b d="M576.4 577.7l-6.7 5.5M558.3 591l6.6-6.9"/>
<path d="M458.4 633.7l11.4 1.6-6.6 1.8-11.4-2.6z" fill="#89a8ac"/>
<path class=b d="M469.8 635.3l-6.6 1.8M451.8 634.5l6.6-.8"/>
<path class=n d="M363.3 564.1l0 0-6.6-8.5 0 0z" fill="#b2bdbe"/>
<path class=n d="M351.9 551.5l11.4 12.6-6.6-8.5-11.4-12.9z" fill="#beb2b2"/>
<path d="M351.9 551.5l11.4 12.6M356.7 555.6l-11.4-12.9"/>
<path class=b d="M345.3 542.7l6.6 8.8"/>
<path d="M245.3 473.1l11.5 1.2-6.6-.3-11.5-.5z" fill="#ae8b8b"/>
<path class=b d="M256.8 474.3l-6.6-.3M238.7 473.5l6.6-.4"/>
<path d="M535.4 604.2l11.5-6.2-6.7 7.2-11.4 6.8z" fill="#aebabb"/>
<path class=b d="M546.9 598l-6.7 7.2M528.8 612l6.6-7.8"/>
<path class=n d="M431.8 625.6l8.5 4.5-6.6-2-11.4-7.1 3.2 1.5z" fill="#92b3b6"/>
<path class=n d="M428.9 624l2.9 1.6-6.3-3.1z" fill="#aab5b6"/>
<path d="M428.9 624l11.4 6.1M433.7 628.1l-11.4-7.1"/>
<path class=b d="M440.3 630.1l-6.6-2M422.3 621l6.6 3"/>
<line x1="431.8" y1="625.6" x2="425.5" y2="622.5" stroke="#003c68" stroke-width="2.0" stroke-linecap="round"/>
<path d="M322.4 518.8l11.4 11.5-6.6-8.1-11.4-11.3z" fill="#bdb0b0"/>
<path class=b d="M333.8 530.3l-6.6-8.1M315.8 510.9l6.6 7.9"/>
<path d="M215.9 478.8l11.4-3.8-6.6 2.9-11.5 4z" fill="#bb9696"/>
<path class=b d="M227.3 475l-6.6 2.9M209.2 481.9l6.7-3.1"/>
<path class=n d="M515.1 619.9l-4.3 4.3-11.5 4.2 4-4z" fill="#92b2b6"/>
<path class=n d="M505.9 621.9l11.5-4.3-2.3 2.3-11.8 4.5z" fill="#aab5b6"/>
<path d="M505.9 621.9l11.5-4.3M510.8 624.2l-11.5 4.2"/>
<path class=b d="M517.4 617.6l-6.6 6.6M499.3 628.4l6.6-6.5"/>
<line x1="515.1" y1="619.9" x2="503.3" y2="624.4" stroke="#003c68" stroke-width="2.0" stroke-linecap="round"/>
<path d="M399.4 602.6l11.4 9.8-6.6-5.5-11.4-10.7z" fill="#b0bbbc"/>
<path class=b d="M410.8 612.4l-6.6-5.5M392.8 596.2l6.6 6.4"/>
<path d="M292.9 492.3l11.4 8.5-6.6-6.1-11.4-8z" fill="#b89393"/>
<path class=b d="M304.3 500.8l-6.6-6.1M286.3 486.7l6.6 5.6"/>
<path d="M583 571.8l11.4-4.9-6.6 4-11.4 6.8z" fill="#b1bcbe"/>
<path class=b d="M594.4 566.9l-6.6 4M576.4 577.7l6.6-5.9"/>
<path d="M476.4 631.8l11.5-1-6.6 4.4-11.5 .1z" fill="#8babae"/>
<path class=b d="M487.9 630.8l-6.6 4.4M469.8 635.3l6.6-3.5"/>
<path class=n d="M369.9 572.6l11.5 12-6.6-7.9-11.5-12.6z" fill="#b1bdbe"/>
<path d="M369.9 572.6l11.5 12M374.8 576.7l-11.5-12.6"/>
<path class=b d="M381.4 584.6l-6.6-7.9"/>
<path d="M263.4 476.7l11.4 3.9-6.6-3-11.4-3.3z" fill="#ae8b8b"/>
<path class=b d="M274.8 480.6l-6.6-3M256.8 474.3l6.6 2.4"/>
<path d="M553.5 590.1l11.4-6-6.6 6.9-11.4 7z" fill="#aebabb"/>
<path class=b d="M564.9 584.1l-6.6 6.9M546.9 598l6.6-7.9"/>
<path d="M447 630.4l11.4 3.3-6.6 .8-11.5-4.4z" fill="#8dadb0"/>
<path class=b d="M458.4 633.7l-6.6 .8M440.3 630.1l6.7 .3"/>
<line x1="447.0" y1="630.4" x2="446.9" y2="630.4" stroke="#003c68" stroke-width="2.0" stroke-linecap="round"/>
<path d="M340.4 539.3l11.5 12.2-6.6-8.8-11.5-12.4z" fill="#beb1b1"/>
<path class=b d="M351.9 551.5l-6.6-8.8M333.8 530.3l6.6 9"/>
<path d="M233.9 474.3l11.4-1.2-6.6 .4-11.4 1.5z" fill="#b79292"/>
<path class=b d="M245.3 473.1l-6.6 .4M227.3 475l6.6-.7"/>
<path d="M524 609.6l11.4-5.4-6.6 7.8-11.4 5.6z" fill="#abb6b8"/>
<path class=b d="M535.4 604.2l-6.6 7.8M517.4 617.6l6.6-8"/>
<path class=n d="M425.5 622.5l-3.2-1.5-2.3-1.7z" fill="#94b5b9"/>
<path class=n d="M417.5 616.7l11.4 7.3-3.4-1.5-5.5-3.2-9.2-6.9z" fill="#adb8b9"/>
<path d="M417.5 616.7l11.4 7.3M422.3 621l-11.5-8.6"/>
<path class=b d="M428.9 624l-6.6-3M410.8 612.4l6.7 4.3"/>
<line x1="425.5" y1="622.5" x2="420.0" y2="619.3" stroke="#003c68" stroke-width="2.0" stroke-linecap="round"/>
<path class=n d="M318.4 515.2l4 3.6-6.6-7.9-4.5-4z" fill="#bbaeae"/>
<path class=n d="M310.9 508.5l7.5 6.7-7.1-8.3-7-6.1z" fill="#bb9696"/>
<path d="M310.9 508.5l11.5 10.3M315.8 510.9l-11.5-10.1"/>
<path class=b d="M322.4 518.8l-6.6-7.9M304.3 500.8l6.6 7.7"/>
<line x1="318.4" y1="515.2" x2="311.3" y2="506.9" stroke="#960000" stroke-width="2.0" stroke-linecap="round"/>
<path class=n d="M503.3 624.4l-4 4-11.4 2.4 3-2.7z" fill="#8fafb2"/>
<path class=n d="M494.5 624.9l11.4-3-2.6 2.5-12.4 3.7z" fill="#a7b1b2"/>
<path d="M494.5 624.9l11.4-3M499.3 628.4l-11.4 2.4"/>
<path class=b d="M505.9 621.9l-6.6 6.5M487.9 630.8l6.6-5.9"/>
<line x1="503.3" y1="624.4" x2="490.9" y2="628.1" stroke="#003c68" stroke-width="2.0" stroke-linecap="round"/>
<path d="M388 592.1l11.4 10.5-6.6-6.4-11.4-11.6z" fill="#b0bcbd"/>
<path class=b d="M399.4 602.6l-6.6-6.4M381.4 584.6l6.6 7.5"/>
<path d="M281.4 485.8l11.5 6.5-6.6-5.6-11.5-6.1z" fill="#b49090"/>
<path class=b d="M292.9 492.3l-6.6-5.6M274.8 480.6l6.6 5.2"/>
<path d="M571.5 576.7l11.5-4.9-6.6 5.9-11.5 6.4z" fill="#aeb9ba"/>
<path class=b d="M583 571.8l-6.6 5.9M564.9 584.1l6.6-7.4"/>
<path class=n d="M470.8 631.5l5.6 .3-6.6 3.5-11.4-1.6 4.9-1.9z" fill="#88a7aa"/>
<path class=n d="M465 631.2l5.8 .3-7.5 .3z" fill="#9fa9aa"/>
<path d="M465 631.2l11.4 .6M469.8 635.3l-11.4-1.6"/>
<path class=b d="M476.4 631.8l-6.6 3.5M458.4 633.7l6.6-2.5"/>
<line x1="470.8" y1="631.5" x2="463.3" y2="631.8" stroke="#003c68" stroke-width="2.0" stroke-linecap="round"/>
<path class=n d="M369.9 572.6l0 0-6.6-8.5 0 0z" fill="#b1bcbe"/>
<path class=n d="M358.5 560.7l11.4 11.9-6.6-8.5-11.4-12.6z" fill="#beb1b1"/>
<path d="M358.5 560.7l11.4 11.9M363.3 564.1l-11.4-12.6"/>
<path class=b d="M351.9 551.5l6.6 9.2"/>
<path d="M252 475.2l11.4 1.5-6.6-2.4-11.5-1.2z" fill="#af8c8c"/>
<path class=b d="M263.4 476.7l-6.6-2.4M245.3 473.1l6.7 2.1"/>
<path d="M542 595.6l11.5-5.5-6.6 7.9-11.5 6.2z" fill="#acb7b8"/>
<path class=b d="M553.5 590.1l-6.6 7.9M535.4 604.2l6.6-8.6"/>
<path class=n d="M447 630.4l0 0-6.7-.3-8.5-4.5z" fill="#90b0b4"/>
<path class=n d="M435.5 625.8l11.5 4.6-15.2-4.8-2.9-1.6z" fill="#a8b3b4"/>
<path d="M435.5 625.8l11.5 4.6M440.3 630.1l-11.4-6.1"/>
<path class=b d="M447 630.4l-6.7-.3M428.9 624l6.6 1.8"/>
<line x1="446.9" y1="630.4" x2="431.8" y2="625.6" stroke="#003c68" stroke-width="2.0" stroke-linecap="round"/>
<path d="M329 527.9l11.4 11.4-6.6-9-11.4-11.5z" fill="#bcb0b0"/>
<path class=b d="M340.4 539.3l-6.6-9M322.4 518.8l6.6 9.1"/>
<path d="M222.5 478l11.4-3.7-6.6 .7-11.4 3.8z" fill="#c09a9a"/>
<path class=b d="M233.9 474.3l-6.6 .7M215.9 478.8l6.6-.8"/>
<path d="M512.5 614.1l11.5-4.5-6.6 8-11.5 4.3z" fill="#a9b4b5"/>
<path class=b d="M524 609.6l-6.6 8M505.9 621.9l6.6-7.8"/>
<path d="M406 608.3l11.5 8.4-6.7-4.3-11.4-9.8z" fill="#aeb9bb"/>
<path class=b d="M417.5 616.7l-6.7-4.3M399.4 602.6l6.6 5.7"/>
<path d="M299.5 499.9l11.4 8.6-6.6-7.7-11.4-8.5z" fill="#b89393"/>
<path class=b d="M310.9 508.5l-6.6-7.7M292.9 492.3l6.6 7.6"/>
<path class=n d="M490.9 628.1l-3 2.7-11.5 1 1.4-1z" fill="#8cacaf"/>
<path class=n d="M483 626.8l11.5-1.9-3.6 3.2-13.1 2.7z" fill="#a4aeaf"/>
<path d="M483 626.8l11.5-1.9M487.9 630.8l-11.5 1"/>
<path class=b d="M494.5 624.9l-6.6 5.9M476.4 631.8l6.6-5"/>
<line x1="490.9" y1="628.1" x2="477.8" y2="630.8" stroke="#003c68" stroke-width="2.0" stroke-linecap="round"/>
<path class=n d="M376.5 581.2l11.5 10.9-6.6-7.5-11.5-12z" fill="#b0bcbd"/>
<path d="M376.5 581.2l11.5 10.9M381.4 584.6l-11.5-12"/>
<path class=b d="M388 592.1l-6.6-7.5"/>
<path d="M270 481.5l11.4 4.3-6.6-5.2-11.4-3.9z" fill="#ad8b8b"/>
<path class=b d="M281.4 485.8l-6.6-5.2M263.4 476.7l6.6 4.8"/>
<path d="M560.1 581.7l11.4-5-6.6 7.4-11.4 6z" fill="#abb6b8"/>
<path class=b d="M571.5 576.7l-6.6 7.4M553.5 590.1l6.6-8.4"/>
<path class=n d="M463.3 631.8l-4.9 1.9-11.4-3.3 0 0z" fill="#8baaae"/>
<path class=n d="M453.6 629.4l11.4 1.8-1.7 .6-16.3-1.4z" fill="#a2acae"/>
<path d="M453.6 629.4l11.4 1.8M458.4 633.7l-11.4-3.3"/>
<path class=b d="M465 631.2l-6.6 2.5M447 630.4l6.6-1"/>
<line x1="463.3" y1="631.8" x2="447.0" y2="630.4" stroke="#003c68" stroke-width="2.0" stroke-linecap="round"/>
<line x1="369.9" y1="572.6" x2="365.5" y2="567.0" stroke="#000" stroke-width="1.9"/>
<path d="M347 549.1l11.5 11.6-6.6-9.2-11.5-12.2z" fill="#bcb0b0"/>
<path class=b d="M358.5 560.7l-6.6-9.2M340.4 539.3l6.6 9.8"/>
<path d="M240.5 476.1l11.5-.9-6.7-2.1-11.4 1.2z" fill="#bb9595"/>
<path class=b d="M252 475.2l-6.7-2.1M233.9 474.3l6.6 1.8"/>
<path d="M530.6 600.8l11.4-5.2-6.6 8.6-11.4 5.4z" fill="#aab5b6"/>
<path class=b d="M542 595.6l-6.6 8.6M524 609.6l6.6-8.8"/>
<path d="M424.1 619.9l11.4 5.9-6.6-1.8-11.4-7.3z" fill="#aab5b6"/>
<path class=b d="M435.5 625.8l-6.6-1.8M417.5 616.7l6.6 3.2"/>
<path class=n d="M324.5 524l4.5 3.9-6.6-9.1-4-3.6z" fill="#baadad"/>
<path class=n d="M317.5 517.9l7 6.1-6.1-8.8-7.5-6.7z" fill="#ba9595"/>
<path d="M317.5 517.9l11.5 10M322.4 518.8l-11.5-10.3"/>
<path class=b d="M329 527.9l-6.6-9.1M310.9 508.5l6.6 9.4"/>
<line x1="324.5" y1="524.0" x2="318.4" y2="515.2" stroke="#960000" stroke-width="2.0" stroke-linecap="round"/>
<path d="M501.1 617.8l11.4-3.7-6.6 7.8-11.4 3z" fill="#a7b1b3"/>
<path class=b d="M512.5 614.1l-6.6 7.8M494.5 624.9l6.6-7.1"/>
<path d="M394.6 599.2l11.4 9.1-6.6-5.7-11.4-10.5z" fill="#afbabb"/>
<path class=b d="M406 608.3l-6.6-5.7M388 592.1l6.6 7.1"/>
<path d="M288.1 493.2l11.4 6.7-6.6-7.6-11.5-6.5z" fill="#b38f8f"/>
<path class=b d="M299.5 499.9l-6.6-7.6M281.4 485.8l6.7 7.4"/>
<path class=n d="M477.8 630.8l-1.4 1-5.6-.3z" fill="#8aa9ac"/>
<path class=n d="M471.6 627.5l11.4-.7-5.2 4-7 .7-5.8-.3z" fill="#a1abac"/>
<path d="M471.6 627.5l11.4-.7M476.4 631.8l-11.4-.6"/>
<path class=b d="M483 626.8l-6.6 5M465 631.2l6.6-3.7"/>
<line x1="477.8" y1="630.8" x2="470.8" y2="631.5" stroke="#003c68" stroke-width="2.0" stroke-linecap="round"/>
<path class=n d="M376.5 581.2l0 0-6.6-8.6 0 0z" fill="#b0bbbc"/>
<path class=n d="M365.1 570.3l11.4 10.9-6.6-8.6-11.4-11.9z" fill="#bcb0b0"/>
<path d="M365.1 570.3l11.4 10.9M369.9 572.6l-11.4-11.9"/>
<path class=b d="M358.5 560.7l6.6 9.6"/>
<path d="M258.6 479.7l11.4 1.8-6.6-4.8-11.4-1.5z" fill="#b18e8e"/>
<path class=b d="M270 481.5l-6.6-4.8M252 475.2l6.6 4.5"/>
<path d="M548.6 586.6l11.5-4.9-6.6 8.4-11.5 5.5z" fill="#aab5b6"/>
<path class=b d="M560.1 581.7l-6.6 8.4M542 595.6l6.6-9"/>
<path class=n d="M447 630.4l0 0 0 0z" fill="#8dadb0"/>
<path class=n d="M442.1 626.3l11.5 3.1-6.6 1 0 0-11.5-4.6z" fill="#a5afb0"/>
<path d="M442.1 626.3l11.5 3.1M447 630.4l-11.5-4.6"/>
<path class=b d="M453.6 629.4l-6.6 1M435.5 625.8l6.6 .5"/>
<path d="M335.6 538.4l11.4 10.7-6.6-9.8-11.4-11.4z" fill="#bbaeae"/>
<path class=b d="M347 549.1l-6.6-9.8M329 527.9l6.6 10.5"/>
<path d="M229.1 479.7l11.4-3.6-6.6-1.8-11.4 3.7z" fill="#c8a0a0"/>
<path class=b d="M240.5 476.1l-6.6-1.8M222.5 478l6.6 1.7"/>
<path d="M519.2 605.5l11.4-4.7-6.6 8.8-11.5 4.5z" fill="#a8b3b4"/>
<path class=b d="M530.6 600.8l-6.6 8.8M512.5 614.1l6.7-8.6"/>
<path d="M412.6 613.2l11.5 6.7-6.6-3.2-11.5-8.4z" fill="#acb7b8"/>
<path class=b d="M424.1 619.9l-6.6-3.2M406 608.3l6.6 4.9"/>
<path d="M306.1 509.4l11.4 8.5-6.6-9.4-11.4-8.6z" fill="#b69292"/>
<path class=b d="M317.5 517.9l-6.6-9.4M299.5 499.9l6.6 9.5"/>
<path d="M489.7 620.6l11.4-2.8-6.6 7.1-11.5 1.9z" fill="#a5b0b1"/>
<path class=b d="M501.1 617.8l-6.6 7.1M483 626.8l6.7-6.2"/>
<path class=n d="M383.1 589.7l11.5 9.5-6.6-7.1-11.5-10.9z" fill="#aebabb"/>
<path d="M383.1 589.7l11.5 9.5M388 592.1l-11.5-10.9"/>
<path class=b d="M394.6 599.2l-6.6-7.1"/>
<path d="M276.6 488.8l11.5 4.4-6.7-7.4-11.4-4.3z" fill="#ac8989"/>
<path class=b d="M288.1 493.2l-6.7-7.4M270 481.5l6.6 7.3"/>
<path d="M460.2 627.1l11.4 .4-6.6 3.7-11.4-1.8z" fill="#9fa9aa"/>
<path class=b d="M471.6 627.5l-6.6 3.7M453.6 629.4l6.6-2.3"/>
<path d="M353.6 559.7l11.5 10.6-6.6-9.6-11.5-11.6z" fill="#bbaeae"/>
<path class=b d="M365.1 570.3l-6.6-9.6M347 549.1l6.6 10.6"/>
<path d="M247.1 480.6l11.5-.9-6.6-4.5-11.5 .9z" fill="#c09a9a"/>
<path class=b d="M258.6 479.7l-6.6-4.5M240.5 476.1l6.6 4.5"/>
<path d="M537.2 591.6l11.4-5-6.6 9-11.4 5.2z" fill="#a9b4b5"/>
<path class=b d="M548.6 586.6l-6.6 9M530.6 600.8l6.6-9.2"/>
<path d="M430.7 622.3l11.4 4-6.6-.5-11.4-5.9z" fill="#a7b1b3"/>
<path class=b d="M442.1 626.3l-6.6-.5M424.1 619.9l6.6 2.4"/>
<path class=n d="M329.5 533.3l6.1 5.1-6.6-10.5-4.5-3.9z" fill="#b8acac"/>
<path class=n d="M324.2 528.8l5.3 4.5-5-9.3-7-6.1z" fill="#b89393"/>
<path d="M324.2 528.8l11.4 9.6M329 527.9l-11.5-10"/>
<path class=b d="M335.6 538.4l-6.6-10.5M317.5 517.9l6.7 10.9"/>
<line x1="329.5" y1="533.3" x2="324.5" y2="524.0" stroke="#960000" stroke-width="2.0" stroke-linecap="round"/>
<path d="M507.7 609.8l11.5-4.3-6.7 8.6-11.4 3.7z" fill="#a7b2b3"/>
<path class=b d="M519.2 605.5l-6.7 8.6M501.1 617.8l6.6-8"/>
<path d="M401.2 605.9l11.4 7.3-6.6-4.9-11.4-9.1z" fill="#acb7b8"/>
<path class=b d="M412.6 613.2l-6.6-4.9M394.6 599.2l6.6 6.7"/>
<path d="M294.7 502.9l11.4 6.5-6.6-9.5-11.4-6.7z" fill="#b18e8e"/>
<path class=b d="M306.1 509.4l-6.6-9.5M288.1 493.2l6.6 9.7"/>
<path d="M478.2 622.7l11.5-2.1-6.7 6.2-11.4 .7z" fill="#a4aeaf"/>
<path class=b d="M489.7 620.6l-6.7 6.2M471.6 627.5l6.6-4.8"/>
<path class=n d="M383.1 589.7l0 0-6.6-8.5 0 0z" fill="#adb9ba"/>
<path class=n d="M371.7 580.3l11.4 9.4-6.6-8.5-11.4-10.9z" fill="#baadad"/>
<path d="M371.7 580.3l11.4 9.4M376.5 581.2l-11.4-10.9"/>
<path class=b d="M365.1 570.3l6.6 10"/>
<path d="M265.2 486.9l11.4 1.9-6.6-7.3-11.4-1.8z" fill="#b49090"/>
<path class=b d="M276.6 488.8l-6.6-7.3M258.6 479.7l6.6 7.2"/>
<path d="M448.7 625.9l11.5 1.2-6.6 2.3-11.5-3.1z" fill="#a0abac"/>
<path class=b d="M460.2 627.1l-6.6 2.3M442.1 626.3l6.6-.4"/>
<path d="M342.2 550l11.4 9.7-6.6-10.6-11.4-10.7z" fill="#b8acac"/>
<path class=b d="M353.6 559.7l-6.6-10.6M335.6 538.4l6.6 11.6"/>
<path d="M235.7 484.1l11.4-3.5-6.6-4.5-11.4 3.6z" fill="#d3a9a9"/>
<path class=b d="M247.1 480.6l-6.6-4.5M229.1 479.7l6.6 4.4"/>
<path d="M525.8 596.5l11.4-4.9-6.6 9.2-11.4 4.7z" fill="#a8b3b4"/>
<path class=b d="M537.2 591.6l-6.6 9.2M519.2 605.5l6.6-9"/>
<path d="M419.2 617.6l11.5 4.7-6.6-2.4-11.5-6.7z" fill="#a8b3b4"/>
<path class=b d="M430.7 622.3l-6.6-2.4M412.6 613.2l6.6 4.4"/>
<path d="M312.7 520.9l11.5 7.9-6.7-10.9-11.4-8.5z" fill="#b49090"/>
<path class=b d="M324.2 528.8l-6.7-10.9M306.1 509.4l6.6 11.5"/>
<path d="M496.3 613.7l11.4-3.9-6.6 8-11.4 2.8z" fill="#a7b1b3"/>
<path class=b d="M507.7 609.8l-6.6 8M489.7 620.6l6.6-6.9"/>
<path class=n d="M389.7 598.2l11.5 7.7-6.6-6.7-11.5-9.5z" fill="#acb7b8"/>
<path d="M389.7 598.2l11.5 7.7M394.6 599.2l-11.5-9.5"/>
<path class=b d="M401.2 605.9l-6.6-6.7"/>
<path d="M283.2 498.6l11.5 4.3-6.6-9.7-11.5-4.4z" fill="#ab8989"/>
<path class=b d="M294.7 502.9l-6.6-9.7M276.6 488.8l6.6 9.8"/>
<path d="M466.8 624l11.4-1.3-6.6 4.8-11.4-.4z" fill="#a3adae"/>
<path class=b d="M478.2 622.7l-6.6 4.8M460.2 627.1l6.6-3.1"/>
<path d="M360.3 571.2l11.4 9.1-6.6-10-11.5-10.6z" fill="#b8acac"/>
<path class=b d="M371.7 580.3l-6.6-10M353.6 559.7l6.7 11.5"/>
<path d="M253.7 487.7l11.5-.8-6.6-7.2-11.5 .9z" fill="#c79f9f"/>
<path class=b d="M265.2 486.9l-6.6-7.2M247.1 480.6l6.6 7.1"/>
<path d="M437.3 623.9l11.4 2-6.6 .4-11.4-4z" fill="#a2acad"/>
<path class=b d="M448.7 625.9l-6.6 .4M430.7 622.3l6.6 1.6"/>
<path class=n d="M333 543.1l9.2 6.9-6.6-11.6-6.1-5.1z" fill="#b5a9a9"/>
<path class=n d="M330.8 541.4l2.2 1.7-3.5-9.8-5.3-4.5z" fill="#b59191"/>
<path d="M330.8 541.4l11.4 8.6M335.6 538.4l-11.4-9.6"/>
<path class=b d="M342.2 550l-6.6-11.6M324.2 528.8l6.6 12.6"/>
<line x1="333.0" y1="543.1" x2="329.5" y2="533.3" stroke="#960000" stroke-width="2.0" stroke-linecap="round"/>
<path d="M514.3 601.4l11.5-4.9-6.6 9-11.5 4.3z" fill="#a8b3b4"/>
<path class=b d="M525.8 596.5l-6.6 9M507.7 609.8l6.6-8.4"/>
<path d="M407.8 612.3l11.4 5.3-6.6-4.4-11.4-7.3z" fill="#a8b3b4"/>
<path class=b d="M419.2 617.6l-6.6-4.4M401.2 605.9l6.6 6.4"/>
<path d="M301.3 514.8l11.4 6.1-6.6-11.5-11.4-6.5z" fill="#ae8b8b"/>
<path class=b d="M312.7 520.9l-6.6-11.5M294.7 502.9l6.6 11.9"/>
<path d="M484.8 617.2l11.5-3.5-6.6 6.9-11.5 2.1z" fill="#a7b1b2"/>
<path class=b d="M496.3 613.7l-6.6 6.9M478.2 622.7l6.6-5.5"/>
<path class=n d="M389.7 598.2l0 0-6.6-8.5 0 0z" fill="#aab5b6"/>
<path class=n d="M378.3 590.6l11.4 7.6-6.6-8.5-11.4-9.4z" fill="#b6aaaa"/>
<path d="M378.3 590.6l11.4 7.6M383.1 589.7l-11.4-9.4"/>
<path class=b d="M371.7 580.3l6.6 10.3"/>
<path d="M271.8 496.8l11.4 1.8-6.6-9.8-11.4-1.9z" fill="#b79393"/>
<path class=b d="M283.2 498.6l-6.6-9.8M265.2 486.9l6.6 9.9"/>
<path d="M455.3 624.8l11.5-.8-6.6 3.1-11.5-1.2z" fill="#a2adae"/>
<path class=b d="M466.8 624l-6.6 3.1M448.7 625.9l6.6-1.1"/>
<path d="M348.8 562.8l11.5 8.4-6.7-11.5-11.4-9.7z" fill="#b5a9a9"/>
<path class=b d="M360.3 571.2l-6.7-11.5M342.2 550l6.6 12.8"/>
<path d="M242.3 491.2l11.4-3.5-6.6-7.1-11.4 3.5z" fill="#e1b4b4"/>
<path class=b d="M253.7 487.7l-6.6-7.1M235.7 484.1l6.6 7.1"/>
<path d="M425.8 621.4l11.5 2.5-6.6-1.6-11.5-4.7z" fill="#a2adae"/>
<path class=b d="M437.3 623.9l-6.6-1.6M419.2 617.6l6.6 3.8"/>
<path d="M319.3 534.2l11.5 7.2-6.6-12.6-11.5-7.9z" fill="#b18d8d"/>
<path class=b d="M330.8 541.4l-6.6-12.6M312.7 520.9l6.6 13.3"/>
<path d="M502.9 606.4l11.4-5-6.6 8.4-11.4 3.9z" fill="#a9b4b5"/>
<path class=b d="M514.3 601.4l-6.6 8.4M496.3 613.7l6.6-7.3"/>
<path class=n d="M396.4 606.8l11.4 5.5-6.6-6.4-11.5-7.7z" fill="#a7b2b3"/>
<path d="M396.4 606.8l11.4 5.5M401.2 605.9l-11.5-7.7"/>
<path class=b d="M407.8 612.3l-6.6-6.4"/>
<path d="M289.8 510.9l11.5 3.9-6.6-11.9-11.5-4.3z" fill="#ae8b8b"/>
<path class=b d="M301.3 514.8l-6.6-11.9M283.2 498.6l6.6 12.3"/>
<path d="M473.4 620.3l11.4-3.1-6.6 5.5-11.4 1.3z" fill="#a7b2b3"/>
<path class=b d="M484.8 617.2l-6.6 5.5M466.8 624l6.6-3.7"/>
<path d="M366.9 583.3l11.4 7.3-6.6-10.3-11.4-9.1z" fill="#b4a8a8"/>
<path class=b d="M378.3 590.6l-6.6-10.3M360.3 571.2l6.6 12.1"/>
<path d="M260.3 497.6l11.5-.8-6.6-9.9-11.5 .8z" fill="#cba3a3"/>
<path class=b d="M271.8 496.8l-6.6-9.9M253.7 487.7l6.6 9.9"/>
<path d="M443.9 625l11.4-.2-6.6 1.1-11.4-2z" fill="#a2adae"/>
<path class=b d="M455.3 624.8l-6.6 1.1M437.3 623.9l6.6 1.1"/>
<path class=n d="M337.4 555.4l11.4 7.4-6.6-12.8-9.2-6.9 1 5.2z" fill="#b1a6a6"/>
<path class=n d="M333 543.1l-2.2-1.7 3.2 6.9z" fill="#b18e8e"/>
<path d="M337.4 555.4l11.4 7.4M342.2 550l-11.4-8.6"/>
<path class=b d="M348.8 562.8l-6.6-12.8M330.8 541.4l6.6 14"/>
<line x1="333.0" y1="543.1" x2="334.0" y2="548.3" stroke="#960000" stroke-width="2.0" stroke-linecap="round"/>
<path d="M414.4 618.5l11.4 2.9-6.6-3.8-11.4-5.3z" fill="#a2acad"/>
<path class=b d="M425.8 621.4l-6.6-3.8M407.8 612.3l6.6 6.2"/>
<path d="M307.9 528.8l11.4 5.4-6.6-13.3-11.4-6.1z" fill="#aa8888"/>
<path class=b d="M319.3 534.2l-6.6-13.3M301.3 514.8l6.6 14"/>
<path d="M491.4 611.3l11.5-4.9-6.6 7.3-11.5 3.5z" fill="#aab5b6"/>
<path class=b d="M502.9 606.4l-6.6 7.3M484.8 617.2l6.6-5.9"/>
<path class=n d="M396.4 606.8l0 0-6.7-8.6 0 0z" fill="#a5b0b1"/>
<path class=n d="M384.9 601.3l11.5 5.5-6.7-8.6-11.4-7.6z" fill="#b1a5a5"/>
<path d="M384.9 601.3l11.5 5.5M389.7 598.2l-11.4-7.6"/>
<path class=b d="M378.3 590.6l6.6 10.7"/>
<path d="M278.4 509.3l11.4 1.6-6.6-12.3-11.4-1.8z" fill="#bb9595"/>
<path class=b d="M289.8 510.9l-6.6-12.3M271.8 496.8l6.6 12.5"/>
<path d="M461.9 623.1l11.5-2.8-6.6 3.7-11.5 .8z" fill="#a8b3b4"/>
<path class=b d="M473.4 620.3l-6.6 3.7M455.3 624.8l6.6-1.7"/>
<path d="M355.4 576.6l11.5 6.7-6.6-12.1-11.5-8.4z" fill="#b1a5a5"/>
<path class=b d="M366.9 583.3l-6.6-12.1M348.8 562.8l6.6 13.8"/>
<path d="M248.9 501.2l11.4-3.6-6.6-9.9-11.4 3.5z" fill="#e8baba"/>
<path class=b d="M260.3 497.6l-6.6-9.9M242.3 491.2l6.6 10"/>
<path d="M432.5 624.8l11.4 .2-6.6-1.1-11.5-2.5z" fill="#a3aeaf"/>
<path class=b d="M443.9 625l-6.6-1.1M425.8 621.4l6.7 3.4"/>
<path class=n d="M334.5 553.9l2.9 1.5-3.4-7.1z" fill="#aca1a1"/>
<path class=n d="M325.9 549.4l8.6 4.5-.5-5.6-3.2-6.9-11.5-7.2z" fill="#ac8a8a"/>
<path d="M325.9 549.4l11.5 6M330.8 541.4l-11.5-7.2"/>
<path class=b d="M337.4 555.4l-6.6-14M319.3 534.2l6.6 15.2"/>
<line x1="334.5" y1="553.9" x2="334.0" y2="548.3" stroke="#960000" stroke-width="2.0" stroke-linecap="round"/>
<path class=n d="M403 615.3l11.4 3.2-6.6-6.2-11.4-5.5z" fill="#a0abac"/>
<path d="M403 615.3l11.4 3.2M407.8 612.3l-11.4-5.5"/>
<path class=b d="M414.4 618.5l-6.6-6.2"/>
<path d="M296.4 525.5l11.5 3.3-6.6-14-11.5-3.9z" fill="#b28e8e"/>
<path class=b d="M307.9 528.8l-6.6-14M289.8 510.9l6.6 14.6"/>
<path d="M480 616.2l11.4-4.9-6.6 5.9-11.4 3.1z" fill="#acb7b8"/>
<path class=b d="M491.4 611.3l-6.6 5.9M473.4 620.3l6.6-4.1"/>
<path d="M373.5 596l11.4 5.3-6.6-10.7-11.4-7.3z" fill="#aea3a3"/>
<path class=b d="M384.9 601.3l-6.6-10.7M366.9 583.3l6.6 12.7"/>
<path d="M267 510.3l11.4-1-6.6-12.5-11.5 .8z" fill="#cca3a3"/>
<path class=b d="M278.4 509.3l-6.6-12.5M260.3 497.6l6.7 12.7"/>
<path d="M450.5 625.7l11.4-2.6-6.6 1.7-11.4 .2z" fill="#aab5b7"/>
<path class=b d="M461.9 623.1l-6.6 1.7M443.9 625l6.6 .7"/>
<path d="M344 570.7l11.4 5.9-6.6-13.8-11.4-7.4z" fill="#aca1a1"/>
<path class=b d="M355.4 576.6l-6.6-13.8M337.4 555.4l6.6 15.3"/>
<path d="M421 624.4l11.5 .4-6.7-3.4-11.4-2.9z" fill="#a5b0b1"/>
<path class=b d="M432.5 624.8l-6.7-3.4M414.4 618.5l6.6 5.9"/>
<path d="M314.5 544.9l11.4 4.5-6.6-15.2-11.4-5.4z" fill="#ae8b8b"/>
<path class=b d="M325.9 549.4l-6.6-15.2M307.9 528.8l6.6 16.1"/>
<path class=n d="M403 615.3l0 0-6.6-8.5 0 0z" fill="#9faaab"/>
<path class=n d="M391.5 612.2l11.5 3.1-6.6-8.5-11.5-5.5z" fill="#ab9f9f"/>
<path d="M391.5 612.2l11.5 3.1M396.4 606.8l-11.5-5.5"/>
<path class=b d="M384.9 601.3l6.6 10.9"/>
<path d="M285 524.3l11.4 1.2-6.6-14.6-11.4-1.6z" fill="#bd9797"/>
<path class=b d="M296.4 525.5l-6.6-14.6M278.4 509.3l6.6 15"/>
<path d="M468.6 621.2l11.4-5-6.6 4.1-11.5 2.8z" fill="#afbabb"/>
<path class=b d="M480 616.2l-6.6 4.1M461.9 623.1l6.7-1.9"/>
<path d="M362 591.3l11.5 4.7-6.6-12.7-11.5-6.7z" fill="#aa9f9f"/>
<path class=b d="M373.5 596l-6.6-12.7M355.4 576.6l6.6 14.7"/>
<path d="M255.5 513.9l11.5-3.6-6.7-12.7-11.4 3.6z" fill="#e3b6b6"/>
<path class=b d="M267 510.3l-6.7-12.7M248.9 501.2l6.6 12.7"/>
<path d="M439.1 628l11.4-2.3-6.6-.7-11.4-.2z" fill="#aeb9bb"/>
<path class=b d="M450.5 625.7l-6.6-.7M432.5 624.8l6.6 3.2"/>
<path class=n d="M332.5 566.1l11.5 4.6-6.6-15.3-2.9-1.5-2 12.2z" fill="#ada1a1"/>
<path class=n d="M332.5 566.1l0 0 2-12.2-8.6-4.5z" fill="#ad8a8a"/>
<path d="M332.5 566.1l11.5 4.6M337.4 555.4l-11.5-6"/>
<path class=b d="M344 570.7l-6.6-15.3M325.9 549.4l6.6 16.7"/>
<line x1="332.6" y1="566.1" x2="334.5" y2="553.9" stroke="#960000" stroke-width="2.0" stroke-linecap="round"/>
<path class=n d="M409.6 623.9l11.4 .5-6.6-5.9-11.4-3.2z" fill="#a8b3b4"/>
<path d="M409.6 623.9l11.4 .5M414.4 618.5l-11.4-3.2"/>
<path class=b d="M421 624.4l-6.6-5.9"/>
<path d="M303.1 542.3l11.4 2.6-6.6-16.1-11.5-3.3z" fill="#b69191"/>
<path class=b d="M314.5 544.9l-6.6-16.1M296.4 525.5l6.7 16.8"/>
<path d="M380.1 609.2l11.4 3-6.6-10.9-11.4-5.3z" fill="#aea3a3"/>
<path class=b d="M391.5 612.2l-6.6-10.9M373.5 596l6.6 13.2"/>
<path d="M273.6 525.6l11.4-1.3-6.6-15-11.4 1z" fill="#cba2a2"/>
<path class=b d="M285 524.3l-6.6-15M267 510.3l6.6 15.3"/>
<path d="M457.1 626.1l11.5-4.9-6.7 1.9-11.4 2.6z" fill="#b3bfc0"/>
<path class=b d="M468.6 621.2l-6.7 1.9M450.5 625.7l6.6 .4"/>
<path d="M350.6 587.3l11.4 4-6.6-14.7-11.4-5.9z" fill="#aea2a2"/>
<path class=b d="M362 591.3l-6.6-14.7M344 570.7l6.6 16.6"/>
<path d="M427.6 630.2l11.5-2.2-6.6-3.2-11.5-.4z" fill="#b3bfc0"/>
<path class=b d="M439.1 628l-6.6-3.2M421 624.4l6.6 5.8"/>
<path d="M321.1 562.8l11.4 3.3-6.6-16.7-11.4-4.5z" fill="#b38f8f"/>
<path class=b d="M332.5 566.1l-6.6-16.7M314.5 544.9l6.6 17.9"/>
<path class=n d="M409.6 623.9l0 0-6.6-8.6 0 0z" fill="#abb6b7"/>
<path class=n d="M398.1 623.3l11.5 .6-6.6-8.6-11.5-3.1z" fill="#b7abab"/>
<path d="M398.1 623.3l11.5 .6M403 615.3l-11.5-3.1"/>
<path class=b d="M391.5 612.2l6.6 11.1"/>
<path d="M291.6 541.7l11.5 .6-6.7-16.8-11.4-1.2z" fill="#bf9999"/>
<path class=b d="M303.1 542.3l-6.7-16.8M285 524.3l6.6 17.4"/>
<path d="M368.6 606.7l11.5 2.5-6.6-13.2-11.5-4.7z" fill="#b2a6a6"/>
<path class=b d="M380.1 609.2l-6.6-13.2M362 591.3l6.6 15.4"/>
<path d="M262.1 529.2l11.5-3.6-6.6-15.3-11.5 3.6z" fill="#dbafaf"/>
<path class=b d="M273.6 525.6l-6.6-15.3M255.5 513.9l6.6 15.3"/>
<path d="M445.7 631l11.4-4.9-6.6-.4-11.4 2.3z" fill="#bbc7c8"/>
<path class=b d="M457.1 626.1l-6.6-.4M439.1 628l6.6 3"/>
<path d="M339.2 584.2l11.4 3.1-6.6-16.6-11.5-4.6z" fill="#b3a7a7"/>
<path class=b d="M350.6 587.3l-6.6-16.6M332.5 566.1l6.7 18.1"/>
<line x1="332.6" y1="566.1" x2="332.6" y2="566.1" stroke="#960000" stroke-width="2.0" stroke-linecap="round"/>
<path class=n d="M416.2 632.4l11.4-2.2-6.6-5.8-11.4-.5z" fill="#bac6c7"/>
<path d="M416.2 632.4l11.4-2.2M421 624.4l-11.4-.5"/>
<path class=b d="M427.6 630.2l-6.6-5.8"/>
<path d="M309.7 561.2l11.4 1.6-6.6-17.9-11.4-2.6z" fill="#ba9595"/>
<path class=b d="M321.1 562.8l-6.6-17.9M303.1 542.3l6.6 18.9"/>
<path d="M386.7 622.9l11.4 .4-6.6-11.1-11.4-3z" fill="#bbaeae"/>
<path class=b d="M398.1 623.3l-6.6-11.1M380.1 609.2l6.6 13.7"/>
<path d="M280.2 543.3l11.4-1.6-6.6-17.4-11.4 1.3z" fill="#caa1a1"/>
<path class=b d="M291.6 541.7l-6.6-17.4M273.6 525.6l6.6 17.7"/>
<path d="M357.2 604.7l11.4 2-6.6-15.4-11.4-4z" fill="#b6aaaa"/>
<path class=b d="M368.6 606.7l-6.6-15.4M350.6 587.3l6.6 17.4"/>
<path d="M434.2 636l11.5-5-6.6-3-11.5 2.2z" fill="#c5d2d3"/>
<path class=b d="M445.7 631l-6.6-3M427.6 630.2l6.6 5.8"/>
<path class=n d="M327.7 582.3l11.5 1.9-6.7-18.1 0 0-6.5 11.3z" fill="#b8acac"/>
<path class=n d="M332.5 566.1l0 0-11.4-3.3 4.9 14.6z" fill="#b89393"/>
<path d="M327.7 582.3l11.5 1.9M332.5 566.1l-11.4-3.3"/>
<path class=b d="M339.2 584.2l-6.7-18.1M321.1 562.8l6.6 19.5"/>
<line x1="332.6" y1="566.1" x2="326.0" y2="577.4" stroke="#960000" stroke-width="2.0" stroke-linecap="round"/>
<path class=n d="M416.2 632.4l0 0-6.6-8.5 0 0z" fill="#becacb"/>
<path class=n d="M404.8 634.5l11.4-2.1-6.6-8.5-11.5-.6z" fill="#cbbebe"/>
<path d="M404.8 634.5l11.4-2.1M409.6 623.9l-11.5-.6"/>
<path class=b d="M398.1 623.3l6.7 11.2"/>
<path d="M298.2 561.3l11.5-.1-6.6-18.9-11.5-.6z" fill="#c19a9a"/>
<path class=b d="M309.7 561.2l-6.6-18.9M291.6 541.7l6.6 19.6"/>
<path d="M375.3 622.7l11.4 .2-6.6-13.7-11.5-2.5z" fill="#bdb1b1"/>
<path class=b d="M386.7 622.9l-6.6-13.7M368.6 606.7l6.7 16"/>
<path d="M268.7 547.1l11.5-3.8-6.6-17.7-11.5 3.6z" fill="#d5aaaa"/>
<path class=b d="M280.2 543.3l-6.6-17.7M262.1 529.2l6.6 17.9"/>
<path d="M345.8 603.5l11.4 1.2-6.6-17.4-11.4-3.1z" fill="#baadad"/>
<path class=b d="M357.2 604.7l-6.6-17.4M339.2 584.2l6.6 19.3"/>
<path class=n d="M422.8 640.9l11.4-4.9-6.6-5.8-11.4 2.2z" fill="#d2dfe1"/>
<path d="M422.8 640.9l11.4-4.9M427.6 630.2l-11.4 2.2"/>
<path class=b d="M434.2 636l-6.6-5.8"/>
<path class=n d="M321.9 582.1l5.8 .2-1.7-4.9z" fill="#bdb1b1"/>
<path class=n d="M316.3 581.8l5.6 .3 4.1-4.7-4.9-14.6-11.4-1.6z" fill="#bd9898"/>
<path d="M316.3 581.8l11.4 .5M321.1 562.8l-11.4-1.6"/>
<path class=b d="M327.7 582.3l-6.6-19.5M309.7 561.2l6.6 20.6"/>
<line x1="321.9" y1="582.1" x2="326.0" y2="577.4" stroke="#960000" stroke-width="2.0" stroke-linecap="round"/>
<line x1="416.2" y1="632.4" x2="409.6" y2="623.9" stroke="#000" stroke-width="1.9"/>
<path d="M393.3 636.8l11.5-2.3-6.7-11.2-11.4-.4z" fill="#ccbfbf"/>
<path class=b d="M404.8 634.5l-6.7-11.2M386.7 622.9l6.6 13.9"/>
<path d="M286.8 563.3l11.4-2-6.6-19.6-11.4 1.6z" fill="#c9a1a1"/>
<path class=b d="M298.2 561.3l-6.6-19.6M280.2 543.3l6.6 20"/>
<path d="M363.8 623l11.5-.3-6.7-16-11.4-2z" fill="#bfb2b2"/>
<path class=b d="M375.3 622.7l-6.7-16M357.2 604.7l6.6 18.3"/>
<path d="M334.3 603.2l11.5 .3-6.6-19.3-11.5-1.9z" fill="#bdb1b1"/>
<path class=b d="M345.8 603.5l-6.6-19.3M327.7 582.3l6.6 20.9"/>
<path class=n d="M422.8 640.9l0 0-6.6-8.5 0 0z" fill="#d9e7e8"/>
<path class=n d="M411.4 645.9l11.4-5-6.6-8.5-11.4 2.1z" fill="#e8d9d9"/>
<path d="M411.4 645.9l11.4-5M416.2 632.4l-11.4 2.1"/>
<path class=b d="M404.8 634.5l6.6 11.4"/>
<path d="M304.8 582.7l11.5-.9-6.6-20.6-11.5 .1z" fill="#c39c9c"/>
<path class=b d="M316.3 581.8l-6.6-20.6M298.2 561.3l6.6 21.4"/>
<path d="M381.9 639.1l11.4-2.3-6.6-13.9-11.4-.2z" fill="#cbbebe"/>
<path class=b d="M393.3 636.8l-6.6-13.9M375.3 622.7l6.6 16.4"/>
<path d="M275.3 567.2l11.5-3.9-6.6-20-11.5 3.8z" fill="#d1a7a7"/>
<path class=b d="M286.8 563.3l-6.6-20M268.7 547.1l6.6 20.1"/>
<path d="M352.4 623.7l11.4-.7-6.6-18.3-11.4-1.2z" fill="#c1b4b4"/>
<path class=b d="M363.8 623l-6.6-18.3M345.8 603.5l6.6 20.2"/>
<path class=n d="M322.9 603.9l11.4-.7-6.6-20.9-5.8-.2-4.3 4.1z" fill="#c1b4b4"/>
<path class=n d="M321.9 582.1l-5.6-.3 1.3 4.4z" fill="#c19a9a"/>
<path d="M322.9 603.9l11.4-.7M327.7 582.3l-11.4-.5"/>
<path class=b d="M334.3 603.2l-6.6-20.9M316.3 581.8l6.6 22.1"/>
<line x1="321.9" y1="582.1" x2="317.6" y2="586.2" stroke="#960000" stroke-width="2.0" stroke-linecap="round"/>
<line x1="422.8" y1="640.9" x2="416.2" y2="632.4" stroke="#000" stroke-width="1.9"/>
<path d="M399.9 650.8l11.5-4.9-6.6-11.4-11.5 2.3z" fill="#e3d4d4"/>
<path class=b d="M411.4 645.9l-6.6-11.4M393.3 636.8l6.6 14"/>
<path d="M293.4 585.2l11.4-2.5-6.6-21.4-11.4 2z" fill="#c8a0a0"/>
<path class=b d="M304.8 582.7l-6.6-21.4M286.8 563.3l6.6 21.9"/>
<path d="M370.4 641.7l11.5-2.6-6.6-16.4-11.5 .3z" fill="#cabcbc"/>
<path class=b d="M381.9 639.1l-6.6-16.4M363.8 623l6.6 18.7"/>
<path d="M340.9 625.1l11.5-1.4-6.6-20.2-11.5-.3z" fill="#c3b6b6"/>
<path class=b d="M352.4 623.7l-6.6-20.2M334.3 603.2l6.6 21.9"/>
<path class=n d="M311.4 605.7l11.5-1.8-5.3-17.7-9.7 7.2z" fill="#c5b8b8"/>
<path class=n d="M317.6 586.2l-1.3-4.4-11.5 .9 3.1 10.7z" fill="#c59d9d"/>
<path d="M311.4 605.7l11.5-1.8M316.3 581.8l-11.5 .9"/>
<path class=b d="M322.9 603.9l-6.6-22.1M304.8 582.7l6.6 23"/>
<line x1="317.6" y1="586.2" x2="307.9" y2="593.4" stroke="#960000" stroke-width="2.0" stroke-linecap="round"/>
<path d="M388.5 655.7l11.4-4.9-6.6-14-11.4 2.3z" fill="#dbcccc"/>
<path class=b d="M399.9 650.8l-6.6-14M381.9 639.1l6.6 16.6"/>
<path d="M282 589.3l11.4-4.1-6.6-21.9-11.5 3.9z" fill="#cea5a5"/>
<path class=b d="M293.4 585.2l-6.6-21.9M275.3 567.2l6.7 22.1"/>
<path d="M359 644.5l11.4-2.8-6.6-18.7-11.4 .7z" fill="#c9bbbb"/>
<path class=b d="M370.4 641.7l-6.6-18.7M352.4 623.7l6.6 20.8"/>
<path d="M329.5 627.1l11.4-2-6.6-21.9-11.4 .7z" fill="#c5b8b8"/>
<path class=b d="M340.9 625.1l-6.6-21.9M322.9 603.9l6.6 23.2"/>
<path class=n d="M300 608.8l11.4-3.1-3.5-12.3-10.5 6.2z" fill="#c8bbbb"/>
<path class=n d="M307.9 593.4l-3.1-10.7-11.4 2.5 4 14.4z" fill="#c8a0a0"/>
<path d="M300 608.8l11.4-3.1M304.8 582.7l-11.4 2.5"/>
<path class=b d="M311.4 605.7l-6.6-23M293.4 585.2l6.6 23.6"/>
<line x1="307.9" y1="593.4" x2="297.4" y2="599.6" stroke="#960000" stroke-width="2.0" stroke-linecap="round"/>
<path d="M377 660.7l11.5-5-6.6-16.6-11.5 2.6z" fill="#d5c6c6"/>
<path class=b d="M388.5 655.7l-6.6-16.6M370.4 641.7l6.6 19"/>
<path d="M347.5 647.6l11.5-3.1-6.6-20.8-11.5 1.4z" fill="#c8bbbb"/>
<path class=b d="M359 644.5l-6.6-20.8M340.9 625.1l6.6 22.5"/>
<path d="M318.1 629.9l11.4-2.8-6.6-23.2-11.5 1.8z" fill="#c7b9b9"/>
<path class=b d="M329.5 627.1l-6.6-23.2M311.4 605.7l6.7 24.2"/>
<path class=n d="M288.6 613.1l11.4-4.3-2.6-9.2-11.1 5.3z" fill="#ccbfbf"/>
<path class=n d="M297.4 599.6l-4-14.4-11.4 4.1 4.3 15.6z" fill="#cca3a3"/>
<path d="M288.6 613.1l11.4-4.3M293.4 585.2l-11.4 4.1"/>
<path class=b d="M300 608.8l-6.6-23.6M282 589.3l6.6 23.8"/>
<line x1="297.4" y1="599.6" x2="286.3" y2="604.9" stroke="#960000" stroke-width="2.0" stroke-linecap="round"/>
<path d="M365.6 665.6l11.4-4.9-6.6-19-11.4 2.8z" fill="#d1c3c3"/>
<path class=b d="M377 660.7l-6.6-19M359 644.5l6.6 21.1"/>
<path d="M336.1 651.1l11.4-3.5-6.6-22.5-11.4 2z" fill="#c8bbbb"/>
<path class=b d="M347.5 647.6l-6.6-22.5M329.5 627.1l6.6 24"/>
<path d="M306.6 633.6l11.5-3.7-6.7-24.2-11.4 3.1z" fill="#c9bcbc"/>
<path class=b d="M318.1 629.9l-6.7-24.2M300 608.8l6.6 24.8"/>
<path d="M354.2 670.6l11.4-5-6.6-21.1-11.5 3.1z" fill="#cec0c0"/>
<path class=b d="M365.6 665.6l-6.6-21.1M347.5 647.6l6.7 23"/>
<path d="M324.7 655l11.4-3.9-6.6-24-11.4 2.8z" fill="#c9bcbc"/>
<path class=b d="M336.1 651.1l-6.6-24M318.1 629.9l6.6 25.1"/>
<path d="M295.2 638.1l11.4-4.5-6.6-24.8-11.4 4.3z" fill="#cbbebe"/>
<path class=b d="M306.6 633.6l-6.6-24.8M288.6 613.1l6.6 25"/>
<path d="M342.7 675.5l11.5-4.9-6.7-23-11.4 3.5z" fill="#ccbfbf"/>
<path class=b d="M354.2 670.6l-6.7-23M336.1 651.1l6.6 24.4"/>
<path d="M313.2 659.3l11.5-4.3-6.6-25.1-11.5 3.7z" fill="#cabcbc"/>
<path class=b d="M324.7 655l-6.6-25.1M306.6 633.6l6.6 25.7"/>
<path d="M331.3 680.4l11.4-4.9-6.6-24.4-11.4 3.9z" fill="#cbbebe"/>
<path class=b d="M342.7 675.5l-6.6-24.4M324.7 655l6.6 25.4"/>
<path d="M301.8 664l11.4-4.7-6.6-25.7-11.4 4.5z" fill="#cbbdbd"/>
<path class=b d="M313.2 659.3l-6.6-25.7M295.2 638.1l6.6 25.9"/>
<path d="M319.8 685.4l11.5-5-6.6-25.4-11.5 4.3z" fill="#cbbdbd"/>
<path class=b d="M331.3 680.4l-6.6-25.4M313.2 659.3l6.6 26.1"/>
<path d="M308.4 690.3l11.4-4.9-6.6-26.1-11.4 4.7z" fill="#cbbdbd"/>
<path class=b d="M319.8 685.4l-6.6-26.1M301.8 664l6.6 26.3"/>
</g>
<g opacity="0.999"><line x1="44.00" y1="462.60" x2="44.00" y2="235.20" stroke="#000" stroke-width="1.08"/>
<line x1="766.00" y1="606.50" x2="766.00" y2="379.10" stroke="#000" stroke-width="1.08"/>
<line x1="33.20" y1="462.60" x2="54.80" y2="462.60" stroke="#000" stroke-width="2.17"/>
<text transform="translate(29.7,467.5) scale(0.9,1)" text-anchor="end">-1</text>
<line x1="755.20" y1="606.50" x2="776.80" y2="606.50" stroke="#000" stroke-width="2.17"/>
<text transform="translate(780.3,611.4) scale(0.9,1)" text-anchor="start">-1</text>
<line x1="38.60" y1="451.23" x2="49.40" y2="451.23" stroke="#000" stroke-width="1.08"/>
<line x1="760.60" y1="595.13" x2="771.40" y2="595.13" stroke="#000" stroke-width="1.08"/>
<line x1="38.60" y1="439.86" x2="49.40" y2="439.86" stroke="#000" stroke-width="1.08"/>
<line x1="760.60" y1="583.76" x2="771.40" y2="583.76" stroke="#000" stroke-width="1.08"/>
<line x1="38.60" y1="428.49" x2="49.40" y2="428.49" stroke="#000" stroke-width="1.08"/>
<line x1="760.60" y1="572.39" x2="771.40" y2="572.39" stroke="#000" stroke-width="1.08"/>
<line x1="38.60" y1="417.12" x2="49.40" y2="417.12" stroke="#000" stroke-width="1.08"/>
<line x1="760.60" y1="561.02" x2="771.40" y2="561.02" stroke="#000" stroke-width="1.08"/>
<line x1="33.20" y1="405.75" x2="54.80" y2="405.75" stroke="#000" stroke-width="2.17"/>
<text transform="translate(29.7,410.6) scale(0.9,1)" text-anchor="end">-.5</text>
<line x1="755.20" y1="549.65" x2="776.80" y2="549.65" stroke="#000" stroke-width="2.17"/>
<text transform="translate(780.3,554.5) scale(0.9,1)" text-anchor="start">-.5</text>
<line x1="38.60" y1="394.38" x2="49.40" y2="394.38" stroke="#000" stroke-width="1.08"/>
<line x1="760.60" y1="538.28" x2="771.40" y2="538.28" stroke="#000" stroke-width="1.08"/>
<line x1="38.60" y1="383.01" x2="49.40" y2="383.01" stroke="#000" stroke-width="1.08"/>
<line x1="760.60" y1="526.91" x2="771.40" y2="526.91" stroke="#000" stroke-width="1.08"/>
<line x1="38.60" y1="371.64" x2="49.40" y2="371.64" stroke="#000" stroke-width="1.08"/>
<line x1="760.60" y1="515.54" x2="771.40" y2="515.54" stroke="#000" stroke-width="1.08"/>
<line x1="38.60" y1="360.27" x2="49.40" y2="360.27" stroke="#000" stroke-width="1.08"/>
<line x1="760.60" y1="504.17" x2="771.40" y2="504.17" stroke="#000" stroke-width="1.08"/>
<line x1="33.20" y1="348.90" x2="54.80" y2="348.90" stroke="#000" stroke-width="2.17"/>
<text transform="translate(29.7,353.8) scale(0.9,1)" text-anchor="end">0</text>
<line x1="755.20" y1="492.80" x2="776.80" y2="492.80" stroke="#000" stroke-width="2.17"/>
<text transform="translate(780.3,497.7) scale(0.9,1)" text-anchor="start">0</text>
<line x1="38.60" y1="337.53" x2="49.40" y2="337.53" stroke="#000" stroke-width="1.08"/>
<line x1="760.60" y1="481.43" x2="771.40" y2="481.43" stroke="#000" stroke-width="1.08"/>
<line x1="38.60" y1="326.16" x2="49.40" y2="326.16" stroke="#000" stroke-width="1.08"/>
<line x1="760.60" y1="470.06" x2="771.40" y2="470.06" stroke="#000" stroke-width="1.08"/>
<line x1="38.60" y1="314.79" x2="49.40" y2="314.79" stroke="#000" stroke-width="1.08"/>
<line x1="760.60" y1="458.69" x2="771.40" y2="458.69" stroke="#000" stroke-width="1.08"/>
<line x1="38.60" y1="303.42" x2="49.40" y2="303.42" stroke="#000" stroke-width="1.08"/>
<line x1="760.60" y1="447.32" x2="771.40" y2="447.32" stroke="#000" stroke-width="1.08"/>
<line x1="33.20" y1="292.05" x2="54.80" y2="292.05" stroke="#000" stroke-width="2.17"/>
<text transform="translate(29.7,296.9) scale(0.9,1)" text-anchor="end">.5</text>
<line x1="755.20" y1="435.95" x2="776.80" y2="435.95" stroke="#000" stroke-width="2.17"/>
<text transform="translate(780.3,440.8) scale(0.9,1)" text-anchor="start">.5</text>
<line x1="38.60" y1="280.68" x2="49.40" y2="280.68" stroke="#000" stroke-width="1.08"/>
<line x1="760.60" y1="424.58" x2="771.40" y2="424.58" stroke="#000" stroke-width="1.08"/>
<line x1="38.60" y1="269.31" x2="49.40" y2="269.31" stroke="#000" stroke-width="1.08"/>
<line x1="760.60" y1="413.21" x2="771.40" y2="413.21" stroke="#000" stroke-width="1.08"/>
<line x1="38.60" y1="257.94" x2="49.40" y2="257.94" stroke="#000" stroke-width="1.08"/>
<line x1="760.60" y1="401.84" x2="771.40" y2="401.84" stroke="#000" stroke-width="1.08"/>
<line x1="38.60" y1="246.57" x2="49.40" y2="246.57" stroke="#000" stroke-width="1.08"/>
<line x1="760.60" y1="390.47" x2="771.40" y2="390.47" stroke="#000" stroke-width="1.08"/>
<line x1="33.20" y1="235.20" x2="54.80" y2="235.20" stroke="#000" stroke-width="2.17"/>
<text transform="translate(29.7,240.1) scale(0.9,1)" text-anchor="end">1</text>
<line x1="755.20" y1="379.10" x2="776.80" y2="379.10" stroke="#000" stroke-width="2.17"/>
<text transform="translate(780.3,384.0) scale(0.9,1)" text-anchor="start">1</text></g>
</svg>
</body></html>
